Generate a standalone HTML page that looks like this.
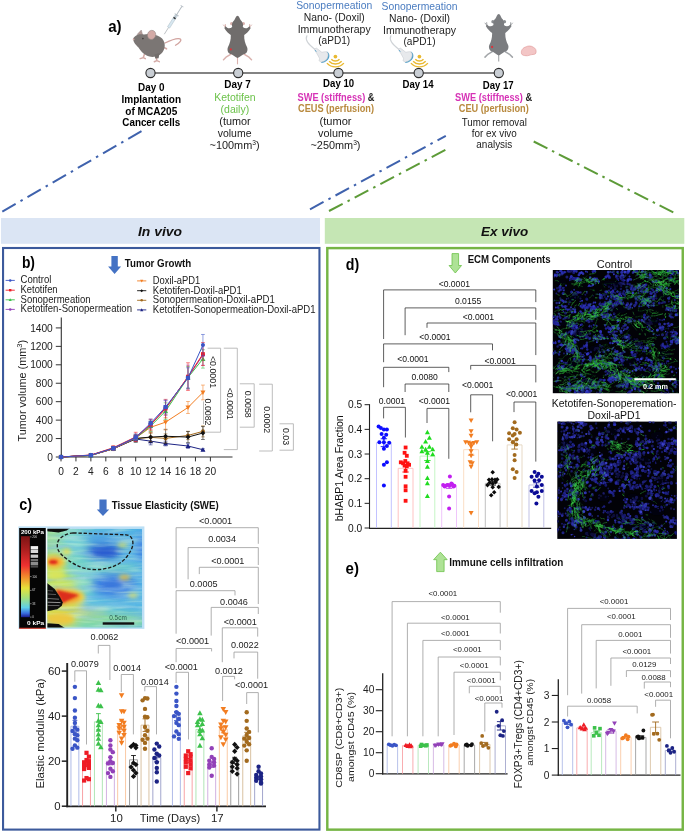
<!DOCTYPE html>
<html lang="en"><head><meta charset="utf-8"><title>Figure</title>
<style>html,body{margin:0;padding:0;background:#fff}svg{display:block;will-change:transform}text{font-family:"Liberation Sans",sans-serif}</style></head>
<body>
<svg width="685" height="832" viewBox="0 0 685 832" font-family='"Liberation Sans", sans-serif'>
<rect width="685" height="832" fill="#fff"/>
<text x="114.85" y="31.79" font-size="17" text-anchor="middle" fill="#000" font-weight="bold" textLength="13.4" lengthAdjust="spacingAndGlyphs" >a)</text>
<line x1="150.50" y1="73.00" x2="499.00" y2="73.00" stroke="#5a5a5a" stroke-width="1.6" />
<circle cx="150.5" cy="73" r="4.6" fill="#c9ced4" stroke="#2b2b2b" stroke-width="1.1"/>
<circle cx="238.2" cy="73" r="4.6" fill="#c9ced4" stroke="#2b2b2b" stroke-width="1.1"/>
<circle cx="338.4" cy="73" r="4.6" fill="#c9ced4" stroke="#2b2b2b" stroke-width="1.1"/>
<circle cx="418.7" cy="73" r="4.6" fill="#c9ced4" stroke="#2b2b2b" stroke-width="1.1"/>
<circle cx="498.8" cy="73" r="4.6" fill="#c9ced4" stroke="#2b2b2b" stroke-width="1.1"/>
<g id="mouse-side">
<path d="M165 43 C170 40.5 176 37.5 180 38.8 C182.3 40 179.5 43 175.5 45.2" fill="none" stroke="#d1a39f" stroke-width="1.3" stroke-linecap="round"/>
<path d="M144.5 54 L143.3 57.6 L140.2 58.6 M143.3 57.6 L145.3 58.7" fill="none" stroke="#d4aaa6" stroke-width="1.5" stroke-linecap="round"/>
<path d="M156.3 56 L156.8 60.6 L154.3 61.8 M156.8 60.6 L159.3 61.6" fill="none" stroke="#d4aaa6" stroke-width="1.5" stroke-linecap="round"/>
<path d="M163 47 L166.5 48.8" fill="none" stroke="#d4aaa6" stroke-width="1.6" stroke-linecap="round"/>
<path d="M137 34.5 L141.3 30 L142.8 35.5Z" fill="#b39a97" stroke="#8a7f7d" stroke-width="0.4"/>
<path d="M133.2 38.6 C134.5 35.2 139.5 33.2 144 34.6 C148 33.4 156 34.3 160.5 37.3 C165.3 40.5 166 47 163 51.5 C160.5 55.5 155 57.8 149.5 56.6 C145 55.6 141 52 138.5 47.6 C136.5 45.6 133 42.5 133.2 38.6Z" fill="#7b7674"/>
<path d="M154.5 54.5 L155.2 58.5 L158.6 58.3 L159.5 53Z" fill="#726d6b"/>
<ellipse cx="151.6" cy="34.9" rx="4.1" ry="4.6" transform="rotate(20 151.6 34.9)" fill="#d3aaa6" stroke="#8f8482" stroke-width="0.5"/>
<circle cx="142.9" cy="38.6" r="0.8" fill="#3c3837"/>
<circle cx="133.6" cy="39.3" r="0.9" fill="#d6a9a6"/>
<g transform="translate(164.3 34.2) rotate(-57.6)">
<line x1="0" y1="0" x2="8" y2="0" stroke="#8a9097" stroke-width="0.5"/>
<rect x="8" y="-1.25" width="14.5" height="2.5" fill="#d7e7f0" stroke="#9fb1bd" stroke-width="0.4"/>
<rect x="18.3" y="-1.25" width="1.6" height="2.5" fill="#33363a"/>
<rect x="22.5" y="-2.3" width="1" height="4.6" fill="#b9c1c8"/>
<line x1="20" y1="0" x2="33" y2="0" stroke="#b0b8bf" stroke-width="0.9"/>
<rect x="32.6" y="-1.6" width="0.9" height="3.2" fill="#b9c1c8"/>
</g></g>
<g>
<line x1="237.5" y1="56.7" x2="237.5" y2="64.3" stroke="#d9b1ad" stroke-width="1.1"/>
<path d="M231.0 54.2 L226.0 57.2 L223.5 59.7 M244.0 54.2 L249.0 57.2 L251.5 59.7" fill="none" stroke="#d9b1ad" stroke-width="1.5" stroke-linecap="round" stroke-linejoin="round"/>
<path d="M225.5 27.2 L223.5 25.0 M225.5 27.2 L225.3 24.5 M249.5 27.2 L251.5 25.0 M249.5 27.2 L249.7 24.5" fill="none" stroke="#d9b1ad" stroke-width="1" stroke-linecap="round"/>
<circle cx="231.6" cy="23.6" r="1.6" fill="#d9b1ad"/><circle cx="243.4" cy="23.6" r="1.6" fill="#d9b1ad"/>
<path d="M237.5 15.7 C239.1 16.0 239.7 18.7 240.8 20.3 C242.8 22.0 243.5 24.7 242.8 26.9 C245.0 29.0 247.5 28.7 249.5 26.3 L250.7 28.0 C249.0 31.2 246.3 33.7 244.2 35.0 C244.0 39.7 245.2 43.7 247.1 47.2 C248.3 50.7 246.5 54.0 243.5 54.3 C241.5 55.3 239.5 57.3 237.5 58.1 C235.5 57.3 233.5 55.3 231.5 54.3 C228.5 54.0 226.7 50.7 227.9 47.2 C229.8 43.7 231.0 39.7 230.8 35.0 C228.7 33.7 226.0 31.2 224.3 28.0 L225.5 26.3 C227.5 28.7 230.0 29.0 232.2 26.9 C231.5 24.7 232.2 22.0 234.2 20.3 C235.3 18.7 235.9 16.0 237.5 15.7Z" fill="#706d6c"/>
<circle cx="230.8" cy="49.4" r="1.15" fill="#d8343c"/>
</g>
<g>
<line x1="498.7" y1="54.2" x2="498.7" y2="61.6" stroke="#a3a6a9" stroke-width="1.1"/>
<path d="M492.3 51.7 L487.4 54.7 L485.0 57.1 M505.1 51.7 L510.0 54.7 L512.4 57.1" fill="none" stroke="#a3a6a9" stroke-width="1.5" stroke-linecap="round" stroke-linejoin="round"/>
<path d="M486.9 25.3 L485.0 23.1 M486.9 25.3 L486.7 22.6 M510.5 25.3 L512.4 23.1 M510.5 25.3 L510.7 22.6" fill="none" stroke="#a3a6a9" stroke-width="1" stroke-linecap="round"/>
<circle cx="492.9" cy="21.7" r="1.6" fill="#8b8e91"/><circle cx="504.5" cy="21.7" r="1.6" fill="#8b8e91"/>
<path d="M498.7 14.0 C500.3 14.3 500.9 16.9 501.9 18.5 C503.9 20.2 504.6 22.8 503.9 25.0 C506.1 27.0 508.5 26.7 510.5 24.4 L511.6 26.1 C510.0 29.2 507.3 31.6 505.3 32.9 C505.1 37.5 506.2 41.4 508.1 44.9 C509.3 48.3 507.5 51.5 504.6 51.8 C502.6 52.8 500.7 54.8 498.7 55.6 C496.7 54.8 494.8 52.8 492.8 51.8 C489.9 51.5 488.1 48.3 489.3 44.9 C491.2 41.4 492.3 37.5 492.1 32.9 C490.1 31.6 487.4 29.2 485.8 26.1 L486.9 24.4 C488.9 26.7 491.3 27.0 493.5 25.0 C492.8 22.8 493.5 20.2 495.5 18.5 C496.5 16.9 497.1 14.3 498.7 14.0Z" fill="#7b7d80"/>
<circle cx="492.1" cy="47.0" r="1.15" fill="#d8343c"/>
</g>
<path d="M521.6 53.8 C520.6 50.5 523 47.5 526 46.9 C528 45.6 531.5 45.8 533.2 47.2 C535.5 48 536.6 50.6 535.9 53 C535.4 54.6 533.5 54.3 531.8 54.6 C529.5 54.9 528.3 56 526 55.7 C524 55.5 522.2 55.4 521.6 53.8Z" fill="#f3c6c6" stroke="#e29c9c" stroke-width="0.7"/>
<g transform="translate(0 0)">
<path d="M306.9 35.8 C304.6 40 309 45 315 49.4" fill="none" stroke="#cfd3d7" stroke-width="1.2" stroke-linecap="round"/>
<path d="M327 51.6 C330.6 53.6 329.6 58.6 327.6 60 C325.6 61.8 323.4 63 321.4 63 L320.9 61.6 C324 60.6 327.4 57.6 327.6 54.8 C327.6 53.6 327 52.8 326.4 52.3Z" fill="#4e9fc9"/>
<path d="M314.4 49.2 L316.4 48.1 L321.9 52.3 C323.4 52 325.4 51.2 327 52 C328.6 53.6 328.4 56.4 327 58.8 C325.6 60.6 323.4 61.8 321.6 62 C320.2 61.9 319.2 61.3 319.1 60.4 C319.2 59.6 319.7 59 319.5 58.3 Z" fill="#e7e9ec" stroke="#c0c5ca" stroke-width="0.5"/>
<path d="M315.3 50.4 L316 51.4" stroke="#4e9fc9" stroke-width="0.9" fill="none" stroke-linecap="round"/>
<circle cx="335.4" cy="56.6" r="1.85" fill="#e9b931"/>
<path d="M339.49 59.18A5.5 5.5 0 0 1 331.31 59.18" fill="none" stroke="#e9b931" stroke-width="1.45"/>
<path d="M341.68 61.15A8.45 8.45 0 0 1 329.12 61.15" fill="none" stroke="#e9b931" stroke-width="1.45"/>
<path d="M343.87 63.13A11.4 11.4 0 0 1 326.93 63.13" fill="none" stroke="#e9b931" stroke-width="1.45"/>
</g>
<g transform="translate(84.0 0)">
<path d="M306.9 35.8 C304.6 40 309 45 315 49.4" fill="none" stroke="#cfd3d7" stroke-width="1.2" stroke-linecap="round"/>
<path d="M327 51.6 C330.6 53.6 329.6 58.6 327.6 60 C325.6 61.8 323.4 63 321.4 63 L320.9 61.6 C324 60.6 327.4 57.6 327.6 54.8 C327.6 53.6 327 52.8 326.4 52.3Z" fill="#4e9fc9"/>
<path d="M314.4 49.2 L316.4 48.1 L321.9 52.3 C323.4 52 325.4 51.2 327 52 C328.6 53.6 328.4 56.4 327 58.8 C325.6 60.6 323.4 61.8 321.6 62 C320.2 61.9 319.2 61.3 319.1 60.4 C319.2 59.6 319.7 59 319.5 58.3 Z" fill="#e7e9ec" stroke="#c0c5ca" stroke-width="0.5"/>
<path d="M315.3 50.4 L316 51.4" stroke="#4e9fc9" stroke-width="0.9" fill="none" stroke-linecap="round"/>
<circle cx="335.4" cy="56.6" r="1.85" fill="#e9b931"/>
<path d="M339.49 59.18A5.5 5.5 0 0 1 331.31 59.18" fill="none" stroke="#e9b931" stroke-width="1.45"/>
<path d="M341.68 61.15A8.45 8.45 0 0 1 329.12 61.15" fill="none" stroke="#e9b931" stroke-width="1.45"/>
<path d="M343.87 63.13A11.4 11.4 0 0 1 326.93 63.13" fill="none" stroke="#e9b931" stroke-width="1.45"/>
</g>
<text x="334.20" y="8.99" font-size="10.6" text-anchor="middle" fill="#4a7cc0" textLength="76" lengthAdjust="spacingAndGlyphs" >Sonopermeation</text>
<text x="334.20" y="20.79" font-size="10.6" text-anchor="middle" fill="#222" textLength="61" lengthAdjust="spacingAndGlyphs" >Nano- (Doxil)</text>
<text x="334.20" y="32.59" font-size="10.6" text-anchor="middle" fill="#222" textLength="73" lengthAdjust="spacingAndGlyphs" >Immunotherapy</text>
<text x="334.20" y="44.09" font-size="10.6" text-anchor="middle" fill="#222" textLength="32" lengthAdjust="spacingAndGlyphs" >(aPD1)</text>
<text x="419.50" y="9.99" font-size="10.6" text-anchor="middle" fill="#4a7cc0" textLength="76" lengthAdjust="spacingAndGlyphs" >Sonopermeation</text>
<text x="419.50" y="21.79" font-size="10.6" text-anchor="middle" fill="#222" textLength="61" lengthAdjust="spacingAndGlyphs" >Nano- (Doxil)</text>
<text x="419.50" y="33.59" font-size="10.6" text-anchor="middle" fill="#222" textLength="73" lengthAdjust="spacingAndGlyphs" >Immunotherapy</text>
<text x="419.50" y="45.09" font-size="10.6" text-anchor="middle" fill="#222" textLength="32" lengthAdjust="spacingAndGlyphs" >(aPD1)</text>
<text x="151.30" y="91.19" font-size="10.3" text-anchor="middle" fill="#000" font-weight="bold" textLength="26.5" lengthAdjust="spacingAndGlyphs" >Day 0</text>
<text x="151.30" y="102.89" font-size="10.3" text-anchor="middle" fill="#000" font-weight="bold" textLength="59.5" lengthAdjust="spacingAndGlyphs" >Implantation</text>
<text x="151.30" y="114.59" font-size="10.3" text-anchor="middle" fill="#000" font-weight="bold" textLength="52" lengthAdjust="spacingAndGlyphs" >of MCA205</text>
<text x="151.30" y="126.29" font-size="10.3" text-anchor="middle" fill="#000" font-weight="bold" textLength="58" lengthAdjust="spacingAndGlyphs" >Cancer cells</text>
<text x="237.60" y="88.29" font-size="10.3" text-anchor="middle" fill="#000" font-weight="bold" textLength="26.5" lengthAdjust="spacingAndGlyphs" >Day 7</text>
<text x="234.90" y="101.39" font-size="10.6" text-anchor="middle" fill="#6cc24a" textLength="41.5" lengthAdjust="spacingAndGlyphs" >Ketotifen</text>
<text x="234.90" y="112.79" font-size="10.6" text-anchor="middle" fill="#6cc24a" textLength="28.6" lengthAdjust="spacingAndGlyphs" >(daily)</text>
<text x="235.00" y="125.39" font-size="10.6" text-anchor="middle" fill="#222" textLength="31.4" lengthAdjust="spacingAndGlyphs" >(tumor</text>
<text x="234.60" y="137.09" font-size="10.6" text-anchor="middle" fill="#222" textLength="33.8" lengthAdjust="spacingAndGlyphs" >volume</text>
<text x="234.6" y="148.8" font-size="10.6" text-anchor="middle" fill="#222" textLength="50" lengthAdjust="spacingAndGlyphs">~100mm<tspan font-size="6.5" dy="-3.6">3</tspan><tspan dy="3.6">)</tspan></text>
<text x="338.60" y="87.49" font-size="10.3" text-anchor="middle" fill="#000" font-weight="bold" textLength="31" lengthAdjust="spacingAndGlyphs" >Day 10</text>
<text x="336" y="101.4" font-size="10.3" font-weight="bold" text-anchor="middle" textLength="77" lengthAdjust="spacingAndGlyphs"><tspan fill="#d633b6">SWE (stiffness)</tspan><tspan fill="#222"> &amp;</tspan></text>
<text x="336.00" y="112.29" font-size="10.3" text-anchor="middle" fill="#b98a3f" font-weight="bold" textLength="76" lengthAdjust="spacingAndGlyphs" >CEUS (perfusion)</text>
<text x="335.50" y="125.39" font-size="10.6" text-anchor="middle" fill="#222" textLength="32" lengthAdjust="spacingAndGlyphs" >(tumor</text>
<text x="335.50" y="136.99" font-size="10.6" text-anchor="middle" fill="#222" textLength="35" lengthAdjust="spacingAndGlyphs" >volume</text>
<text x="335.5" y="148.8" font-size="10.6" text-anchor="middle" fill="#222" textLength="50" lengthAdjust="spacingAndGlyphs">~250mm<tspan font-size="6.5" dy="-3.6">3</tspan><tspan dy="3.6">)</tspan></text>
<text x="418.00" y="87.89" font-size="10.3" text-anchor="middle" fill="#000" font-weight="bold" textLength="31" lengthAdjust="spacingAndGlyphs" >Day 14</text>
<text x="498.20" y="89.39" font-size="10.3" text-anchor="middle" fill="#000" font-weight="bold" textLength="31" lengthAdjust="spacingAndGlyphs" >Day 17</text>
<text x="493.6" y="101.2" font-size="10.3" font-weight="bold" text-anchor="middle" textLength="77" lengthAdjust="spacingAndGlyphs"><tspan fill="#d633b6">SWE (stiffness)</tspan><tspan fill="#222"> &amp;</tspan></text>
<text x="493.80" y="112.29" font-size="10.3" text-anchor="middle" fill="#b98a3f" font-weight="bold" textLength="70" lengthAdjust="spacingAndGlyphs" >CEU (perfusion)</text>
<text x="494.30" y="126.32" font-size="10.4" text-anchor="middle" fill="#222" textLength="65" lengthAdjust="spacingAndGlyphs" >Tumor removal</text>
<text x="494.30" y="137.42" font-size="10.4" text-anchor="middle" fill="#222" textLength="45" lengthAdjust="spacingAndGlyphs" >for ex vivo</text>
<text x="494.30" y="148.42" font-size="10.4" text-anchor="middle" fill="#222" textLength="36" lengthAdjust="spacingAndGlyphs" >analysis</text>
<line x1="2.30" y1="211.60" x2="141.50" y2="131.20" stroke="#3f62ad" stroke-width="2.0" stroke-dasharray="15.4 5.59 2.5 5.59"/>
<line x1="310.00" y1="209.30" x2="445.80" y2="135.80" stroke="#3f62ad" stroke-width="2.0" stroke-dasharray="15.4 5.55 2.5 5.55"/>
<line x1="329.00" y1="211.00" x2="446.40" y2="149.40" stroke="#5d9b38" stroke-width="2.0" stroke-dasharray="15.4 5.55 2.5 5.55"/>
<line x1="673.30" y1="212.40" x2="533.70" y2="141.50" stroke="#5d9b38" stroke-width="2.0" stroke-dasharray="15.4 5.17 2.5 5.17"/>
<rect x="1.00" y="218.00" width="319.00" height="25.80" fill="#dbe5f4" stroke="none" stroke-width="1" />
<rect x="324.80" y="218.00" width="359.50" height="25.80" fill="#c5e6b4" stroke="none" stroke-width="1" />
<text x="160.00" y="235.83" font-size="13.5" text-anchor="middle" fill="#111" font-weight="bold" font-style="italic" textLength="44" lengthAdjust="spacingAndGlyphs" >In vivo</text>
<text x="504.60" y="235.83" font-size="13.5" text-anchor="middle" fill="#111" font-weight="bold" font-style="italic" textLength="47" lengthAdjust="spacingAndGlyphs" >Ex vivo</text>
<rect x="3.05" y="248.00" width="316.40" height="581.60" fill="none" stroke="#3c5a9c" stroke-width="2.1" />
<rect x="327.30" y="248.10" width="355.45" height="581.55" fill="none" stroke="#76b545" stroke-width="2.45" />
<text x="28.45" y="267.69" font-size="17" text-anchor="middle" fill="#000" font-weight="bold" textLength="13.1" lengthAdjust="spacingAndGlyphs" >b)</text>
<path d="M111.40 256.00H117.80V266.50H121.10L114.60 274.00L108.10 266.50H111.40Z" fill="#4472c4" stroke="none" stroke-width="0.8"/>
<text x="124.80" y="267.18" font-size="10" text-anchor="start" fill="#111" font-weight="bold" textLength="66.4" lengthAdjust="spacingAndGlyphs" >Tumor Growth</text>
<line x1="5.60" y1="280.40" x2="14.80" y2="280.40" stroke="#3a55c6" stroke-width="0.9" />
<circle cx="10.20" cy="280.40" r="1.25" fill="#3a55c6"/>
<text x="20.60" y="283.49" font-size="10.3" text-anchor="start" fill="#222" textLength="30.8" lengthAdjust="spacingAndGlyphs" >Control</text>
<line x1="5.60" y1="290.20" x2="14.80" y2="290.20" stroke="#ee1c25" stroke-width="0.9" />
<rect x="9.01" y="289.01" width="2.38" height="2.38" fill="#ee1c25"/>
<text x="20.60" y="293.29" font-size="10.3" text-anchor="start" fill="#222" textLength="37" lengthAdjust="spacingAndGlyphs" >Ketotifen</text>
<line x1="5.60" y1="299.80" x2="14.80" y2="299.80" stroke="#3cc14b" stroke-width="0.9" />
<path d="M10.20 298.24L11.76 301.05H8.64Z" fill="#3cc14b"/>
<text x="20.60" y="302.89" font-size="10.3" text-anchor="start" fill="#222" textLength="70" lengthAdjust="spacingAndGlyphs" >Sonopermeation</text>
<line x1="5.60" y1="309.40" x2="14.80" y2="309.40" stroke="#9241b8" stroke-width="0.9" />
<circle cx="10.20" cy="309.40" r="1.25" fill="#9241b8"/>
<text x="20.60" y="312.49" font-size="10.3" text-anchor="start" fill="#222" textLength="111.4" lengthAdjust="spacingAndGlyphs" >Ketotifen-Sonopermeation</text>
<line x1="137.10" y1="280.90" x2="146.30" y2="280.90" stroke="#f27d21" stroke-width="0.9" />
<path d="M141.70 282.46L143.26 279.65H140.14Z" fill="#f27d21"/>
<text x="152.80" y="283.99" font-size="10.3" text-anchor="start" fill="#222" textLength="47.5" lengthAdjust="spacingAndGlyphs" >Doxil-aPD1</text>
<line x1="137.10" y1="290.70" x2="146.30" y2="290.70" stroke="#111111" stroke-width="0.9" />
<path d="M141.70 289.20L143.20 290.70L141.70 292.20L140.20 290.70Z" fill="#111111"/>
<text x="152.80" y="293.79" font-size="10.3" text-anchor="start" fill="#222" textLength="89" lengthAdjust="spacingAndGlyphs" >Ketotifen-Doxil-aPD1</text>
<line x1="137.10" y1="300.30" x2="146.30" y2="300.30" stroke="#a26a1e" stroke-width="0.9" />
<circle cx="141.70" cy="300.30" r="1.25" fill="#a26a1e"/>
<text x="152.80" y="303.39" font-size="10.3" text-anchor="start" fill="#222" textLength="122" lengthAdjust="spacingAndGlyphs" >Sonopermeation-Doxil-aPD1</text>
<line x1="137.10" y1="309.90" x2="146.30" y2="309.90" stroke="#1c2384" stroke-width="0.9" />
<path d="M141.70 308.34L143.26 311.15H140.14Z" fill="#1c2384"/>
<text x="152.80" y="312.99" font-size="10.3" text-anchor="start" fill="#222" textLength="162.8" lengthAdjust="spacingAndGlyphs" >Ketotifen-Sonopermeation-Doxil-aPD1</text>
<line x1="61.30" y1="317.50" x2="61.30" y2="457.60" stroke="#333" stroke-width="1.1" />
<line x1="60.80" y1="457.00" x2="232.50" y2="457.00" stroke="#333" stroke-width="1.1" />
<line x1="55.80" y1="457.00" x2="61.30" y2="457.00" stroke="#333" stroke-width="1.0" />
<text x="52.80" y="460.65" font-size="10.2" text-anchor="end" fill="#222" >0</text>
<line x1="55.80" y1="438.56" x2="61.30" y2="438.56" stroke="#333" stroke-width="1.0" />
<text x="52.80" y="442.21" font-size="10.2" text-anchor="end" fill="#222" >200</text>
<line x1="55.80" y1="420.12" x2="61.30" y2="420.12" stroke="#333" stroke-width="1.0" />
<text x="52.80" y="423.77" font-size="10.2" text-anchor="end" fill="#222" >400</text>
<line x1="55.80" y1="401.68" x2="61.30" y2="401.68" stroke="#333" stroke-width="1.0" />
<text x="52.80" y="405.33" font-size="10.2" text-anchor="end" fill="#222" >600</text>
<line x1="55.80" y1="383.24" x2="61.30" y2="383.24" stroke="#333" stroke-width="1.0" />
<text x="52.80" y="386.89" font-size="10.2" text-anchor="end" fill="#222" >800</text>
<line x1="55.80" y1="364.80" x2="61.30" y2="364.80" stroke="#333" stroke-width="1.0" />
<text x="52.80" y="368.45" font-size="10.2" text-anchor="end" fill="#222" >1000</text>
<line x1="55.80" y1="346.36" x2="61.30" y2="346.36" stroke="#333" stroke-width="1.0" />
<text x="52.80" y="350.01" font-size="10.2" text-anchor="end" fill="#222" >1200</text>
<line x1="55.80" y1="327.92" x2="61.30" y2="327.92" stroke="#333" stroke-width="1.0" />
<text x="52.80" y="331.57" font-size="10.2" text-anchor="end" fill="#222" >1400</text>
<line x1="61.00" y1="457.00" x2="61.00" y2="461.40" stroke="#333" stroke-width="1.0" />
<text x="61.00" y="475.45" font-size="10.2" text-anchor="middle" fill="#222" >0</text>
<line x1="75.94" y1="457.00" x2="75.94" y2="461.40" stroke="#333" stroke-width="1.0" />
<text x="75.94" y="475.45" font-size="10.2" text-anchor="middle" fill="#222" >2</text>
<line x1="90.88" y1="457.00" x2="90.88" y2="461.40" stroke="#333" stroke-width="1.0" />
<text x="90.88" y="475.45" font-size="10.2" text-anchor="middle" fill="#222" >4</text>
<line x1="105.82" y1="457.00" x2="105.82" y2="461.40" stroke="#333" stroke-width="1.0" />
<text x="105.82" y="475.45" font-size="10.2" text-anchor="middle" fill="#222" >6</text>
<line x1="120.76" y1="457.00" x2="120.76" y2="461.40" stroke="#333" stroke-width="1.0" />
<text x="120.76" y="475.45" font-size="10.2" text-anchor="middle" fill="#222" >8</text>
<line x1="135.70" y1="457.00" x2="135.70" y2="461.40" stroke="#333" stroke-width="1.0" />
<text x="135.70" y="475.45" font-size="10.2" text-anchor="middle" fill="#222" >10</text>
<line x1="150.64" y1="457.00" x2="150.64" y2="461.40" stroke="#333" stroke-width="1.0" />
<text x="150.64" y="475.45" font-size="10.2" text-anchor="middle" fill="#222" >12</text>
<line x1="165.58" y1="457.00" x2="165.58" y2="461.40" stroke="#333" stroke-width="1.0" />
<text x="165.58" y="475.45" font-size="10.2" text-anchor="middle" fill="#222" >14</text>
<line x1="180.52" y1="457.00" x2="180.52" y2="461.40" stroke="#333" stroke-width="1.0" />
<text x="180.52" y="475.45" font-size="10.2" text-anchor="middle" fill="#222" >16</text>
<line x1="195.46" y1="457.00" x2="195.46" y2="461.40" stroke="#333" stroke-width="1.0" />
<text x="195.46" y="475.45" font-size="10.2" text-anchor="middle" fill="#222" >18</text>
<line x1="210.40" y1="457.00" x2="210.40" y2="461.40" stroke="#333" stroke-width="1.0" />
<text x="210.40" y="475.45" font-size="10.2" text-anchor="middle" fill="#222" >20</text>
<text transform="translate(21.8 390.7) rotate(-90)" x="0" y="3.7" font-size="10.8" text-anchor="middle" fill="#222" textLength="101.5" lengthAdjust="spacingAndGlyphs">Tumor volume (mm<tspan font-size="7.5" dy="-3.5">3</tspan><tspan dy="3.5">)</tspan></text>
<path d="M90.88 454.79V455.89M88.98 454.79H92.78M88.98 455.89H92.78" fill="none" stroke="#1c2384" stroke-width="0.55"/>
<path d="M113.29 447.04V450.36M111.39 447.04H115.19M111.39 450.36H115.19" fill="none" stroke="#1c2384" stroke-width="0.55"/>
<path d="M135.70 435.79V442.25M133.80 435.79H137.60M133.80 442.25H137.60" fill="none" stroke="#1c2384" stroke-width="0.55"/>
<path d="M150.64 437.45V444.83M148.74 437.45H152.54M148.74 444.83H152.54" fill="none" stroke="#1c2384" stroke-width="0.55"/>
<path d="M165.58 441.23V445.84M163.68 441.23H167.48M163.68 445.84H167.48" fill="none" stroke="#1c2384" stroke-width="0.55"/>
<path d="M187.99 443.72V448.33M186.09 443.72H189.89M186.09 448.33H189.89" fill="none" stroke="#1c2384" stroke-width="0.55"/>
<path d="M202.93 448.79V450.64M201.03 448.79H204.83M201.03 450.64H204.83" fill="none" stroke="#1c2384" stroke-width="0.55"/>
<polyline points="61.00,457.00 90.88,455.34 113.29,448.70 135.70,439.02 150.64,441.14 165.58,443.54 187.99,446.03 202.93,449.72" fill="none" stroke="#1c2384" stroke-width="1.0"/>
<path d="M61.00 454.50L63.50 459.00H58.50Z" fill="#1c2384"/>
<path d="M90.88 452.84L93.38 457.34H88.38Z" fill="#1c2384"/>
<path d="M113.29 446.20L115.79 450.70H110.79Z" fill="#1c2384"/>
<path d="M135.70 436.52L138.20 441.02H133.20Z" fill="#1c2384"/>
<path d="M150.64 438.64L153.14 443.14H148.14Z" fill="#1c2384"/>
<path d="M165.58 441.04L168.08 445.54H163.08Z" fill="#1c2384"/>
<path d="M187.99 443.53L190.49 448.03H185.49Z" fill="#1c2384"/>
<path d="M202.93 447.22L205.43 451.72H200.43Z" fill="#1c2384"/>
<path d="M90.88 454.79V455.89M88.98 454.79H92.78M88.98 455.89H92.78" fill="none" stroke="#a26a1e" stroke-width="0.55"/>
<path d="M113.29 447.23V450.55M111.39 447.23H115.19M111.39 450.55H115.19" fill="none" stroke="#a26a1e" stroke-width="0.55"/>
<path d="M135.70 435.52V441.97M133.80 435.52H137.60M133.80 441.97H137.60" fill="none" stroke="#a26a1e" stroke-width="0.55"/>
<path d="M150.64 433.21V441.51M148.74 433.21H152.54M148.74 441.51H152.54" fill="none" stroke="#a26a1e" stroke-width="0.55"/>
<path d="M165.58 433.77V442.99M163.68 433.77H167.48M163.68 442.99H167.48" fill="none" stroke="#a26a1e" stroke-width="0.55"/>
<path d="M187.99 431.28V439.57M186.09 431.28H189.89M186.09 439.57H189.89" fill="none" stroke="#a26a1e" stroke-width="0.55"/>
<path d="M202.93 425.84V436.90M201.03 425.84H204.83M201.03 436.90H204.83" fill="none" stroke="#a26a1e" stroke-width="0.55"/>
<polyline points="61.00,457.00 90.88,455.34 113.29,448.89 135.70,438.74 150.64,437.36 165.58,438.38 187.99,435.43 202.93,431.37" fill="none" stroke="#a26a1e" stroke-width="1.0"/>
<circle cx="61.00" cy="457.00" r="2.00" fill="#a26a1e"/>
<circle cx="90.88" cy="455.34" r="2.00" fill="#a26a1e"/>
<circle cx="113.29" cy="448.89" r="2.00" fill="#a26a1e"/>
<circle cx="135.70" cy="438.74" r="2.00" fill="#a26a1e"/>
<circle cx="150.64" cy="437.36" r="2.00" fill="#a26a1e"/>
<circle cx="165.58" cy="438.38" r="2.00" fill="#a26a1e"/>
<circle cx="187.99" cy="435.43" r="2.00" fill="#a26a1e"/>
<circle cx="202.93" cy="431.37" r="2.00" fill="#a26a1e"/>
<path d="M90.88 454.79V455.89M88.98 454.79H92.78M88.98 455.89H92.78" fill="none" stroke="#111111" stroke-width="0.55"/>
<path d="M113.29 447.04V450.36M111.39 447.04H115.19M111.39 450.36H115.19" fill="none" stroke="#111111" stroke-width="0.55"/>
<path d="M135.70 435.15V441.60M133.80 435.15H137.60M133.80 441.60H137.60" fill="none" stroke="#111111" stroke-width="0.55"/>
<path d="M150.64 432.01V442.16M148.74 432.01H152.54M148.74 442.16H152.54" fill="none" stroke="#111111" stroke-width="0.55"/>
<path d="M165.58 429.34V443.17M163.68 429.34H167.48M163.68 443.17H167.48" fill="none" stroke="#111111" stroke-width="0.55"/>
<path d="M187.99 431.55V442.62M186.09 431.55H189.89M186.09 442.62H189.89" fill="none" stroke="#111111" stroke-width="0.55"/>
<path d="M202.93 426.57V439.48M201.03 426.57H204.83M201.03 439.48H204.83" fill="none" stroke="#111111" stroke-width="0.55"/>
<polyline points="61.00,457.00 90.88,455.34 113.29,448.70 135.70,438.38 150.64,437.08 165.58,436.25 187.99,437.08 202.93,433.03" fill="none" stroke="#111111" stroke-width="1.0"/>
<path d="M61.00 454.60L63.40 457.00L61.00 459.40L58.60 457.00Z" fill="#111111"/>
<path d="M90.88 452.94L93.28 455.34L90.88 457.74L88.48 455.34Z" fill="#111111"/>
<path d="M113.29 446.30L115.69 448.70L113.29 451.10L110.89 448.70Z" fill="#111111"/>
<path d="M135.70 435.98L138.10 438.38L135.70 440.78L133.30 438.38Z" fill="#111111"/>
<path d="M150.64 434.68L153.04 437.08L150.64 439.48L148.24 437.08Z" fill="#111111"/>
<path d="M165.58 433.86L167.98 436.25L165.58 438.65L163.18 436.25Z" fill="#111111"/>
<path d="M187.99 434.68L190.39 437.08L187.99 439.48L185.59 437.08Z" fill="#111111"/>
<path d="M202.93 430.63L205.33 433.03L202.93 435.43L200.53 433.03Z" fill="#111111"/>
<path d="M90.88 454.79V455.89M88.98 454.79H92.78M88.98 455.89H92.78" fill="none" stroke="#f27d21" stroke-width="0.55"/>
<path d="M113.29 447.04V450.36M111.39 447.04H115.19M111.39 450.36H115.19" fill="none" stroke="#f27d21" stroke-width="0.55"/>
<path d="M135.70 434.69V441.14M133.80 434.69H137.60M133.80 441.14H137.60" fill="none" stroke="#f27d21" stroke-width="0.55"/>
<path d="M150.64 421.78V432.84M148.74 421.78H152.54M148.74 432.84H152.54" fill="none" stroke="#f27d21" stroke-width="0.55"/>
<path d="M165.58 414.31V429.99M163.68 414.31H167.48M163.68 429.99H167.48" fill="none" stroke="#f27d21" stroke-width="0.55"/>
<path d="M187.99 401.50V413.48M186.09 401.50H189.89M186.09 413.48H189.89" fill="none" stroke="#f27d21" stroke-width="0.55"/>
<path d="M202.93 385.08V399.84M201.03 385.08H204.83M201.03 399.84H204.83" fill="none" stroke="#f27d21" stroke-width="0.55"/>
<polyline points="61.00,457.00 90.88,455.34 113.29,448.70 135.70,437.91 150.64,427.31 165.58,422.15 187.99,407.49 202.93,392.46" fill="none" stroke="#f27d21" stroke-width="1.0"/>
<path d="M61.00 459.50L63.50 455.00H58.50Z" fill="#f27d21"/>
<path d="M90.88 457.84L93.38 453.34H88.38Z" fill="#f27d21"/>
<path d="M113.29 451.20L115.79 446.70H110.79Z" fill="#f27d21"/>
<path d="M135.70 440.41L138.20 435.91H133.20Z" fill="#f27d21"/>
<path d="M150.64 429.81L153.14 425.31H148.14Z" fill="#f27d21"/>
<path d="M165.58 424.65L168.08 420.15H163.08Z" fill="#f27d21"/>
<path d="M187.99 409.99L190.49 405.49H185.49Z" fill="#f27d21"/>
<path d="M202.93 394.96L205.43 390.46H200.43Z" fill="#f27d21"/>
<path d="M90.88 454.79V455.89M88.98 454.79H92.78M88.98 455.89H92.78" fill="none" stroke="#3cc14b" stroke-width="0.55"/>
<path d="M113.29 446.40V450.08M111.39 446.40H115.19M111.39 450.08H115.19" fill="none" stroke="#3cc14b" stroke-width="0.55"/>
<path d="M135.70 434.41V441.79M133.80 434.41H137.60M133.80 441.79H137.60" fill="none" stroke="#3cc14b" stroke-width="0.55"/>
<path d="M150.64 421.04V431.18M148.74 421.04H152.54M148.74 431.18H152.54" fill="none" stroke="#3cc14b" stroke-width="0.55"/>
<path d="M165.58 402.79V419.38M163.68 402.79H167.48M163.68 419.38H167.48" fill="none" stroke="#3cc14b" stroke-width="0.55"/>
<path d="M187.99 366.46V388.59M186.09 366.46H189.89M186.09 388.59H189.89" fill="none" stroke="#3cc14b" stroke-width="0.55"/>
<path d="M202.93 349.68V368.12M201.03 349.68H204.83M201.03 368.12H204.83" fill="none" stroke="#3cc14b" stroke-width="0.55"/>
<polyline points="61.00,457.00 90.88,455.34 113.29,448.24 135.70,438.10 150.64,426.11 165.58,411.08 187.99,377.52 202.93,358.90" fill="none" stroke="#3cc14b" stroke-width="1.0"/>
<path d="M61.00 454.50L63.50 459.00H58.50Z" fill="#3cc14b"/>
<path d="M90.88 452.84L93.38 457.34H88.38Z" fill="#3cc14b"/>
<path d="M113.29 445.74L115.79 450.24H110.79Z" fill="#3cc14b"/>
<path d="M135.70 435.60L138.20 440.10H133.20Z" fill="#3cc14b"/>
<path d="M150.64 423.61L153.14 428.11H148.14Z" fill="#3cc14b"/>
<path d="M165.58 408.58L168.08 413.08H163.08Z" fill="#3cc14b"/>
<path d="M187.99 375.02L190.49 379.52H185.49Z" fill="#3cc14b"/>
<path d="M202.93 356.40L205.43 360.90H200.43Z" fill="#3cc14b"/>
<path d="M90.88 454.60V455.71M88.98 454.60H92.78M88.98 455.71H92.78" fill="none" stroke="#9241b8" stroke-width="0.55"/>
<path d="M113.29 446.86V450.18M111.39 446.86H115.19M111.39 450.18H115.19" fill="none" stroke="#9241b8" stroke-width="0.55"/>
<path d="M135.70 434.23V441.60M133.80 434.23H137.60M133.80 441.60H137.60" fill="none" stroke="#9241b8" stroke-width="0.55"/>
<path d="M150.64 419.94V429.16M148.74 419.94H152.54M148.74 429.16H152.54" fill="none" stroke="#9241b8" stroke-width="0.55"/>
<path d="M165.58 400.76V415.51M163.68 400.76H167.48M163.68 415.51H167.48" fill="none" stroke="#9241b8" stroke-width="0.55"/>
<path d="M187.99 365.17V389.14M186.09 365.17H189.89M186.09 389.14H189.89" fill="none" stroke="#9241b8" stroke-width="0.55"/>
<path d="M202.93 344.98V365.26M201.03 344.98H204.83M201.03 365.26H204.83" fill="none" stroke="#9241b8" stroke-width="0.55"/>
<polyline points="61.00,457.00 90.88,455.16 113.29,448.52 135.70,437.91 150.64,424.55 165.58,408.13 187.99,377.15 202.93,355.12" fill="none" stroke="#9241b8" stroke-width="1.0"/>
<circle cx="61.00" cy="457.00" r="2.00" fill="#9241b8"/>
<circle cx="90.88" cy="455.16" r="2.00" fill="#9241b8"/>
<circle cx="113.29" cy="448.52" r="2.00" fill="#9241b8"/>
<circle cx="135.70" cy="437.91" r="2.00" fill="#9241b8"/>
<circle cx="150.64" cy="424.55" r="2.00" fill="#9241b8"/>
<circle cx="165.58" cy="408.13" r="2.00" fill="#9241b8"/>
<circle cx="187.99" cy="377.15" r="2.00" fill="#9241b8"/>
<circle cx="202.93" cy="355.12" r="2.00" fill="#9241b8"/>
<path d="M90.88 454.42V455.52M88.98 454.42H92.78M88.98 455.52H92.78" fill="none" stroke="#ee1c25" stroke-width="0.55"/>
<path d="M113.29 445.75V449.81M111.39 445.75H115.19M111.39 449.81H115.19" fill="none" stroke="#ee1c25" stroke-width="0.55"/>
<path d="M135.70 432.29V441.51M133.80 432.29H137.60M133.80 441.51H137.60" fill="none" stroke="#ee1c25" stroke-width="0.55"/>
<path d="M150.64 419.20V430.26M148.74 419.20H152.54M148.74 430.26H152.54" fill="none" stroke="#ee1c25" stroke-width="0.55"/>
<path d="M165.58 399.38V417.82M163.68 399.38H167.48M163.68 417.82H167.48" fill="none" stroke="#ee1c25" stroke-width="0.55"/>
<path d="M187.99 362.77V390.43M186.09 362.77H189.89M186.09 390.43H189.89" fill="none" stroke="#ee1c25" stroke-width="0.55"/>
<path d="M202.93 342.49V365.54M201.03 342.49H204.83M201.03 365.54H204.83" fill="none" stroke="#ee1c25" stroke-width="0.55"/>
<polyline points="61.00,457.00 90.88,454.97 113.29,447.78 135.70,436.90 150.64,424.73 165.58,408.60 187.99,376.60 202.93,354.01" fill="none" stroke="#ee1c25" stroke-width="1.0"/>
<rect x="59.10" y="455.10" width="3.80" height="3.80" fill="#ee1c25"/>
<rect x="88.98" y="453.07" width="3.80" height="3.80" fill="#ee1c25"/>
<rect x="111.39" y="445.88" width="3.80" height="3.80" fill="#ee1c25"/>
<rect x="133.80" y="435.00" width="3.80" height="3.80" fill="#ee1c25"/>
<rect x="148.74" y="422.83" width="3.80" height="3.80" fill="#ee1c25"/>
<rect x="163.68" y="406.70" width="3.80" height="3.80" fill="#ee1c25"/>
<rect x="186.09" y="374.70" width="3.80" height="3.80" fill="#ee1c25"/>
<rect x="201.03" y="352.11" width="3.80" height="3.80" fill="#ee1c25"/>
<path d="M90.88 454.60V455.71M88.98 454.60H92.78M88.98 455.71H92.78" fill="none" stroke="#3a55c6" stroke-width="0.55"/>
<path d="M113.29 446.58V449.90M111.39 446.58H115.19M111.39 449.90H115.19" fill="none" stroke="#3a55c6" stroke-width="0.55"/>
<path d="M135.70 434.13V440.59M133.80 434.13H137.60M133.80 440.59H137.60" fill="none" stroke="#3a55c6" stroke-width="0.55"/>
<path d="M150.64 419.11V427.40M148.74 419.11H152.54M148.74 427.40H152.54" fill="none" stroke="#3a55c6" stroke-width="0.55"/>
<path d="M165.58 400.11V413.94M163.68 400.11H167.48M163.68 413.94H167.48" fill="none" stroke="#3a55c6" stroke-width="0.55"/>
<path d="M187.99 367.75V388.03M186.09 367.75H189.89M186.09 388.03H189.89" fill="none" stroke="#3a55c6" stroke-width="0.55"/>
<path d="M202.93 334.47V355.67M201.03 334.47H204.83M201.03 355.67H204.83" fill="none" stroke="#3a55c6" stroke-width="0.55"/>
<polyline points="61.00,457.00 90.88,455.16 113.29,448.24 135.70,437.36 150.64,423.25 165.58,407.03 187.99,377.89 202.93,345.07" fill="none" stroke="#3a55c6" stroke-width="1.0"/>
<circle cx="61.00" cy="457.00" r="2.00" fill="#3a55c6"/>
<circle cx="90.88" cy="455.16" r="2.00" fill="#3a55c6"/>
<circle cx="113.29" cy="448.24" r="2.00" fill="#3a55c6"/>
<circle cx="135.70" cy="437.36" r="2.00" fill="#3a55c6"/>
<circle cx="150.64" cy="423.25" r="2.00" fill="#3a55c6"/>
<circle cx="165.58" cy="407.03" r="2.00" fill="#3a55c6"/>
<circle cx="187.99" cy="377.89" r="2.00" fill="#3a55c6"/>
<circle cx="202.93" cy="345.07" r="2.00" fill="#3a55c6"/>
<rect x="58.91" y="454.91" width="4.18" height="4.18" fill="#3a55c6"/>
<rect x="88.79" y="453.07" width="4.18" height="4.18" fill="#3a55c6"/>
<rect x="111.20" y="446.15" width="4.18" height="4.18" fill="#3a55c6"/>
<rect x="133.61" y="435.27" width="4.18" height="4.18" fill="#3a55c6"/>
<rect x="148.55" y="421.16" width="4.18" height="4.18" fill="#3a55c6"/>
<rect x="163.49" y="404.94" width="4.18" height="4.18" fill="#3a55c6"/>
<rect x="185.90" y="375.80" width="4.18" height="4.18" fill="#3a55c6"/>
<path d="M207.6 348.2H220.6V432.2H205" fill="none" stroke="#b5b5b5" stroke-width="0.9"/>
<line x1="203.50" y1="401.40" x2="203.50" y2="424.00" stroke="#b5b5b5" stroke-width="0.9" />
<path d="M223.8 348.2H237.3V449.6H223.8" fill="none" stroke="#b5b5b5" stroke-width="0.9"/>
<path d="M239.8 383.8H254.2V427.2H239.8" fill="none" stroke="#b5b5b5" stroke-width="0.9"/>
<path d="M259.2 384.2H272.3V451H259.2" fill="none" stroke="#b5b5b5" stroke-width="0.9"/>
<path d="M279.5 423.8H293.4V450.2H279.5" fill="none" stroke="#b5b5b5" stroke-width="0.9"/>
<text transform="translate(213.30 372.00) rotate(90)" x="0" y="3.15" font-size="8.8" text-anchor="middle" fill="#222" >&lt;0.0001</text>
<text transform="translate(208.40 412.00) rotate(90)" x="0" y="3.15" font-size="8.8" text-anchor="middle" fill="#222" >0.0082</text>
<text transform="translate(230.60 403.70) rotate(90)" x="0" y="3.15" font-size="8.8" text-anchor="middle" fill="#222" >&lt;0.0001</text>
<text transform="translate(248.50 404.30) rotate(90)" x="0" y="3.15" font-size="8.8" text-anchor="middle" fill="#222" >0.0058</text>
<text transform="translate(267.10 419.60) rotate(90)" x="0" y="3.15" font-size="8.8" text-anchor="middle" fill="#222" >0.0002</text>
<text transform="translate(286.50 436.60) rotate(90)" x="0" y="3.15" font-size="8.8" text-anchor="middle" fill="#222" >0.03</text>
<text x="25.75" y="509.79" font-size="17" text-anchor="middle" fill="#000" font-weight="bold" textLength="12.9" lengthAdjust="spacingAndGlyphs" >c)</text>
<path d="M99.40 499.40H106.60V509.50H109.20L103.00 516.00L96.80 509.50H99.40Z" fill="#4472c4" stroke="none" stroke-width="0.8"/>
<text x="111.70" y="508.98" font-size="10" text-anchor="start" fill="#111" font-weight="bold" textLength="107" lengthAdjust="spacingAndGlyphs" >Tissue Elasticity (SWE)</text>
<defs><filter id="bl4" x="-30%" y="-30%" width="160%" height="160%"><feGaussianBlur stdDeviation="4"/></filter><filter id="bl2" x="-30%" y="-30%" width="160%" height="160%"><feGaussianBlur stdDeviation="1.9"/></filter><filter id="bl1" x="-30%" y="-30%" width="160%" height="160%"><feGaussianBlur stdDeviation="0.9"/></filter><filter id="bl05" x="-10%" y="-10%" width="120%" height="120%"><feGaussianBlur stdDeviation="0.45"/></filter><linearGradient id="swebase" x1="0" x2="1" y1="0" y2="0"><stop offset="0" stop-color="#9bdc96"/><stop offset="0.25" stop-color="#78d6c0"/><stop offset="0.55" stop-color="#5cc4de"/><stop offset="1" stop-color="#4daee6"/></linearGradient><linearGradient id="cbar" x1="0" x2="0" y1="0" y2="1"><stop offset="0" stop-color="#7c1414"/><stop offset="0.18" stop-color="#b02020"/><stop offset="0.36" stop-color="#ee3030"/><stop offset="0.5" stop-color="#f28a2c"/><stop offset="0.64" stop-color="#e6e23a"/><stop offset="0.76" stop-color="#a5e07a"/><stop offset="0.88" stop-color="#5fd0e8"/><stop offset="0.95" stop-color="#3a6fe0"/><stop offset="1" stop-color="#1a1a90"/></linearGradient><clipPath id="sweclip"><rect x="47.4" y="528.8" width="94.6" height="98.8"/></clipPath><filter id="swen1" x="0" y="0" width="100%" height="100%"><feTurbulence type="fractalNoise" baseFrequency="0.035 0.3" numOctaves="2" seed="4" result="n"/><feColorMatrix in="n" type="matrix" values="0 0 0 0 0.70  0 0 0 0 0.93  0 0 0 0 0.72  2.6 0 0 0 -1.05"/></filter><filter id="swen2" x="0" y="0" width="100%" height="100%"><feTurbulence type="fractalNoise" baseFrequency="0.03 0.22" numOctaves="2" seed="9" result="n"/><feColorMatrix in="n" type="matrix" values="0 0 0 0 0.20  0 0 0 0 0.46  0 0 0 0 0.86  0 2.4 0 0 -1.0"/></filter></defs>
<rect x="18.40" y="526.40" width="126.00" height="102.50" fill="#bcdff5" stroke="none" stroke-width="1" />
<rect x="19.20" y="528.00" width="26.60" height="100.20" fill="#050505" stroke="none" stroke-width="1" />
<rect x="45.90" y="527.60" width="1.40" height="100.90" fill="#f4f8fb" stroke="none" stroke-width="1" />
<line x1="19.20" y1="628.30" x2="45.80" y2="628.30" stroke="#d33a2c" stroke-width="1.1" />
<rect x="21.00" y="536.20" width="8.80" height="81.00" fill="url(#cbar)" stroke="none" stroke-width="1" />
<rect x="30.70" y="546.10" width="7.40" height="3.40" fill="#f2f2f2" stroke="none" stroke-width="1" filter="url(#bl05)"/>
<rect x="30.70" y="549.80" width="7.40" height="3.20" fill="#d8d8d8" stroke="none" stroke-width="1" filter="url(#bl05)"/>
<rect x="30.70" y="554.60" width="7.40" height="3.20" fill="#c9c9c9" stroke="none" stroke-width="1" filter="url(#bl05)"/>
<rect x="30.70" y="559.00" width="7.40" height="2.20" fill="#6e6e6e" stroke="none" stroke-width="1" filter="url(#bl05)"/>
<rect x="30.70" y="561.80" width="7.40" height="3.60" fill="#8c8c8c" stroke="none" stroke-width="1" filter="url(#bl05)"/>
<rect x="30.70" y="566.00" width="7.40" height="1.60" fill="#4a4a4a" stroke="none" stroke-width="1" filter="url(#bl05)"/>
<text x="32.40" y="533.63" font-size="5.4" text-anchor="middle" fill="#fff" font-weight="bold" textLength="23" lengthAdjust="spacingAndGlyphs" >200 kPa</text>
<text x="35.60" y="624.73" font-size="5.4" text-anchor="middle" fill="#fff" font-weight="bold" textLength="17" lengthAdjust="spacingAndGlyphs" >0 kPa</text>
<line x1="30.00" y1="536.90" x2="31.60" y2="536.90" stroke="#ddd" stroke-width="0.5" />
<text x="32.20" y="537.94" font-size="2.9" text-anchor="start" fill="#ddd" >200</text>
<line x1="30.00" y1="576.60" x2="31.60" y2="576.60" stroke="#ddd" stroke-width="0.5" />
<text x="32.20" y="577.64" font-size="2.9" text-anchor="start" fill="#ddd" >100</text>
<line x1="30.00" y1="590.40" x2="31.60" y2="590.40" stroke="#ddd" stroke-width="0.5" />
<text x="32.20" y="591.44" font-size="2.9" text-anchor="start" fill="#ddd" >67</text>
<line x1="30.00" y1="603.70" x2="31.60" y2="603.70" stroke="#ddd" stroke-width="0.5" />
<text x="32.20" y="604.74" font-size="2.9" text-anchor="start" fill="#ddd" >33</text>
<line x1="30.00" y1="617.10" x2="31.60" y2="617.10" stroke="#ddd" stroke-width="0.5" />
<text x="32.20" y="618.14" font-size="2.9" text-anchor="start" fill="#ddd" >0</text>
<g clip-path="url(#sweclip)">
<rect x="47.40" y="528.80" width="94.60" height="98.80" fill="url(#swebase)" stroke="none" stroke-width="1" />
<g filter="url(#bl4)">
<ellipse cx="54" cy="568" rx="11" ry="14" fill="#c8e258"/>
<ellipse cx="62" cy="584" rx="18" ry="9" fill="#c4e25c"/>
<ellipse cx="70" cy="614" rx="36" ry="13" fill="#d6dc50"/>
<ellipse cx="112" cy="621" rx="40" ry="8" fill="#86daa0"/>
<ellipse cx="88" cy="584" rx="14" ry="6" fill="#8cdcbc"/>
<ellipse cx="104" cy="551.5" rx="19" ry="8" fill="#2c60d2"/>
<ellipse cx="114" cy="585" rx="23" ry="13" fill="#3c80e2"/>
<ellipse cx="143" cy="548" rx="7" ry="13" fill="#3b7fe2"/>
<ellipse cx="100" cy="537" rx="26" ry="5" fill="#4ea2e4"/>
<ellipse cx="139" cy="600" rx="8" ry="14" fill="#58b8e4"/>
<ellipse cx="74" cy="542" rx="12" ry="8" fill="#74d2d6"/>
<ellipse cx="108" cy="568" rx="34" ry="3.2" fill="#7fdcbc"/>
<ellipse cx="96" cy="604" rx="16" ry="7" fill="#5cc0e2"/>
<ellipse cx="52" cy="540" rx="6" ry="8" fill="#9cdc9c"/>
</g>
<rect x="47.4" y="528.8" width="94.6" height="98.8" filter="url(#swen1)" opacity="0.42"/>
<rect x="47.4" y="528.8" width="94.6" height="98.8" filter="url(#swen2)" opacity="0.42"/>
<g filter="url(#bl2)">
<ellipse cx="105" cy="552.5" rx="12" ry="3.6" fill="#2a5cd0"/>
<ellipse cx="113" cy="584.5" rx="10" ry="3.6" fill="#3874dc"/>
<ellipse cx="54" cy="562" rx="11" ry="6.5" fill="#f0d040"/>
<ellipse cx="54" cy="562" rx="7.5" ry="4.2" fill="#f59a2e"/>
<ellipse cx="68" cy="597" rx="17" ry="8.5" fill="#ecd845"/>
<ellipse cx="67" cy="597" rx="13" ry="6" fill="#f59a2e"/>
<ellipse cx="66.6" cy="551.4" rx="4" ry="3" fill="#e6de52"/>
<ellipse cx="124.4" cy="577.5" rx="6" ry="2.4" fill="#e9e04e"/>
<ellipse cx="133" cy="595.5" rx="4.6" ry="1.8" fill="#dfe056"/>
<ellipse cx="122.4" cy="545.2" rx="5" ry="1.7" fill="#dfe056"/>
<ellipse cx="60" cy="619" rx="14" ry="6" fill="#ecc840"/>
<ellipse cx="56" cy="575" rx="9" ry="4" fill="#d8e45a"/>
<path d="M55 588L82 595L62 605Z" fill="#f08a2a"/>
<ellipse cx="124.8" cy="577.6" rx="2.6" ry="1.1" fill="#f07a22"/>
</g>
<g filter="url(#bl1)">
<path d="M56 590L79 595L62.5 603Z" fill="#dc2e1a"/>
<ellipse cx="53.2" cy="562" rx="4.2" ry="2.1" fill="#e02a1c"/>
</g>
<g filter="url(#bl1)" opacity="0.35">
<line x1="56.00" y1="581.00" x2="86.00" y2="578.50" stroke="#dff7ee" stroke-width="1.1" />
<line x1="58.00" y1="586.00" x2="92.00" y2="582.00" stroke="#dff7ee" stroke-width="1.1" />
<line x1="70.00" y1="575.00" x2="100.00" y2="573.00" stroke="#dff7ee" stroke-width="1.1" />
<line x1="85.00" y1="590.00" x2="125.00" y2="588.50" stroke="#dff7ee" stroke-width="1.1" />
<line x1="90.00" y1="607.00" x2="135.00" y2="606.00" stroke="#dff7ee" stroke-width="1.1" />
</g>
<g filter="url(#bl05)">
<path d="M47 528H70.2L66.6 530.4L58.6 532.5L47 531.3Z" fill="#0a0a0a"/>
<path d="M47 583L54.7 589.1L60 597L62.7 602.3L61.9 605.8L57.3 609.2L47 611.2Z" fill="#0c0c0c"/>
<path d="M47 623.3L58.6 624.1L64.8 628H47Z" fill="#0a0a0a"/>
<line x1="47.50" y1="594.00" x2="56.00" y2="594.60" stroke="#6a6a6a" stroke-width="0.8" />
<line x1="47.50" y1="598.50" x2="59.00" y2="599.20" stroke="#8a8a8a" stroke-width="0.8" />
<line x1="47.50" y1="602.20" x2="60.50" y2="602.60" stroke="#b5b5b5" stroke-width="0.8" />
<line x1="47.50" y1="605.40" x2="59.50" y2="605.60" stroke="#7a7a7a" stroke-width="0.8" />
<line x1="47.50" y1="590.50" x2="53.00" y2="591.00" stroke="#555" stroke-width="0.8" />
</g>
<path d="M73.2 532.9L100 533.9L126 534.8C129.8 535 132.2 537.6 132.8 541.6C133.2 545 132.4 547.6 131 550C129 554.6 125 560 118.4 564C113 567 108 568.4 102 569.2C97 569.9 90 569.6 85 568.4C78 566.4 72 563 67.9 560C63 556.4 59.6 553 58.2 550C57 547.4 57 544.6 58 541.5C59.4 538.4 63 535.6 67 534.2C69 533.4 71 533 73.2 532.9Z" fill="none" stroke="#1c1c1c" stroke-width="1.35" stroke-dasharray="3.4 1.8"/>
<rect x="102.70" y="622.30" width="31.50" height="2.40" fill="#111" stroke="none" stroke-width="1" />
<text x="118.00" y="620.25" font-size="7.4" text-anchor="middle" fill="#2b5f55" textLength="17.5" lengthAdjust="spacingAndGlyphs" >0.5cm</text>
</g>
<line x1="67.20" y1="663.00" x2="67.20" y2="807.20" stroke="#222" stroke-width="1.9" />
<line x1="66.30" y1="806.40" x2="266.00" y2="806.40" stroke="#222" stroke-width="1.7" />
<line x1="61.80" y1="806.20" x2="67.20" y2="806.20" stroke="#222" stroke-width="1.5" />
<text x="60.70" y="810.28" font-size="11.4" text-anchor="end" fill="#222" >0</text>
<line x1="61.80" y1="761.16" x2="67.20" y2="761.16" stroke="#222" stroke-width="1.5" />
<text x="60.70" y="765.24" font-size="11.4" text-anchor="end" fill="#222" >20</text>
<line x1="61.80" y1="716.12" x2="67.20" y2="716.12" stroke="#222" stroke-width="1.5" />
<text x="60.70" y="720.20" font-size="11.4" text-anchor="end" fill="#222" >40</text>
<line x1="61.80" y1="671.08" x2="67.20" y2="671.08" stroke="#222" stroke-width="1.5" />
<text x="60.70" y="675.16" font-size="11.4" text-anchor="end" fill="#222" >60</text>
<line x1="115.80" y1="806.40" x2="115.80" y2="811.60" stroke="#222" stroke-width="1.4" />
<line x1="216.90" y1="806.40" x2="216.90" y2="811.60" stroke="#222" stroke-width="1.4" />
<text x="116.40" y="822.28" font-size="11.4" text-anchor="middle" fill="#222" >10</text>
<text x="217.30" y="822.28" font-size="11.4" text-anchor="middle" fill="#222" >17</text>
<text x="139.80" y="822.25" font-size="11.3" text-anchor="start" fill="#222" textLength="60.4" lengthAdjust="spacingAndGlyphs" >Time (Days)</text>
<text transform="translate(39.60 733.50) rotate(-90)" x="0" y="4.08" font-size="11.4" text-anchor="middle" fill="#222" textLength="110.2" lengthAdjust="spacingAndGlyphs" >Elastic modulus (kPa)</text>
<path d="M70.95 806.20V726.25H78.85V806.20" fill="none" stroke="#a6b2e5" stroke-width="0.9"/>
<path d="M82.55 806.20V764.31H90.45V806.20" fill="none" stroke="#f7989c" stroke-width="0.9"/>
<path d="M94.45 806.20V721.75H102.35V806.20" fill="none" stroke="#a7e3ae" stroke-width="0.9"/>
<path d="M106.45 806.20V761.16H114.35V806.20" fill="none" stroke="#cda9df" stroke-width="0.9"/>
<path d="M117.65 806.20V725.13H125.55V806.20" fill="none" stroke="#f9c49b" stroke-width="0.9"/>
<path d="M129.55 806.20V759.81H137.45V806.20" fill="none" stroke="#939393" stroke-width="0.9"/>
<path d="M141.05 806.20V725.13H148.95V806.20" fill="none" stroke="#d5bb99" stroke-width="0.9"/>
<path d="M152.85 806.20V757.78H160.75V806.20" fill="none" stroke="#989cc7" stroke-width="0.9"/>
<path d="M74.90 720.40V732.11M72.50 720.40H77.30M72.50 732.11H77.30" fill="none" stroke="#3a55c6" stroke-width="0.9"/>
<circle cx="74.90" cy="686.84" r="2.20" fill="#3a55c6"/>
<circle cx="74.90" cy="698.10" r="2.20" fill="#3a55c6"/>
<circle cx="74.90" cy="710.49" r="2.20" fill="#3a55c6"/>
<circle cx="74.90" cy="717.70" r="2.20" fill="#3a55c6"/>
<circle cx="74.90" cy="722.88" r="2.20" fill="#3a55c6"/>
<circle cx="74.90" cy="727.38" r="2.20" fill="#3a55c6"/>
<circle cx="77.30" cy="729.63" r="2.20" fill="#3a55c6"/>
<circle cx="72.50" cy="730.98" r="2.20" fill="#3a55c6"/>
<circle cx="74.90" cy="734.14" r="2.20" fill="#3a55c6"/>
<circle cx="77.30" cy="735.26" r="2.20" fill="#3a55c6"/>
<circle cx="74.90" cy="738.64" r="2.20" fill="#3a55c6"/>
<circle cx="77.30" cy="740.22" r="2.20" fill="#3a55c6"/>
<circle cx="74.90" cy="745.40" r="2.20" fill="#3a55c6"/>
<circle cx="77.30" cy="747.65" r="2.20" fill="#3a55c6"/>
<circle cx="72.50" cy="748.77" r="2.20" fill="#3a55c6"/>
<path d="M86.50 762.06V766.56M84.10 762.06H88.90M84.10 766.56H88.90" fill="none" stroke="#ee1c25" stroke-width="0.9"/>
<rect x="84.41" y="750.74" width="4.18" height="4.18" fill="#ee1c25"/>
<rect x="86.81" y="754.57" width="4.18" height="4.18" fill="#ee1c25"/>
<rect x="84.41" y="757.94" width="4.18" height="4.18" fill="#ee1c25"/>
<rect x="86.81" y="759.07" width="4.18" height="4.18" fill="#ee1c25"/>
<rect x="82.01" y="760.20" width="4.18" height="4.18" fill="#ee1c25"/>
<rect x="86.81" y="761.32" width="4.18" height="4.18" fill="#ee1c25"/>
<rect x="86.81" y="762.45" width="4.18" height="4.18" fill="#ee1c25"/>
<rect x="82.01" y="763.57" width="4.18" height="4.18" fill="#ee1c25"/>
<rect x="86.81" y="764.70" width="4.18" height="4.18" fill="#ee1c25"/>
<rect x="86.81" y="765.83" width="4.18" height="4.18" fill="#ee1c25"/>
<rect x="82.01" y="766.95" width="4.18" height="4.18" fill="#ee1c25"/>
<rect x="84.41" y="775.96" width="4.18" height="4.18" fill="#ee1c25"/>
<rect x="86.81" y="777.09" width="4.18" height="4.18" fill="#ee1c25"/>
<rect x="82.01" y="778.44" width="4.18" height="4.18" fill="#ee1c25"/>
<path d="M98.40 713.64V729.86M96.00 713.64H100.80M96.00 729.86H100.80" fill="none" stroke="#3cc14b" stroke-width="0.9"/>
<path d="M98.40 680.04L101.15 684.99H95.65Z" fill="#3cc14b"/>
<path d="M98.40 686.80L101.15 691.75H95.65Z" fill="#3cc14b"/>
<path d="M100.80 687.25L103.55 692.20H98.05Z" fill="#3cc14b"/>
<path d="M98.40 702.79L101.15 707.74H95.65Z" fill="#3cc14b"/>
<path d="M100.80 703.24L103.55 708.19H98.05Z" fill="#3cc14b"/>
<path d="M98.40 717.87L101.15 722.82H95.65Z" fill="#3cc14b"/>
<path d="M100.80 719.00L103.55 723.95H98.05Z" fill="#3cc14b"/>
<path d="M98.40 722.38L101.15 727.33H95.65Z" fill="#3cc14b"/>
<path d="M98.40 726.88L101.15 731.83H95.65Z" fill="#3cc14b"/>
<path d="M98.40 731.61L101.15 736.56H95.65Z" fill="#3cc14b"/>
<path d="M98.40 735.89L101.15 740.84H95.65Z" fill="#3cc14b"/>
<path d="M98.40 740.84L101.15 745.79H95.65Z" fill="#3cc14b"/>
<path d="M100.80 744.22L103.55 749.17H98.05Z" fill="#3cc14b"/>
<path d="M110.40 757.56V764.76M108.00 757.56H112.80M108.00 764.76H112.80" fill="none" stroke="#9241b8" stroke-width="0.9"/>
<circle cx="110.40" cy="740.22" r="2.20" fill="#9241b8"/>
<circle cx="110.40" cy="745.40" r="2.20" fill="#9241b8"/>
<circle cx="110.40" cy="749.45" r="2.20" fill="#9241b8"/>
<circle cx="112.80" cy="752.15" r="2.20" fill="#9241b8"/>
<circle cx="110.40" cy="757.11" r="2.20" fill="#9241b8"/>
<circle cx="110.40" cy="761.16" r="2.20" fill="#9241b8"/>
<circle cx="112.80" cy="762.96" r="2.20" fill="#9241b8"/>
<circle cx="108.00" cy="763.41" r="2.20" fill="#9241b8"/>
<circle cx="110.40" cy="768.82" r="2.20" fill="#9241b8"/>
<circle cx="112.80" cy="771.29" r="2.20" fill="#9241b8"/>
<circle cx="108.00" cy="773.10" r="2.20" fill="#9241b8"/>
<circle cx="110.40" cy="776.92" r="2.20" fill="#9241b8"/>
<path d="M121.60 721.07V729.18M119.20 721.07H124.00M119.20 729.18H124.00" fill="none" stroke="#f27d21" stroke-width="0.9"/>
<path d="M121.60 698.15L124.35 693.20H118.85Z" fill="#f27d21"/>
<path d="M121.60 714.14L124.35 709.19H118.85Z" fill="#f27d21"/>
<path d="M124.00 714.37L126.75 709.42H121.25Z" fill="#f27d21"/>
<path d="M121.60 723.82L124.35 718.87H118.85Z" fill="#f27d21"/>
<path d="M124.00 725.63L126.75 720.68H121.25Z" fill="#f27d21"/>
<path d="M119.20 727.88L121.95 722.93H116.45Z" fill="#f27d21"/>
<path d="M124.00 729.68L126.75 724.73H121.25Z" fill="#f27d21"/>
<path d="M119.20 731.26L121.95 726.31H116.45Z" fill="#f27d21"/>
<path d="M124.00 733.73L126.75 728.78H121.25Z" fill="#f27d21"/>
<path d="M119.20 735.76L121.95 730.81H116.45Z" fill="#f27d21"/>
<path d="M124.00 738.01L126.75 733.06H121.25Z" fill="#f27d21"/>
<path d="M121.60 741.39L124.35 736.44H118.85Z" fill="#f27d21"/>
<path d="M121.60 745.67L124.35 740.72H118.85Z" fill="#f27d21"/>
<path d="M133.50 755.53V764.09M131.10 755.53H135.90M131.10 764.09H135.90" fill="none" stroke="#111111" stroke-width="0.9"/>
<path d="M133.50 741.86L136.14 744.50L133.50 747.14L130.86 744.50Z" fill="#111111"/>
<path d="M135.90 742.76L138.54 745.40L135.90 748.04L133.26 745.40Z" fill="#111111"/>
<path d="M131.10 743.88L133.74 746.52L131.10 749.16L128.46 746.52Z" fill="#111111"/>
<path d="M135.90 745.23L138.54 747.87L135.90 750.51L133.26 747.87Z" fill="#111111"/>
<path d="M133.50 760.32L136.14 762.96L133.50 765.60L130.86 762.96Z" fill="#111111"/>
<path d="M135.90 761.90L138.54 764.54L135.90 767.18L133.26 764.54Z" fill="#111111"/>
<path d="M131.10 764.38L133.74 767.02L131.10 769.66L128.46 767.02Z" fill="#111111"/>
<path d="M133.50 767.53L136.14 770.17L133.50 772.81L130.86 770.17Z" fill="#111111"/>
<path d="M135.90 770.46L138.54 773.10L135.90 775.74L133.26 773.10Z" fill="#111111"/>
<path d="M133.50 773.83L136.14 776.47L133.50 779.11L130.86 776.47Z" fill="#111111"/>
<path d="M145.00 718.82V731.43M142.60 718.82H147.40M142.60 731.43H147.40" fill="none" stroke="#a26a1e" stroke-width="0.9"/>
<circle cx="145.00" cy="698.10" r="2.20" fill="#a26a1e"/>
<circle cx="147.40" cy="698.55" r="2.20" fill="#a26a1e"/>
<circle cx="142.60" cy="700.36" r="2.20" fill="#a26a1e"/>
<circle cx="145.00" cy="708.91" r="2.20" fill="#a26a1e"/>
<circle cx="145.00" cy="716.80" r="2.20" fill="#a26a1e"/>
<circle cx="147.40" cy="717.25" r="2.20" fill="#a26a1e"/>
<circle cx="145.00" cy="726.93" r="2.20" fill="#a26a1e"/>
<circle cx="147.40" cy="730.76" r="2.20" fill="#a26a1e"/>
<circle cx="145.00" cy="735.26" r="2.20" fill="#a26a1e"/>
<circle cx="147.40" cy="738.64" r="2.20" fill="#a26a1e"/>
<circle cx="142.60" cy="739.77" r="2.20" fill="#a26a1e"/>
<circle cx="145.00" cy="742.92" r="2.20" fill="#a26a1e"/>
<circle cx="145.00" cy="748.77" r="2.20" fill="#a26a1e"/>
<path d="M156.80 753.95V761.61M154.40 753.95H159.20M154.40 761.61H159.20" fill="none" stroke="#1c2384" stroke-width="0.9"/>
<circle cx="156.80" cy="743.59" r="2.20" fill="#1c2384"/>
<circle cx="159.20" cy="746.52" r="2.20" fill="#1c2384"/>
<circle cx="154.40" cy="749.45" r="2.20" fill="#1c2384"/>
<circle cx="156.80" cy="753.73" r="2.20" fill="#1c2384"/>
<circle cx="159.20" cy="755.53" r="2.20" fill="#1c2384"/>
<circle cx="154.40" cy="758.01" r="2.20" fill="#1c2384"/>
<circle cx="156.80" cy="762.29" r="2.20" fill="#1c2384"/>
<circle cx="156.80" cy="767.92" r="2.20" fill="#1c2384"/>
<circle cx="156.80" cy="772.19" r="2.20" fill="#1c2384"/>
<circle cx="156.80" cy="781.43" r="2.20" fill="#1c2384"/>
<path d="M172.45 806.20V716.12H180.35V806.20" fill="none" stroke="#a6b2e5" stroke-width="0.9"/>
<path d="M184.25 806.20V760.71H192.15V806.20" fill="none" stroke="#f7989c" stroke-width="0.9"/>
<path d="M195.95 806.20V729.41H203.85V806.20" fill="none" stroke="#a7e3ae" stroke-width="0.9"/>
<path d="M207.75 806.20V764.54H215.65V806.20" fill="none" stroke="#cda9df" stroke-width="0.9"/>
<path d="M219.35 806.20V729.41H227.25V806.20" fill="none" stroke="#f9c49b" stroke-width="0.9"/>
<path d="M230.75 806.20V760.48H238.65V806.20" fill="none" stroke="#939393" stroke-width="0.9"/>
<path d="M242.75 806.20V735.94H250.65V806.20" fill="none" stroke="#d5bb99" stroke-width="0.9"/>
<path d="M254.65 806.20V777.82H262.55V806.20" fill="none" stroke="#989cc7" stroke-width="0.9"/>
<path d="M176.40 711.62V720.62M174.00 711.62H178.80M174.00 720.62H178.80" fill="none" stroke="#3a55c6" stroke-width="0.9"/>
<circle cx="176.40" cy="686.84" r="2.20" fill="#3a55c6"/>
<circle cx="176.40" cy="693.60" r="2.20" fill="#3a55c6"/>
<circle cx="176.40" cy="701.03" r="2.20" fill="#3a55c6"/>
<circle cx="176.40" cy="705.99" r="2.20" fill="#3a55c6"/>
<circle cx="176.40" cy="712.29" r="2.20" fill="#3a55c6"/>
<circle cx="178.80" cy="713.87" r="2.20" fill="#3a55c6"/>
<circle cx="174.00" cy="716.12" r="2.20" fill="#3a55c6"/>
<circle cx="178.80" cy="719.05" r="2.20" fill="#3a55c6"/>
<circle cx="176.40" cy="722.88" r="2.20" fill="#3a55c6"/>
<circle cx="178.80" cy="725.13" r="2.20" fill="#3a55c6"/>
<circle cx="176.40" cy="731.43" r="2.20" fill="#3a55c6"/>
<circle cx="178.80" cy="734.14" r="2.20" fill="#3a55c6"/>
<circle cx="174.00" cy="736.39" r="2.20" fill="#3a55c6"/>
<circle cx="178.80" cy="738.87" r="2.20" fill="#3a55c6"/>
<path d="M188.20 758.46V762.96M185.80 758.46H190.60M185.80 762.96H190.60" fill="none" stroke="#ee1c25" stroke-width="0.9"/>
<rect x="186.11" y="749.16" width="4.18" height="4.18" fill="#ee1c25"/>
<rect x="188.51" y="752.09" width="4.18" height="4.18" fill="#ee1c25"/>
<rect x="183.71" y="753.44" width="4.18" height="4.18" fill="#ee1c25"/>
<rect x="188.51" y="754.57" width="4.18" height="4.18" fill="#ee1c25"/>
<rect x="183.71" y="756.82" width="4.18" height="4.18" fill="#ee1c25"/>
<rect x="188.51" y="758.62" width="4.18" height="4.18" fill="#ee1c25"/>
<rect x="183.71" y="760.42" width="4.18" height="4.18" fill="#ee1c25"/>
<rect x="188.51" y="762.45" width="4.18" height="4.18" fill="#ee1c25"/>
<rect x="183.71" y="764.70" width="4.18" height="4.18" fill="#ee1c25"/>
<rect x="188.51" y="766.28" width="4.18" height="4.18" fill="#ee1c25"/>
<rect x="186.11" y="771.01" width="4.18" height="4.18" fill="#ee1c25"/>
<path d="M199.90 726.25V732.56M197.50 726.25H202.30M197.50 732.56H202.30" fill="none" stroke="#3cc14b" stroke-width="0.9"/>
<path d="M199.90 710.22L202.65 715.17H197.15Z" fill="#3cc14b"/>
<path d="M199.90 716.30L202.65 721.25H197.15Z" fill="#3cc14b"/>
<path d="M202.30 716.75L205.05 721.70H199.55Z" fill="#3cc14b"/>
<path d="M197.50 719.00L200.25 723.95H194.75Z" fill="#3cc14b"/>
<path d="M202.30 721.03L205.05 725.98H199.55Z" fill="#3cc14b"/>
<path d="M197.50 722.38L200.25 727.33H194.75Z" fill="#3cc14b"/>
<path d="M199.90 726.88L202.65 731.83H197.15Z" fill="#3cc14b"/>
<path d="M202.30 727.56L205.05 732.51H199.55Z" fill="#3cc14b"/>
<path d="M199.90 731.39L202.65 736.34H197.15Z" fill="#3cc14b"/>
<path d="M202.30 735.21L205.05 740.16H199.55Z" fill="#3cc14b"/>
<path d="M199.90 742.87L202.65 747.82H197.15Z" fill="#3cc14b"/>
<path d="M211.70 761.84V767.24M209.30 761.84H214.10M209.30 767.24H214.10" fill="none" stroke="#9241b8" stroke-width="0.9"/>
<circle cx="211.70" cy="748.32" r="2.20" fill="#9241b8"/>
<circle cx="211.70" cy="756.88" r="2.20" fill="#9241b8"/>
<circle cx="214.10" cy="758.91" r="2.20" fill="#9241b8"/>
<circle cx="209.30" cy="760.71" r="2.20" fill="#9241b8"/>
<circle cx="214.10" cy="762.29" r="2.20" fill="#9241b8"/>
<circle cx="209.30" cy="764.54" r="2.20" fill="#9241b8"/>
<circle cx="214.10" cy="765.66" r="2.20" fill="#9241b8"/>
<circle cx="209.30" cy="767.47" r="2.20" fill="#9241b8"/>
<circle cx="211.70" cy="775.80" r="2.20" fill="#9241b8"/>
<path d="M223.30 726.03V732.78M220.90 726.03H225.70M220.90 732.78H225.70" fill="none" stroke="#f27d21" stroke-width="0.9"/>
<path d="M223.30 711.89L226.05 706.94H220.55Z" fill="#f27d21"/>
<path d="M225.70 715.04L228.45 710.09H222.95Z" fill="#f27d21"/>
<path d="M223.30 723.60L226.05 718.65H220.55Z" fill="#f27d21"/>
<path d="M225.70 724.50L228.45 719.55H222.95Z" fill="#f27d21"/>
<path d="M220.90 727.43L223.65 722.48H218.15Z" fill="#f27d21"/>
<path d="M225.70 730.13L228.45 725.18H222.95Z" fill="#f27d21"/>
<path d="M220.90 731.26L223.65 726.31H218.15Z" fill="#f27d21"/>
<path d="M223.30 734.63L226.05 729.68H220.55Z" fill="#f27d21"/>
<path d="M225.70 737.79L228.45 732.84H222.95Z" fill="#f27d21"/>
<path d="M220.90 740.26L223.65 735.31H218.15Z" fill="#f27d21"/>
<path d="M225.70 742.52L228.45 737.57H222.95Z" fill="#f27d21"/>
<path d="M223.30 747.25L226.05 742.30H220.55Z" fill="#f27d21"/>
<path d="M234.70 757.33V763.64M232.30 757.33H237.10M232.30 763.64H237.10" fill="none" stroke="#111111" stroke-width="0.9"/>
<path d="M234.70 741.86L237.34 744.50L234.70 747.14L232.06 744.50Z" fill="#111111"/>
<path d="M237.10 744.78L239.74 747.42L237.10 750.06L234.46 747.42Z" fill="#111111"/>
<path d="M234.70 748.61L237.34 751.25L234.70 753.89L232.06 751.25Z" fill="#111111"/>
<path d="M234.70 756.27L237.34 758.91L234.70 761.55L232.06 758.91Z" fill="#111111"/>
<path d="M237.10 758.07L239.74 760.71L237.10 763.35L234.46 760.71Z" fill="#111111"/>
<path d="M232.30 759.65L234.94 762.29L232.30 764.93L229.66 762.29Z" fill="#111111"/>
<path d="M237.10 761.90L239.74 764.54L237.10 767.18L234.46 764.54Z" fill="#111111"/>
<path d="M232.30 764.15L234.94 766.79L232.30 769.43L229.66 766.79Z" fill="#111111"/>
<path d="M237.10 765.73L239.74 768.37L237.10 771.01L234.46 768.37Z" fill="#111111"/>
<path d="M232.30 768.65L234.94 771.29L232.30 773.93L229.66 771.29Z" fill="#111111"/>
<path d="M237.10 771.36L239.74 774.00L237.10 776.64L234.46 774.00Z" fill="#111111"/>
<path d="M246.70 732.33V739.54M244.30 732.33H249.10M244.30 739.54H249.10" fill="none" stroke="#a26a1e" stroke-width="0.9"/>
<circle cx="246.70" cy="712.29" r="2.20" fill="#a26a1e"/>
<circle cx="246.70" cy="720.85" r="2.20" fill="#a26a1e"/>
<circle cx="246.70" cy="728.51" r="2.20" fill="#a26a1e"/>
<circle cx="249.10" cy="731.88" r="2.20" fill="#a26a1e"/>
<circle cx="246.70" cy="735.04" r="2.20" fill="#a26a1e"/>
<circle cx="249.10" cy="737.96" r="2.20" fill="#a26a1e"/>
<circle cx="244.30" cy="738.64" r="2.20" fill="#a26a1e"/>
<circle cx="246.70" cy="741.79" r="2.20" fill="#a26a1e"/>
<circle cx="249.10" cy="744.27" r="2.20" fill="#a26a1e"/>
<circle cx="244.30" cy="745.62" r="2.20" fill="#a26a1e"/>
<circle cx="246.70" cy="750.35" r="2.20" fill="#a26a1e"/>
<circle cx="246.70" cy="760.71" r="2.20" fill="#a26a1e"/>
<path d="M258.60 776.02V779.63M256.20 776.02H261.00M256.20 779.63H261.00" fill="none" stroke="#1c2384" stroke-width="0.9"/>
<circle cx="258.60" cy="766.79" r="2.20" fill="#1c2384"/>
<circle cx="258.60" cy="771.29" r="2.20" fill="#1c2384"/>
<circle cx="261.00" cy="773.55" r="2.20" fill="#1c2384"/>
<circle cx="256.20" cy="774.90" r="2.20" fill="#1c2384"/>
<circle cx="261.00" cy="776.47" r="2.20" fill="#1c2384"/>
<circle cx="256.20" cy="777.82" r="2.20" fill="#1c2384"/>
<circle cx="261.00" cy="779.18" r="2.20" fill="#1c2384"/>
<circle cx="256.20" cy="780.75" r="2.20" fill="#1c2384"/>
<circle cx="261.00" cy="782.55" r="2.20" fill="#1c2384"/>
<circle cx="261.00" cy="783.45" r="2.20" fill="#1c2384"/>
<path d="M74.80 681.70V670.80H86.50V744.50" fill="none" stroke="#9a9a9a" stroke-width="0.8"/>
<text x="84.80" y="667.26" font-size="9.1" text-anchor="middle" fill="#222" >0.0079</text>
<path d="M98.30 653.50V645.40H109.90V680.00" fill="none" stroke="#9a9a9a" stroke-width="0.8"/>
<text x="104.50" y="639.66" font-size="9.1" text-anchor="middle" fill="#222" >0.0062</text>
<path d="M121.30 692.00V674.50H133.40V734.40" fill="none" stroke="#9a9a9a" stroke-width="0.8"/>
<text x="127.10" y="670.56" font-size="9.1" text-anchor="middle" fill="#222" >0.0014</text>
<path d="M144.80 691.30V686.60H156.50V734.40" fill="none" stroke="#9a9a9a" stroke-width="0.8"/>
<text x="154.80" y="684.96" font-size="9.1" text-anchor="middle" fill="#222" >0.0014</text>
<path d="M176.10 588.20V527.70H258.30V543.80" fill="none" stroke="#9a9a9a" stroke-width="0.8"/>
<text x="215.60" y="524.06" font-size="9.1" text-anchor="middle" fill="#222" >&lt;0.0001</text>
<path d="M188.10 579.30V547.60H258.30V565.00" fill="none" stroke="#9a9a9a" stroke-width="0.8"/>
<text x="222.10" y="541.76" font-size="9.1" text-anchor="middle" fill="#222" >0.0034</text>
<path d="M199.30 574.10V567.30H258.30V604.00" fill="none" stroke="#9a9a9a" stroke-width="0.8"/>
<text x="227.80" y="564.16" font-size="9.1" text-anchor="middle" fill="#222" >&lt;0.0001</text>
<path d="M176.10 633.70V590.70H235.00V595.40" fill="none" stroke="#9a9a9a" stroke-width="0.8"/>
<text x="203.70" y="586.86" font-size="9.1" text-anchor="middle" fill="#222" >0.0005</text>
<path d="M211.20 635.60V607.40H258.30V614.00" fill="none" stroke="#9a9a9a" stroke-width="0.8"/>
<text x="234.00" y="605.26" font-size="9.1" text-anchor="middle" fill="#222" >0.0046</text>
<path d="M222.30 662.20V627.80H257.70V636.60" fill="none" stroke="#9a9a9a" stroke-width="0.8"/>
<text x="240.30" y="625.06" font-size="9.1" text-anchor="middle" fill="#222" >&lt;0.0001</text>
<path d="M176.10 662.20V648.50H211.60V651.40" fill="none" stroke="#9a9a9a" stroke-width="0.8"/>
<text x="192.60" y="643.66" font-size="9.1" text-anchor="middle" fill="#222" >&lt;0.0001</text>
<path d="M234.00 658.40V652.10H257.70V678.70" fill="none" stroke="#9a9a9a" stroke-width="0.8"/>
<text x="244.80" y="647.96" font-size="9.1" text-anchor="middle" fill="#222" >0.0022</text>
<path d="M176.10 683.00V672.30H188.50V739.50" fill="none" stroke="#9a9a9a" stroke-width="0.8"/>
<text x="181.30" y="670.26" font-size="9.1" text-anchor="middle" fill="#222" >&lt;0.0001</text>
<path d="M222.60 701.00V676.40H234.60V679.30" fill="none" stroke="#9a9a9a" stroke-width="0.8"/>
<text x="228.90" y="673.66" font-size="9.1" text-anchor="middle" fill="#222" >0.0012</text>
<path d="M246.70 704.00V692.60H258.30V732.40" fill="none" stroke="#9a9a9a" stroke-width="0.8"/>
<text x="251.50" y="687.86" font-size="9.1" text-anchor="middle" fill="#222" >&lt;0.0001</text>
<text x="352.50" y="270.39" font-size="17" text-anchor="middle" fill="#000" font-weight="bold" textLength="13.4" lengthAdjust="spacingAndGlyphs" >d)</text>
<path d="M452.00 253.60H458.60V265.50H461.55L455.30 273.00L449.05 265.50H452.00Z" fill="#aee296" stroke="#6cc24a" stroke-width="0.8"/>
<text x="467.70" y="263.28" font-size="10" text-anchor="start" fill="#111" font-weight="bold" textLength="83" lengthAdjust="spacingAndGlyphs" >ECM Components</text>
<line x1="369.50" y1="404.20" x2="369.50" y2="528.60" stroke="#222" stroke-width="1.1" />
<line x1="369.00" y1="528.30" x2="551.20" y2="528.30" stroke="#222" stroke-width="1.2" />
<line x1="364.60" y1="528.00" x2="369.50" y2="528.00" stroke="#222" stroke-width="1.0" />
<text x="362.20" y="531.65" font-size="10.2" text-anchor="end" fill="#111" >0.0</text>
<line x1="364.60" y1="503.34" x2="369.50" y2="503.34" stroke="#222" stroke-width="1.0" />
<text x="362.20" y="506.99" font-size="10.2" text-anchor="end" fill="#111" >0.1</text>
<line x1="364.60" y1="478.68" x2="369.50" y2="478.68" stroke="#222" stroke-width="1.0" />
<text x="362.20" y="482.33" font-size="10.2" text-anchor="end" fill="#111" >0.2</text>
<line x1="364.60" y1="454.02" x2="369.50" y2="454.02" stroke="#222" stroke-width="1.0" />
<text x="362.20" y="457.67" font-size="10.2" text-anchor="end" fill="#111" >0.3</text>
<line x1="364.60" y1="429.36" x2="369.50" y2="429.36" stroke="#222" stroke-width="1.0" />
<text x="362.20" y="433.01" font-size="10.2" text-anchor="end" fill="#111" >0.4</text>
<line x1="364.60" y1="404.70" x2="369.50" y2="404.70" stroke="#222" stroke-width="1.0" />
<text x="362.20" y="408.35" font-size="10.2" text-anchor="end" fill="#111" >0.5</text>
<text transform="translate(339.00 468.30) rotate(-90)" x="0" y="3.79" font-size="10.6" text-anchor="middle" fill="#111" textLength="106" lengthAdjust="spacingAndGlyphs" >bHABP1 Area Fraction</text>
<path d="M376.50 528V442.68H391.30V528" fill="none" stroke="#bbbbff" stroke-width="0.9"/>
<path d="M398.20 528V468.32H413.00V528" fill="none" stroke="#ffbcbc" stroke-width="0.9"/>
<path d="M420.00 528V456.12H434.80V528" fill="none" stroke="#c0f5c0" stroke-width="0.9"/>
<path d="M441.70 528V486.08H456.50V528" fill="none" stroke="#edc0fa" stroke-width="0.9"/>
<path d="M463.70 528V449.70H478.50V528" fill="none" stroke="#fbdac0" stroke-width="0.9"/>
<path d="M485.30 528V483.37H500.10V528" fill="none" stroke="#bababa" stroke-width="0.9"/>
<path d="M507.20 528V444.90H522.00V528" fill="none" stroke="#e4d5c0" stroke-width="0.9"/>
<path d="M529.00 528V484.97H543.80V528" fill="none" stroke="#babae1" stroke-width="0.9"/>
<path d="M383.90 438.73V446.62M380.70 438.73H387.10M380.70 446.62H387.10" fill="none" stroke="#0d0dff" stroke-width="0.9"/>
<circle cx="378.60" cy="426.50" r="2.00" fill="#0d0dff"/>
<circle cx="380.90" cy="428.00" r="2.00" fill="#0d0dff"/>
<circle cx="383.90" cy="429.50" r="2.00" fill="#0d0dff"/>
<circle cx="386.90" cy="429.50" r="2.00" fill="#0d0dff"/>
<circle cx="381.60" cy="434.00" r="2.00" fill="#0d0dff"/>
<circle cx="386.20" cy="434.80" r="2.00" fill="#0d0dff"/>
<circle cx="383.90" cy="437.80" r="2.00" fill="#0d0dff"/>
<circle cx="379.40" cy="442.30" r="2.00" fill="#0d0dff"/>
<circle cx="383.90" cy="442.30" r="2.00" fill="#0d0dff"/>
<circle cx="389.20" cy="442.70" r="2.00" fill="#0d0dff"/>
<circle cx="386.90" cy="446.00" r="2.00" fill="#0d0dff"/>
<circle cx="383.90" cy="448.70" r="2.00" fill="#0d0dff"/>
<circle cx="386.90" cy="462.30" r="2.00" fill="#0d0dff"/>
<circle cx="383.90" cy="464.80" r="2.00" fill="#0d0dff"/>
<circle cx="383.90" cy="485.40" r="2.00" fill="#0d0dff"/>
<path d="M405.60 464.62V472.02M402.40 464.62H408.80M402.40 472.02H408.80" fill="none" stroke="#ff1212" stroke-width="0.9"/>
<rect x="403.70" y="445.60" width="3.80" height="3.80" fill="#ff1212"/>
<rect x="402.70" y="450.90" width="3.80" height="3.80" fill="#ff1212"/>
<rect x="404.90" y="453.90" width="3.80" height="3.80" fill="#ff1212"/>
<rect x="398.90" y="460.40" width="3.80" height="3.80" fill="#ff1212"/>
<rect x="401.20" y="461.40" width="3.80" height="3.80" fill="#ff1212"/>
<rect x="403.40" y="459.10" width="3.80" height="3.80" fill="#ff1212"/>
<rect x="405.70" y="461.40" width="3.80" height="3.80" fill="#ff1212"/>
<rect x="407.20" y="462.90" width="3.80" height="3.80" fill="#ff1212"/>
<rect x="402.70" y="463.70" width="3.80" height="3.80" fill="#ff1212"/>
<rect x="404.90" y="464.40" width="3.80" height="3.80" fill="#ff1212"/>
<rect x="403.70" y="468.90" width="3.80" height="3.80" fill="#ff1212"/>
<rect x="403.70" y="474.90" width="3.80" height="3.80" fill="#ff1212"/>
<rect x="403.70" y="484.40" width="3.80" height="3.80" fill="#ff1212"/>
<rect x="403.70" y="488.40" width="3.80" height="3.80" fill="#ff1212"/>
<rect x="403.70" y="498.90" width="3.80" height="3.80" fill="#ff1212"/>
<path d="M427.40 451.68V460.55M424.20 451.68H430.60M424.20 460.55H430.60" fill="none" stroke="#1fdc1f" stroke-width="0.9"/>
<path d="M427.40 429.70L429.90 434.20H424.90Z" fill="#1fdc1f"/>
<path d="M429.40 435.30L431.90 439.80H426.90Z" fill="#1fdc1f"/>
<path d="M425.60 439.00L428.10 443.50H423.10Z" fill="#1fdc1f"/>
<path d="M421.90 444.30L424.40 448.80H419.40Z" fill="#1fdc1f"/>
<path d="M429.40 444.30L431.90 448.80H426.90Z" fill="#1fdc1f"/>
<path d="M425.60 446.80L428.10 451.30H423.10Z" fill="#1fdc1f"/>
<path d="M432.70 446.80L435.20 451.30H430.20Z" fill="#1fdc1f"/>
<path d="M421.90 448.80L424.40 453.30H419.40Z" fill="#1fdc1f"/>
<path d="M427.40 450.30L429.90 454.80H424.90Z" fill="#1fdc1f"/>
<path d="M432.70 451.80L435.20 456.30H430.20Z" fill="#1fdc1f"/>
<path d="M427.40 458.50L429.90 463.00H424.90Z" fill="#1fdc1f"/>
<path d="M427.40 464.30L429.90 468.80H424.90Z" fill="#1fdc1f"/>
<path d="M427.40 475.40L429.90 479.90H424.90Z" fill="#1fdc1f"/>
<path d="M427.40 480.80L429.90 485.30H424.90Z" fill="#1fdc1f"/>
<path d="M427.40 493.40L429.90 497.90H424.90Z" fill="#1fdc1f"/>
<path d="M449.10 483.86V488.30M445.90 483.86H452.30M445.90 488.30H452.30" fill="none" stroke="#c21ff0" stroke-width="0.9"/>
<circle cx="449.90" cy="476.40" r="2.00" fill="#c21ff0"/>
<circle cx="443.10" cy="485.00" r="2.00" fill="#c21ff0"/>
<circle cx="445.40" cy="485.80" r="2.00" fill="#c21ff0"/>
<circle cx="447.60" cy="485.00" r="2.00" fill="#c21ff0"/>
<circle cx="449.90" cy="485.80" r="2.00" fill="#c21ff0"/>
<circle cx="452.10" cy="484.30" r="2.00" fill="#c21ff0"/>
<circle cx="454.40" cy="485.80" r="2.00" fill="#c21ff0"/>
<circle cx="451.40" cy="483.60" r="2.00" fill="#c21ff0"/>
<circle cx="444.60" cy="486.60" r="2.00" fill="#c21ff0"/>
<circle cx="453.60" cy="486.60" r="2.00" fill="#c21ff0"/>
<circle cx="449.10" cy="496.60" r="2.00" fill="#c21ff0"/>
<circle cx="449.10" cy="508.60" r="2.00" fill="#c21ff0"/>
<path d="M471.10 444.28V455.13M467.90 444.28H474.30M467.90 455.13H474.30" fill="none" stroke="#f27d21" stroke-width="0.9"/>
<path d="M471.10 423.00L473.60 418.50H468.60Z" fill="#f27d21"/>
<path d="M471.10 433.80L473.60 429.30H468.60Z" fill="#f27d21"/>
<path d="M471.10 438.30L473.60 433.80H468.60Z" fill="#f27d21"/>
<path d="M465.60 444.80L468.10 440.30H463.10Z" fill="#f27d21"/>
<path d="M468.60 445.20L471.10 440.70H466.10Z" fill="#f27d21"/>
<path d="M471.10 446.30L473.60 441.80H468.60Z" fill="#f27d21"/>
<path d="M473.80 445.50L476.30 441.00H471.30Z" fill="#f27d21"/>
<path d="M476.80 444.80L479.30 440.30H474.30Z" fill="#f27d21"/>
<path d="M471.10 449.30L473.60 444.80H468.60Z" fill="#f27d21"/>
<path d="M471.10 453.80L473.60 449.30H468.60Z" fill="#f27d21"/>
<path d="M471.10 458.30L473.60 453.80H468.60Z" fill="#f27d21"/>
<path d="M470.10 464.80L472.60 460.30H467.60Z" fill="#f27d21"/>
<path d="M472.30 465.80L474.80 461.30H469.80Z" fill="#f27d21"/>
<path d="M471.10 469.30L473.60 464.80H468.60Z" fill="#f27d21"/>
<path d="M471.10 515.40L473.60 510.90H468.60Z" fill="#f27d21"/>
<path d="M492.70 481.64V485.09M489.50 481.64H495.90M489.50 485.09H495.90" fill="none" stroke="#0a0a0a" stroke-width="0.9"/>
<path d="M492.70 470.02L494.98 472.30L492.70 474.58L490.42 472.30Z" fill="#0a0a0a"/>
<path d="M489.00 477.52L491.28 479.80L489.00 482.08L486.72 479.80Z" fill="#0a0a0a"/>
<path d="M492.00 477.12L494.28 479.40L492.00 481.68L489.72 479.40Z" fill="#0a0a0a"/>
<path d="M495.00 477.52L497.28 479.80L495.00 482.08L492.72 479.80Z" fill="#0a0a0a"/>
<path d="M497.20 477.12L499.48 479.40L497.20 481.68L494.92 479.40Z" fill="#0a0a0a"/>
<path d="M489.70 480.52L491.98 482.80L489.70 485.08L487.42 482.80Z" fill="#0a0a0a"/>
<path d="M492.70 481.32L494.98 483.60L492.70 485.88L490.42 483.60Z" fill="#0a0a0a"/>
<path d="M495.70 479.82L497.98 482.10L495.70 484.38L493.42 482.10Z" fill="#0a0a0a"/>
<path d="M487.50 482.82L489.78 485.10L487.50 487.38L485.22 485.10Z" fill="#0a0a0a"/>
<path d="M492.70 485.02L494.98 487.30L492.70 489.58L490.42 487.30Z" fill="#0a0a0a"/>
<path d="M498.70 484.62L500.98 486.90L498.70 489.18L496.42 486.90Z" fill="#0a0a0a"/>
<path d="M494.20 490.02L496.48 492.30L494.20 494.58L491.92 492.30Z" fill="#0a0a0a"/>
<path d="M491.20 493.02L493.48 495.30L491.20 497.58L488.92 495.30Z" fill="#0a0a0a"/>
<path d="M514.60 440.70V449.09M511.40 440.70H517.80M511.40 449.09H517.80" fill="none" stroke="#a26a1e" stroke-width="0.9"/>
<circle cx="514.60" cy="422.30" r="2.00" fill="#a26a1e"/>
<circle cx="512.80" cy="428.30" r="2.00" fill="#a26a1e"/>
<circle cx="516.60" cy="429.50" r="2.00" fill="#a26a1e"/>
<circle cx="509.10" cy="433.30" r="2.00" fill="#a26a1e"/>
<circle cx="514.60" cy="434.00" r="2.00" fill="#a26a1e"/>
<circle cx="519.90" cy="432.80" r="2.00" fill="#a26a1e"/>
<circle cx="512.80" cy="435.50" r="2.00" fill="#a26a1e"/>
<circle cx="509.10" cy="439.30" r="2.00" fill="#a26a1e"/>
<circle cx="516.60" cy="439.30" r="2.00" fill="#a26a1e"/>
<circle cx="512.80" cy="442.30" r="2.00" fill="#a26a1e"/>
<circle cx="516.30" cy="444.50" r="2.00" fill="#a26a1e"/>
<circle cx="514.60" cy="455.00" r="2.00" fill="#a26a1e"/>
<circle cx="514.60" cy="460.30" r="2.00" fill="#a26a1e"/>
<circle cx="512.80" cy="469.30" r="2.00" fill="#a26a1e"/>
<circle cx="516.60" cy="471.90" r="2.00" fill="#a26a1e"/>
<circle cx="514.60" cy="477.90" r="2.00" fill="#a26a1e"/>
<path d="M536.40 482.75V487.19M533.20 482.75H539.60M533.20 487.19H539.60" fill="none" stroke="#0b0b96" stroke-width="0.9"/>
<circle cx="534.60" cy="471.90" r="2.00" fill="#0b0b96"/>
<circle cx="538.40" cy="473.80" r="2.00" fill="#0b0b96"/>
<circle cx="531.60" cy="476.80" r="2.00" fill="#0b0b96"/>
<circle cx="536.90" cy="476.00" r="2.00" fill="#0b0b96"/>
<circle cx="541.80" cy="476.80" r="2.00" fill="#0b0b96"/>
<circle cx="534.60" cy="480.60" r="2.00" fill="#0b0b96"/>
<circle cx="539.10" cy="480.30" r="2.00" fill="#0b0b96"/>
<circle cx="541.80" cy="485.10" r="2.00" fill="#0b0b96"/>
<circle cx="536.90" cy="486.60" r="2.00" fill="#0b0b96"/>
<circle cx="531.60" cy="491.10" r="2.00" fill="#0b0b96"/>
<circle cx="536.90" cy="492.30" r="2.00" fill="#0b0b96"/>
<circle cx="541.80" cy="491.10" r="2.00" fill="#0b0b96"/>
<circle cx="534.60" cy="493.30" r="2.00" fill="#0b0b96"/>
<circle cx="538.40" cy="496.80" r="2.00" fill="#0b0b96"/>
<circle cx="536.40" cy="503.40" r="2.00" fill="#0b0b96"/>
<path d="M383.60 339.00V289.90H535.80V302.10" fill="none" stroke="#2a2a2a" stroke-width="0.75"/>
<text x="454.30" y="286.58" font-size="8.6" text-anchor="middle" fill="#111" >&lt;0.0001</text>
<path d="M405.10 335.20V307.90H535.80V319.80" fill="none" stroke="#2a2a2a" stroke-width="0.75"/>
<text x="468.10" y="303.58" font-size="8.6" text-anchor="middle" fill="#111" >0.0155</text>
<path d="M427.00 327.80V323.00H535.80V355.10" fill="none" stroke="#2a2a2a" stroke-width="0.75"/>
<text x="478.40" y="320.28" font-size="8.6" text-anchor="middle" fill="#111" >&lt;0.0001</text>
<path d="M383.60 362.20V343.90H492.50V350.30" fill="none" stroke="#2a2a2a" stroke-width="0.75"/>
<text x="435.00" y="340.48" font-size="8.6" text-anchor="middle" fill="#111" >&lt;0.0001</text>
<path d="M383.60 387.20V367.30H448.80V372.10" fill="none" stroke="#2a2a2a" stroke-width="0.75"/>
<text x="412.90" y="362.08" font-size="8.6" text-anchor="middle" fill="#111" >&lt;0.0001</text>
<path d="M470.70 369.60V365.40H535.80V382.40" fill="none" stroke="#2a2a2a" stroke-width="0.75"/>
<text x="500.20" y="363.98" font-size="8.6" text-anchor="middle" fill="#111" >&lt;0.0001</text>
<path d="M405.10 392.00V384.00H448.80V392.00" fill="none" stroke="#2a2a2a" stroke-width="0.75"/>
<text x="424.70" y="379.68" font-size="8.6" text-anchor="middle" fill="#111" >0.0080</text>
<path d="M470.70 412.30V394.80H492.60V441.30" fill="none" stroke="#2a2a2a" stroke-width="0.75"/>
<text x="477.70" y="387.68" font-size="8.6" text-anchor="middle" fill="#111" >&lt;0.0001</text>
<path d="M514.00 412.10V402.00H535.80V461.60" fill="none" stroke="#2a2a2a" stroke-width="0.75"/>
<text x="521.70" y="396.68" font-size="8.6" text-anchor="middle" fill="#111" >&lt;0.0001</text>
<path d="M383.60 418.40V407.30H405.40V437.50" fill="none" stroke="#2a2a2a" stroke-width="0.75"/>
<text x="392.00" y="404.08" font-size="8.6" text-anchor="middle" fill="#111" >0.0001</text>
<path d="M427.00 423.00V408.40H448.80V458.80" fill="none" stroke="#2a2a2a" stroke-width="0.75"/>
<text x="434.40" y="404.08" font-size="8.6" text-anchor="middle" fill="#111" >&lt;0.0001</text>
<text x="614.50" y="268.20" font-size="10.9" text-anchor="middle" fill="#111" textLength="35.4" lengthAdjust="spacingAndGlyphs" >Control</text>
<text x="614.10" y="407.06" font-size="10.5" text-anchor="middle" fill="#111" textLength="124.7" lengthAdjust="spacingAndGlyphs" >Ketotifen-Sonoperemation-</text>
<text x="614.00" y="418.76" font-size="10.5" text-anchor="middle" fill="#111" textLength="53" lengthAdjust="spacingAndGlyphs" >Doxil-aPD1</text>
<defs><filter id="mb" x="-5%" y="-5%" width="110%" height="110%"><feGaussianBlur stdDeviation="0.5"/></filter><filter id="mb2" x="-40%" y="-40%" width="180%" height="180%"><feGaussianBlur stdDeviation="1.3"/></filter><clipPath id="m1"><rect x="552.8" y="270" width="126.2" height="123.2"/></clipPath><clipPath id="m2"><rect x="557.3" y="421.6" width="119.6" height="117.3"/></clipPath></defs>
<rect x="552.80" y="270.00" width="126.20" height="123.20" fill="#020207" stroke="none" stroke-width="1" />
<g clip-path="url(#m1)"><g filter="url(#mb)">
<path d="M611.6 338.3h.01M636.3 381.1h.01M575.7 348.8h.01M622.9 303.5h.01M608.9 286.6h.01M657.5 369.7h.01M568.0 271.0h.01M554.6 320.1h.01M627.6 283.9h.01M608.7 379.9h.01M598.7 381.8h.01M622.7 361.5h.01M623.3 371.3h.01M624.7 370.3h.01M617.9 325.6h.01M650.3 350.9h.01M623.5 294.0h.01M582.4 318.4h.01M575.0 278.2h.01M573.1 279.0h.01M617.5 291.8h.01M647.9 360.3h.01M619.6 386.5h.01M620.9 278.3h.01M595.4 348.0h.01M552.3 317.1h.01M580.9 306.4h.01M560.0 369.3h.01M658.0 383.3h.01M656.8 291.9h.01M620.7 285.2h.01M643.2 285.2h.01M677.3 315.0h.01M611.2 301.5h.01M639.9 390.9h.01M602.2 335.3h.01M600.7 339.1h.01M619.5 295.3h.01M576.8 278.2h.01M598.5 368.7h.01M651.8 292.7h.01" stroke="#1a1c7a" stroke-width="2.5" stroke-linecap="round" fill="none" opacity="1"/>
<path d="M607.8 338.4h.01M679.3 270.4h.01M661.4 328.6h.01M667.0 347.0h.01M581.3 381.3h.01M579.7 381.4h.01M679.5 381.9h.01M578.3 385.6h.01M628.5 357.3h.01M664.7 389.2h.01M565.1 362.5h.01M592.5 380.0h.01M649.7 273.2h.01M639.7 361.6h.01M621.1 279.1h.01M602.5 298.2h.01M645.2 319.2h.01M649.2 320.1h.01M621.2 343.8h.01M577.0 391.5h.01M595.3 308.3h.01M591.7 327.3h.01M581.5 357.4h.01M654.9 375.9h.01M632.7 387.2h.01M580.5 336.1h.01M641.4 303.4h.01M651.2 331.1h.01M618.1 276.1h.01M588.0 320.0h.01M676.2 368.7h.01M615.0 331.6h.01M590.3 386.2h.01M613.5 372.1h.01M606.6 293.6h.01M563.6 273.5h.01M673.9 280.9h.01" stroke="#1e218e" stroke-width="2.0" stroke-linecap="round" fill="none" opacity="0.6"/>
<path d="M601.2 338.3h.01M613.5 305.0h.01M594.6 278.8h.01M603.7 384.9h.01M576.4 271.6h.01M675.0 382.5h.01M572.6 352.7h.01M626.9 371.4h.01M613.8 327.6h.01M565.8 301.8h.01M641.6 343.1h.01M583.1 273.8h.01M672.1 371.8h.01M610.6 315.1h.01M558.4 324.5h.01M651.6 362.1h.01M599.7 304.2h.01M557.4 316.7h.01M667.9 271.6h.01M568.8 383.4h.01M614.5 358.3h.01M664.6 324.1h.01M631.0 279.4h.01M658.6 375.0h.01M638.9 284.9h.01M614.3 284.8h.01M644.1 321.5h.01M573.3 349.2h.01M561.9 334.2h.01M580.8 279.7h.01" stroke="#343ac4" stroke-width="2.5" stroke-linecap="round" fill="none" opacity="0.8"/>
<path d="M616.0 338.5h.01M601.7 336.4h.01M655.9 280.8h.01M638.5 297.0h.01M609.1 327.9h.01M604.6 380.0h.01M606.5 298.7h.01M685.8 340.6h.01M667.5 346.0h.01M590.9 351.7h.01M666.1 393.7h.01M667.0 389.8h.01M566.2 389.5h.01M610.3 342.9h.01M628.1 378.1h.01M608.4 328.1h.01M623.5 384.8h.01M622.5 386.2h.01M651.5 360.9h.01M646.7 358.0h.01M592.3 307.2h.01M629.4 338.7h.01M658.3 386.1h.01M576.2 339.4h.01M586.2 345.7h.01M641.8 291.4h.01M589.5 338.8h.01M608.9 302.5h.01M585.3 335.6h.01M609.3 329.0h.01M606.0 328.4h.01M598.7 351.2h.01M672.2 341.3h.01M602.0 315.0h.01" stroke="#1e218e" stroke-width="2.5" stroke-linecap="round" fill="none" opacity="1"/>
<path d="M615.1 339.1h.01M599.1 331.3h.01M618.6 356.6h.01M575.4 310.4h.01M656.5 281.1h.01M586.0 387.9h.01M665.3 346.4h.01M676.2 381.6h.01M575.8 355.9h.01M637.0 359.2h.01M574.9 308.0h.01M668.4 392.1h.01M610.9 373.1h.01M583.3 332.1h.01M622.4 338.0h.01M569.6 380.8h.01M559.0 362.9h.01M615.0 285.6h.01M606.0 350.4h.01M637.3 382.9h.01M632.2 382.2h.01M607.2 301.6h.01M562.9 319.2h.01M564.2 335.9h.01M585.7 338.3h.01M580.4 333.4h.01M573.7 333.6h.01M585.0 376.8h.01M589.7 285.2h.01M607.7 338.9h.01M646.6 368.7h.01M562.7 386.8h.01M672.8 309.2h.01M673.5 307.0h.01M574.3 385.7h.01M647.3 301.8h.01" stroke="#1e218e" stroke-width="1.5" stroke-linecap="round" fill="none" opacity="0.6"/>
<path d="M603.9 337.6h.01M603.8 356.1h.01M675.4 386.2h.01M610.6 332.3h.01M621.5 361.5h.01M659.1 323.4h.01M565.4 272.3h.01M565.5 348.6h.01M567.2 362.6h.01M579.5 280.8h.01M590.7 310.2h.01M573.6 323.1h.01M558.7 308.1h.01M645.9 360.1h.01M584.1 306.4h.01M638.5 292.9h.01M628.8 337.1h.01M566.8 368.2h.01M577.0 353.9h.01M613.3 347.7h.01M664.9 292.6h.01M642.0 301.2h.01M591.0 316.5h.01M663.0 343.4h.01M560.4 287.7h.01M562.8 287.9h.01" stroke="#343ac4" stroke-width="2.0" stroke-linecap="round" fill="none" opacity="0.6"/>
<path d="M603.8 338.7h.01M678.8 269.1h.01M581.0 312.0h.01M591.4 281.3h.01M601.0 334.0h.01M620.5 354.7h.01M672.0 273.6h.01M670.6 332.0h.01M591.4 280.5h.01M613.1 284.3h.01M627.9 322.6h.01M584.3 385.7h.01M551.7 319.6h.01M574.5 279.6h.01M657.5 318.8h.01M617.5 378.0h.01M628.9 391.6h.01M614.2 327.7h.01M579.6 296.9h.01M568.2 348.7h.01M614.6 313.7h.01M568.4 332.8h.01M609.0 361.9h.01M665.6 338.4h.01M668.9 298.0h.01M613.1 295.1h.01M610.6 295.8h.01M559.3 287.7h.01M635.7 289.3h.01M627.0 379.9h.01M668.1 326.2h.01M606.5 370.3h.01M606.7 366.9h.01M646.9 384.2h.01M666.4 334.1h.01M647.0 346.7h.01M580.3 356.0h.01M616.6 351.8h.01M673.2 317.4h.01M575.8 351.6h.01M601.0 309.2h.01M607.2 336.9h.01M645.2 370.7h.01M607.4 311.0h.01M674.5 307.9h.01M650.4 293.9h.01" stroke="#282cac" stroke-width="2.0" stroke-linecap="round" fill="none" opacity="0.6"/>
<path d="M616.2 304.7h.01M595.8 283.4h.01M574.0 335.0h.01M571.8 332.9h.01M657.1 297.9h.01M606.4 386.4h.01M584.4 376.8h.01M656.3 280.9h.01M615.0 287.6h.01M635.3 358.8h.01M571.0 348.7h.01M660.0 320.3h.01M644.6 299.7h.01M642.9 298.9h.01M580.9 386.4h.01M650.1 277.1h.01M635.6 271.1h.01M664.3 393.6h.01M575.0 279.1h.01M558.0 306.3h.01M676.5 372.7h.01M625.7 389.3h.01M599.7 391.6h.01M604.9 304.0h.01M554.4 276.7h.01M556.4 276.8h.01M651.2 364.6h.01M597.5 306.8h.01M591.4 326.0h.01M649.0 386.8h.01M577.5 339.2h.01M575.9 342.2h.01M574.9 270.8h.01M594.1 337.7h.01M576.5 351.6h.01M592.1 286.0h.01M591.5 286.0h.01M636.3 348.5h.01" stroke="#2529a4" stroke-width="1.5" stroke-linecap="round" fill="none" opacity="0.8"/>
<path d="M602.0 307.6h.01M620.4 356.4h.01M620.8 288.8h.01M658.3 368.7h.01M621.5 296.9h.01M557.6 346.6h.01M552.2 319.7h.01M627.5 382.5h.01M592.6 381.8h.01M621.6 384.6h.01M600.0 298.2h.01M652.5 366.4h.01M614.6 338.8h.01M616.8 298.5h.01M575.7 393.8h.01M611.3 379.1h.01M609.6 302.2h.01M588.1 392.2h.01M659.0 286.4h.01M618.4 303.7h.01M611.1 308.2h.01M612.4 303.7h.01M600.5 334.2h.01M594.6 271.1h.01M621.7 272.7h.01M590.1 338.1h.01M593.9 335.9h.01M588.0 320.0h.01M581.8 363.4h.01" stroke="#2529a4" stroke-width="2.5" stroke-linecap="round" fill="none" opacity="0.6"/>
<path d="M613.0 308.5h.01M651.6 297.5h.01M635.6 298.7h.01M602.6 317.7h.01M605.1 317.2h.01M665.3 346.2h.01M578.0 392.1h.01M574.0 328.5h.01M644.4 346.3h.01M596.1 308.4h.01M624.7 352.1h.01M637.5 363.6h.01M680.4 373.5h.01M559.6 315.9h.01M669.5 297.3h.01M667.4 294.8h.01M575.9 388.0h.01M638.1 290.5h.01M674.5 339.6h.01M650.2 291.8h.01M645.1 322.5h.01M617.4 301.9h.01M578.8 331.5h.01M609.0 309.3h.01M604.4 338.9h.01M670.3 310.8h.01M563.6 318.9h.01M593.4 340.4h.01M595.5 388.4h.01M614.5 371.3h.01" stroke="#282cac" stroke-width="2.0" stroke-linecap="round" fill="none" opacity="0.8"/>
<path d="M605.4 305.5h.01M580.7 348.5h.01M644.0 381.3h.01M673.3 329.9h.01M605.4 311.0h.01M592.9 279.6h.01M658.0 281.8h.01M648.9 328.9h.01M570.4 309.9h.01M632.9 287.9h.01M615.0 297.6h.01M575.0 357.0h.01M621.8 370.9h.01M637.6 275.0h.01M579.4 335.0h.01M575.0 319.9h.01M615.2 315.9h.01M613.1 380.4h.01M663.0 289.8h.01M650.5 318.1h.01M639.2 320.9h.01M664.1 271.9h.01M659.1 334.9h.01M614.7 296.5h.01M563.9 287.7h.01M582.5 392.8h.01M595.7 306.9h.01M652.5 367.6h.01M623.3 302.3h.01M648.8 307.6h.01M555.5 341.5h.01M589.2 285.4h.01" stroke="#282cac" stroke-width="1.5" stroke-linecap="round" fill="none" opacity="0.8"/>
<path d="M608.5 305.7h.01M631.5 365.1h.01M603.0 379.5h.01M573.5 393.6h.01M591.0 387.6h.01M565.9 345.6h.01M614.3 378.4h.01M636.0 271.0h.01M617.2 343.2h.01M663.6 299.6h.01M575.9 333.9h.01M591.2 358.4h.01M596.8 316.3h.01M610.1 377.0h.01M572.9 324.4h.01M658.4 368.2h.01M634.4 389.1h.01M577.7 332.6h.01M640.2 289.0h.01M614.6 302.4h.01M593.2 295.7h.01M646.1 303.3h.01" stroke="#1a1c7a" stroke-width="1.5" stroke-linecap="round" fill="none" opacity="0.6"/>
<path d="M615.2 306.6h.01M609.9 277.4h.01M664.2 357.4h.01M641.1 272.8h.01M562.6 310.6h.01M581.3 381.8h.01M660.4 289.5h.01M612.3 380.1h.01M646.6 322.3h.01M613.0 329.0h.01M554.5 300.2h.01M569.8 269.5h.01M557.9 353.5h.01M634.6 306.8h.01M563.1 366.3h.01M581.8 388.9h.01M588.8 389.9h.01M609.4 378.0h.01M593.5 387.3h.01M571.9 328.5h.01M576.7 362.7h.01M627.5 281.8h.01M593.3 270.7h.01M621.8 302.7h.01M640.8 389.4h.01M641.8 302.6h.01M590.4 361.8h.01M614.0 333.8h.01M614.8 374.8h.01M574.1 386.6h.01" stroke="#1a1c7a" stroke-width="1.5" stroke-linecap="round" fill="none" opacity="0.8"/>
<path d="M613.0 306.6h.01M607.3 275.9h.01M617.4 351.7h.01M619.7 357.6h.01M656.4 282.3h.01M630.3 305.2h.01M658.2 370.7h.01M588.4 385.6h.01M570.1 346.7h.01M569.8 278.7h.01M608.0 327.1h.01M611.1 379.6h.01M583.9 306.8h.01M678.4 340.2h.01M675.9 379.9h.01M668.3 361.3h.01M571.0 367.2h.01M581.6 318.9h.01M630.3 305.0h.01M585.8 379.3h.01M602.9 362.4h.01M615.0 316.8h.01M603.6 304.5h.01M593.6 325.1h.01M653.4 334.2h.01M592.9 272.2h.01M608.3 350.3h.01M569.2 351.9h.01M580.4 332.6h.01M609.7 300.2h.01M623.3 275.7h.01M589.0 318.9h.01M585.6 363.7h.01M601.8 349.6h.01M616.9 331.5h.01M644.5 369.4h.01M650.1 370.5h.01" stroke="#1e218e" stroke-width="2.0" stroke-linecap="round" fill="none" opacity="1"/>
<path d="M611.1 302.2h.01M602.2 337.3h.01M585.3 294.8h.01M650.7 297.8h.01M632.5 319.0h.01M662.7 358.0h.01M576.5 387.5h.01M569.0 272.1h.01M642.3 345.8h.01M566.7 349.7h.01M614.3 373.1h.01M623.7 383.5h.01M573.8 360.2h.01M602.1 296.9h.01M645.6 365.2h.01M556.4 319.3h.01M585.3 389.3h.01M583.6 387.0h.01M668.8 301.5h.01M632.3 378.8h.01M589.7 325.5h.01M629.5 278.7h.01M639.4 300.8h.01M565.3 342.3h.01M583.4 390.8h.01M609.1 350.4h.01M608.1 350.0h.01M563.9 353.5h.01M653.0 303.5h.01M615.6 298.3h.01M582.8 335.6h.01M590.0 319.3h.01M675.6 368.9h.01M661.8 348.3h.01M569.5 326.1h.01M673.9 306.3h.01M654.0 292.1h.01" stroke="#1a1c7a" stroke-width="2.0" stroke-linecap="round" fill="none" opacity="0.8"/>
<path d="M674.9 273.9h.01M643.6 380.3h.01M593.1 303.7h.01M640.7 285.6h.01M647.0 298.6h.01M666.5 362.9h.01M609.6 277.6h.01M647.5 348.3h.01M583.6 331.9h.01M639.9 362.0h.01M592.0 380.8h.01M559.8 363.8h.01M657.6 335.4h.01M611.6 337.9h.01M610.7 302.4h.01M623.6 340.5h.01M634.1 338.9h.01M600.5 365.7h.01M586.6 347.6h.01M584.7 345.7h.01M564.7 365.8h.01M615.1 349.6h.01M654.3 381.2h.01M587.8 334.5h.01M637.6 368.5h.01M622.0 293.8h.01M662.1 344.0h.01M566.9 333.7h.01M588.1 286.5h.01" stroke="#1a1c7a" stroke-width="1.5" stroke-linecap="round" fill="none" opacity="1"/>
<path d="M676.6 269.4h.01M573.7 272.6h.01M603.8 351.7h.01M631.1 288.3h.01M634.5 386.9h.01M671.5 341.9h.01" stroke="#1e218e" stroke-width="3.0" stroke-linecap="round" fill="none" opacity="0.8"/>
<path d="M677.4 273.4h.01M641.6 381.6h.01M617.5 343.2h.01M584.0 379.5h.01M574.9 310.1h.01M614.8 286.6h.01M561.1 321.8h.01M596.4 356.7h.01M557.6 319.7h.01M676.7 384.4h.01M613.4 379.2h.01M670.5 308.7h.01M586.4 388.1h.01M618.4 325.1h.01M670.8 344.5h.01M571.9 365.8h.01M672.3 342.6h.01M638.3 344.3h.01M623.1 342.4h.01M610.4 271.7h.01M557.5 307.4h.01M609.4 377.9h.01M613.1 380.7h.01M614.8 378.9h.01M621.2 275.4h.01M613.2 338.3h.01M617.8 359.0h.01M559.1 368.1h.01M596.6 325.8h.01M667.4 323.7h.01M669.0 325.3h.01M608.9 370.9h.01M582.1 348.5h.01M574.8 332.2h.01M586.9 354.6h.01M620.7 303.8h.01M545.6 342.9h.01M600.1 352.2h.01M584.0 377.1h.01M613.5 334.4h.01M676.5 342.8h.01" stroke="#2e32b8" stroke-width="2.0" stroke-linecap="round" fill="none" opacity="0.8"/>
<path d="M674.6 268.9h.01M601.0 310.3h.01M630.8 304.5h.01M631.0 321.4h.01M636.4 298.8h.01M630.1 391.5h.01M571.2 367.7h.01M571.0 307.2h.01M626.4 305.2h.01M576.1 280.3h.01M560.2 271.3h.01M665.0 269.3h.01M633.4 271.9h.01M611.1 291.8h.01M638.0 379.7h.01M616.3 359.4h.01M576.8 391.3h.01M582.9 356.8h.01M628.1 281.0h.01M675.4 296.6h.01M677.5 340.5h.01M575.9 325.8h.01M642.3 384.0h.01M595.4 337.2h.01M590.8 387.6h.01M567.9 325.2h.01M571.4 324.3h.01M678.7 343.0h.01" stroke="#343ac4" stroke-width="2.0" stroke-linecap="round" fill="none" opacity="0.8"/>
<path d="M676.6 271.4h.01M589.3 312.6h.01M591.7 280.0h.01M635.1 366.5h.01M632.5 296.2h.01M615.0 379.3h.01M564.1 388.9h.01M555.0 351.6h.01M629.5 307.3h.01M612.7 373.0h.01M653.8 303.0h.01M669.8 271.4h.01M599.3 357.8h.01M606.5 316.9h.01M588.7 391.3h.01M574.9 270.8h.01M651.4 322.3h.01M615.9 302.2h.01M647.6 299.8h.01M605.0 302.2h.01M638.6 389.5h.01M586.0 337.5h.01M595.2 387.7h.01M589.8 387.6h.01" stroke="#282cac" stroke-width="2.5" stroke-linecap="round" fill="none" opacity="0.6"/>
<path d="M576.0 346.0h.01M671.8 331.5h.01M575.1 293.0h.01M650.0 327.4h.01M571.1 279.4h.01M610.5 379.9h.01M613.0 378.2h.01M588.1 304.7h.01M572.1 385.8h.01M669.7 308.5h.01M572.8 351.2h.01M587.4 388.1h.01M560.3 298.3h.01M560.5 300.0h.01M572.6 328.8h.01M609.2 371.7h.01M555.2 321.9h.01M575.8 335.0h.01M584.0 355.8h.01M661.5 392.8h.01M556.4 293.4h.01M611.9 338.2h.01M591.0 358.7h.01M621.7 340.8h.01M558.3 366.6h.01M577.4 391.0h.01M594.4 308.7h.01M629.7 335.5h.01M602.7 369.1h.01M642.2 300.6h.01M610.8 288.5h.01M561.0 335.7h.01M562.3 271.4h.01M602.5 295.5h.01" stroke="#2529a4" stroke-width="2.0" stroke-linecap="round" fill="none" opacity="0.6"/>
<path d="M572.5 350.5h.01M676.7 333.5h.01M665.1 347.4h.01M639.9 344.3h.01M670.0 380.4h.01M587.4 353.7h.01M570.3 390.2h.01M561.7 361.0h.01M626.8 305.2h.01M618.1 376.6h.01M616.7 341.5h.01M610.6 328.4h.01M574.4 359.2h.01M625.5 381.4h.01M668.2 298.2h.01M581.6 390.3h.01M582.9 360.4h.01M649.0 387.0h.01M677.5 296.8h.01M645.6 291.5h.01M614.4 341.4h.01M620.4 302.9h.01M653.6 305.4h.01M618.2 298.6h.01M621.2 359.4h.01M592.9 284.7h.01" stroke="#2e32b8" stroke-width="2.5" stroke-linecap="round" fill="none" opacity="1"/>
<path d="M575.1 349.8h.01M609.5 299.3h.01M570.0 309.1h.01M604.5 284.3h.01M581.0 296.4h.01M553.9 323.2h.01M557.1 317.9h.01M563.8 333.9h.01M660.3 319.7h.01M674.9 382.6h.01M571.6 367.3h.01M586.1 318.3h.01M620.1 374.5h.01M575.4 361.2h.01M611.4 364.1h.01M623.5 365.1h.01M614.6 363.5h.01M652.9 366.8h.01M582.9 388.4h.01M615.4 293.0h.01M610.6 295.4h.01M559.4 286.6h.01M625.3 293.0h.01M574.8 338.2h.01M633.6 386.8h.01M571.9 270.2h.01M564.5 365.2h.01M579.4 326.8h.01M645.7 284.5h.01M661.1 379.0h.01M594.4 387.3h.01M601.5 295.0h.01" stroke="#1e218e" stroke-width="1.5" stroke-linecap="round" fill="none" opacity="0.8"/>
<path d="M567.0 346.3h.01M613.6 353.7h.01M599.9 337.5h.01M622.8 357.0h.01M618.2 344.6h.01M623.5 326.3h.01M624.8 329.1h.01M590.7 379.4h.01M630.6 320.7h.01M644.3 317.2h.01M652.0 323.7h.01M656.5 321.6h.01M609.0 371.4h.01M621.0 374.8h.01M568.9 389.6h.01M662.1 363.7h.01M662.7 302.6h.01M612.9 290.6h.01M608.1 272.3h.01M620.8 353.5h.01M588.6 380.6h.01M563.3 366.5h.01M555.5 324.2h.01M599.9 297.2h.01M616.1 295.8h.01M575.3 385.4h.01M656.6 367.0h.01M673.8 335.6h.01M595.1 366.7h.01M643.8 292.0h.01M648.1 300.6h.01M661.4 378.3h.01M595.4 268.2h.01M638.2 367.9h.01M574.8 377.3h.01M635.1 354.2h.01" stroke="#2e32b8" stroke-width="2.5" stroke-linecap="round" fill="none" opacity="0.6"/>
<path d="M574.7 346.9h.01M571.6 334.8h.01M674.7 331.5h.01M593.4 306.9h.01M642.8 297.0h.01M563.5 311.2h.01M642.1 286.6h.01M566.2 332.2h.01M576.6 281.5h.01M672.7 270.4h.01M613.7 295.4h.01M568.8 386.0h.01M560.5 369.0h.01M617.6 285.1h.01M672.7 324.2h.01M644.4 385.2h.01M564.8 377.1h.01M575.0 324.9h.01M638.2 387.7h.01M608.5 309.5h.01M565.0 337.1h.01M576.0 333.2h.01M631.4 287.9h.01M620.2 371.7h.01M672.7 340.6h.01M557.0 272.0h.01M627.9 304.2h.01" stroke="#2e32b8" stroke-width="1.5" stroke-linecap="round" fill="none" opacity="0.8"/>
<path d="M609.4 277.5h.01M653.6 298.9h.01M625.3 325.1h.01M598.0 384.8h.01M645.5 348.3h.01M609.7 372.1h.01M566.5 348.7h.01M590.4 360.3h.01M613.2 326.5h.01M575.3 390.8h.01M631.5 383.2h.01M594.1 270.5h.01" stroke="#282cac" stroke-width="3.0" stroke-linecap="round" fill="none" opacity="0.8"/>
<path d="M609.5 277.4h.01M575.8 331.5h.01M576.2 330.8h.01M559.9 337.0h.01M573.8 312.3h.01M587.5 280.3h.01M626.5 287.2h.01M577.8 293.1h.01M679.8 385.4h.01M636.0 299.8h.01M581.4 386.5h.01M609.4 374.0h.01M585.1 311.1h.01M612.6 375.4h.01M618.9 375.9h.01M567.2 389.3h.01M616.3 371.4h.01M582.0 318.3h.01M572.4 324.0h.01M568.2 323.0h.01M568.9 332.1h.01M622.2 363.8h.01M652.0 365.7h.01M610.2 305.0h.01M584.2 358.9h.01M610.5 381.9h.01M590.2 357.1h.01M576.9 357.7h.01M658.6 376.2h.01M655.1 377.5h.01M576.4 338.9h.01M649.4 369.6h.01M660.8 289.0h.01M641.7 289.2h.01M647.8 298.5h.01M662.9 292.9h.01M564.8 318.2h.01M611.1 328.6h.01M642.2 368.0h.01M661.2 345.4h.01M633.5 351.5h.01M609.1 290.6h.01M604.5 312.2h.01" stroke="#1a1c7a" stroke-width="2.5" stroke-linecap="round" fill="none" opacity="0.6"/>
<path d="M608.8 276.4h.01M634.8 271.5h.01M571.1 277.3h.01M631.9 285.9h.01M614.3 296.5h.01M660.9 290.0h.01M614.5 378.3h.01M613.5 328.1h.01M629.9 381.8h.01M592.9 308.9h.01M600.4 390.7h.01M650.5 365.1h.01M568.4 383.7h.01M588.5 306.6h.01M630.2 342.7h.01M675.7 332.5h.01M597.0 364.1h.01M578.9 360.2h.01M636.1 303.1h.01M597.1 339.2h.01M671.4 316.9h.01M581.7 375.5h.01M562.8 272.8h.01M668.5 308.3h.01M671.0 278.1h.01" stroke="#2529a4" stroke-width="3.0" stroke-linecap="round" fill="none" opacity="0.8"/>
<path d="M605.9 276.9h.01M659.5 323.9h.01M642.4 271.5h.01M571.3 276.6h.01M579.8 273.3h.01M594.0 382.9h.01M628.0 272.2h.01M560.2 286.0h.01M568.9 344.3h.01M574.9 342.2h.01M636.1 383.7h.01M644.1 302.9h.01" stroke="#282cac" stroke-width="3.0" stroke-linecap="round" fill="none" opacity="1"/>
<path d="M608.0 275.3h.01M660.6 326.8h.01M607.5 314.0h.01M648.4 298.9h.01M635.8 297.6h.01M663.4 357.6h.01M640.3 287.3h.01M579.6 387.2h.01M586.7 387.0h.01M617.7 296.5h.01M582.6 305.0h.01M638.2 359.4h.01M558.9 291.1h.01M614.6 371.3h.01M582.4 380.4h.01M615.5 379.3h.01M595.5 348.6h.01M662.5 334.7h.01M552.2 315.9h.01M606.5 364.3h.01M653.0 344.4h.01M580.1 353.2h.01M646.0 284.7h.01M611.8 310.3h.01M605.3 304.0h.01M664.2 292.8h.01M588.9 321.8h.01M566.9 277.0h.01M627.6 303.4h.01M655.0 294.2h.01" stroke="#2e32b8" stroke-width="3.0" stroke-linecap="round" fill="none" opacity="0.6"/>
<path d="M638.8 381.1h.01M593.9 280.2h.01M621.1 343.7h.01M644.7 298.6h.01M606.0 315.6h.01M610.5 329.3h.01M626.9 291.0h.01M618.4 280.2h.01M585.4 379.3h.01M625.6 383.1h.01M588.2 308.1h.01M577.3 362.7h.01M589.0 326.6h.01M649.0 385.6h.01M583.1 354.5h.01M641.1 306.3h.01M645.5 300.7h.01M659.8 377.7h.01M641.0 275.1h.01M603.4 337.4h.01M611.0 292.9h.01" stroke="#2529a4" stroke-width="1.5" stroke-linecap="round" fill="none" opacity="1"/>
<path d="M645.1 380.2h.01M600.4 338.5h.01M605.2 383.4h.01M654.1 282.0h.01M615.3 287.1h.01M663.3 329.3h.01M639.4 366.6h.01M572.0 300.1h.01M672.5 384.7h.01M581.3 354.5h.01M596.0 388.2h.01M673.3 339.5h.01M667.2 361.3h.01M644.8 351.6h.01M607.2 373.1h.01M570.8 364.7h.01M676.1 342.8h.01M555.1 316.0h.01M625.8 341.1h.01M652.3 363.6h.01M666.5 341.7h.01M576.4 327.9h.01M559.7 325.0h.01M667.4 390.3h.01M673.1 391.3h.01M648.4 301.2h.01M614.7 303.5h.01M674.1 310.4h.01M569.1 318.6h.01M662.2 346.3h.01M636.1 368.4h.01" stroke="#1a1c7a" stroke-width="2.0" stroke-linecap="round" fill="none" opacity="1"/>
<path d="M645.2 382.1h.01M617.0 353.0h.01M673.6 331.5h.01M605.7 384.5h.01M594.6 311.8h.01M576.1 291.5h.01M607.9 317.7h.01M611.5 380.0h.01M644.3 317.2h.01M648.9 316.3h.01M572.2 365.9h.01M569.7 391.4h.01M665.1 365.3h.01M626.5 378.1h.01M656.4 272.2h.01M645.2 360.5h.01M549.8 325.5h.01M604.9 296.9h.01M600.1 302.3h.01M615.6 337.3h.01M576.0 295.1h.01M575.5 334.7h.01M586.5 353.8h.01M625.0 298.0h.01M613.4 307.7h.01M586.0 320.9h.01M636.0 351.2h.01M564.4 272.4h.01" stroke="#343ac4" stroke-width="1.5" stroke-linecap="round" fill="none" opacity="0.6"/>
<path d="M636.7 379.7h.01M572.1 331.8h.01M574.8 333.6h.01M559.8 336.4h.01M621.1 300.3h.01M605.0 316.5h.01M577.9 381.9h.01M666.6 291.5h.01M619.6 374.2h.01M621.7 272.2h.01M611.8 292.7h.01M573.5 294.8h.01M608.7 379.7h.01M673.2 335.9h.01M586.6 345.0h.01M573.8 270.6h.01M645.7 300.3h.01M622.3 275.2h.01M619.7 293.9h.01M620.9 331.0h.01M647.8 305.2h.01" stroke="#2e32b8" stroke-width="3.0" stroke-linecap="round" fill="none" opacity="0.8"/>
<path d="M642.8 382.4h.01M596.3 281.0h.01M679.1 272.9h.01M623.8 345.4h.01M656.3 298.5h.01M595.2 302.6h.01M625.9 307.4h.01M568.4 298.6h.01M644.1 317.6h.01M607.9 296.6h.01M592.2 383.1h.01M627.3 359.5h.01M632.6 370.9h.01M612.3 372.5h.01M580.4 298.6h.01M614.2 378.1h.01M655.6 366.0h.01M624.3 379.3h.01M590.1 358.4h.01M645.3 272.3h.01M635.9 339.9h.01M613.9 274.2h.01M650.0 320.6h.01M649.0 319.7h.01M672.2 274.2h.01M579.0 388.9h.01M554.2 289.4h.01M631.1 378.5h.01M672.5 332.6h.01M580.7 324.9h.01M570.0 350.0h.01M607.6 307.4h.01M553.0 343.1h.01M590.1 268.6h.01M679.2 368.3h.01M663.8 346.4h.01" stroke="#2e32b8" stroke-width="2.0" stroke-linecap="round" fill="none" opacity="1"/>
<path d="M587.2 347.0h.01M586.9 291.7h.01M621.9 327.9h.01M605.8 284.9h.01M617.2 286.5h.01M621.5 286.0h.01M608.8 314.7h.01M599.7 354.9h.01M555.8 318.9h.01M624.5 284.2h.01M662.1 320.3h.01M649.5 321.7h.01M650.8 322.3h.01M559.3 345.1h.01M637.0 343.8h.01M582.7 273.0h.01M616.7 370.4h.01M566.3 349.3h.01M613.9 292.6h.01M616.6 366.2h.01M619.2 354.3h.01M605.3 371.7h.01M607.9 370.8h.01M591.3 390.7h.01M590.3 391.9h.01M569.2 379.2h.01M678.8 337.5h.01M595.5 363.6h.01M576.8 323.4h.01M647.1 344.7h.01M623.6 279.9h.01M632.6 385.5h.01M580.0 334.4h.01M614.5 285.5h.01M580.9 329.5h.01M592.4 271.2h.01M620.4 276.3h.01M641.9 275.5h.01M611.7 370.4h.01M566.9 388.4h.01M651.5 288.8h.01" stroke="#2e32b8" stroke-width="2.0" stroke-linecap="round" fill="none" opacity="0.6"/>
<path d="M587.4 349.6h.01M627.6 327.4h.01M615.3 298.9h.01M590.2 277.4h.01M556.8 322.2h.01M637.8 287.8h.01M569.8 365.6h.01M562.7 306.5h.01M588.4 353.3h.01M628.9 378.7h.01M607.2 365.7h.01M576.3 294.6h.01M562.2 368.8h.01M575.0 392.6h.01M608.4 316.1h.01M656.3 387.9h.01M664.4 338.3h.01M584.4 346.5h.01M607.9 349.9h.01M608.8 332.1h.01M646.2 274.3h.01M671.1 366.9h.01M639.3 384.5h.01M616.4 375.5h.01M613.0 291.0h.01" stroke="#2529a4" stroke-width="2.5" stroke-linecap="round" fill="none" opacity="1"/>
<path d="M594.5 350.0h.01M595.6 313.2h.01M557.1 319.3h.01M610.5 315.1h.01M639.9 296.0h.01M591.5 307.3h.01M566.8 387.3h.01M667.0 308.6h.01M564.5 272.0h.01M676.8 343.6h.01M625.5 272.0h.01M565.8 309.0h.01M612.3 363.6h.01M649.1 366.0h.01M558.1 377.8h.01M557.7 380.5h.01M611.9 293.0h.01M569.9 384.0h.01M617.0 355.5h.01M629.8 279.0h.01M669.0 298.6h.01M677.0 296.1h.01M588.3 392.2h.01M576.6 328.1h.01M559.1 354.4h.01M626.8 292.1h.01M643.1 300.0h.01M560.3 317.7h.01M676.6 342.5h.01M631.3 303.8h.01" stroke="#2529a4" stroke-width="2.5" stroke-linecap="round" fill="none" opacity="0.8"/>
<path d="M617.1 351.5h.01M596.9 278.6h.01M573.4 333.2h.01M619.2 342.0h.01M651.0 296.8h.01M573.0 309.0h.01M574.7 310.9h.01M635.0 356.5h.01M634.0 364.9h.01M649.6 329.3h.01M663.7 358.4h.01M567.4 309.4h.01M568.9 309.6h.01M586.0 388.2h.01M677.6 339.2h.01M629.1 271.4h.01M575.2 309.5h.01M593.5 308.5h.01M612.2 326.5h.01M575.0 325.8h.01M555.9 307.6h.01M561.9 272.5h.01M549.1 316.5h.01M580.5 306.1h.01M606.3 371.0h.01M623.6 280.4h.01M587.8 392.5h.01M599.4 364.4h.01M658.3 374.7h.01M631.2 289.4h.01M578.5 340.3h.01M581.4 333.0h.01M645.2 347.5h.01M581.6 272.4h.01M574.1 348.4h.01M567.1 353.8h.01M559.7 352.1h.01M648.6 305.6h.01M608.2 308.0h.01M614.5 303.7h.01M553.1 343.0h.01M566.0 285.4h.01" stroke="#282cac" stroke-width="2.0" stroke-linecap="round" fill="none" opacity="1"/>
<path d="M620.4 352.9h.01M589.1 313.3h.01M626.8 329.0h.01M574.1 289.8h.01M658.3 369.8h.01M568.4 347.6h.01M601.6 379.7h.01M590.7 303.9h.01M666.7 307.8h.01M667.3 308.6h.01M555.8 352.8h.01M563.6 362.4h.01M617.3 291.4h.01M563.8 365.8h.01M556.2 324.2h.01M656.9 288.3h.01M601.3 294.9h.01M561.0 271.2h.01M559.6 274.2h.01M550.6 274.6h.01M577.9 387.4h.01M618.7 283.5h.01M674.8 300.1h.01M591.2 390.7h.01M589.9 389.6h.01M587.0 366.6h.01M644.1 349.0h.01M654.7 366.6h.01M629.0 279.7h.01M634.0 384.0h.01M637.2 383.0h.01M634.2 385.3h.01M668.6 393.4h.01M648.7 300.3h.01M586.8 320.7h.01M624.2 360.5h.01M578.5 279.7h.01M602.2 367.9h.01M644.3 369.7h.01M600.3 295.6h.01" stroke="#2529a4" stroke-width="2.0" stroke-linecap="round" fill="none" opacity="0.8"/>
<path d="M618.6 353.8h.01M659.2 299.8h.01M673.1 308.3h.01M664.5 287.7h.01M646.1 277.0h.01M672.2 344.0h.01M625.4 276.0h.01M615.1 368.6h.01M553.0 323.7h.01M565.2 393.2h.01M665.0 393.0h.01M664.4 363.6h.01M636.5 361.2h.01M601.8 303.8h.01M647.7 367.9h.01M581.8 388.5h.01M591.3 359.1h.01M626.8 337.0h.01M559.0 364.8h.01M570.3 322.4h.01M642.8 288.8h.01M641.8 302.7h.01M656.3 334.9h.01M639.6 343.6h.01M617.4 339.5h.01M616.2 340.8h.01M607.4 309.2h.01M664.1 291.9h.01M642.4 299.0h.01M614.9 334.5h.01M637.0 352.9h.01" stroke="#282cac" stroke-width="1.5" stroke-linecap="round" fill="none" opacity="0.6"/>
<path d="M622.5 352.9h.01M621.1 356.7h.01M649.0 297.0h.01M577.5 291.9h.01M613.0 317.5h.01M675.5 387.2h.01M650.7 298.5h.01M638.7 343.2h.01M669.2 346.6h.01M560.2 387.6h.01M569.1 387.8h.01M630.2 305.9h.01M645.2 365.0h.01M671.7 334.7h.01M613.6 339.5h.01M584.2 391.2h.01M586.0 303.8h.01M583.3 360.2h.01M557.2 288.2h.01M609.3 380.9h.01M576.0 326.6h.01M634.8 289.7h.01M582.6 347.7h.01M639.2 346.2h.01M648.6 301.2h.01M552.8 342.2h.01M620.3 292.3h.01M666.0 309.8h.01M593.2 268.7h.01M636.0 304.4h.01M663.8 345.8h.01M633.0 355.7h.01M644.1 369.8h.01M617.1 374.9h.01M675.6 341.4h.01M668.5 278.1h.01" stroke="#1e218e" stroke-width="2.5" stroke-linecap="round" fill="none" opacity="0.6"/>
<path d="M594.3 314.3h.01M615.2 299.2h.01M611.4 287.3h.01M600.2 379.8h.01M589.2 304.6h.01M611.3 297.4h.01M651.7 277.0h.01M675.9 340.8h.01M630.3 392.2h.01M651.1 276.2h.01M617.6 278.8h.01M624.8 295.3h.01M585.1 309.2h.01M630.7 342.6h.01M561.0 289.8h.01M559.5 287.4h.01M598.0 307.0h.01M560.1 369.0h.01M572.0 333.3h.01M637.0 339.5h.01M616.3 277.2h.01M558.8 313.8h.01M618.0 297.8h.01M643.0 376.5h.01M579.5 392.6h.01M581.8 324.5h.01M681.3 335.9h.01M574.2 324.6h.01M627.5 281.5h.01M629.7 284.4h.01M654.2 291.8h.01M561.9 366.2h.01M616.7 285.8h.01M635.6 344.5h.01M547.5 342.4h.01M623.8 291.3h.01M580.2 386.4h.01M652.8 290.0h.01M671.6 279.2h.01" stroke="#1e218e" stroke-width="2.5" stroke-linecap="round" fill="none" opacity="0.8"/>
<path d="M582.3 313.2h.01M575.4 329.9h.01M632.6 354.8h.01M657.0 370.5h.01M551.0 320.0h.01M659.3 302.9h.01M600.0 392.2h.01M570.7 331.6h.01M600.7 305.0h.01M582.4 392.4h.01M580.6 334.9h.01M632.8 290.1h.01M672.4 308.6h.01" stroke="#1a1c7a" stroke-width="3.0" stroke-linecap="round" fill="none" opacity="1"/>
<path d="M580.5 311.4h.01M592.0 280.3h.01M594.9 278.8h.01M578.3 292.5h.01M569.8 301.6h.01M628.6 319.6h.01M629.1 322.1h.01M569.6 348.4h.01M569.4 349.8h.01M605.1 325.3h.01M573.3 385.7h.01M609.9 377.9h.01M562.3 345.6h.01M556.2 321.8h.01M553.2 321.6h.01M635.2 344.0h.01M626.0 377.2h.01M572.1 322.0h.01M557.6 324.4h.01M584.7 307.9h.01M627.9 271.3h.01M597.2 358.6h.01M614.9 360.5h.01M610.1 379.0h.01M627.7 280.2h.01M579.6 333.7h.01M676.0 310.4h.01M616.4 275.8h.01M575.3 318.1h.01M565.5 318.0h.01M618.1 328.4h.01M594.6 384.9h.01M589.1 285.8h.01M605.6 291.8h.01" stroke="#2e32b8" stroke-width="2.5" stroke-linecap="round" fill="none" opacity="0.8"/>
<path d="M582.5 316.2h.01M579.8 292.7h.01M558.3 322.7h.01M555.9 318.1h.01M611.2 329.3h.01M590.7 306.5h.01M639.8 346.8h.01M681.7 379.4h.01M577.3 325.4h.01M560.7 345.0h.01M568.9 304.1h.01M573.6 389.1h.01M632.3 307.8h.01M593.4 382.2h.01M680.3 372.8h.01M618.8 380.7h.01M659.7 290.3h.01M579.6 387.8h.01M616.1 360.0h.01M627.1 340.7h.01M592.2 387.0h.01M576.9 327.5h.01M661.7 286.6h.01M596.0 387.1h.01M650.0 300.6h.01M573.8 277.5h.01M598.2 367.6h.01M626.1 338.5h.01" stroke="#282cac" stroke-width="1.5" stroke-linecap="round" fill="none" opacity="1"/>
<path d="M597.3 279.3h.01M670.5 275.4h.01M667.5 332.5h.01M659.5 281.3h.01M560.6 321.4h.01M665.7 347.3h.01M663.1 358.0h.01M611.6 295.5h.01M675.9 338.3h.01M563.9 302.3h.01M556.1 322.0h.01M576.1 335.7h.01M605.8 374.7h.01M615.0 372.5h.01M593.4 380.4h.01M639.0 319.8h.01M582.6 306.0h.01M627.3 273.4h.01M635.6 286.7h.01M628.5 334.9h.01M613.2 305.2h.01M596.1 356.7h.01M657.9 386.6h.01M643.0 351.2h.01M659.6 368.6h.01M583.8 345.6h.01M612.3 349.2h.01M625.9 321.0h.01M672.4 310.8h.01M577.2 281.0h.01M573.0 278.9h.01M628.2 339.5h.01M644.6 301.0h.01" stroke="#1e218e" stroke-width="2.0" stroke-linecap="round" fill="none" opacity="0.8"/>
<path d="M598.8 281.6h.01M571.9 312.2h.01M585.1 305.5h.01M666.7 288.2h.01M631.8 390.2h.01M562.3 300.5h.01M563.4 301.2h.01M582.4 307.5h.01M578.8 274.9h.01M617.6 272.0h.01M615.3 351.4h.01M560.8 271.0h.01M599.9 345.3h.01M608.5 302.8h.01M609.2 364.4h.01M575.8 385.4h.01M575.1 297.6h.01M593.9 307.9h.01M586.0 392.2h.01M555.4 342.9h.01M606.8 291.8h.01M674.6 306.5h.01" stroke="#282cac" stroke-width="2.5" stroke-linecap="round" fill="none" opacity="1"/>
<path d="M595.7 281.5h.01M580.5 292.5h.01M622.8 283.7h.01M630.1 363.4h.01M633.3 365.0h.01M628.5 308.8h.01M634.6 320.7h.01M632.9 272.8h.01M671.5 341.4h.01M556.7 302.9h.01M580.1 336.9h.01M660.6 396.0h.01M658.5 363.3h.01M558.3 366.3h.01M561.9 366.9h.01M572.3 332.2h.01M623.0 386.7h.01M600.7 297.9h.01M589.9 388.0h.01M611.3 363.7h.01M629.2 380.2h.01M594.9 316.9h.01M616.5 305.2h.01M574.3 339.4h.01M586.9 342.8h.01M589.9 333.4h.01M600.6 332.1h.01M662.7 344.7h.01M614.4 331.7h.01M571.3 334.0h.01M559.5 275.2h.01M562.3 388.1h.01M601.6 315.1h.01" stroke="#343ac4" stroke-width="2.5" stroke-linecap="round" fill="none" opacity="0.6"/>
<path d="M598.5 336.3h.01M589.7 381.7h.01M574.1 385.8h.01M668.3 310.0h.01M629.7 372.6h.01M614.8 371.7h.01M582.0 300.8h.01M570.5 347.7h.01M612.7 343.3h.01M590.9 310.9h.01M594.8 361.8h.01M559.3 302.9h.01M615.9 380.1h.01M599.7 294.3h.01M577.3 390.6h.01M622.5 270.2h.01M637.7 379.5h.01M563.3 368.3h.01M589.4 326.4h.01M595.7 338.9h.01M596.9 342.2h.01M610.5 301.9h.01M613.6 306.9h.01M642.0 367.8h.01M580.8 374.6h.01M639.1 286.0h.01M598.5 367.9h.01M614.9 372.5h.01" stroke="#343ac4" stroke-width="2.0" stroke-linecap="round" fill="none" opacity="1"/>
<path d="M586.9 293.1h.01M630.3 365.2h.01M635.4 369.0h.01M569.8 280.4h.01M582.2 382.9h.01M579.6 380.9h.01M667.9 308.0h.01M618.0 379.9h.01M567.5 310.7h.01M627.9 305.0h.01M625.9 378.1h.01M625.0 385.7h.01M588.8 388.2h.01M577.4 388.3h.01M582.4 361.5h.01M633.4 339.9h.01M671.3 336.8h.01M568.6 325.5h.01M655.0 368.4h.01M617.4 335.6h.01M609.9 334.2h.01M577.2 280.7h.01" stroke="#1e218e" stroke-width="1.5" stroke-linecap="round" fill="none" opacity="1"/>
<path d="M586.6 299.0h.01M629.7 319.0h.01M570.0 366.9h.01M614.5 377.4h.01M568.1 271.1h.01M604.3 294.7h.01M563.7 290.0h.01M619.0 302.8h.01M593.7 386.1h.01M603.8 306.0h.01" stroke="#1e218e" stroke-width="3.0" stroke-linecap="round" fill="none" opacity="0.6"/>
<path d="M622.1 355.2h.01M611.5 284.4h.01M636.2 368.1h.01M566.5 299.0h.01M605.2 316.4h.01M553.7 317.5h.01M627.9 289.9h.01M580.2 301.3h.01M558.1 272.5h.01M559.9 290.0h.01M612.1 272.5h.01M626.2 386.1h.01M602.8 346.4h.01M665.6 331.5h.01M677.4 272.3h.01M583.6 305.9h.01M595.6 315.9h.01M658.5 289.6h.01M649.2 303.0h.01M587.3 272.1h.01M623.6 330.4h.01M651.7 293.9h.01" stroke="#343ac4" stroke-width="1.5" stroke-linecap="round" fill="none" opacity="1"/>
<path d="M622.5 359.7h.01M607.2 308.7h.01M628.3 292.2h.01M647.4 317.2h.01M678.2 340.4h.01M571.3 326.5h.01M642.1 357.9h.01M594.0 359.1h.01M617.2 351.2h.01M626.7 386.7h.01M557.0 271.9h.01M645.5 319.0h.01M603.1 304.1h.01M596.5 315.9h.01M675.3 337.8h.01M656.6 375.3h.01M587.5 337.0h.01M567.1 317.4h.01M639.7 368.8h.01M595.5 337.8h.01M616.1 359.4h.01" stroke="#282cac" stroke-width="3.0" stroke-linecap="round" fill="none" opacity="0.6"/>
<path d="M620.3 358.4h.01M674.1 332.0h.01M668.3 328.4h.01M621.2 285.2h.01M609.9 315.7h.01M657.5 369.0h.01M608.4 326.6h.01M624.0 281.9h.01M615.2 298.1h.01M638.8 348.0h.01M629.9 390.4h.01M621.8 280.5h.01M585.1 308.4h.01M587.5 307.5h.01M667.4 344.0h.01M566.9 306.2h.01M627.1 385.3h.01M565.1 368.0h.01M618.7 385.6h.01M554.7 316.6h.01M680.0 274.7h.01M607.2 365.8h.01M573.7 328.3h.01M657.5 366.8h.01M657.8 369.5h.01M567.8 270.3h.01M570.1 327.2h.01M570.6 322.1h.01M615.1 283.7h.01M570.2 352.6h.01M651.3 306.3h.01M625.5 275.3h.01M590.9 364.9h.01M673.9 367.3h.01M643.2 369.8h.01M674.8 342.2h.01" stroke="#1a1c7a" stroke-width="2.0" stroke-linecap="round" fill="none" opacity="0.6"/>
<path d="M672.8 273.5h.01M652.8 281.6h.01M603.2 316.4h.01M656.5 369.5h.01M637.1 271.6h.01M603.9 380.6h.01M659.7 287.2h.01M611.6 378.0h.01M575.3 387.9h.01M590.9 309.1h.01M637.4 359.3h.01M554.3 323.6h.01M597.9 348.4h.01M602.6 360.1h.01M593.4 306.2h.01M610.8 381.9h.01M681.0 335.1h.01M670.9 341.3h.01M568.8 323.9h.01M647.4 291.9h.01M645.0 285.4h.01M669.8 316.0h.01M594.9 271.2h.01" stroke="#282cac" stroke-width="2.5" stroke-linecap="round" fill="none" opacity="0.8"/>
<path d="M673.1 272.4h.01M560.6 337.8h.01M593.7 302.4h.01M577.0 295.2h.01M630.3 307.5h.01M647.6 326.8h.01M613.8 314.0h.01M581.8 384.9h.01M673.1 383.6h.01M663.2 357.2h.01M664.1 319.6h.01M645.8 277.3h.01M563.0 345.0h.01M565.0 344.6h.01M637.3 360.0h.01M561.8 305.4h.01M594.5 381.0h.01M590.6 380.8h.01M670.4 289.0h.01M557.5 272.4h.01M619.5 362.5h.01M604.6 304.5h.01M556.2 381.5h.01M604.8 363.2h.01M616.8 357.8h.01M669.7 326.0h.01M668.5 323.3h.01M650.5 293.4h.01M640.9 291.3h.01M639.2 306.3h.01M652.5 331.0h.01M585.9 271.6h.01M620.7 303.1h.01M569.3 351.1h.01M579.6 331.8h.01M634.4 382.8h.01M635.2 389.5h.01M629.5 276.5h.01M574.1 332.3h.01M675.9 341.6h.01" stroke="#2529a4" stroke-width="2.0" stroke-linecap="round" fill="none" opacity="1"/>
<path d="M654.2 296.2h.01M656.5 366.6h.01M600.3 355.9h.01M650.1 275.1h.01M561.4 344.7h.01M568.6 390.2h.01M577.0 280.3h.01M629.7 379.0h.01M575.0 331.7h.01M600.6 331.4h.01M631.9 352.3h.01M626.9 337.1h.01" stroke="#2e32b8" stroke-width="3.0" stroke-linecap="round" fill="none" opacity="1"/>
<path d="M595.7 311.2h.01M628.3 306.9h.01M572.4 298.8h.01M592.1 384.8h.01M571.1 310.3h.01M572.5 352.9h.01M622.6 278.0h.01M578.0 328.6h.01M587.1 299.5h.01M589.7 319.2h.01M664.9 302.3h.01M627.7 382.8h.01M623.7 351.5h.01M614.1 313.2h.01M635.3 339.5h.01M575.0 390.6h.01M563.1 288.0h.01M665.0 337.6h.01M623.0 280.3h.01M635.7 387.1h.01M581.9 268.6h.01M613.0 304.2h.01M640.8 370.0h.01M623.1 293.3h.01M670.3 367.6h.01" stroke="#1a1c7a" stroke-width="2.5" stroke-linecap="round" fill="none" opacity="0.8"/>
<path d="M588.3 380.7h.01M575.1 311.9h.01M593.1 278.9h.01M593.8 306.2h.01M601.8 314.6h.01M565.4 334.4h.01M581.8 386.0h.01M612.4 377.3h.01M649.5 324.4h.01M647.5 347.9h.01M641.2 359.1h.01M587.4 354.2h.01M639.0 342.7h.01M581.4 272.6h.01M572.3 331.5h.01M571.6 333.3h.01M582.1 329.7h.01M608.3 272.2h.01M626.6 386.3h.01M572.2 332.6h.01M648.7 359.8h.01M601.5 346.4h.01M583.1 387.9h.01M680.4 271.5h.01M579.1 387.8h.01M555.0 275.3h.01M576.7 327.5h.01M646.8 289.1h.01M632.8 293.1h.01M573.9 340.5h.01M634.9 388.7h.01M646.4 290.3h.01M636.5 346.1h.01M612.8 306.0h.01M586.6 334.5h.01M586.9 390.8h.01" stroke="#343ac4" stroke-width="2.5" stroke-linecap="round" fill="none" opacity="1"/>
<path d="M611.1 288.3h.01M637.6 299.7h.01M615.7 378.3h.01M627.6 392.9h.01M559.2 301.9h.01M621.4 297.1h.01M564.5 271.9h.01M585.1 352.7h.01M572.9 318.6h.01M661.6 303.3h.01M607.4 271.9h.01M596.9 392.3h.01M634.5 339.5h.01M650.3 360.1h.01M609.3 364.1h.01M571.4 343.1h.01M594.3 337.8h.01M617.1 322.6h.01M629.2 291.3h.01M597.2 294.2h.01" stroke="#2e32b8" stroke-width="1.5" stroke-linecap="round" fill="none" opacity="0.6"/>
<path d="M660.0 328.0h.01M663.0 327.2h.01M577.0 352.1h.01M677.6 339.9h.01M618.5 328.2h.01M565.2 306.5h.01M659.5 364.9h.01M601.3 389.1h.01M641.9 320.2h.01M671.6 324.5h.01M571.7 346.1h.01M578.2 278.5h.01M653.3 369.5h.01M627.4 384.3h.01M556.9 275.2h.01" stroke="#343ac4" stroke-width="3.0" stroke-linecap="round" fill="none" opacity="0.8"/>
<path d="M661.8 329.7h.01M615.1 288.7h.01M675.8 382.0h.01M616.9 377.1h.01M565.5 313.0h.01M570.2 387.2h.01M617.6 327.7h.01M570.6 271.2h.01M613.2 271.8h.01M616.4 305.1h.01M590.2 386.9h.01M675.6 334.9h.01M675.3 334.8h.01M572.6 324.1h.01M576.1 270.6h.01M568.5 325.0h.01M600.5 295.5h.01" stroke="#2529a4" stroke-width="3.0" stroke-linecap="round" fill="none" opacity="0.6"/>
<path d="M662.4 325.7h.01M556.7 323.3h.01M579.0 383.6h.01M621.7 282.7h.01M585.8 330.6h.01M648.6 361.3h.01M648.7 383.4h.01M589.3 392.5h.01M600.1 386.0h.01M654.8 379.7h.01M573.3 333.3h.01M637.7 287.6h.01M608.8 290.7h.01M624.1 304.0h.01M672.4 308.3h.01" stroke="#2529a4" stroke-width="1.5" stroke-linecap="round" fill="none" opacity="0.6"/>
<path d="M635.1 355.1h.01M628.4 393.0h.01M611.5 293.6h.01M619.8 385.0h.01M617.3 385.9h.01M558.1 268.1h.01M619.9 283.3h.01M571.1 351.6h.01M675.6 310.8h.01M624.7 337.3h.01" stroke="#1a1c7a" stroke-width="3.0" stroke-linecap="round" fill="none" opacity="0.8"/>
<path d="M571.6 291.9h.01M553.6 322.6h.01M608.0 319.0h.01M644.5 315.0h.01M563.1 293.5h.01M615.8 370.8h.01M668.8 269.8h.01M673.0 272.1h.01M607.2 364.2h.01M620.4 283.4h.01M679.2 295.8h.01M572.5 323.9h.01M650.3 301.4h.01M607.7 307.0h.01" stroke="#1e218e" stroke-width="3.0" stroke-linecap="round" fill="none" opacity="1"/>
<path d="M639.1 298.2h.01M628.1 369.8h.01M609.1 370.7h.01M631.3 349.2h.01M563.8 290.5h.01M607.6 374.1h.01M576.4 361.4h.01M624.7 384.5h.01M650.1 360.3h.01M584.1 359.0h.01M557.8 369.5h.01M616.5 303.6h.01M593.7 338.7h.01M651.1 305.1h.01M613.2 299.1h.01M547.5 342.2h.01M640.7 299.6h.01M590.5 286.3h.01M669.3 280.1h.01" stroke="#343ac4" stroke-width="1.5" stroke-linecap="round" fill="none" opacity="0.8"/>
<path d="M628.2 320.9h.01M612.3 332.7h.01M562.6 334.6h.01M573.8 360.8h.01M666.5 335.3h.01M642.8 300.8h.01M642.9 291.9h.01M671.1 313.8h.01M591.9 320.8h.01M627.3 386.0h.01M604.4 313.3h.01" stroke="#1a1c7a" stroke-width="3.0" stroke-linecap="round" fill="none" opacity="0.6"/>
<path d="M610.6 328.8h.01M610.7 330.4h.01M575.9 393.4h.01M659.5 319.7h.01M611.7 296.8h.01M642.8 298.9h.01M647.8 277.6h.01M585.5 330.4h.01M588.4 359.5h.01M620.1 277.1h.01M555.0 274.1h.01M621.4 295.5h.01M610.8 378.5h.01M590.8 357.6h.01M592.4 364.8h.01M601.8 366.6h.01M626.5 290.0h.01M624.9 280.3h.01M574.1 268.7h.01M623.9 277.3h.01M625.0 335.9h.01M636.0 301.9h.01" stroke="#2e32b8" stroke-width="1.5" stroke-linecap="round" fill="none" opacity="1"/>
<path d="M575.3 350.3h.01M586.7 307.4h.01M589.2 305.0h.01M660.6 289.8h.01M553.1 353.3h.01M619.4 378.1h.01M611.1 362.8h.01M615.5 335.7h.01M582.4 388.7h.01M595.0 308.7h.01M658.7 387.3h.01M573.1 326.2h.01M576.1 350.7h.01M641.2 347.5h.01M657.0 289.8h.01M559.1 341.3h.01M582.9 335.9h.01" stroke="#2529a4" stroke-width="3.0" stroke-linecap="round" fill="none" opacity="1"/>
<path d="M644.0 286.9h.01M634.5 288.6h.01M650.0 278.1h.01M567.1 351.2h.01M634.5 305.5h.01M577.5 278.7h.01M590.1 356.8h.01M628.2 279.4h.01M618.4 300.3h.01M595.8 386.2h.01M621.3 332.6h.01M561.8 274.1h.01" stroke="#343ac4" stroke-width="3.0" stroke-linecap="round" fill="none" opacity="0.6"/>
<path d="M613.5 327.5h.01M597.4 347.9h.01M670.3 270.3h.01M624.8 272.1h.01M629.0 270.3h.01M566.3 363.6h.01M657.4 330.1h.01M647.7 323.4h.01M650.5 322.6h.01M676.1 314.8h.01M618.1 320.6h.01M635.9 370.0h.01M582.3 387.2h.01M645.5 302.9h.01" stroke="#343ac4" stroke-width="3.0" stroke-linecap="round" fill="none" opacity="1"/>
<ellipse cx="574.8" cy="298.0" rx="9" ry="4" transform="rotate(-15 574.8 298.0)" fill="#020207" opacity="0.75" filter="url(#mb2)"/>
<ellipse cx="612.8" cy="284.0" rx="10" ry="4" transform="rotate(10 612.8 284.0)" fill="#020207" opacity="0.75" filter="url(#mb2)"/>
<ellipse cx="566.8" cy="322.0" rx="8" ry="3.5" transform="rotate(-25 566.8 322.0)" fill="#020207" opacity="0.75" filter="url(#mb2)"/>
<ellipse cx="582.8" cy="332.0" rx="10" ry="4.5" transform="rotate(-20 582.8 332.0)" fill="#020207" opacity="0.75" filter="url(#mb2)"/>
<ellipse cx="618.8" cy="310.0" rx="9" ry="4" transform="rotate(5 618.8 310.0)" fill="#020207" opacity="0.75" filter="url(#mb2)"/>
<ellipse cx="652.8" cy="322.0" rx="9" ry="4" transform="rotate(-10 652.8 322.0)" fill="#020207" opacity="0.75" filter="url(#mb2)"/>
<ellipse cx="596.8" cy="348.0" rx="9" ry="4" transform="rotate(-10 596.8 348.0)" fill="#020207" opacity="0.75" filter="url(#mb2)"/>
<ellipse cx="636.8" cy="342.0" rx="8" ry="4" transform="rotate(20 636.8 342.0)" fill="#020207" opacity="0.75" filter="url(#mb2)"/>
<ellipse cx="664.8" cy="354.0" rx="8" ry="4" transform="rotate(0 664.8 354.0)" fill="#020207" opacity="0.75" filter="url(#mb2)"/>
<ellipse cx="572.8" cy="364.0" rx="9" ry="3.5" transform="rotate(-10 572.8 364.0)" fill="#020207" opacity="0.75" filter="url(#mb2)"/>
<ellipse cx="612.8" cy="370.0" rx="8" ry="3.5" transform="rotate(10 612.8 370.0)" fill="#020207" opacity="0.75" filter="url(#mb2)"/>
<ellipse cx="648.8" cy="374.0" rx="9" ry="3.5" transform="rotate(-15 648.8 374.0)" fill="#020207" opacity="0.75" filter="url(#mb2)"/>
<ellipse cx="588.8" cy="380.0" rx="8" ry="3" transform="rotate(0 588.8 380.0)" fill="#020207" opacity="0.75" filter="url(#mb2)"/>
<ellipse cx="662.8" cy="296.0" rx="8" ry="3.5" transform="rotate(-20 662.8 296.0)" fill="#020207" opacity="0.75" filter="url(#mb2)"/>
<ellipse cx="560.8" cy="282.0" rx="6" ry="3" transform="rotate(0 560.8 282.0)" fill="#020207" opacity="0.75" filter="url(#mb2)"/>
<ellipse cx="630.8" cy="362.0" rx="7" ry="3" transform="rotate(0 630.8 362.0)" fill="#020207" opacity="0.75" filter="url(#mb2)"/>
<path d="M582.1 294.7L583.4 293.1L584.6 291.3L586.6 291.8M665.7 305.8L668.0 306.8L670.4 307.2L672.9 307.3M635.6 287.1L637.3 286.2L639.1 285.6L640.8 284.8M646.6 310.6L648.7 309.8L650.9 309.8L653.1 310.4M662.4 353.1L665.8 354.3L669.5 354.0L673.1 353.9M676.1 343.6L678.0 342.7L679.1 340.9L680.9 339.6M635.8 276.0L637.6 273.5L639.4 270.9L640.6 268.0M655.9 290.5L658.4 290.0L660.5 288.4L662.3 286.4M659.7 285.8L662.1 287.0L663.8 289.1L666.4 288.4M564.9 293.0L565.7 294.5L567.1 295.5L567.8 297.0" stroke="#48dc54" stroke-width="0.7" stroke-linecap="round" stroke-linejoin="round" stroke-dasharray="1.6 1.1" fill="none" opacity="0.59"/>
<path d="M618.8 392.8L621.7 393.1L624.3 391.7L627.2 391.3M661.3 334.2L662.6 333.1L664.3 332.9L665.8 332.2" stroke="#34d044" stroke-width="0.4" stroke-linecap="round" stroke-linejoin="round" stroke-dasharray="1.6 1.1" fill="none" opacity="0.42"/>
<path d="M579.7 314.1L581.5 314.9L583.5 314.7L585.4 314.2M590.3 309.6L591.5 310.1L592.0 311.4L593.0 312.3M573.8 285.6L575.0 284.8L576.4 284.7L577.9 285.0M637.2 300.4L639.3 299.5L641.5 298.9L643.5 297.7M627.6 292.5L630.4 292.0L633.1 291.5L635.3 289.8M667.9 364.1L670.2 363.2L672.5 362.5L674.7 361.6" stroke="#2bc238" stroke-width="0.7" stroke-linecap="round" stroke-linejoin="round" stroke-dasharray="1.6 1.1" fill="none" opacity="0.42"/>
<path d="M672.4 302.9L675.1 302.8L677.6 303.5L680.3 304.0M660.7 299.2L661.8 300.1L663.1 300.7L664.3 301.6M630.8 384.2L634.6 384.9L637.7 387.4L641.2 385.6M612.3 309.9l-1.8 0.4M557.8 280.7l0.4 0.8" stroke="#2bc238" stroke-width="0.7" stroke-linecap="round" stroke-linejoin="round" stroke-dasharray="1.6 1.1" fill="none" opacity="0.77"/>
<path d="M673.9 327.6L676.7 327.5L679.1 326.2L681.4 324.6M554.6 353.4L557.3 352.3L560.1 351.4L562.7 350.1M608.9 303.9L611.9 304.5L614.9 305.0L617.9 304.8M571.1 362.3L572.7 361.2L574.5 360.4L576.3 359.9M570.8 346.6L573.1 346.7L574.9 345.4L576.5 343.7M577.7 319.1L581.0 318.8L584.3 319.4L587.6 319.4M664.5 364.5L664.6 365.9L665.5 366.9L666.4 367.9" stroke="#2fb43e" stroke-width="0.7" stroke-linecap="round" stroke-linejoin="round" stroke-dasharray="1.6 1.1" fill="none" opacity="0.42"/>
<path d="M634.2 391.4L636.1 391.6L638.0 391.6L639.8 391.1M625.6 388.5L629.2 387.9L632.9 388.4L634.7 385.1M589.9 381.2L591.1 380.2L592.5 379.6L593.8 378.8M676.6 303.8L678.4 303.0L680.5 302.7L682.2 301.7M666.0 305.7L669.8 306.3L673.4 307.1L677.1 306.4M654.1 303.8L656.6 302.5L658.3 300.3L660.2 298.3M557.1 378.2L560.6 377.3L563.6 379.1L565.7 376.2M617.9 386.1L620.1 385.5L622.4 385.5L624.5 386.3" stroke="#2fb43e" stroke-width="0.6" stroke-linecap="round" stroke-linejoin="round" stroke-dasharray="1.6 1.1" fill="none" opacity="0.42"/>
<path d="M584.6 388.6L585.9 387.9L587.3 387.5L588.7 387.6M612.8 327.8L615.9 328.4L618.4 330.1L621.2 331.4M591.5 320.2L593.4 317.6L594.9 314.8L596.6 312.2M571.4 312.5L572.9 310.8L574.1 308.9L574.9 306.7M572.7 378.3L575.0 377.6L576.3 375.4L578.2 373.8M650.9 379.0L655.1 378.6L659.1 379.7L662.9 381.5M559.5 303.4L560.3 301.8L560.4 300.0L561.7 298.7" stroke="#48dc54" stroke-width="0.6" stroke-linecap="round" stroke-linejoin="round" stroke-dasharray="1.6 1.1" fill="none" opacity="0.42"/>
<path d="M575.5 387.6L579.1 386.3L582.8 387.3L586.0 385.3M675.3 337.9L677.1 338.5L678.9 338.2L680.8 338.1M672.2 339.4L675.0 340.0L677.8 340.1L680.4 341.2M675.0 296.5L678.6 296.5L681.8 295.0L685.3 294.8M642.2 278.6L644.0 277.5L645.7 276.4L647.7 275.5M616.1 357.5L617.6 358.3L619.1 359.1L620.8 358.8M662.8 305.7l0.1 2.6" stroke="#2fb43e" stroke-width="0.6" stroke-linecap="round" stroke-linejoin="round" stroke-dasharray="1.6 1.1" fill="none" opacity="0.59"/>
<path d="M617.4 374.7L618.8 374.3L620.2 374.1L621.6 373.8M578.6 285.2L579.8 285.9L581.2 286.1L582.5 286.6M652.2 314.3L653.1 312.6L655.0 312.5L656.5 311.3M629.5 343.9L632.6 342.7L635.4 341.0L638.6 340.1M640.1 279.3L642.1 278.0L643.8 276.5L645.4 274.7M676.7 392.4L679.1 393.9L681.6 395.2L684.1 396.4M617.6 290.5l1.9 1.7M585.7 374.6l-1.0 1.7M569.7 345.6l1.3 1.3M616.2 280.7l-0.8 0.8M592.2 371.7l1.4 0.2" stroke="#1b7c28" stroke-width="0.6" stroke-linecap="round" stroke-linejoin="round" stroke-dasharray="1.6 1.1" fill="none" opacity="0.77"/>
<path d="M560.6 285.5L562.6 285.3L563.6 283.6L565.5 284.2M663.0 272.4L665.1 271.2L667.3 270.2L669.8 270.4M589.9 289.3L591.3 289.4L592.8 289.4L594.2 289.3M589.8 379.1L591.6 377.3L593.9 376.1L596.4 375.8M647.1 365.8L649.5 365.6L651.5 367.0L653.7 368.0" stroke="#1b7c28" stroke-width="0.6" stroke-linecap="round" stroke-linejoin="round" stroke-dasharray="1.6 1.1" fill="none" opacity="0.42"/>
<path d="M630.8 320.6L630.9 319.1L631.4 317.7L632.5 316.6M638.5 291.4L641.0 291.4L643.4 290.8L645.7 289.8M601.3 386.8L603.4 386.4L605.5 386.6L607.2 385.3M633.5 387.2L634.8 386.1L636.4 386.8L638.2 386.5M608.8 303.6l-0.2 2.1" stroke="#22982e" stroke-width="0.6" stroke-linecap="round" stroke-linejoin="round" stroke-dasharray="1.6 1.1" fill="none" opacity="0.59"/>
<path d="M598.4 361.6L600.3 361.8L601.1 363.5L602.3 364.9" stroke="#48dc54" stroke-width="0.4" stroke-linecap="round" stroke-linejoin="round" stroke-dasharray="1.6 1.1" fill="none" opacity="0.59"/>
<path d="M582.5 373.9L584.1 370.8L587.5 370.8L590.6 369.2M640.1 302.9L643.0 301.9L646.1 301.5L649.2 301.8M672.1 299.4L675.6 297.8L679.1 296.2L681.6 293.2M599.3 349.8L600.0 346.1L603.6 344.9L607.3 345.0M677.1 275.6L678.7 274.9L680.2 274.1L681.7 273.3M603.2 375.4L606.2 375.1L608.9 374.1L611.9 374.5M621.1 372.5L622.8 370.6L625.1 369.3L626.5 367.1" stroke="#22982e" stroke-width="0.7" stroke-linecap="round" stroke-linejoin="round" stroke-dasharray="1.6 1.1" fill="none" opacity="0.42"/>
<path d="M665.7 272.1L669.0 272.7L672.1 273.6L674.0 276.3M625.4 292.9L627.2 291.6L629.5 291.8L631.2 293.3M653.0 368.5L655.0 367.7L657.1 366.8L659.3 366.6M602.4 349.1L604.4 350.4L605.3 352.6L606.6 354.5" stroke="#34d044" stroke-width="0.4" stroke-linecap="round" stroke-linejoin="round" stroke-dasharray="1.6 1.1" fill="none" opacity="0.77"/>
<path d="M571.8 283.9L574.1 284.1L576.4 283.8L578.3 282.5M586.9 378.5L588.6 377.7L589.6 379.2L591.4 379.7M642.2 306.0L644.0 305.6L645.1 304.3L646.1 302.8M639.7 276.5L642.5 277.3L645.4 276.9L648.1 277.9M571.7 305.2L572.6 303.4L574.3 302.2L575.3 300.5M669.0 313.6l1.6 1.7" stroke="#34d044" stroke-width="0.7" stroke-linecap="round" stroke-linejoin="round" stroke-dasharray="1.6 1.1" fill="none" opacity="0.77"/>
<path d="M554.0 332.8L557.7 333.4L561.3 332.2L564.7 333.9M662.9 348.7L665.2 349.9L667.5 349.0L669.8 347.8M642.4 319.5L643.8 319.9L645.0 319.1L646.5 319.1M604.1 347.7L604.9 346.3L605.5 344.8L606.3 343.4M644.4 378.1L647.9 377.3L650.8 375.3L654.3 376.1" stroke="#22982e" stroke-width="0.5" stroke-linecap="round" stroke-linejoin="round" stroke-dasharray="1.6 1.1" fill="none" opacity="0.42"/>
<path d="M643.4 350.0L646.2 351.2L648.9 352.6L651.9 352.4" stroke="#22982e" stroke-width="0.4" stroke-linecap="round" stroke-linejoin="round" stroke-dasharray="1.6 1.1" fill="none" opacity="0.59"/>
<path d="M580.4 331.5L582.2 332.1L583.8 333.0L584.7 334.6M657.9 274.7L660.7 273.1L662.7 270.4L664.1 267.5M662.6 275.9L666.1 276.3L668.7 274.1L671.1 271.5M662.6 379.2L662.6 377.1L662.8 375.0L664.8 374.3M670.4 344.4l-1.2 0.4" stroke="#2fb43e" stroke-width="0.6" stroke-linecap="round" stroke-linejoin="round" stroke-dasharray="1.6 1.1" fill="none" opacity="0.77"/>
<path d="M602.5 284.1L606.3 283.8L610.1 283.6L613.9 283.3M592.5 313.8L594.4 311.1L597.4 309.8L600.7 309.1M611.3 379.7L615.0 380.1L618.7 380.3L621.4 382.8" stroke="#1b7c28" stroke-width="0.5" stroke-linecap="round" stroke-linejoin="round" stroke-dasharray="1.6 1.1" fill="none" opacity="0.42"/>
<path d="M646.5 354.3L647.8 353.1L649.3 352.2L650.9 351.5M651.7 274.1L654.6 274.5L657.5 274.2L660.3 275.2M626.1 286.2L629.4 287.1L631.9 284.9L635.3 285.1M599.7 316.8L603.0 318.3L606.0 316.2L609.4 317.3M603.2 309.5L604.9 309.4L606.4 308.6L607.4 307.2M625.7 287.3L627.3 288.7L627.2 290.8L627.8 292.8M671.3 384.0L672.8 385.5L674.0 387.2L676.1 387.3" stroke="#48dc54" stroke-width="0.5" stroke-linecap="round" stroke-linejoin="round" stroke-dasharray="1.6 1.1" fill="none" opacity="0.42"/>
<path d="M570.3 296.8L572.5 295.5L574.5 294.1L576.9 293.8M643.0 276.1L645.0 273.4L647.0 270.8L649.7 268.9M558.8 358.6L562.6 358.9L564.7 355.8L568.2 354.1M643.6 391.9L645.1 392.8L646.3 391.4L647.9 390.8M557.8 273.6L558.5 274.5L559.4 275.2L559.5 276.4M556.8 321.3l2.2 0.4M596.6 305.0l-1.1 0.8" stroke="#1b7c28" stroke-width="0.5" stroke-linecap="round" stroke-linejoin="round" stroke-dasharray="1.6 1.1" fill="none" opacity="0.77"/>
<path d="M552.8 301.3L554.6 300.9L556.4 300.3L558.3 300.6" stroke="#2bc238" stroke-width="0.4" stroke-linecap="round" stroke-linejoin="round" stroke-dasharray="1.6 1.1" fill="none" opacity="0.59"/>
<path d="M570.7 379.8L573.0 379.4L575.3 378.7L577.7 378.5M602.2 306.1L604.3 306.7L606.3 305.8L608.2 304.7M647.1 287.7L650.9 287.0L654.3 285.1L658.1 285.8M661.5 357.0L664.5 358.5L667.9 358.5L671.2 359.3M559.3 391.7L562.3 391.4L565.3 391.3L568.1 390.1M654.3 388.4L657.3 389.2L660.4 389.1L663.2 387.6M634.1 375.2l1.5 2.4M629.2 374.6l0.0 0.9" stroke="#22982e" stroke-width="0.6" stroke-linecap="round" stroke-linejoin="round" stroke-dasharray="1.6 1.1" fill="none" opacity="0.77"/>
<path d="M651.1 316.0L655.1 315.8L658.9 314.9L662.7 313.7M678.6 284.0L680.8 282.8L683.3 282.8L685.8 282.1M558.7 310.9L560.4 309.6L562.2 310.5L563.8 309.2M589.5 388.1L592.1 388.5L594.2 387.0L596.3 385.4M596.8 360.0l-2.6 1.0M569.9 315.7l-0.3 1.6M567.0 353.0l0.7 0.6M616.4 308.6l1.2 0.7" stroke="#2fb43e" stroke-width="0.7" stroke-linecap="round" stroke-linejoin="round" stroke-dasharray="1.6 1.1" fill="none" opacity="0.77"/>
<path d="M626.6 308.7L628.6 309.1L630.7 309.2L632.6 308.5M670.2 279.9L671.8 281.2L673.8 281.3L674.7 283.1M574.0 285.4L577.2 283.3L580.9 283.7L584.5 282.5M597.6 366.3L600.7 365.9L603.9 366.2L606.8 365.0M627.3 321.1L629.5 320.9L631.6 321.8L633.6 320.8M630.9 365.1L633.3 364.7L635.8 364.8L638.2 365.4" stroke="#2bc238" stroke-width="0.6" stroke-linecap="round" stroke-linejoin="round" stroke-dasharray="1.6 1.1" fill="none" opacity="0.42"/>
<path d="M595.8 294.1L597.9 294.2L599.7 295.1L601.3 296.4M619.1 344.5L621.2 344.2L622.0 342.3L624.1 341.9M649.6 311.3L652.2 313.1L655.3 313.6L658.2 312.3M648.2 305.8L651.7 305.6L655.3 305.2L658.8 305.1M647.3 386.0L648.7 384.0L650.6 382.5L652.4 380.9M637.0 283.3L638.3 283.8L639.7 283.6L640.9 284.2M644.2 298.9L646.4 298.1L648.7 298.7L650.9 298.2M569.8 326.8L572.4 326.1L574.4 324.3L576.4 322.5M568.9 372.4L571.7 370.3L575.1 371.0L578.4 371.8M622.9 388.9L624.6 388.8L625.4 387.3L627.1 387.0" stroke="#2bc238" stroke-width="0.6" stroke-linecap="round" stroke-linejoin="round" stroke-dasharray="1.6 1.1" fill="none" opacity="0.59"/>
<path d="M554.7 311.6L557.9 309.9L561.5 309.3L565.1 309.5M576.1 320.6L579.0 321.1L581.9 321.1L584.4 322.7M673.6 292.6L675.6 293.2L677.7 293.7L679.8 294.3M653.5 357.4L655.9 360.7L659.8 359.7L663.7 361.0M637.2 288.0l-1.0 0.4M643.5 291.2l0.1 1.6" stroke="#2fb43e" stroke-width="0.7" stroke-linecap="round" stroke-linejoin="round" stroke-dasharray="1.6 1.1" fill="none" opacity="0.59"/>
<path d="M643.6 342.2L646.8 342.4L649.4 340.6L652.2 339.0M568.2 344.8L569.2 342.3L571.7 341.4L572.5 338.9M666.4 351.3L668.9 349.6L671.9 350.3L674.8 349.2M577.9 329.3L580.4 328.3L582.2 326.5L584.5 325.2M581.2 359.5L585.4 359.7L589.5 360.5L593.6 359.7M556.4 372.7L559.5 372.0L562.7 371.5L565.2 369.6M607.1 357.3L608.5 354.9L611.2 354.4L613.2 352.5M611.4 355.2L613.1 354.5L614.9 354.4L616.4 355.5" stroke="#34d044" stroke-width="0.7" stroke-linecap="round" stroke-linejoin="round" stroke-dasharray="1.6 1.1" fill="none" opacity="0.42"/>
<path d="M614.8 329.1L617.1 326.5L619.3 323.8L620.8 320.7M613.8 340.9L615.5 341.1L617.1 340.4L618.7 339.9M582.3 385.4L584.4 384.8L586.2 383.5L588.3 383.1M613.6 376.9L616.1 378.0L618.3 379.6L621.1 379.9" stroke="#34d044" stroke-width="0.5" stroke-linecap="round" stroke-linejoin="round" stroke-dasharray="1.6 1.1" fill="none" opacity="0.77"/>
<path d="M559.8 384.7L562.8 384.4L565.3 382.9L568.0 381.6M596.2 372.6L598.6 371.1L600.0 368.7L602.7 368.1M655.6 387.0L658.3 389.0L661.2 390.6L664.5 391.3M617.8 336.8L618.6 338.9L620.1 340.6L621.0 342.7M645.0 333.6l0.5 2.6" stroke="#48dc54" stroke-width="0.6" stroke-linecap="round" stroke-linejoin="round" stroke-dasharray="1.6 1.1" fill="none" opacity="0.77"/>
<path d="M677.4 295.7L680.8 294.3L684.4 294.3L688.0 293.5M602.4 293.6L606.0 294.0L608.9 296.3L611.6 298.7M656.9 349.1l-1.3 2.7M650.9 343.5l1.6 0.9" stroke="#22982e" stroke-width="0.5" stroke-linecap="round" stroke-linejoin="round" stroke-dasharray="1.6 1.1" fill="none" opacity="0.59"/>
<path d="M630.7 388.3L633.9 386.4L637.4 385.2L640.3 383.0M652.4 337.9L653.9 337.5L655.4 337.0L656.9 337.6M589.4 297.9L590.6 297.1L591.7 296.2L592.3 294.9M599.5 361.0L602.0 361.6L604.6 361.1L607.2 360.6M564.8 376.4L567.5 377.5L570.4 376.6L573.4 376.3M558.8 363.0L562.8 363.6L566.6 364.8L570.7 364.7M674.8 301.5l0.6 1.0M578.1 285.6l0.7 2.1" stroke="#1b7c28" stroke-width="0.7" stroke-linecap="round" stroke-linejoin="round" stroke-dasharray="1.6 1.1" fill="none" opacity="0.77"/>
<path d="M605.8 358.5L607.0 357.5L607.8 356.2L609.2 355.6" stroke="#34d044" stroke-width="0.4" stroke-linecap="round" stroke-linejoin="round" stroke-dasharray="1.6 1.1" fill="none" opacity="0.59"/>
<path d="M553.1 368.9L555.7 366.0L558.6 363.5L560.4 360.0M646.8 362.7L648.1 364.7L650.1 366.1L651.9 367.7M655.9 364.3l0.1 2.5M570.6 344.3l-0.7 2.3M647.2 305.0l2.5 0.3" stroke="#2fb43e" stroke-width="0.5" stroke-linecap="round" stroke-linejoin="round" stroke-dasharray="1.6 1.1" fill="none" opacity="0.77"/>
<path d="M556.6 333.8L559.1 332.6L561.4 331.3L563.4 329.6M571.2 331.9L573.6 332.4L575.5 330.8L577.2 329.1M639.1 355.1L641.6 353.4L643.8 351.4L645.6 349.0M588.3 373.6L590.5 374.6L592.9 375.0L594.8 376.4M603.8 392.8L607.2 392.7L610.1 390.8L613.3 389.5" stroke="#22982e" stroke-width="0.4" stroke-linecap="round" stroke-linejoin="round" stroke-dasharray="1.6 1.1" fill="none" opacity="0.42"/>
<path d="M639.9 375.5L641.6 375.9L641.6 374.1L643.3 374.5M607.5 272.0L608.8 272.5L610.2 272.3L611.5 271.8M639.8 288.5L642.7 289.7L645.9 289.8L648.9 290.7" stroke="#22982e" stroke-width="0.6" stroke-linecap="round" stroke-linejoin="round" stroke-dasharray="1.6 1.1" fill="none" opacity="0.42"/>
<path d="M589.7 274.2L592.2 273.8L594.7 273.5L596.5 271.8M646.5 301.0L647.0 299.3L648.8 299.2L649.5 297.6M580.2 339.3L582.6 339.5L584.8 338.6L587.1 338.6M574.6 361.6L576.3 362.4L578.2 362.0L580.0 362.0M609.2 353.8L611.0 353.4L611.5 351.7L612.0 350.0M643.8 278.4l-0.4 0.9M560.9 283.7l-0.4 1.7" stroke="#34d044" stroke-width="0.6" stroke-linecap="round" stroke-linejoin="round" stroke-dasharray="1.6 1.1" fill="none" opacity="0.77"/>
<path d="M568.7 385.0L570.6 385.9L572.2 387.1L573.5 388.6M677.2 296.9L679.8 296.3L681.8 294.5L684.1 293.0M649.3 302.1L653.2 300.5L657.1 301.6L660.5 299.1M642.9 321.2L643.5 322.1L644.3 322.6L645.2 323.2M625.0 337.0l2.0 0.1M654.9 333.5l-2.1 1.2" stroke="#48dc54" stroke-width="0.6" stroke-linecap="round" stroke-linejoin="round" stroke-dasharray="1.6 1.1" fill="none" opacity="0.59"/>
<path d="M622.6 381.7L624.3 382.3L626.2 382.2L627.9 382.9M661.0 377.2L663.6 374.8L666.6 372.8L668.5 369.8M619.5 338.3L622.2 336.0L625.3 334.5L628.7 333.5M630.3 357.6L632.4 357.3L634.6 356.9L636.7 356.7M581.9 303.0l-1.0 2.2" stroke="#2fb43e" stroke-width="0.5" stroke-linecap="round" stroke-linejoin="round" stroke-dasharray="1.6 1.1" fill="none" opacity="0.59"/>
<path d="M608.9 385.0L612.2 383.7L615.1 381.7L618.3 380.2M593.2 328.3L594.8 325.5L595.9 322.5L597.0 319.6M617.8 387.9L620.3 385.8L623.5 385.8L626.0 383.7M609.5 355.2L612.0 353.5L615.0 354.3L618.0 353.8M642.5 362.8L645.1 362.3L647.5 363.4L650.0 364.2M598.1 356.5L598.8 354.5L599.5 352.6L598.9 350.6M555.6 314.7l-0.7 0.5" stroke="#34d044" stroke-width="0.6" stroke-linecap="round" stroke-linejoin="round" stroke-dasharray="1.6 1.1" fill="none" opacity="0.59"/>
<path d="M672.8 336.9L674.9 336.5L677.1 337.0L679.0 338.0M571.2 366.8L573.2 367.1L574.7 368.5L576.7 368.3M639.2 304.8L641.2 301.7L644.6 300.0L647.2 297.4M616.7 355.1L618.6 355.7L620.5 355.9L622.5 355.7M623.9 306.3l0.4 1.7" stroke="#2bc238" stroke-width="0.7" stroke-linecap="round" stroke-linejoin="round" stroke-dasharray="1.6 1.1" fill="none" opacity="0.59"/>
<path d="M619.5 301.4L622.0 300.3L624.6 299.2L625.7 296.6" stroke="#1b7c28" stroke-width="0.4" stroke-linecap="round" stroke-linejoin="round" stroke-dasharray="1.6 1.1" fill="none" opacity="0.42"/>
<path d="M572.8 356.5L576.2 356.5L579.5 356.7L582.8 356.0M610.3 376.9L611.8 376.2L613.5 375.9L615.2 375.6M559.4 350.0L561.6 347.2L564.3 344.9L567.7 343.7" stroke="#48dc54" stroke-width="0.5" stroke-linecap="round" stroke-linejoin="round" stroke-dasharray="1.6 1.1" fill="none" opacity="0.77"/>
<path d="M565.7 380.8L567.6 379.0L569.9 377.5L572.0 375.9M576.5 375.1L579.0 375.0L581.5 374.6L583.6 375.9M652.2 351.5l1.4 0.5" stroke="#22982e" stroke-width="0.7" stroke-linecap="round" stroke-linejoin="round" stroke-dasharray="1.6 1.1" fill="none" opacity="0.77"/>
<path d="M646.6 313.9L648.1 315.4L649.1 317.2L651.0 318.1" stroke="#48dc54" stroke-width="0.4" stroke-linecap="round" stroke-linejoin="round" stroke-dasharray="1.6 1.1" fill="none" opacity="0.42"/>
<path d="M601.1 358.5L604.4 359.2L607.8 358.5L611.1 357.7" stroke="#2fb43e" stroke-width="0.4" stroke-linecap="round" stroke-linejoin="round" stroke-dasharray="1.6 1.1" fill="none" opacity="0.77"/>
<path d="M624.0 335.2L626.2 333.6L627.9 331.5L629.6 329.4M583.8 318.1L586.6 316.4L588.7 313.9L592.0 313.2M590.1 311.5L593.9 311.5L597.1 309.6L600.8 309.9M564.8 320.2L567.6 321.4L570.7 321.3L573.5 322.8M600.7 351.8L603.4 350.4L605.7 348.4L608.4 346.9M635.3 381.3L637.5 383.2L640.4 382.7L643.3 383.1" stroke="#1b7c28" stroke-width="0.7" stroke-linecap="round" stroke-linejoin="round" stroke-dasharray="1.6 1.1" fill="none" opacity="0.42"/>
<path d="M616.5 386.1L618.2 386.1L619.8 385.3L621.4 385.7M619.5 376.0L621.1 376.8L622.6 377.7L624.2 378.3M613.6 357.0L614.8 358.3L616.5 358.5L618.3 358.6" stroke="#2fb43e" stroke-width="0.5" stroke-linecap="round" stroke-linejoin="round" stroke-dasharray="1.6 1.1" fill="none" opacity="0.42"/>
<path d="M633.3 369.1L635.6 370.0L638.0 370.0L639.6 368.2M580.0 372.3L583.1 374.5L586.7 373.6L590.5 374.3M640.8 383.3L641.6 380.5L642.4 377.6L645.0 376.3M640.7 278.8L643.0 275.4L645.8 272.4L649.1 270.0M576.6 319.9L579.2 319.0L580.1 316.4L582.1 314.6M614.8 356.0L616.6 354.5L618.7 353.6L620.9 352.8M622.8 378.1L625.2 378.0L627.5 378.9L629.9 379.4M672.4 383.2L672.7 385.0L674.3 385.7L676.1 385.6M592.3 309.1L592.8 310.8L593.5 312.5L595.0 313.6M647.6 317.3l-0.5 0.7" stroke="#34d044" stroke-width="0.7" stroke-linecap="round" stroke-linejoin="round" stroke-dasharray="1.6 1.1" fill="none" opacity="0.59"/>
<path d="M626.6 375.1L627.1 373.9L628.1 373.0L629.3 372.5M650.7 384.1L652.4 384.1L654.0 384.1L655.4 385.0M638.0 289.5L640.1 287.5L642.7 286.2L644.7 284.2M592.6 338.1L596.7 338.7L600.8 339.5L604.7 338.2M623.6 374.0L625.9 374.2L627.5 375.8L629.8 375.7M612.8 334.7L613.4 336.0L613.8 337.3L614.5 338.5M616.4 317.1l2.7 1.3M570.3 335.8l1.3 1.9M646.2 345.5l2.7 0.8M579.8 303.2l-1.5 2.4M577.3 389.4l0.8 1.8" stroke="#48dc54" stroke-width="0.7" stroke-linecap="round" stroke-linejoin="round" stroke-dasharray="1.6 1.1" fill="none" opacity="0.77"/>
<path d="M666.5 308.9L669.1 309.9L671.8 310.6L674.4 311.5M635.3 341.2L638.9 341.5L642.3 340.8L645.8 341.0M560.2 337.5L563.9 337.7L567.3 339.5L570.9 340.3M621.8 367.5L624.7 369.8L628.3 370.7L632.0 371.2" stroke="#48dc54" stroke-width="0.7" stroke-linecap="round" stroke-linejoin="round" stroke-dasharray="1.6 1.1" fill="none" opacity="0.42"/>
<path d="M671.9 377.2L673.0 380.0L676.0 380.3L678.9 380.8M575.8 315.4L578.9 313.6L582.5 313.3L585.8 311.7M607.3 290.7L607.6 291.8L608.4 292.6L609.1 293.5M669.8 387.9L672.0 388.5L672.5 390.7L673.1 392.9M577.0 316.1l0.7 2.0" stroke="#2bc238" stroke-width="0.5" stroke-linecap="round" stroke-linejoin="round" stroke-dasharray="1.6 1.1" fill="none" opacity="0.77"/>
<path d="M647.3 338.5L650.2 337.7L653.1 337.9L655.9 339.0M562.7 335.9L564.5 335.8L565.3 334.1L567.0 333.5M614.5 373.3L617.8 374.1L621.1 374.2L623.5 376.7" stroke="#48dc54" stroke-width="0.5" stroke-linecap="round" stroke-linejoin="round" stroke-dasharray="1.6 1.1" fill="none" opacity="0.59"/>
<path d="M635.7 317.0L637.7 316.9L639.6 316.2L641.5 316.0M566.5 301.8L568.7 302.4L571.0 302.7L573.2 302.6M639.0 307.1L638.3 311.0L642.2 311.0L646.0 309.6M611.2 329.2L614.3 328.2L617.3 329.3L619.3 326.8M619.3 356.6L622.3 355.9L623.9 358.5L626.5 360.1M660.1 355.5L663.7 355.2L667.0 356.7L669.7 359.1M676.0 377.9l0.5 1.6M673.9 310.3l2.0 1.4M670.7 337.7l-0.3 1.5M646.0 353.6l2.2 0.8" stroke="#1b7c28" stroke-width="0.7" stroke-linecap="round" stroke-linejoin="round" stroke-dasharray="1.6 1.1" fill="none" opacity="0.59"/>
<path d="M666.1 366.9L667.4 367.9L668.6 369.1L669.8 370.2M618.3 314.9l2.1 0.7M556.7 280.4l-2.4 0.6" stroke="#2bc238" stroke-width="0.5" stroke-linecap="round" stroke-linejoin="round" stroke-dasharray="1.6 1.1" fill="none" opacity="0.59"/>
<path d="M603.8 324.5L605.7 324.4L607.4 325.1L609.2 324.4M582.6 391.9L583.7 389.9L583.8 387.6L583.4 385.3" stroke="#2bc238" stroke-width="0.5" stroke-linecap="round" stroke-linejoin="round" stroke-dasharray="1.6 1.1" fill="none" opacity="0.42"/>
<path d="M587.9 367.1L590.8 364.8L593.0 361.9L594.9 358.7M656.2 288.4L658.8 288.2L661.5 288.3L664.1 288.7M592.9 337.0L595.5 337.0L597.1 334.9L599.4 333.7M592.6 372.3L595.3 372.3L597.3 370.5L599.8 369.5" stroke="#34d044" stroke-width="0.6" stroke-linecap="round" stroke-linejoin="round" stroke-dasharray="1.6 1.1" fill="none" opacity="0.42"/>
<path d="M614.7 355.0L616.0 354.5L617.4 354.5L618.6 353.7M634.3 387.8L636.5 390.2L638.7 392.7L639.2 395.9" stroke="#1b7c28" stroke-width="0.5" stroke-linecap="round" stroke-linejoin="round" stroke-dasharray="1.6 1.1" fill="none" opacity="0.59"/>
<path d="M566.8 296.5L569.8 294.9L572.4 292.7L575.8 292.9M597.3 337.8L597.9 339.3L598.2 341.0L597.9 342.6M676.7 273.3L678.7 273.9L678.8 276.0L679.6 277.9" stroke="#48dc54" stroke-width="0.4" stroke-linecap="round" stroke-linejoin="round" stroke-dasharray="1.6 1.1" fill="none" opacity="0.77"/>
<path d="M571.6 382.6L573.6 381.7L575.6 381.0L577.8 380.6M652.5 313.5L655.7 313.1L658.8 314.3L662.1 314.4M658.9 299.3L660.3 297.1L662.9 296.8L664.7 294.9M565.0 391.4L567.7 389.6L570.8 389.2L574.0 389.0M656.2 295.6l-0.0 1.0" stroke="#22982e" stroke-width="0.7" stroke-linecap="round" stroke-linejoin="round" stroke-dasharray="1.6 1.1" fill="none" opacity="0.59"/>
<path d="M644.2 380.0L646.3 381.0L648.4 380.1L650.8 379.9M626.2 307.9L628.2 306.7L629.7 305.0L632.0 304.4" stroke="#2bc238" stroke-width="0.4" stroke-linecap="round" stroke-linejoin="round" stroke-dasharray="1.6 1.1" fill="none" opacity="0.42"/>
<path d="M663.8 337.8L665.2 337.4L666.7 337.2L668.1 336.8M654.6 275.2L657.6 275.2L659.3 277.7L662.0 278.9M605.3 315.4L606.9 314.3L608.8 313.9L610.6 313.1M558.7 342.9L560.8 342.5L562.9 342.1L564.9 341.5M614.5 304.4l1.0 2.7" stroke="#1b7c28" stroke-width="0.6" stroke-linecap="round" stroke-linejoin="round" stroke-dasharray="1.6 1.1" fill="none" opacity="0.59"/>
<path d="M650.1 320.2L652.5 321.2L655.2 321.1L657.7 320.6" stroke="#1b7c28" stroke-width="0.4" stroke-linecap="round" stroke-linejoin="round" stroke-dasharray="1.6 1.1" fill="none" opacity="0.59"/>
<path d="M581.1 335.1L584.7 333.9L588.5 334.0L590.2 330.6" stroke="#1b7c28" stroke-width="0.4" stroke-linecap="round" stroke-linejoin="round" stroke-dasharray="1.6 1.1" fill="none" opacity="0.77"/>
<path d="M670.2 280.4L673.4 281.2L676.7 281.0L680.1 281.0M668.3 274.3L670.4 270.8L673.5 268.1L675.5 264.5M610.1 332.2L613.1 330.5L614.8 327.5L617.9 326.1M600.8 387.2L602.7 387.7L604.5 388.5L606.4 388.8M627.3 376.2L630.5 377.1L633.4 378.4L636.6 377.8M645.0 287.0l0.7 1.0M572.0 299.7l1.7 0.1" stroke="#34d044" stroke-width="0.9" stroke-linecap="round" stroke-linejoin="round" stroke-dasharray="1.6 1.1" fill="none" opacity="0.59"/>
<path d="M640.9 296.9L643.5 295.5L645.2 293.2L647.2 291.0M578.9 380.4L582.6 382.6L586.5 384.2L590.2 386.5M651.1 377.3L652.6 375.5L654.9 375.1L656.9 373.9M609.7 363.3L613.8 364.2L617.9 364.9L622.2 365.1M604.7 278.5l-2.6 1.4M580.9 387.3l0.9 2.8" stroke="#34d044" stroke-width="0.8" stroke-linecap="round" stroke-linejoin="round" stroke-dasharray="1.6 1.1" fill="none" opacity="0.77"/>
<path d="M642.5 304.3L645.1 302.9L647.6 301.2L650.5 300.6M564.9 294.2l-1.6 0.2M665.4 316.2l0.1 1.2M653.6 352.1l2.2 0.1" stroke="#2fb43e" stroke-width="0.9" stroke-linecap="round" stroke-linejoin="round" stroke-dasharray="1.6 1.1" fill="none" opacity="0.77"/>
<path d="M642.1 278.3L643.9 276.1L646.2 274.5L648.0 272.3M558.9 274.7l-0.7 0.8M563.9 312.5l-2.7 0.1M648.3 385.9l1.7 2.4M611.2 362.0l1.3 0.7" stroke="#22982e" stroke-width="0.9" stroke-linecap="round" stroke-linejoin="round" stroke-dasharray="1.6 1.1" fill="none" opacity="0.59"/>
<path d="M637.4 296.7L639.0 297.3L640.0 298.7L641.3 299.7" stroke="#48dc54" stroke-width="0.8" stroke-linecap="round" stroke-linejoin="round" stroke-dasharray="1.6 1.1" fill="none" opacity="0.42"/>
<path d="M674.9 308.2L676.8 308.4L678.6 308.2L680.2 309.1M588.8 331.6L591.9 330.3L594.6 328.3L597.5 326.6M569.6 388.7L573.2 387.5L576.8 386.4L579.9 384.2M659.0 283.9l1.8 0.8M578.0 323.9l1.0 0.6M622.5 390.5l-1.7 0.6" stroke="#22982e" stroke-width="0.9" stroke-linecap="round" stroke-linejoin="round" stroke-dasharray="1.6 1.1" fill="none" opacity="0.77"/>
<path d="M635.0 272.5L638.7 272.9L642.1 271.7L645.6 270.9M558.8 313.7L562.6 315.5L566.7 316.5L570.5 314.6M568.8 327.3L570.8 326.2L572.6 324.8L573.8 322.9M604.6 368.0L606.5 367.7L608.3 366.9L609.9 365.7" stroke="#48dc54" stroke-width="0.8" stroke-linecap="round" stroke-linejoin="round" stroke-dasharray="1.6 1.1" fill="none" opacity="0.59"/>
<path d="M677.3 275.7L679.5 276.4L681.1 278.1L683.4 278.4M664.8 281.4L668.7 281.6L672.7 281.4L675.5 284.1M603.9 309.2L605.2 306.5L608.1 307.0L610.2 304.9M658.3 351.1L659.9 354.3L662.6 351.9L666.1 351.5" stroke="#1b7c28" stroke-width="0.9" stroke-linecap="round" stroke-linejoin="round" stroke-dasharray="1.6 1.1" fill="none" opacity="0.42"/>
<path d="M652.8 292.6L655.2 291.2L657.7 290.2L660.2 289.1M612.3 340.0L615.4 341.3L618.8 341.0L622.2 340.5M566.3 312.8L569.0 312.1L571.6 311.3L574.3 311.3" stroke="#2fb43e" stroke-width="0.9" stroke-linecap="round" stroke-linejoin="round" stroke-dasharray="1.6 1.1" fill="none" opacity="0.42"/>
<path d="M668.7 280.5L671.8 279.8L674.8 279.5L677.4 281.3M567.5 361.7L569.1 358.5L572.4 357.1L576.0 357.3" stroke="#22982e" stroke-width="0.9" stroke-linecap="round" stroke-linejoin="round" stroke-dasharray="1.6 1.1" fill="none" opacity="0.42"/>
<path d="M674.3 309.2L675.1 307.6L675.3 305.9L676.0 304.3M608.5 376.2L610.5 375.3L612.6 374.9L614.7 374.1M619.5 381.2l-1.2 1.6M642.0 325.1l1.3 2.7M576.9 279.8l-2.2 0.9" stroke="#34d044" stroke-width="0.9" stroke-linecap="round" stroke-linejoin="round" stroke-dasharray="1.6 1.1" fill="none" opacity="0.77"/>
<path d="M645.0 290.4L648.8 289.6L652.3 287.9L656.1 287.2M645.1 371.2L647.6 371.5L650.0 372.6L651.6 374.6M603.9 368.4l0.0 0.9" stroke="#1b7c28" stroke-width="0.8" stroke-linecap="round" stroke-linejoin="round" stroke-dasharray="1.6 1.1" fill="none" opacity="0.77"/>
<path d="M636.6 287.7L638.0 286.7L639.6 285.9L641.2 285.2M633.5 280.0L637.4 278.3L641.2 276.7L645.4 277.1M581.8 331.5L585.6 331.4L589.3 330.3L593.0 331.4M601.4 356.9L603.5 357.1L605.6 357.3L607.6 356.7M606.9 350.3L609.1 348.2L612.0 349.0L614.1 347.0" stroke="#48dc54" stroke-width="0.9" stroke-linecap="round" stroke-linejoin="round" stroke-dasharray="1.6 1.1" fill="none" opacity="0.42"/>
<path d="M665.8 304.9L668.1 304.7L670.3 304.0L672.0 302.5M618.7 376.9L621.4 378.8L623.9 381.0L627.1 380.4M614.0 351.9L615.6 352.7L617.2 353.7L618.9 353.2" stroke="#2fb43e" stroke-width="0.8" stroke-linecap="round" stroke-linejoin="round" stroke-dasharray="1.6 1.1" fill="none" opacity="0.42"/>
<path d="M660.4 272.0L662.6 272.1L663.4 270.1L665.0 268.6M554.1 381.4L556.4 380.9L558.7 380.6L561.1 380.8M657.2 371.6L659.2 373.7L661.1 375.8L663.8 377.0M603.6 376.9l-0.3 0.8" stroke="#48dc54" stroke-width="0.9" stroke-linecap="round" stroke-linejoin="round" stroke-dasharray="1.6 1.1" fill="none" opacity="0.59"/>
<path d="M634.9 286.4L638.7 284.6L642.4 282.8L645.8 280.4M585.6 309.2l-0.4 2.1" stroke="#2bc238" stroke-width="0.9" stroke-linecap="round" stroke-linejoin="round" stroke-dasharray="1.6 1.1" fill="none" opacity="0.59"/>
<path d="M634.6 293.2L638.5 293.1L642.3 294.0L646.2 293.5M563.2 344.3L567.4 344.1L569.0 340.3L571.5 336.9M614.6 386.2L618.3 384.8L621.9 383.3L625.7 382.3" stroke="#34d044" stroke-width="0.5" stroke-linecap="round" stroke-linejoin="round" stroke-dasharray="1.6 1.1" fill="none" opacity="0.42"/>
<path d="M672.9 292.6L674.5 291.2L676.6 290.6L678.4 289.3M623.7 356.8L625.9 357.6L628.1 358.3L630.3 358.9M591.2 278.3l-0.9 0.6" stroke="#22982e" stroke-width="0.8" stroke-linecap="round" stroke-linejoin="round" stroke-dasharray="1.6 1.1" fill="none" opacity="0.59"/>
<path d="M603.1 319.6L606.3 318.8L609.1 317.0L610.1 313.8M576.9 335.3L580.7 336.7L584.6 335.9L586.6 332.3M589.6 318.8L592.7 316.5L596.4 315.7L600.0 314.5M633.5 270.8l0.9 0.4M650.6 359.9l1.2 0.6" stroke="#2bc238" stroke-width="0.9" stroke-linecap="round" stroke-linejoin="round" stroke-dasharray="1.6 1.1" fill="none" opacity="0.77"/>
<path d="M599.1 336.2L602.3 337.4L605.5 338.3L608.9 338.6M625.0 356.7L627.6 357.3L630.3 357.8L633.0 357.9M566.5 391.0l0.4 0.9" stroke="#2bc238" stroke-width="0.8" stroke-linecap="round" stroke-linejoin="round" stroke-dasharray="1.6 1.1" fill="none" opacity="0.77"/>
<path d="M611.6 325.0L613.1 325.7L614.9 325.7L616.5 326.1M589.0 342.0L593.0 340.8L596.8 338.8L599.2 335.4M610.4 354.0L611.7 355.8L613.2 357.4L614.1 359.5M653.1 296.8l-2.7 0.7M606.6 314.8l1.3 1.4M647.2 328.6l-1.5 1.0" stroke="#1b7c28" stroke-width="0.9" stroke-linecap="round" stroke-linejoin="round" stroke-dasharray="1.6 1.1" fill="none" opacity="0.59"/>
<path d="M594.8 317.3L598.6 316.3L602.1 314.7L606.0 314.8" stroke="#22982e" stroke-width="0.8" stroke-linecap="round" stroke-linejoin="round" stroke-dasharray="1.6 1.1" fill="none" opacity="0.77"/>
<path d="M560.1 330.5L562.9 328.9L566.1 328.2L569.4 328.2" stroke="#2bc238" stroke-width="0.9" stroke-linecap="round" stroke-linejoin="round" stroke-dasharray="1.6 1.1" fill="none" opacity="0.42"/>
<path d="M574.9 317.6L577.1 316.6L579.2 315.2L581.1 313.5M587.1 366.9L589.5 364.8L592.6 364.0L595.5 362.5" stroke="#1b7c28" stroke-width="0.8" stroke-linecap="round" stroke-linejoin="round" stroke-dasharray="1.6 1.1" fill="none" opacity="0.42"/>
<path d="M611.9 326.1L613.8 325.3L615.8 325.2L617.9 325.3M558.5 305.8L561.1 305.3L562.8 303.3L565.0 301.7M599.0 367.0L601.4 367.3L603.7 367.8L606.0 368.2M659.1 388.8L660.7 386.8L662.8 385.5L664.5 383.7M647.4 311.6l-0.9 2.2M571.7 326.0l0.0 0.8" stroke="#2bc238" stroke-width="0.6" stroke-linecap="round" stroke-linejoin="round" stroke-dasharray="1.6 1.1" fill="none" opacity="0.77"/>
<path d="M593.9 332.3L595.6 331.9L597.0 330.8L598.6 330.1M640.4 364.6L642.3 364.5L644.1 363.9L645.9 363.2M576.4 305.0l-1.8 0.9M630.1 375.5l-2.2 0.6" stroke="#2fb43e" stroke-width="0.8" stroke-linecap="round" stroke-linejoin="round" stroke-dasharray="1.6 1.1" fill="none" opacity="0.59"/>
<path d="M607.8 362.7L610.9 362.8L613.9 363.9L616.5 365.6M640.2 391.0L642.6 391.2L643.9 393.2L646.2 393.7M610.0 362.5l0.1 2.2" stroke="#48dc54" stroke-width="0.9" stroke-linecap="round" stroke-linejoin="round" stroke-dasharray="1.6 1.1" fill="none" opacity="0.77"/>
<path d="M561.7 370.4L563.9 371.0L566.1 370.3L568.0 369.0M569.5 376.7L572.1 376.4L574.7 376.6L577.3 376.7M615.9 391.6L619.4 391.7L623.0 391.7L626.4 392.6M624.7 368.0L628.2 369.6L631.5 371.7L634.9 373.5M567.8 334.7L569.6 336.2L572.0 336.5L574.0 337.8" stroke="#22982e" stroke-width="0.5" stroke-linecap="round" stroke-linejoin="round" stroke-dasharray="1.6 1.1" fill="none" opacity="0.77"/>
<path d="M562.0 386.7L564.2 387.7L566.7 387.4L568.2 385.5M595.9 362.9L598.5 360.3L602.2 360.6L605.6 359.2M642.5 316.0l-1.0 2.3" stroke="#34d044" stroke-width="0.5" stroke-linecap="round" stroke-linejoin="round" stroke-dasharray="1.6 1.1" fill="none" opacity="0.59"/>
<path d="M568.8 388.0L573.0 388.5L577.2 388.3L581.3 389.1" stroke="#34d044" stroke-width="0.8" stroke-linecap="round" stroke-linejoin="round" stroke-dasharray="1.6 1.1" fill="none" opacity="0.59"/>
<path d="M607.6 370.3L609.0 368.4L611.4 367.9L613.0 366.1M580.3 384.2L582.9 384.5L585.2 385.9L587.2 387.5" stroke="#34d044" stroke-width="0.8" stroke-linecap="round" stroke-linejoin="round" stroke-dasharray="1.6 1.1" fill="none" opacity="0.42"/>
<path d="M559.3 365.7L561.9 368.0L563.8 370.7L567.2 370.6M616.9 377.0l-1.8 0.8M565.8 392.3l1.9 0.1" stroke="#48dc54" stroke-width="0.8" stroke-linecap="round" stroke-linejoin="round" stroke-dasharray="1.6 1.1" fill="none" opacity="0.77"/>
<path d="M589.3 363.3L593.5 362.9L597.7 363.3L601.9 364.2" stroke="#2bc238" stroke-width="0.8" stroke-linecap="round" stroke-linejoin="round" stroke-dasharray="1.6 1.1" fill="none" opacity="0.42"/>
<path d="M590.3 389.2L593.6 386.9L597.6 387.5L601.0 385.4M579.3 356.9l-1.5 2.3" stroke="#1b7c28" stroke-width="0.9" stroke-linecap="round" stroke-linejoin="round" stroke-dasharray="1.6 1.1" fill="none" opacity="0.77"/>
<path d="M602.0 357.5L605.5 356.7L607.9 359.4L610.6 361.8M634.1 362.0L634.6 363.7L636.1 364.6L637.8 365.1M608.3 392.6l1.1 1.3M641.6 329.6l0.9 1.1M614.6 270.9l-1.9 1.2M603.9 285.9l1.1 1.9" stroke="#1b7c28" stroke-width="0.8" stroke-linecap="round" stroke-linejoin="round" stroke-dasharray="1.6 1.1" fill="none" opacity="0.59"/>
<path d="M651.1 390.9L655.2 391.3L659.3 390.6L662.9 388.6M597.2 312.7l1.8 0.7M565.2 333.1l1.3 2.3M653.7 296.1l-1.1 0.6" stroke="#2fb43e" stroke-width="0.9" stroke-linecap="round" stroke-linejoin="round" stroke-dasharray="1.6 1.1" fill="none" opacity="0.59"/>
<path d="M568.8 318.7L568.7 317.1L569.5 315.6L570.3 314.1" stroke="#2bc238" stroke-width="0.4" stroke-linecap="round" stroke-linejoin="round" stroke-dasharray="1.6 1.1" fill="none" opacity="0.77"/>
<path d="M678.0 290.7L680.0 292.1L681.5 294.1L681.7 296.5" stroke="#22982e" stroke-width="0.4" stroke-linecap="round" stroke-linejoin="round" stroke-dasharray="1.6 1.1" fill="none" opacity="0.77"/>
<path d="M660.9 281.7L664.5 280.6L667.5 278.4M566.6 325.5L569.6 325.2L570.1 322.3M569.9 342.1L571.6 340.7L573.7 341.2M588.0 367.3L590.1 366.3L592.3 365.7M607.7 357.5L609.9 358.2L612.2 358.4M615.7 372.8L616.0 374.5L617.1 375.7M665.3 370.6L666.6 368.1L668.3 365.9M658.4 370.4L659.3 372.7L661.1 374.5M624.6 347.6L627.1 347.6L629.5 348.2M620.9 345.3L622.4 345.7L623.1 347.1M581.1 282.1L584.0 281.4L586.5 279.8" stroke="#48dc54" stroke-width="0.6" stroke-linecap="round" stroke-linejoin="round" stroke-dasharray="1.6 1.1" fill="none" opacity="0.51"/>
<path d="M651.6 280.0L654.1 282.1L655.8 285.0M575.9 352.8L574.6 354.2L574.0 356.0" stroke="#48dc54" stroke-width="0.7" stroke-linecap="round" stroke-linejoin="round" stroke-dasharray="1.6 1.1" fill="none" opacity="0.85"/>
<path d="M672.7 282.0L674.8 282.1L676.9 281.9M666.0 290.2L667.6 292.5L670.0 294.1M612.6 319.7L614.9 318.5L617.5 318.2M605.0 320.7L606.7 320.3L608.4 320.0M600.3 365.5L603.0 363.7L606.3 363.8M559.1 370.8L561.3 368.8L564.4 368.9M595.3 359.0L595.2 355.1L597.6 352.1M558.8 388.9L560.7 385.7L564.0 384.3M654.3 377.4L654.8 375.2L655.3 373.0" stroke="#34d044" stroke-width="0.6" stroke-linecap="round" stroke-linejoin="round" stroke-dasharray="1.6 1.1" fill="none" opacity="0.51"/>
<path d="M660.5 284.4L662.7 284.7L664.6 286.0M573.7 370.1L576.1 367.4L579.2 365.4M567.9 370.4L570.8 370.1L572.5 372.4" stroke="#34d044" stroke-width="0.8" stroke-linecap="round" stroke-linejoin="round" stroke-dasharray="1.6 1.1" fill="none" opacity="0.85"/>
<path d="M642.6 272.3L644.6 274.0L646.6 275.6M672.8 271.3L674.7 271.2L676.5 272.1M592.0 313.6L593.3 312.8L594.6 311.9M595.6 309.5L598.5 309.2L601.5 309.0M570.1 345.0L571.8 345.8L573.1 347.1M573.3 387.1L575.9 385.6L577.4 383.1M588.5 384.1L590.0 383.1L591.6 383.7M623.2 377.9L625.1 378.9L625.9 380.9M642.7 386.2L645.1 389.2L648.4 391.3M578.6 280.8L581.0 279.5L583.0 277.8" stroke="#1b7c28" stroke-width="0.9" stroke-linecap="round" stroke-linejoin="round" stroke-dasharray="1.6 1.1" fill="none" opacity="0.51"/>
<path d="M655.2 285.3L658.7 286.9L662.0 285.1M648.0 279.9L650.3 280.6L652.4 279.8M573.0 316.4L574.4 319.8L576.9 322.5M594.0 313.6L597.3 312.7L600.4 311.1M571.7 371.3L575.2 371.5L578.7 372.1M564.5 385.5L565.9 384.7L567.4 384.3M619.3 375.5L621.3 377.3L623.5 378.9" stroke="#22982e" stroke-width="0.9" stroke-linecap="round" stroke-linejoin="round" stroke-dasharray="1.6 1.1" fill="none" opacity="0.51"/>
<path d="M663.0 287.1L666.3 286.1L669.7 285.2M664.8 284.6L666.4 284.2L666.5 282.6M657.5 282.6L660.5 282.2L661.1 285.1M604.6 306.5L607.2 305.7L608.8 303.5M595.5 311.5L595.4 309.6L597.2 309.0M577.6 354.6L577.0 358.4L575.4 361.9M569.7 339.7L573.1 341.1L573.3 344.8M558.8 368.1L561.3 368.0L563.1 366.2M594.0 384.4L594.0 381.8L595.3 379.5M646.7 385.5L649.9 387.8L652.8 385.1M663.7 365.4L665.2 366.4L666.6 367.7M580.5 282.3L581.3 280.9L582.2 279.5" stroke="#34d044" stroke-width="0.9" stroke-linecap="round" stroke-linejoin="round" stroke-dasharray="1.6 1.1" fill="none" opacity="0.51"/>
<path d="M668.1 287.1L669.1 285.3L669.6 283.4M599.2 364.1L600.6 361.5L603.4 360.5M606.0 385.2L607.3 388.1L608.3 391.0M657.9 352.1L658.1 354.3L658.0 356.5M653.5 348.4L653.3 351.7L654.1 355.0" stroke="#1b7c28" stroke-width="0.8" stroke-linecap="round" stroke-linejoin="round" stroke-dasharray="1.6 1.1" fill="none" opacity="0.85"/>
<path d="M651.4 278.5L653.6 278.9L655.8 279.5M665.5 283.5L668.0 285.0L670.4 286.7M664.0 271.3L665.1 272.3L666.6 272.7M663.7 290.9L664.8 293.5L667.2 295.2M579.6 316.0L583.6 315.7L587.1 313.7M607.8 317.9L609.8 318.6L612.0 318.9M582.9 369.3L584.6 368.9L586.3 368.7M592.5 384.1L593.2 386.5L594.4 388.6M653.7 351.1L654.2 354.2L654.6 357.3" stroke="#1b7c28" stroke-width="0.8" stroke-linecap="round" stroke-linejoin="round" stroke-dasharray="1.6 1.1" fill="none" opacity="0.68"/>
<path d="M667.9 285.1L669.3 283.8L671.2 283.3M663.2 284.7L664.4 282.8L666.6 282.5M653.0 278.9L654.7 280.9L655.7 283.3M658.0 279.9L658.4 281.7L659.4 283.3M668.2 291.4L669.8 291.9L671.0 293.0M596.0 309.4L597.8 309.2L599.2 308.2M565.9 336.7L568.1 337.5L568.1 339.8M555.6 369.1L557.0 368.0L558.4 366.9M610.8 369.7L613.7 371.0L616.8 371.2M625.6 343.7L628.5 345.3L631.1 347.1M620.4 347.3L622.8 347.6L624.8 349.0" stroke="#2fb43e" stroke-width="0.8" stroke-linecap="round" stroke-linejoin="round" stroke-dasharray="1.6 1.1" fill="none" opacity="0.51"/>
<path d="M639.2 271.4L642.3 273.2L643.3 276.8M657.4 270.5L659.4 269.4L661.4 270.3M568.6 321.1L570.3 321.6L571.6 320.3M569.4 386.3L571.8 388.5L575.0 389.1M641.1 299.8L643.9 300.2L644.9 302.9" stroke="#2fb43e" stroke-width="0.7" stroke-linecap="round" stroke-linejoin="round" stroke-dasharray="1.6 1.1" fill="none" opacity="0.51"/>
<path d="M658.1 285.5L660.1 285.1L661.7 284.0M665.3 272.1L665.2 275.2L667.6 277.2M662.7 289.0L663.9 291.7L663.6 294.7M572.2 347.7L575.1 350.1L576.4 353.7M593.1 360.7L595.7 361.3L598.2 360.4M620.4 371.6L619.6 375.2L617.8 378.4M630.9 381.0L632.7 380.7L634.4 381.1M647.6 342.0L650.5 341.4L653.4 341.4M653.1 347.1L655.4 348.0L657.5 349.4M620.6 344.4L622.5 346.3L625.2 346.8M627.6 296.8L629.6 297.1L631.5 297.5" stroke="#22982e" stroke-width="0.7" stroke-linecap="round" stroke-linejoin="round" stroke-dasharray="1.6 1.1" fill="none" opacity="0.85"/>
<path d="M641.5 273.1L644.0 271.6L646.4 273.2M656.1 273.0L658.9 271.4L662.1 271.2M569.6 322.6L572.2 320.1L574.6 317.4M650.6 345.7L652.0 348.4L650.7 351.0M660.4 370.3L663.2 371.3L665.0 373.6M655.5 361.5L656.5 363.4L657.0 365.5M624.0 344.9L625.7 346.0L627.3 347.3M583.0 279.6L585.1 277.8L587.0 275.8" stroke="#1b7c28" stroke-width="0.8" stroke-linecap="round" stroke-linejoin="round" stroke-dasharray="1.6 1.1" fill="none" opacity="0.51"/>
<path d="M674.6 278.2L675.2 274.8L677.1 272.0M655.9 282.3L658.4 282.5L660.9 282.9M586.8 316.4L590.6 316.7L594.3 315.7M557.8 334.1L558.5 336.2L560.3 337.4M562.9 369.4L566.5 367.9L570.0 369.8M610.7 370.2L612.7 370.5L614.4 371.4M635.6 383.8L637.1 386.2L639.6 387.3" stroke="#2fb43e" stroke-width="0.9" stroke-linecap="round" stroke-linejoin="round" stroke-dasharray="1.6 1.1" fill="none" opacity="0.68"/>
<path d="M670.3 280.5L673.3 280.1L675.6 278.3M662.1 272.8L665.0 271.3L667.0 268.8M620.4 318.0L622.8 319.7L625.8 319.3M573.6 385.3L576.7 384.8L579.9 385.4M618.9 340.8L619.9 343.5L621.8 345.7M625.9 294.3L628.6 295.6L631.5 296.2" stroke="#34d044" stroke-width="0.7" stroke-linecap="round" stroke-linejoin="round" stroke-dasharray="1.6 1.1" fill="none" opacity="0.68"/>
<path d="M661.6 285.5L664.7 283.3L668.5 283.9M668.9 282.5L670.5 280.0L672.7 277.8M668.9 289.7L670.4 291.3L670.2 293.6M672.3 291.8L674.2 293.0L674.7 295.2M591.4 367.9L594.1 366.5L596.1 364.2M570.5 367.1L572.0 367.5L573.6 367.8M605.8 387.2L606.7 390.2L609.6 391.1M602.6 382.7L603.1 384.4L604.7 385.2M568.7 389.5L570.1 392.8L573.6 393.6M620.9 376.6L621.8 378.3L623.8 378.6M654.5 377.6L654.8 375.4L657.1 375.3M635.7 350.8L638.0 348.2L640.4 345.7M631.3 347.7L634.3 348.7L637.5 349.2M633.0 346.7L635.9 346.9L638.3 345.5" stroke="#22982e" stroke-width="0.7" stroke-linecap="round" stroke-linejoin="round" stroke-dasharray="1.6 1.1" fill="none" opacity="0.68"/>
<path d="M652.9 280.7L653.3 283.5L653.3 286.3M565.7 321.8L567.4 321.5L569.1 320.9M566.6 328.4L567.1 324.8L567.5 321.2M568.4 342.9L568.1 345.9L567.5 348.8M569.6 339.2L570.7 342.3L572.6 345.1M599.8 385.7L603.1 385.3L606.4 384.9M657.2 379.2L658.1 377.9L659.4 377.1M639.5 381.9L641.6 379.1L643.5 376.0M656.3 368.9L659.7 368.1L662.3 370.3M592.0 279.5L593.7 279.2L595.5 279.3M614.2 296.6L616.4 295.3L618.8 294.5M616.5 298.6L619.8 298.9L622.9 297.5" stroke="#48dc54" stroke-width="0.8" stroke-linecap="round" stroke-linejoin="round" stroke-dasharray="1.6 1.1" fill="none" opacity="0.51"/>
<path d="M641.4 274.9L643.9 274.7L646.2 274.0M655.4 272.7L657.8 274.1L660.6 275.0M671.9 300.9L671.6 303.7L673.3 305.8M584.2 315.2L587.2 314.1L590.4 314.6M568.4 337.4L570.1 339.2L571.4 341.3M630.8 382.0L632.5 380.5L634.8 380.8M631.7 379.6L634.4 378.4L637.3 378.2M654.2 372.7L656.1 371.0L657.5 368.8M654.3 352.3L654.7 354.8L655.3 357.1" stroke="#48dc54" stroke-width="0.9" stroke-linecap="round" stroke-linejoin="round" stroke-dasharray="1.6 1.1" fill="none" opacity="0.68"/>
<path d="M677.2 282.8L680.3 285.2L684.1 284.0M662.9 285.7L665.9 284.6L668.9 283.5M652.8 271.9L654.2 272.6L655.7 273.0M673.3 272.3L675.1 271.5L677.1 271.5M590.5 316.2L592.3 317.3L594.1 318.5M575.6 368.1L577.7 368.3L579.8 368.2M577.3 388.8L579.8 385.6L582.3 382.6M601.3 382.5L603.9 382.6L606.5 382.7M612.7 367.6L614.0 368.9L615.8 369.4M630.7 385.9L631.1 388.2L632.9 389.6M652.4 365.6L653.9 368.4L656.9 369.4" stroke="#34d044" stroke-width="0.6" stroke-linecap="round" stroke-linejoin="round" stroke-dasharray="1.6 1.1" fill="none" opacity="0.68"/>
<path d="M648.1 281.7L650.3 282.9L651.4 285.0M602.8 311.2L605.5 309.2L608.0 306.8M578.5 352.8L577.1 355.2L578.0 357.9M645.5 347.7L646.5 350.0L646.4 352.5M619.1 301.0L620.3 303.0L621.8 304.7" stroke="#2fb43e" stroke-width="0.8" stroke-linecap="round" stroke-linejoin="round" stroke-dasharray="1.6 1.1" fill="none" opacity="0.68"/>
<path d="M673.8 282.5L676.5 282.6L679.2 282.2M673.3 281.0L674.3 278.9L675.9 277.3M662.6 285.0L664.2 285.9L665.5 287.1M565.4 337.9L568.7 339.9L572.3 341.6M595.9 385.2L599.0 385.7L601.0 388.2M613.1 366.1L614.6 368.8L616.2 371.5M602.6 361.1L605.6 361.7L608.6 362.3" stroke="#48dc54" stroke-width="0.5" stroke-linecap="round" stroke-linejoin="round" stroke-dasharray="1.6 1.1" fill="none" opacity="0.51"/>
<path d="M638.5 274.6L642.3 275.2L645.3 277.6M570.9 322.0L573.8 321.6L575.7 319.4M568.3 339.5L569.8 340.4L571.0 341.7M620.2 371.1L622.7 371.6L625.2 372.5M586.3 279.6L587.4 280.8L588.3 282.3" stroke="#2fb43e" stroke-width="0.5" stroke-linecap="round" stroke-linejoin="round" stroke-dasharray="1.6 1.1" fill="none" opacity="0.68"/>
<path d="M642.9 277.6L645.3 275.3L647.5 272.9M664.9 285.9L667.0 285.2L668.8 283.9M653.3 273.7L656.0 275.0L657.9 277.3M635.0 321.7L636.6 322.7L637.9 323.9M623.4 323.4L625.1 323.4L626.5 324.3M565.4 368.8L568.7 368.9L571.3 366.9M603.6 388.5L605.7 389.9L608.3 389.7M563.0 382.6L564.5 380.9L565.4 378.8M611.0 294.7L612.8 294.4L614.4 295.2" stroke="#22982e" stroke-width="0.8" stroke-linecap="round" stroke-linejoin="round" stroke-dasharray="1.6 1.1" fill="none" opacity="0.51"/>
<path d="M640.1 275.9L640.6 277.8L642.1 279.1M670.5 272.5L673.5 271.2L676.6 272.3" stroke="#22982e" stroke-width="1.0" stroke-linecap="round" stroke-linejoin="round" stroke-dasharray="1.6 1.1" fill="none" opacity="0.68"/>
<path d="M644.7 280.5L645.9 281.8L647.6 281.7M606.6 306.5L608.7 304.6L611.1 303.0M573.1 317.0L575.8 316.0L578.6 315.0M577.5 382.8L580.5 380.4L582.3 377.1M629.6 382.6L631.9 383.9L634.3 385.0" stroke="#2bc238" stroke-width="1.0" stroke-linecap="round" stroke-linejoin="round" stroke-dasharray="1.6 1.1" fill="none" opacity="0.85"/>
<path d="M641.8 274.5L643.5 275.2L645.1 276.2M586.3 384.4L588.2 382.4L590.8 381.3" stroke="#1b7c28" stroke-width="0.5" stroke-linecap="round" stroke-linejoin="round" stroke-dasharray="1.6 1.1" fill="none" opacity="0.51"/>
<path d="M658.1 280.9L660.7 281.7L663.4 281.3M555.8 373.8L557.8 372.7L558.3 370.5M594.8 365.5L598.3 367.2L601.1 369.9M629.1 381.3L630.6 381.5L632.0 381.0" stroke="#48dc54" stroke-width="1.0" stroke-linecap="round" stroke-linejoin="round" stroke-dasharray="1.6 1.1" fill="none" opacity="0.68"/>
<path d="M659.2 280.9L660.9 283.6L663.8 282.4M588.7 316.5L590.8 317.6L591.9 319.7M567.0 338.6L565.3 342.0L564.0 345.6M635.8 320.8L638.5 322.0L641.3 322.7M584.9 364.5L587.1 364.5L589.4 364.6M583.0 364.8L585.8 364.9L588.6 365.1M584.9 364.7L588.4 364.4L591.6 363.2M622.8 344.9L623.6 346.3L624.8 347.4" stroke="#2fb43e" stroke-width="0.9" stroke-linecap="round" stroke-linejoin="round" stroke-dasharray="1.6 1.1" fill="none" opacity="0.51"/>
<path d="M646.9 276.1L649.1 276.4L651.4 276.1M662.5 289.1L663.3 292.0L663.5 295.0M567.1 369.8L569.6 367.5L572.8 366.3M590.4 364.7L591.3 361.0L594.1 358.4M596.7 383.7L597.7 385.3L599.1 386.7M574.4 383.8L576.3 383.5L577.7 382.2M646.8 380.2L649.5 378.7L650.4 375.7M653.6 363.2L654.7 364.7L655.0 366.6M587.0 280.0L589.5 281.2L588.3 283.7M626.9 298.4L629.8 297.4L632.7 296.7" stroke="#1b7c28" stroke-width="0.6" stroke-linecap="round" stroke-linejoin="round" stroke-dasharray="1.6 1.1" fill="none" opacity="0.85"/>
<path d="M656.9 280.7L660.1 282.6L662.7 285.1M662.4 272.4L664.0 269.3L667.0 267.6M664.0 290.2L666.6 291.4L668.6 293.2M600.2 305.6L602.6 306.3L605.1 306.9M570.8 342.7L572.2 343.5L573.5 344.6M641.5 327.3L643.6 327.5L645.7 327.2M595.2 355.8L596.2 358.9L596.8 362.2M600.8 363.0L604.6 364.1L606.4 367.6" stroke="#2bc238" stroke-width="0.9" stroke-linecap="round" stroke-linejoin="round" stroke-dasharray="1.6 1.1" fill="none" opacity="0.51"/>
<path d="M636.9 273.9L639.3 274.3L640.9 276.2M677.1 303.8L679.8 304.6L681.7 306.7M601.1 363.6L603.1 365.0L603.7 367.2M559.3 373.9L561.8 373.4L564.5 373.1M594.8 362.8L596.4 361.3L597.7 359.4M602.8 382.1L606.3 383.0L608.7 385.7M607.8 370.7L609.7 371.3L610.8 373.0M642.5 380.6L644.8 379.7L647.3 380.1M617.9 343.7L618.9 345.0L620.2 346.1" stroke="#34d044" stroke-width="0.7" stroke-linecap="round" stroke-linejoin="round" stroke-dasharray="1.6 1.1" fill="none" opacity="0.85"/>
<path d="M633.6 270.4L636.7 269.2L638.5 266.3M666.6 272.6L669.4 273.4L672.3 273.6M584.5 316.1L585.5 312.4L587.8 309.3M572.1 343.8L574.0 344.4L575.5 345.7M576.1 366.7L578.4 365.1L581.3 364.9M621.0 375.9L620.5 379.0L621.2 382.0M639.6 384.8L643.1 385.1L646.4 386.1M584.1 277.8L585.8 279.5L586.6 281.8" stroke="#2fb43e" stroke-width="0.9" stroke-linecap="round" stroke-linejoin="round" stroke-dasharray="1.6 1.1" fill="none" opacity="0.85"/>
<path d="M660.3 283.3L662.9 283.9L665.1 285.5M576.7 345.2L578.0 347.3L578.5 349.7M583.5 387.0L584.9 386.0L586.5 385.4M605.1 361.9L607.8 362.8L609.1 365.3M603.9 362.6L606.7 364.2L609.6 365.7" stroke="#2fb43e" stroke-width="0.6" stroke-linecap="round" stroke-linejoin="round" stroke-dasharray="1.6 1.1" fill="none" opacity="0.68"/>
<path d="M677.2 280.7L680.1 280.3L681.7 277.8M583.4 367.2L586.1 368.4L588.7 369.9M596.7 381.7L598.5 381.4L600.3 381.5M650.0 343.0L651.0 345.5L649.6 347.9" stroke="#2bc238" stroke-width="0.5" stroke-linecap="round" stroke-linejoin="round" stroke-dasharray="1.6 1.1" fill="none" opacity="0.68"/>
<path d="M656.3 279.4L659.5 278.7L662.8 278.0" stroke="#1b7c28" stroke-width="1.0" stroke-linecap="round" stroke-linejoin="round" stroke-dasharray="1.6 1.1" fill="none" opacity="0.85"/>
<path d="M649.7 279.0L652.8 280.0L656.0 280.4M573.0 368.1L576.0 366.6L577.7 363.6M553.8 386.4L555.6 387.2L557.6 387.1M566.0 388.3L567.5 390.6L569.7 392.3M604.1 359.4L606.6 362.3L610.2 363.5M642.0 384.4L645.8 384.2L649.3 382.9M638.5 381.6L639.3 379.7L639.8 377.7M655.2 362.4L655.8 365.0L656.1 367.7" stroke="#22982e" stroke-width="0.9" stroke-linecap="round" stroke-linejoin="round" stroke-dasharray="1.6 1.1" fill="none" opacity="0.68"/>
<path d="M663.9 284.9L665.2 282.9L667.5 283.8M624.7 375.8L627.2 378.9L629.5 382.0" stroke="#34d044" stroke-width="1.0" stroke-linecap="round" stroke-linejoin="round" stroke-dasharray="1.6 1.1" fill="none" opacity="0.68"/>
<path d="M674.7 284.3L676.0 282.3L677.8 280.9M655.5 282.0L656.5 283.5L657.8 284.7M671.2 294.0L672.4 296.4L675.1 296.8M617.4 320.1L619.0 320.7L620.7 320.6M583.1 369.1L584.9 365.6L588.8 365.3M590.0 386.8L591.5 385.4L593.2 384.1M593.0 361.1L594.0 364.8L597.8 365.8" stroke="#2bc238" stroke-width="0.9" stroke-linecap="round" stroke-linejoin="round" stroke-dasharray="1.6 1.1" fill="none" opacity="0.85"/>
<path d="M648.8 285.2L648.7 288.7L647.9 292.2M591.9 317.2L595.3 316.7L597.7 319.1M616.1 320.4L618.7 320.2L621.0 319.0M578.2 386.3L580.8 387.1L583.0 388.7M605.9 365.0L607.2 367.0L606.1 369.1M628.9 380.8L632.0 382.9L635.5 384.7" stroke="#2bc238" stroke-width="0.5" stroke-linecap="round" stroke-linejoin="round" stroke-dasharray="1.6 1.1" fill="none" opacity="0.85"/>
<path d="M667.2 278.9L671.0 279.3L674.7 278.7M654.1 272.9L657.1 272.1L660.3 272.3M605.5 303.3L608.6 302.2L611.2 300.3M577.2 319.7L580.2 318.8L582.8 316.8" stroke="#2bc238" stroke-width="1.0" stroke-linecap="round" stroke-linejoin="round" stroke-dasharray="1.6 1.1" fill="none" opacity="0.68"/>
<path d="M639.1 277.3L641.0 277.6L642.4 276.3M681.4 302.6L682.0 305.1L683.1 307.5M600.9 313.1L604.3 312.1L607.6 310.7M639.0 324.6L640.1 325.8L641.7 326.2M621.0 372.0L624.1 373.9L627.0 371.9M661.7 372.7L661.9 374.6L663.1 376.0" stroke="#1b7c28" stroke-width="0.7" stroke-linecap="round" stroke-linejoin="round" stroke-dasharray="1.6 1.1" fill="none" opacity="0.85"/>
<path d="M673.9 281.8L677.4 280.5L679.9 277.7M563.0 339.0L563.2 341.5L564.4 343.7" stroke="#22982e" stroke-width="0.5" stroke-linecap="round" stroke-linejoin="round" stroke-dasharray="1.6 1.1" fill="none" opacity="0.51"/>
<path d="M676.5 278.3L678.2 277.9L679.7 276.8M604.0 309.1L607.7 309.1L611.1 307.8M578.1 350.0L576.5 353.1L578.9 355.6M626.2 381.5L628.2 381.8L630.1 381.8M635.7 377.4L638.6 379.8L641.5 382.4M592.2 280.1L594.8 280.5L595.9 282.9M631.6 297.0L634.2 295.3L636.8 293.6" stroke="#34d044" stroke-width="0.7" stroke-linecap="round" stroke-linejoin="round" stroke-dasharray="1.6 1.1" fill="none" opacity="0.51"/>
<path d="M662.9 281.6L664.4 280.0L666.1 278.7M651.8 270.1L652.5 272.1L654.3 273.1M605.4 307.5L606.8 305.3L608.7 303.5M560.6 371.4L563.9 372.2L566.8 370.7M584.1 368.7L586.7 370.8L589.8 369.8M658.0 377.2L661.8 376.5L665.5 377.0" stroke="#22982e" stroke-width="0.8" stroke-linecap="round" stroke-linejoin="round" stroke-dasharray="1.6 1.1" fill="none" opacity="0.85"/>
<path d="M657.9 282.8L661.1 282.9L664.0 281.7M665.2 293.8L668.5 294.4L671.7 293.5M555.1 329.9L559.1 330.2L562.7 331.8M624.2 380.0L628.2 379.9L631.7 381.9" stroke="#48dc54" stroke-width="0.9" stroke-linecap="round" stroke-linejoin="round" stroke-dasharray="1.6 1.1" fill="none" opacity="0.85"/>
<path d="M663.3 280.2L665.3 279.8L667.1 278.9M592.9 381.4L594.9 379.2L597.6 378.1" stroke="#2fb43e" stroke-width="1.0" stroke-linecap="round" stroke-linejoin="round" stroke-dasharray="1.6 1.1" fill="none" opacity="0.51"/>
<path d="M652.8 277.5L654.8 276.2L657.0 276.9M647.6 330.2L650.3 331.0L652.8 332.1M600.7 363.0L602.1 362.4L603.0 363.7M634.4 381.3L638.0 381.0L641.2 382.5M652.8 371.7L653.6 369.9L654.3 368.0M586.4 278.7L587.8 279.5L589.4 280.0" stroke="#48dc54" stroke-width="0.6" stroke-linecap="round" stroke-linejoin="round" stroke-dasharray="1.6 1.1" fill="none" opacity="0.68"/>
<path d="M660.5 275.0L661.6 276.2L662.4 277.6M561.0 332.8L563.0 333.7L564.7 335.0M646.1 329.5L648.1 330.8L650.1 332.1M562.0 370.1L563.6 370.7L564.5 372.2M559.9 371.1L562.6 370.4L565.3 370.0M566.9 366.9L569.2 365.2L571.5 363.4M638.4 379.9L641.7 381.5L645.3 380.5M626.3 347.1L628.5 344.5L631.8 345.2M625.5 296.6L627.5 298.2L628.4 300.6" stroke="#2bc238" stroke-width="0.8" stroke-linecap="round" stroke-linejoin="round" stroke-dasharray="1.6 1.1" fill="none" opacity="0.51"/>
<path d="M659.2 274.2L660.7 274.4L662.2 274.3M574.8 347.1L576.2 350.5L577.3 354.1M581.9 369.5L583.0 371.2L584.8 372.1M608.6 364.4L611.0 365.1L613.3 365.9M624.5 342.6L626.4 341.2L628.1 339.6M620.3 297.5L622.6 298.1L624.8 297.2" stroke="#34d044" stroke-width="0.9" stroke-linecap="round" stroke-linejoin="round" stroke-dasharray="1.6 1.1" fill="none" opacity="0.68"/>
<path d="M659.9 272.0L662.3 272.6L664.8 273.3M648.0 377.5L648.8 376.0L650.3 375.3M646.6 340.3L648.1 340.4L649.7 340.2M658.7 359.1L658.9 362.1L660.7 364.6" stroke="#1b7c28" stroke-width="0.5" stroke-linecap="round" stroke-linejoin="round" stroke-dasharray="1.6 1.1" fill="none" opacity="0.68"/>
<path d="M663.3 273.6L665.0 273.4L666.0 274.8M602.9 307.4L604.5 306.4L605.2 304.7M576.1 354.4L579.4 356.6L580.7 360.4M567.1 345.0L569.1 348.1L569.4 351.8M624.5 322.1L626.2 321.0L628.1 320.5M581.4 370.4L583.4 372.4L586.0 373.5" stroke="#34d044" stroke-width="0.8" stroke-linecap="round" stroke-linejoin="round" stroke-dasharray="1.6 1.1" fill="none" opacity="0.51"/>
<path d="M653.6 271.6L654.4 273.3L656.0 274.3M605.4 311.6L606.9 309.4L608.5 307.2M567.7 338.0L569.4 339.6L571.7 339.2M572.2 345.0L574.6 346.0L575.4 348.6M625.5 318.0L628.2 319.1L629.8 321.5M572.3 385.6L575.6 384.6L577.5 381.7M593.3 381.9L594.5 380.7L595.8 379.5M626.8 378.0L627.7 376.2L629.7 375.9M643.2 384.5L645.1 384.6L646.8 385.1" stroke="#2bc238" stroke-width="0.6" stroke-linecap="round" stroke-linejoin="round" stroke-dasharray="1.6 1.1" fill="none" opacity="0.68"/>
<path d="M652.3 271.8L654.7 271.8L656.6 273.2M577.8 353.5L578.0 355.3L577.1 356.9M616.7 317.7L618.9 319.5L620.4 321.8M600.3 384.1L603.6 384.0L606.8 384.1M651.0 348.1L652.8 351.0L656.1 351.9M659.3 368.4L661.2 370.7L664.1 370.4M660.8 366.4L661.4 369.2L664.2 369.3M651.0 343.5L653.9 344.6L654.8 347.5" stroke="#22982e" stroke-width="0.5" stroke-linecap="round" stroke-linejoin="round" stroke-dasharray="1.6 1.1" fill="none" opacity="0.68"/>
<path d="M666.2 273.0L668.0 272.3L669.8 271.3M595.3 312.7L596.5 311.7L597.7 310.6M572.8 320.2L574.6 318.9L575.8 317.0" stroke="#34d044" stroke-width="1.0" stroke-linecap="round" stroke-linejoin="round" stroke-dasharray="1.6 1.1" fill="none" opacity="0.51"/>
<path d="M649.0 272.2L651.9 272.7L653.9 274.7M581.3 321.0L584.5 321.0L587.4 319.6M574.5 320.5L577.4 319.1L580.3 317.8M585.2 366.7L587.6 364.5L590.6 363.1M625.4 377.6L626.9 379.0L628.9 379.1M626.9 383.5L628.9 382.3L630.3 380.3M588.8 282.2L591.2 283.4L593.6 284.5M631.0 297.3L632.7 297.1L634.3 296.6" stroke="#22982e" stroke-width="0.6" stroke-linecap="round" stroke-linejoin="round" stroke-dasharray="1.6 1.1" fill="none" opacity="0.85"/>
<path d="M658.1 273.7L658.7 271.8L660.6 272.5M641.8 383.4L643.3 384.6L644.5 386.0" stroke="#2bc238" stroke-width="1.0" stroke-linecap="round" stroke-linejoin="round" stroke-dasharray="1.6 1.1" fill="none" opacity="0.51"/>
<path d="M668.9 270.7L671.8 270.0L674.7 269.6M632.5 325.6L634.7 327.7L636.5 330.1M586.4 370.9L589.2 369.5L591.8 371.2M598.4 362.8L602.2 362.0L603.8 358.4M600.3 380.9L602.6 382.4L604.5 384.4M612.7 366.8L614.8 367.3L616.9 367.7M638.7 297.6L641.3 299.1L644.2 297.9" stroke="#2fb43e" stroke-width="0.6" stroke-linecap="round" stroke-linejoin="round" stroke-dasharray="1.6 1.1" fill="none" opacity="0.51"/>
<path d="M662.1 270.6L663.3 267.8L665.3 265.8M643.9 301.4L645.2 302.5L645.6 304.2" stroke="#34d044" stroke-width="0.8" stroke-linecap="round" stroke-linejoin="round" stroke-dasharray="1.6 1.1" fill="none" opacity="0.68"/>
<path d="M660.7 273.2L662.8 274.3L664.7 275.7M588.2 318.5L591.0 319.5L594.0 319.1M592.4 366.4L596.2 366.0L598.4 362.8M574.4 389.3L576.7 387.7L578.9 386.1" stroke="#2fb43e" stroke-width="1.0" stroke-linecap="round" stroke-linejoin="round" stroke-dasharray="1.6 1.1" fill="none" opacity="0.68"/>
<path d="M649.0 269.7L650.6 269.7L651.5 271.0M567.1 384.0L570.0 381.6L572.7 378.9" stroke="#22982e" stroke-width="1.0" stroke-linecap="round" stroke-linejoin="round" stroke-dasharray="1.6 1.1" fill="none" opacity="0.51"/>
<path d="M658.3 273.6L659.9 273.3L660.3 274.9M568.1 321.6L570.6 320.3L573.4 319.6M593.3 313.1L595.9 313.2L598.3 312.0M595.5 313.8L597.0 310.7L599.8 308.7M558.8 332.8L560.4 334.2L560.9 336.2M605.0 385.8L607.8 387.3L610.9 387.0M642.0 301.8L645.1 301.0L648.2 300.1M617.6 296.5L619.0 297.9L621.0 298.1" stroke="#34d044" stroke-width="0.6" stroke-linecap="round" stroke-linejoin="round" stroke-dasharray="1.6 1.1" fill="none" opacity="0.85"/>
<path d="M661.9 272.4L663.6 271.7L665.3 272.2M610.4 365.3L610.5 367.3L611.0 369.3M588.5 281.8L591.1 283.1L593.8 284.2" stroke="#2bc238" stroke-width="0.8" stroke-linecap="round" stroke-linejoin="round" stroke-dasharray="1.6 1.1" fill="none" opacity="0.85"/>
<path d="M666.4 289.5L668.3 291.3L670.2 293.1M678.2 306.8L679.9 308.2L681.1 310.0M564.0 369.5L565.2 368.6L566.8 368.5M575.3 368.9L577.1 369.3L578.9 368.7M559.6 371.2L562.3 370.0L564.8 368.4M559.4 390.2L562.2 389.2L564.4 387.2M634.1 381.4L635.1 383.4L637.2 382.8" stroke="#2fb43e" stroke-width="0.7" stroke-linecap="round" stroke-linejoin="round" stroke-dasharray="1.6 1.1" fill="none" opacity="0.85"/>
<path d="M670.3 295.4L671.7 296.1L673.2 296.3M615.3 316.8L617.6 314.9L619.9 313.0M651.1 381.4L652.9 381.0L652.8 382.9M622.1 345.8L622.9 347.2L623.3 348.7" stroke="#2bc238" stroke-width="0.7" stroke-linecap="round" stroke-linejoin="round" stroke-dasharray="1.6 1.1" fill="none" opacity="0.51"/>
<path d="M668.3 293.9L669.1 296.8L669.8 299.7M565.8 340.2L568.9 339.6L572.0 338.9M572.4 354.2L575.7 355.5L578.9 357.1M642.3 325.4L641.6 328.4L642.3 331.4M553.0 373.1L555.0 372.5L556.1 370.7M634.6 382.1L636.2 381.8L637.4 380.7" stroke="#1b7c28" stroke-width="0.6" stroke-linecap="round" stroke-linejoin="round" stroke-dasharray="1.6 1.1" fill="none" opacity="0.51"/>
<path d="M673.7 292.4L675.0 293.8L675.1 295.7M568.1 324.1L572.0 323.6L576.0 323.7M568.1 341.7L569.7 342.0L570.4 343.4M574.7 385.3L576.8 383.5L579.0 381.9M646.2 342.9L647.9 344.9L649.9 346.7M647.5 341.8L648.9 343.2L649.8 344.9M634.4 344.3L636.4 346.5L638.9 348.1M615.4 339.4L616.2 340.8L617.7 341.1M615.3 296.9L617.3 296.0L619.4 296.4" stroke="#22982e" stroke-width="0.6" stroke-linecap="round" stroke-linejoin="round" stroke-dasharray="1.6 1.1" fill="none" opacity="0.68"/>
<path d="M664.7 290.6L665.7 292.2L667.5 292.5M592.4 317.1L595.2 315.8L598.1 315.3M575.8 349.3L578.7 351.8L579.6 355.4M609.9 318.8L612.1 320.0L614.7 320.0M638.2 320.7L639.2 323.1L641.1 324.7M621.2 371.2L621.3 373.0L621.1 374.8M604.6 362.0L606.9 364.0L606.3 367.1M653.2 378.3L653.9 376.8L654.2 375.1" stroke="#2fb43e" stroke-width="0.7" stroke-linecap="round" stroke-linejoin="round" stroke-dasharray="1.6 1.1" fill="none" opacity="0.68"/>
<path d="M677.2 301.7L679.0 302.8L681.0 303.6M599.0 310.6L601.9 309.2L604.5 307.2M601.6 313.0L603.8 311.2L606.6 311.0M568.0 336.6L569.0 339.4L568.9 342.4M634.8 325.0L636.8 326.4L638.9 327.6M556.2 387.0L559.9 387.8L563.6 388.6M659.9 373.3L661.6 371.0L664.5 371.0M642.3 381.3L644.8 381.7L647.2 382.3M626.9 293.9L629.5 293.4L632.1 293.6" stroke="#2bc238" stroke-width="0.7" stroke-linecap="round" stroke-linejoin="round" stroke-dasharray="1.6 1.1" fill="none" opacity="0.85"/>
<path d="M680.1 301.8L679.6 303.5L679.7 305.2M589.0 315.6L591.9 315.4L594.4 316.9M590.4 387.3L592.4 387.3L594.2 388.1M597.0 386.5L599.8 387.5L601.9 389.8M649.2 377.3L649.9 375.7L650.8 374.2M648.2 377.7L649.3 376.0L650.9 374.6M648.1 380.7L650.5 379.6L653.0 379.0M617.5 339.7L619.5 341.4L621.4 343.2M645.1 299.8L647.4 300.3L649.5 301.4" stroke="#2bc238" stroke-width="0.6" stroke-linecap="round" stroke-linejoin="round" stroke-dasharray="1.6 1.1" fill="none" opacity="0.85"/>
<path d="M661.0 286.9L661.7 289.6L663.5 291.7M572.5 340.3L575.3 339.2L578.0 340.4M565.1 389.0L567.1 388.6L569.1 388.4M595.6 364.5L596.9 366.7L599.0 368.1M649.6 381.9L651.2 380.7L653.0 379.7M654.0 375.3L656.0 372.5L657.0 369.1M657.6 377.5L660.3 376.5L662.4 374.6M653.3 353.7L652.3 354.9L652.0 356.5M608.3 293.0L609.6 292.0L611.1 292.9" stroke="#48dc54" stroke-width="0.7" stroke-linecap="round" stroke-linejoin="round" stroke-dasharray="1.6 1.1" fill="none" opacity="0.51"/>
<path d="M662.2 290.1L664.0 292.5L665.7 294.9M672.4 292.8L674.6 295.2L675.3 298.3M581.8 316.0L582.0 317.7L583.4 318.8M560.9 371.7L564.8 370.9L568.0 373.1M658.3 376.0L660.7 374.9L663.3 375.0M662.1 369.9L663.8 370.7L665.5 371.4M624.5 346.6L626.5 345.4L628.8 345.5M612.0 295.6L613.4 296.5L614.6 297.6M639.9 296.6L641.6 296.9L643.0 297.8" stroke="#2fb43e" stroke-width="0.6" stroke-linecap="round" stroke-linejoin="round" stroke-dasharray="1.6 1.1" fill="none" opacity="0.85"/>
<path d="M676.6 298.4L679.2 298.6L681.8 298.5M605.2 308.6L606.7 307.9L608.2 307.2M566.5 321.3L568.7 321.9L570.7 322.8M637.8 321.7L639.3 323.0L641.1 323.7M625.2 317.1L628.4 317.1L631.4 317.9M635.2 324.6L636.8 327.0L639.6 327.7M587.0 365.8L590.2 364.6L593.6 363.8M558.4 385.7L561.2 388.3L562.7 391.8M586.0 384.3L588.0 381.4L589.3 378.2M637.6 383.6L639.0 381.9L640.8 380.5M653.2 354.1L653.2 356.7L653.4 359.3M622.4 347.2L622.7 349.9L624.4 352.0M576.2 282.6L577.4 280.6L578.0 278.4" stroke="#48dc54" stroke-width="0.8" stroke-linecap="round" stroke-linejoin="round" stroke-dasharray="1.6 1.1" fill="none" opacity="0.85"/>
<path d="M667.0 292.1L670.3 292.3L673.7 292.2M636.4 323.5L636.4 325.8L637.6 327.9M590.1 387.6L593.8 388.0L597.4 387.9M630.7 384.0L633.2 384.4L635.1 386.1M609.6 366.0L610.8 367.2L612.2 368.1M660.1 363.2L661.0 364.9L661.3 366.7M630.0 349.9L631.6 350.4L633.3 350.6M620.6 301.2L622.0 302.9L622.1 305.1" stroke="#22982e" stroke-width="0.9" stroke-linecap="round" stroke-linejoin="round" stroke-dasharray="1.6 1.1" fill="none" opacity="0.85"/>
<path d="M677.3 301.0L678.9 301.9L679.7 303.5M658.2 376.5L660.6 375.1L663.3 374.5" stroke="#34d044" stroke-width="0.5" stroke-linecap="round" stroke-linejoin="round" stroke-dasharray="1.6 1.1" fill="none" opacity="0.51"/>
<path d="M666.6 292.1L669.3 292.7L671.4 294.6M587.2 386.3L590.6 387.3L594.1 387.2M567.9 388.9L571.0 388.8L573.9 387.8M583.5 382.8L585.6 381.9L586.4 379.8M621.1 374.5L622.9 373.9L624.4 372.7M574.6 284.6L576.3 282.1L578.0 279.6M637.2 297.8L639.3 298.3L640.6 300.1M635.6 295.1L637.4 295.1L639.1 295.5" stroke="#1b7c28" stroke-width="0.5" stroke-linecap="round" stroke-linejoin="round" stroke-dasharray="1.6 1.1" fill="none" opacity="0.85"/>
<path d="M666.2 288.2L668.1 289.4L670.3 289.9M575.0 370.3L577.3 367.7L579.7 365.2M595.9 364.0L598.3 364.0L599.9 362.2M599.1 384.7L599.5 388.4L600.3 391.9M609.6 367.1L610.7 368.5L610.5 370.3M644.7 298.8L646.8 300.3L649.3 299.9" stroke="#2bc238" stroke-width="0.7" stroke-linecap="round" stroke-linejoin="round" stroke-dasharray="1.6 1.1" fill="none" opacity="0.68"/>
<path d="M583.5 319.1L585.5 318.3L587.3 317.4M577.0 355.8L577.2 359.0L579.7 361.0M558.7 335.4L560.4 336.9L562.3 338.2M621.3 315.4L624.0 315.0L626.4 313.7M603.5 363.7L605.1 366.3L607.9 367.5M649.3 344.3L652.1 343.1L654.7 344.6" stroke="#34d044" stroke-width="0.5" stroke-linecap="round" stroke-linejoin="round" stroke-dasharray="1.6 1.1" fill="none" opacity="0.85"/>
<path d="M595.6 314.5L599.6 314.5L603.4 313.2M568.3 338.4L570.4 340.3L570.8 342.9M563.7 387.2L564.9 390.2L566.5 393.0M595.2 362.2L598.8 362.6L602.3 362.1M610.0 366.6L612.6 367.1L615.0 368.4M583.4 282.6L585.7 282.2L588.1 282.1" stroke="#1b7c28" stroke-width="0.7" stroke-linecap="round" stroke-linejoin="round" stroke-dasharray="1.6 1.1" fill="none" opacity="0.68"/>
<path d="M583.7 313.5L586.6 312.0L589.7 311.0M585.0 315.0L584.9 313.5L586.4 313.0M585.4 364.0L587.4 363.6L589.3 363.0M593.0 382.6L594.8 384.5L596.5 386.3M634.6 382.0L635.9 378.3L639.2 376.3M616.0 295.8L618.1 295.9L619.6 297.5" stroke="#48dc54" stroke-width="0.9" stroke-linecap="round" stroke-linejoin="round" stroke-dasharray="1.6 1.1" fill="none" opacity="0.51"/>
<path d="M577.4 318.5L579.7 317.2L580.6 314.8M578.2 319.0L577.6 315.2L578.8 311.4M613.9 371.6L614.8 375.1L617.7 377.2M629.2 347.0L632.1 345.1L634.9 343.1" stroke="#48dc54" stroke-width="0.7" stroke-linecap="round" stroke-linejoin="round" stroke-dasharray="1.6 1.1" fill="none" opacity="0.68"/>
<path d="M605.2 308.9L607.2 308.7L609.2 308.9" stroke="#48dc54" stroke-width="1.0" stroke-linecap="round" stroke-linejoin="round" stroke-dasharray="1.6 1.1" fill="none" opacity="0.51"/>
<path d="M594.7 314.2L597.0 312.8L599.7 312.4M565.6 332.5L567.1 335.8L569.9 338.0M620.9 318.7L622.3 318.1L623.8 318.5M607.1 386.1L608.9 386.6L609.9 385.1M605.6 389.1L607.3 389.3L608.9 389.6" stroke="#2bc238" stroke-width="0.8" stroke-linecap="round" stroke-linejoin="round" stroke-dasharray="1.6 1.1" fill="none" opacity="0.68"/>
<path d="M604.6 304.4L608.0 303.2L611.5 303.2M565.5 369.8L568.3 369.9L570.9 369.1M607.4 364.3L611.0 364.0L614.4 365.1M589.7 278.4L591.3 279.3L592.9 278.5M615.9 300.7L619.0 299.3L622.5 299.3" stroke="#22982e" stroke-width="0.8" stroke-linecap="round" stroke-linejoin="round" stroke-dasharray="1.6 1.1" fill="none" opacity="0.68"/>
<path d="M573.3 321.7L574.8 321.3L576.0 320.2M665.7 374.1L667.5 374.5L669.2 373.6" stroke="#2fb43e" stroke-width="0.5" stroke-linecap="round" stroke-linejoin="round" stroke-dasharray="1.6 1.1" fill="none" opacity="0.51"/>
<path d="M591.3 316.8L593.4 316.1L595.2 315.1M564.2 338.2L565.8 340.3L565.9 343.0M633.9 323.5L635.6 324.7L636.4 326.7M645.8 381.3L649.5 380.2L653.2 381.4M618.4 344.6L620.3 344.5L621.2 346.2M619.6 341.1L621.6 341.5L623.2 342.6" stroke="#48dc54" stroke-width="0.8" stroke-linecap="round" stroke-linejoin="round" stroke-dasharray="1.6 1.1" fill="none" opacity="0.68"/>
<path d="M587.4 314.2L589.7 314.4L591.9 315.3M594.7 280.9L597.5 281.0L598.6 283.6" stroke="#34d044" stroke-width="0.9" stroke-linecap="round" stroke-linejoin="round" stroke-dasharray="1.6 1.1" fill="none" opacity="0.85"/>
<path d="M582.7 315.7L583.7 318.2L585.6 320.0M598.8 359.4L599.6 360.8L601.2 360.5M596.6 361.5L598.0 365.0L598.4 368.8M651.6 347.9L652.7 349.6L653.5 351.5M660.1 370.0L663.1 370.8L666.3 371.1M627.6 344.1L630.3 343.1L631.9 340.8M587.3 281.1L589.5 281.4L591.6 281.6M631.8 295.3L634.4 294.2L636.6 292.5" stroke="#2fb43e" stroke-width="0.8" stroke-linecap="round" stroke-linejoin="round" stroke-dasharray="1.6 1.1" fill="none" opacity="0.85"/>
<path d="M568.4 344.4L569.4 347.9L573.0 348.9M551.4 330.9L553.9 331.8L556.3 333.0M560.6 333.2L561.8 335.9L563.1 338.5M552.9 327.5L554.4 329.0L556.5 329.6M611.2 320.5L614.0 320.6L616.4 319.2M592.1 361.1L593.5 361.9L594.9 362.6M616.5 366.2L617.0 369.7L615.6 373.0M603.0 359.1L604.2 361.2L604.5 363.5" stroke="#2bc238" stroke-width="0.6" stroke-linecap="round" stroke-linejoin="round" stroke-dasharray="1.6 1.1" fill="none" opacity="0.51"/>
<path d="M557.1 326.8L559.4 329.4L559.5 333.0M607.7 320.6L609.8 322.6L611.2 325.1M648.6 325.4L651.2 327.4L653.7 329.7M549.4 376.9L551.1 377.8L553.0 377.6M592.1 383.2L595.8 382.4L599.5 383.2M632.4 379.4L635.0 380.4L637.5 381.6M598.3 356.4L601.1 355.7L603.9 355.6M645.0 382.3L645.8 379.4L646.7 376.6M661.5 364.1L660.1 366.6L662.4 368.4M652.6 351.9L651.2 352.6L650.0 353.6M617.0 345.2L618.0 343.9L619.2 342.7M615.5 337.9L617.9 340.1L621.1 340.5M586.9 280.1L588.9 279.1L590.5 277.6" stroke="#48dc54" stroke-width="0.6" stroke-linecap="round" stroke-linejoin="round" stroke-dasharray="1.6 1.1" fill="none" opacity="0.85"/>
<path d="M573.6 346.1L570.7 348.1L570.6 351.7" stroke="#2fb43e" stroke-width="1.0" stroke-linecap="round" stroke-linejoin="round" stroke-dasharray="1.6 1.1" fill="none" opacity="0.85"/>
<path d="M569.2 338.3L571.0 339.5L572.9 340.4M579.3 388.6L582.2 387.9L585.3 388.2M601.4 363.8L604.6 364.7L607.0 367.1M645.3 379.7L645.6 383.4L646.2 387.1M648.4 300.7L649.5 302.7L651.9 302.9" stroke="#1b7c28" stroke-width="0.9" stroke-linecap="round" stroke-linejoin="round" stroke-dasharray="1.6 1.1" fill="none" opacity="0.68"/>
<path d="M567.6 341.4L569.9 343.4L569.5 346.5M561.6 332.9L564.0 335.3L566.6 337.5M562.5 369.9L564.1 370.3L565.5 371.3M575.7 389.8L576.4 391.2L577.7 392.2M567.7 388.4L568.6 386.0L568.3 383.5M663.1 372.4L664.6 371.1L666.6 371.1M659.2 364.5L661.8 366.0L664.5 367.4M656.0 358.8L658.1 359.6L659.5 361.4M641.7 296.0L643.4 296.0L645.0 295.7" stroke="#22982e" stroke-width="0.7" stroke-linecap="round" stroke-linejoin="round" stroke-dasharray="1.6 1.1" fill="none" opacity="0.51"/>
<path d="M560.1 335.7L562.9 338.3L565.8 340.8M629.5 321.1L630.6 322.5L631.5 324.0M653.3 354.0L653.7 357.1L653.6 360.3M619.8 342.7L619.8 344.2L620.5 345.6" stroke="#22982e" stroke-width="0.5" stroke-linecap="round" stroke-linejoin="round" stroke-dasharray="1.6 1.1" fill="none" opacity="0.85"/>
<path d="M608.5 318.6L611.1 318.6L613.4 319.6M632.9 319.8L634.4 322.2L636.4 324.3M627.8 320.6L627.9 322.7L629.4 324.1M565.4 370.1L568.7 370.8L571.8 371.9M610.8 369.1L613.4 368.3L615.6 366.8M598.6 360.1L601.0 361.1L602.9 362.8M649.0 342.8L648.4 344.6L650.1 345.5M633.7 347.5L635.4 347.0L637.1 346.3M576.7 280.8L578.0 279.7L579.1 278.3M635.7 295.9L639.0 295.2L642.4 296.1" stroke="#1b7c28" stroke-width="0.7" stroke-linecap="round" stroke-linejoin="round" stroke-dasharray="1.6 1.1" fill="none" opacity="0.51"/>
<path d="M634.7 321.2L637.0 323.4L639.0 325.8M597.6 356.5L599.7 356.7L601.7 356.7" stroke="#22982e" stroke-width="0.6" stroke-linecap="round" stroke-linejoin="round" stroke-dasharray="1.6 1.1" fill="none" opacity="0.51"/>
<path d="M618.4 320.3L619.8 317.7L622.1 315.8M609.4 317.4L611.7 317.4L612.9 315.5M568.6 372.5L571.6 374.7L575.2 375.7M654.9 357.6L657.0 357.7L658.6 359.1M583.8 280.2L585.8 279.7L587.5 280.8M578.0 282.7L580.1 284.0L582.5 283.6M633.8 296.4L635.3 298.0L636.6 299.8M627.6 298.4L630.2 298.3L632.6 297.5M637.9 297.2L639.0 298.4L640.5 298.8" stroke="#1b7c28" stroke-width="0.6" stroke-linecap="round" stroke-linejoin="round" stroke-dasharray="1.6 1.1" fill="none" opacity="0.68"/>
<path d="M638.2 323.4L640.4 324.7L642.9 324.3M597.8 389.2L600.0 391.5L602.9 392.7M644.6 381.5L646.8 381.8L648.3 383.4M635.9 350.7L637.9 350.9L639.9 350.9" stroke="#1b7c28" stroke-width="0.9" stroke-linecap="round" stroke-linejoin="round" stroke-dasharray="1.6 1.1" fill="none" opacity="0.85"/>
<path d="M555.9 369.1L558.0 368.5L559.9 367.5M595.0 365.9L598.1 364.0L601.7 363.5M592.5 381.9L594.4 381.8L596.2 381.4" stroke="#2bc238" stroke-width="0.9" stroke-linecap="round" stroke-linejoin="round" stroke-dasharray="1.6 1.1" fill="none" opacity="0.68"/>
<path d="M563.3 372.3L564.9 371.7L565.2 370.1" stroke="#1b7c28" stroke-width="1.0" stroke-linecap="round" stroke-linejoin="round" stroke-dasharray="1.6 1.1" fill="none" opacity="0.68"/>
<path d="M591.1 365.1L593.3 363.7L595.8 364.0M617.5 369.4L618.4 372.8L619.0 376.2M663.5 368.6L665.3 367.6L665.8 365.7" stroke="#34d044" stroke-width="1.0" stroke-linecap="round" stroke-linejoin="round" stroke-dasharray="1.6 1.1" fill="none" opacity="0.85"/>
<path d="M601.6 364.2L601.3 366.2L603.2 366.6M622.7 373.3L624.5 374.5L626.2 375.8M595.4 279.3L597.0 279.7L598.6 279.8" stroke="#48dc54" stroke-width="0.5" stroke-linecap="round" stroke-linejoin="round" stroke-dasharray="1.6 1.1" fill="none" opacity="0.85"/>
<path d="M620.0 375.0L619.9 377.6L620.0 380.2" stroke="#48dc54" stroke-width="1.0" stroke-linecap="round" stroke-linejoin="round" stroke-dasharray="1.6 1.1" fill="none" opacity="0.85"/>
<path d="M629.8 379.9L633.3 381.4L636.9 383.0M663.5 370.8L666.4 369.6L669.5 369.3" stroke="#22982e" stroke-width="1.0" stroke-linecap="round" stroke-linejoin="round" stroke-dasharray="1.6 1.1" fill="none" opacity="0.85"/>
<path d="M632.7 382.1L634.5 383.1L635.5 384.9" stroke="#48dc54" stroke-width="0.5" stroke-linecap="round" stroke-linejoin="round" stroke-dasharray="1.6 1.1" fill="none" opacity="0.68"/>
<path d="M654.3 358.5L656.3 360.6L656.9 363.3M592.1 280.7L594.4 282.2L595.4 284.8M585.7 279.5L587.3 280.1L588.4 281.5" stroke="#2bc238" stroke-width="0.5" stroke-linecap="round" stroke-linejoin="round" stroke-dasharray="1.6 1.1" fill="none" opacity="0.51"/>
<path d="M665.0 286.4l-1.7 2.3M632.4 294.5l1.7 1.7M657.5 288.3l1.8 1.2" stroke="#34d044" stroke-width="1.0" stroke-linecap="round" stroke-linejoin="round" stroke-dasharray="1.6 1.1" fill="none" opacity="0.77"/>
<path d="M643.5 293.1l0.8 0.8M554.0 313.2l1.8 2.3M570.4 358.1l0.3 2.7" stroke="#22982e" stroke-width="1.0" stroke-linecap="round" stroke-linejoin="round" stroke-dasharray="1.6 1.1" fill="none" opacity="0.59"/>
<path d="M617.1 272.8l1.7 1.2M660.6 289.5l-2.1 2.2" stroke="#2bc238" stroke-width="1.0" stroke-linecap="round" stroke-linejoin="round" stroke-dasharray="1.6 1.1" fill="none" opacity="0.77"/>
<path d="M667.9 273.3l0.1 1.7" stroke="#22982e" stroke-width="1.0" stroke-linecap="round" stroke-linejoin="round" stroke-dasharray="1.6 1.1" fill="none" opacity="0.77"/>
<path d="M590.5 304.2l-0.4 1.5" stroke="#34d044" stroke-width="0.9" stroke-linecap="round" stroke-linejoin="round" stroke-dasharray="1.6 1.1" fill="none" opacity="0.38"/>
<path d="M558.3 320.8l-0.3 1.0M648.9 297.5l-0.9 1.7" stroke="#2fb43e" stroke-width="0.6" stroke-linecap="round" stroke-linejoin="round" stroke-dasharray="1.6 1.1" fill="none" opacity="0.38"/>
<path d="M674.6 375.0l-1.0 0.6M677.9 313.0l-0.6 1.2" stroke="#1b7c28" stroke-width="1.1" stroke-linecap="round" stroke-linejoin="round" stroke-dasharray="1.6 1.1" fill="none" opacity="0.77"/>
<path d="M665.4 313.6l-1.0 2.5M564.6 334.2l-1.8 2.1M612.8 341.3l2.1 0.3" stroke="#2fb43e" stroke-width="1.0" stroke-linecap="round" stroke-linejoin="round" stroke-dasharray="1.6 1.1" fill="none" opacity="0.77"/>
<path d="M618.8 366.7l1.6 1.4" stroke="#48dc54" stroke-width="0.7" stroke-linecap="round" stroke-linejoin="round" stroke-dasharray="1.6 1.1" fill="none" opacity="0.38"/>
<path d="M662.9 275.5l0.3 2.9M631.1 336.8l-0.3 1.8M656.5 330.6l0.7 2.0" stroke="#34d044" stroke-width="0.6" stroke-linecap="round" stroke-linejoin="round" stroke-dasharray="1.6 1.1" fill="none" opacity="0.38"/>
<path d="M609.1 350.5l-0.6 0.9M603.8 278.5l0.4 2.6" stroke="#2bc238" stroke-width="0.8" stroke-linecap="round" stroke-linejoin="round" stroke-dasharray="1.6 1.1" fill="none" opacity="0.59"/>
<path d="M614.8 334.9l2.5 0.7M567.6 354.2l-0.6 0.5M601.6 290.1l-2.6 0.7M623.8 275.1l1.0 1.8" stroke="#48dc54" stroke-width="0.8" stroke-linecap="round" stroke-linejoin="round" stroke-dasharray="1.6 1.1" fill="none" opacity="0.38"/>
<path d="M605.5 369.4l-1.2 0.0M672.3 357.8l-1.6 0.3" stroke="#22982e" stroke-width="0.7" stroke-linecap="round" stroke-linejoin="round" stroke-dasharray="1.6 1.1" fill="none" opacity="0.38"/>
<path d="M617.1 371.9l-0.5 0.7M648.3 329.2l0.9 0.2M564.6 319.4l2.1 1.6M666.4 328.5l-2.2 0.9" stroke="#1b7c28" stroke-width="0.9" stroke-linecap="round" stroke-linejoin="round" stroke-dasharray="1.6 1.1" fill="none" opacity="0.38"/>
<path d="M662.3 280.0l2.3 0.7M564.5 369.8l1.6 1.9M616.7 324.1l-0.0 2.7" stroke="#2bc238" stroke-width="0.9" stroke-linecap="round" stroke-linejoin="round" stroke-dasharray="1.6 1.1" fill="none" opacity="0.38"/>
<path d="M579.8 278.3l-0.1 1.2M587.5 364.7l0.1 1.8M557.7 294.7l2.1 0.7" stroke="#48dc54" stroke-width="1.0" stroke-linecap="round" stroke-linejoin="round" stroke-dasharray="1.6 1.1" fill="none" opacity="0.38"/>
<path d="M606.2 316.2l-1.1 2.1M668.9 315.3l1.0 1.0M674.7 333.2l1.4 1.5M570.9 364.4l-0.0 2.4M634.3 292.9l2.7 0.6M611.5 367.6l0.1 0.9" stroke="#22982e" stroke-width="0.6" stroke-linecap="round" stroke-linejoin="round" stroke-dasharray="1.6 1.1" fill="none" opacity="0.38"/>
<path d="M670.6 358.7l0.3 1.0M659.5 352.2l-0.4 1.8M597.3 314.6l0.9 0.8" stroke="#48dc54" stroke-width="1.0" stroke-linecap="round" stroke-linejoin="round" stroke-dasharray="1.6 1.1" fill="none" opacity="0.77"/>
<path d="M596.6 330.2l1.4 1.7" stroke="#2bc238" stroke-width="1.1" stroke-linecap="round" stroke-linejoin="round" stroke-dasharray="1.6 1.1" fill="none" opacity="0.59"/>
<path d="M582.6 386.4l0.6 0.9" stroke="#48dc54" stroke-width="1.1" stroke-linecap="round" stroke-linejoin="round" stroke-dasharray="1.6 1.1" fill="none" opacity="0.59"/>
<path d="M610.7 304.4l-0.9 1.0M623.6 328.6l-0.0 1.4" stroke="#2fb43e" stroke-width="0.5" stroke-linecap="round" stroke-linejoin="round" stroke-dasharray="1.6 1.1" fill="none" opacity="0.38"/>
<path d="M642.0 393.2l1.5 1.7M651.8 353.6l1.5 1.8" stroke="#34d044" stroke-width="1.1" stroke-linecap="round" stroke-linejoin="round" stroke-dasharray="1.6 1.1" fill="none" opacity="0.38"/>
<path d="M666.7 305.4l-0.8 0.1M603.7 351.4l1.1 1.0M677.5 361.2l-2.9 0.1" stroke="#2fb43e" stroke-width="1.0" stroke-linecap="round" stroke-linejoin="round" stroke-dasharray="1.6 1.1" fill="none" opacity="0.38"/>
<path d="M666.9 336.7l1.4 1.3" stroke="#2fb43e" stroke-width="1.0" stroke-linecap="round" stroke-linejoin="round" stroke-dasharray="1.6 1.1" fill="none" opacity="0.59"/>
<path d="M640.3 334.0l-1.0 0.0" stroke="#34d044" stroke-width="1.1" stroke-linecap="round" stroke-linejoin="round" stroke-dasharray="1.6 1.1" fill="none" opacity="0.59"/>
<path d="M632.3 373.6l-0.9 1.7M653.9 332.7l-0.6 1.1M570.5 307.8l0.7 0.8" stroke="#22982e" stroke-width="1.0" stroke-linecap="round" stroke-linejoin="round" stroke-dasharray="1.6 1.1" fill="none" opacity="0.38"/>
<path d="M647.6 290.7l-2.4 1.2M616.4 316.4l-1.7 0.3M574.2 280.4l0.7 1.8M635.3 364.1l1.2 0.1" stroke="#22982e" stroke-width="0.9" stroke-linecap="round" stroke-linejoin="round" stroke-dasharray="1.6 1.1" fill="none" opacity="0.38"/>
<path d="M635.1 296.3l0.9 1.5" stroke="#1b7c28" stroke-width="0.7" stroke-linecap="round" stroke-linejoin="round" stroke-dasharray="1.6 1.1" fill="none" opacity="0.38"/>
<path d="M638.6 289.7l0.5 0.7M604.3 354.2l0.8 0.4" stroke="#1b7c28" stroke-width="1.1" stroke-linecap="round" stroke-linejoin="round" stroke-dasharray="1.6 1.1" fill="none" opacity="0.38"/>
<path d="M570.3 354.1l-0.9 0.3" stroke="#48dc54" stroke-width="1.0" stroke-linecap="round" stroke-linejoin="round" stroke-dasharray="1.6 1.1" fill="none" opacity="0.59"/>
<path d="M630.4 355.3l-1.5 1.3M660.5 281.3l1.8 1.0M629.9 270.5l1.3 0.1" stroke="#22982e" stroke-width="0.8" stroke-linecap="round" stroke-linejoin="round" stroke-dasharray="1.6 1.1" fill="none" opacity="0.38"/>
<path d="M623.6 375.5l2.7 0.1M616.4 368.4l0.9 2.1M586.0 376.0l-2.4 0.7" stroke="#2bc238" stroke-width="1.0" stroke-linecap="round" stroke-linejoin="round" stroke-dasharray="1.6 1.1" fill="none" opacity="0.38"/>
<path d="M578.3 296.5l-0.7 2.4" stroke="#2bc238" stroke-width="0.6" stroke-linecap="round" stroke-linejoin="round" stroke-dasharray="1.6 1.1" fill="none" opacity="0.38"/>
<path d="M655.9 326.0l-1.2 0.1" stroke="#34d044" stroke-width="0.5" stroke-linecap="round" stroke-linejoin="round" stroke-dasharray="1.6 1.1" fill="none" opacity="0.38"/>
<path d="M595.5 334.6l-0.5 1.2M595.4 297.8l2.2 0.1" stroke="#34d044" stroke-width="1.0" stroke-linecap="round" stroke-linejoin="round" stroke-dasharray="1.6 1.1" fill="none" opacity="0.59"/>
<path d="M553.6 367.0l1.4 1.7" stroke="#2fb43e" stroke-width="1.1" stroke-linecap="round" stroke-linejoin="round" stroke-dasharray="1.6 1.1" fill="none" opacity="0.38"/>
<path d="M586.2 366.3l0.9 0.7M579.6 283.9l-0.0 2.3" stroke="#2fb43e" stroke-width="1.1" stroke-linecap="round" stroke-linejoin="round" stroke-dasharray="1.6 1.1" fill="none" opacity="0.59"/>
<path d="M565.5 379.7l-1.5 0.8" stroke="#34d044" stroke-width="0.7" stroke-linecap="round" stroke-linejoin="round" stroke-dasharray="1.6 1.1" fill="none" opacity="0.38"/>
<path d="M607.3 322.0l-0.6 2.7M595.1 366.0l-1.8 0.0M575.5 389.9l1.4 1.2" stroke="#2bc238" stroke-width="1.0" stroke-linecap="round" stroke-linejoin="round" stroke-dasharray="1.6 1.1" fill="none" opacity="0.59"/>
<path d="M640.2 283.1l1.0 0.6M591.5 280.5l1.7 2.3M675.6 315.9l-1.0 0.6" stroke="#2fb43e" stroke-width="0.7" stroke-linecap="round" stroke-linejoin="round" stroke-dasharray="1.6 1.1" fill="none" opacity="0.38"/>
<path d="M593.0 290.2l1.2 0.5M618.9 334.6l1.4 0.5" stroke="#2bc238" stroke-width="1.1" stroke-linecap="round" stroke-linejoin="round" stroke-dasharray="1.6 1.1" fill="none" opacity="0.38"/>
<path d="M553.8 349.1l-0.9 0.1" stroke="#2fb43e" stroke-width="0.9" stroke-linecap="round" stroke-linejoin="round" stroke-dasharray="1.6 1.1" fill="none" opacity="0.38"/>
<path d="M643.6 305.1l1.1 0.7M564.2 391.4l1.7 1.4" stroke="#1b7c28" stroke-width="1.0" stroke-linecap="round" stroke-linejoin="round" stroke-dasharray="1.6 1.1" fill="none" opacity="0.77"/>
<path d="M594.6 391.2l-2.9 0.5" stroke="#1b7c28" stroke-width="0.5" stroke-linecap="round" stroke-linejoin="round" stroke-dasharray="1.6 1.1" fill="none" opacity="0.38"/>
<path d="M666.0 316.4l-0.4 0.9" stroke="#2bc238" stroke-width="0.7" stroke-linecap="round" stroke-linejoin="round" stroke-dasharray="1.6 1.1" fill="none" opacity="0.38"/>
<path d="M580.9 282.5l-2.0 1.2" stroke="#22982e" stroke-width="1.1" stroke-linecap="round" stroke-linejoin="round" stroke-dasharray="1.6 1.1" fill="none" opacity="0.77"/>
<path d="M633.1 312.1l0.9 2.7M593.0 332.0l1.4 0.1" stroke="#48dc54" stroke-width="0.9" stroke-linecap="round" stroke-linejoin="round" stroke-dasharray="1.6 1.1" fill="none" opacity="0.38"/>
<path d="M585.9 371.7l0.4 1.1" stroke="#1b7c28" stroke-width="0.6" stroke-linecap="round" stroke-linejoin="round" stroke-dasharray="1.6 1.1" fill="none" opacity="0.38"/>
<path d="M672.0 308.2l1.5 0.3" stroke="#1b7c28" stroke-width="1.0" stroke-linecap="round" stroke-linejoin="round" stroke-dasharray="1.6 1.1" fill="none" opacity="0.38"/>
<path d="M674.9 359.0l1.3 1.3" stroke="#2fb43e" stroke-width="0.8" stroke-linecap="round" stroke-linejoin="round" stroke-dasharray="1.6 1.1" fill="none" opacity="0.77"/>
<path d="M642.0 349.6l-1.2 1.1" stroke="#34d044" stroke-width="1.0" stroke-linecap="round" stroke-linejoin="round" stroke-dasharray="1.6 1.1" fill="none" opacity="0.38"/>
<path d="M600.7 334.5l-1.3 1.8" stroke="#2bc238" stroke-width="0.8" stroke-linecap="round" stroke-linejoin="round" stroke-dasharray="1.6 1.1" fill="none" opacity="0.38"/>
</g></g>
<rect x="634.30" y="378.20" width="41.50" height="2.00" fill="#fff" stroke="none" stroke-width="1" />
<text x="655.40" y="388.96" font-size="6.6" text-anchor="middle" fill="#fff" font-weight="bold" textLength="25" lengthAdjust="spacingAndGlyphs" >0.2 mm</text>
<rect x="557.30" y="421.60" width="119.60" height="117.30" fill="#020207" stroke="none" stroke-width="1" />
<g clip-path="url(#m2)"><g filter="url(#mb)">
<path d="M665.8 534.1h.01M680.7 499.2h.01M674.7 496.1h.01M643.1 431.9h.01M578.4 476.3h.01M654.9 475.0h.01M590.8 509.5h.01M668.7 501.5h.01M668.9 443.6h.01M644.9 481.5h.01M636.5 473.1h.01M640.0 430.1h.01M640.6 464.4h.01M633.4 454.3h.01M646.5 531.8h.01M577.6 456.4h.01M571.6 423.3h.01M664.5 471.1h.01M617.2 518.1h.01M599.2 442.2h.01M563.8 495.7h.01M569.4 437.1h.01M588.8 469.9h.01" stroke="#3a40c4" stroke-width="2.0" stroke-linecap="round" fill="none" opacity="0.6"/>
<path d="M667.8 533.1h.01M634.2 457.0h.01M648.7 486.7h.01M640.3 475.7h.01M663.5 492.7h.01M672.6 464.1h.01M578.5 435.1h.01M636.0 469.0h.01M664.9 502.1h.01M609.7 457.5h.01M657.1 440.4h.01M662.0 451.9h.01M668.5 439.0h.01M610.4 480.7h.01M567.2 528.0h.01M564.3 524.7h.01M628.4 439.0h.01M646.8 503.7h.01M573.1 443.9h.01M615.8 437.5h.01M667.9 517.2h.01M573.1 520.6h.01M556.2 422.0h.01M663.0 487.6h.01M596.0 423.5h.01" stroke="#20238e" stroke-width="2.5" stroke-linecap="round" fill="none" opacity="0.6"/>
<path d="M676.1 534.0h.01M673.3 502.6h.01M637.8 434.8h.01M565.7 437.8h.01M632.5 504.5h.01M575.9 430.9h.01M636.9 474.2h.01M633.4 472.8h.01M675.1 523.4h.01M620.1 460.5h.01M658.5 458.1h.01M662.8 510.1h.01M661.1 444.7h.01M654.3 535.6h.01M652.8 461.2h.01M649.0 460.0h.01M640.0 455.0h.01M562.4 482.9h.01M573.8 431.9h.01M650.6 480.1h.01M605.4 537.5h.01M587.7 464.7h.01M576.8 492.9h.01M652.4 484.9h.01M623.7 499.9h.01M663.3 488.4h.01M569.9 495.2h.01" stroke="#16186a" stroke-width="2.0" stroke-linecap="round" fill="none" opacity="1"/>
<path d="M667.3 531.6h.01M682.2 498.8h.01M632.6 533.3h.01M642.9 509.7h.01M554.5 466.5h.01M575.9 522.1h.01M652.9 493.6h.01M574.3 529.5h.01M586.9 449.8h.01M617.4 469.8h.01M569.9 447.6h.01M632.4 520.3h.01M675.3 448.7h.01M640.9 456.0h.01" stroke="#20238e" stroke-width="1.5" stroke-linecap="round" fill="none" opacity="1"/>
<path d="M665.4 533.5h.01M638.6 432.4h.01M639.9 511.4h.01M668.7 445.1h.01M591.9 479.9h.01M592.7 428.4h.01M595.1 479.2h.01M615.8 476.7h.01M569.3 457.1h.01M669.9 460.8h.01M618.2 465.0h.01M671.8 498.7h.01M637.1 446.3h.01M583.9 516.8h.01M630.7 500.0h.01M603.6 479.6h.01M642.1 517.4h.01M579.5 437.3h.01M563.9 527.1h.01M635.8 455.3h.01M655.1 478.1h.01M640.6 426.0h.01M608.8 468.6h.01M633.0 498.3h.01M560.1 472.6h.01M560.3 475.3h.01M653.9 448.9h.01M566.7 496.1h.01M627.3 429.5h.01M562.8 437.2h.01M568.4 523.2h.01" stroke="#3a40c4" stroke-width="2.0" stroke-linecap="round" fill="none" opacity="0.8"/>
<path d="M656.9 531.8h.01M602.8 433.5h.01M589.8 514.2h.01M650.7 481.0h.01M636.7 531.6h.01" stroke="#282ba0" stroke-width="3.5" stroke-linecap="round" fill="none" opacity="1"/>
<path d="M675.7 532.6h.01M617.1 515.7h.01M683.2 498.8h.01M657.1 494.4h.01M676.9 451.9h.01M613.0 493.4h.01M656.2 473.6h.01M610.7 458.8h.01M600.6 536.8h.01M576.1 526.9h.01M631.9 459.3h.01M661.7 507.4h.01M583.0 480.3h.01M620.8 529.8h.01M563.1 423.3h.01M669.0 443.5h.01" stroke="#1a1c7a" stroke-width="3.0" stroke-linecap="round" fill="none" opacity="1"/>
<path d="M616.9 514.9h.01M613.8 516.5h.01M600.9 540.0h.01M656.3 490.2h.01M589.9 509.5h.01M658.9 495.7h.01M618.2 460.7h.01M600.1 466.9h.01M653.0 525.7h.01M618.4 469.1h.01M566.7 434.8h.01M624.3 460.5h.01M564.3 497.0h.01M619.1 518.4h.01M588.8 431.2h.01M584.5 424.7h.01M565.7 495.2h.01" stroke="#282ba0" stroke-width="1.5" stroke-linecap="round" fill="none" opacity="1"/>
<path d="M612.0 517.0h.01M596.6 478.6h.01M609.8 491.3h.01M571.6 471.3h.01M636.9 443.8h.01M628.9 484.9h.01M572.3 520.5h.01M627.3 523.1h.01M658.3 496.1h.01M654.9 535.1h.01M669.3 445.7h.01M624.3 487.0h.01M582.8 507.5h.01M648.0 527.3h.01M675.9 520.6h.01M563.8 526.7h.01M641.3 459.5h.01M661.1 469.0h.01M667.3 448.4h.01M605.5 445.2h.01M632.5 519.0h.01M618.5 518.6h.01M623.8 537.9h.01M668.7 488.0h.01M633.5 461.7h.01M599.1 468.9h.01M601.9 454.8h.01M573.0 458.6h.01" stroke="#282ba0" stroke-width="2.5" stroke-linecap="round" fill="none" opacity="0.6"/>
<path d="M622.2 516.1h.01M600.0 539.6h.01M666.6 505.0h.01M641.0 539.5h.01M609.5 476.9h.01M670.8 450.9h.01M613.6 495.8h.01M608.1 516.7h.01M567.4 435.5h.01M578.9 521.8h.01M656.8 478.9h.01M604.7 464.2h.01M633.1 501.4h.01M574.7 458.4h.01M653.4 422.2h.01M556.5 452.4h.01M668.4 474.5h.01M622.9 490.3h.01M632.9 528.7h.01M610.5 501.5h.01" stroke="#2e32b0" stroke-width="2.5" stroke-linecap="round" fill="none" opacity="0.6"/>
<path d="M613.7 515.2h.01M649.6 472.0h.01M560.3 464.7h.01M650.1 489.7h.01M671.5 483.3h.01M562.3 446.9h.01M624.4 485.4h.01M610.9 463.9h.01M583.0 422.4h.01M646.5 485.9h.01M645.9 438.8h.01M606.5 436.8h.01M635.3 474.7h.01M662.5 444.4h.01M595.8 470.2h.01" stroke="#20238e" stroke-width="3.0" stroke-linecap="round" fill="none" opacity="0.8"/>
<path d="M622.1 518.1h.01M662.3 481.1h.01M569.6 466.8h.01M577.3 472.1h.01M667.2 504.4h.01M649.5 439.7h.01M598.1 440.0h.01" stroke="#2e32b0" stroke-width="1.5" stroke-linecap="round" fill="none" opacity="0.8"/>
<path d="M624.5 514.9h.01M599.1 536.6h.01M669.4 475.7h.01M604.4 473.3h.01M578.2 523.1h.01M654.0 489.5h.01M629.9 454.9h.01M604.1 506.6h.01M639.1 451.7h.01M566.2 430.1h.01M648.6 507.7h.01M589.5 486.2h.01M662.0 476.1h.01M607.6 473.5h.01M588.9 462.9h.01M602.4 445.2h.01M581.7 423.9h.01M581.1 521.1h.01M648.2 476.1h.01M668.3 486.8h.01M557.4 467.1h.01M573.4 496.8h.01M611.1 452.9h.01M622.9 473.2h.01" stroke="#1a1c7a" stroke-width="2.5" stroke-linecap="round" fill="none" opacity="1"/>
<path d="M621.2 513.8h.01M634.6 457.3h.01M639.6 507.1h.01M603.0 462.6h.01M596.5 460.5h.01M595.9 479.1h.01M597.2 443.4h.01" stroke="#3a40c4" stroke-width="3.5" stroke-linecap="round" fill="none" opacity="0.6"/>
<path d="M598.2 537.9h.01M621.2 421.0h.01M567.7 466.7h.01M673.2 519.9h.01M616.9 473.9h.01M658.8 477.7h.01M598.3 508.5h.01M553.3 530.2h.01M637.6 475.5h.01M577.0 507.9h.01M654.7 530.9h.01M657.4 472.4h.01M663.3 473.1h.01M561.6 498.9h.01M576.3 491.7h.01M631.4 431.4h.01M629.6 428.1h.01" stroke="#2e32b0" stroke-width="3.0" stroke-linecap="round" fill="none" opacity="0.8"/>
<path d="M591.6 535.1h.01M659.5 492.6h.01M624.5 506.1h.01M597.8 461.8h.01M601.0 496.0h.01M588.4 457.6h.01M636.1 458.9h.01M598.0 516.0h.01M584.9 497.2h.01M621.6 486.3h.01M667.4 498.9h.01M634.1 508.3h.01M570.2 447.0h.01M578.9 445.5h.01M630.6 463.8h.01M588.0 451.0h.01M652.8 527.4h.01M605.9 435.1h.01M629.5 516.8h.01M628.5 518.0h.01M654.2 457.4h.01M566.4 439.0h.01M636.2 487.9h.01M573.4 430.4h.01M640.6 442.5h.01M579.3 444.7h.01M586.7 478.1h.01M665.2 530.4h.01M624.0 491.7h.01M567.7 447.3h.01M674.0 509.2h.01M630.4 488.9h.01" stroke="#2e32b0" stroke-width="2.0" stroke-linecap="round" fill="none" opacity="0.6"/>
<path d="M667.8 477.5h.01M655.0 486.5h.01M623.5 516.5h.01M614.3 424.6h.01M670.6 522.0h.01M595.9 481.7h.01M605.8 532.1h.01M634.4 482.4h.01M640.8 525.2h.01M664.3 443.1h.01M674.6 452.3h.01M590.5 499.3h.01M636.0 453.4h.01M562.1 427.0h.01M655.7 506.5h.01M636.4 444.2h.01M653.8 459.1h.01M566.4 520.2h.01M554.7 422.5h.01M588.9 463.5h.01M596.0 490.2h.01M611.6 492.5h.01M573.7 521.8h.01" stroke="#20238e" stroke-width="3.0" stroke-linecap="round" fill="none" opacity="1"/>
<path d="M673.1 472.1h.01M564.0 431.0h.01M578.7 478.6h.01M643.4 531.2h.01M648.2 493.5h.01M603.8 482.1h.01M615.5 540.8h.01M636.9 442.8h.01M581.9 448.9h.01M616.3 469.8h.01M676.4 421.9h.01M617.5 481.0h.01M668.1 444.2h.01M658.8 439.7h.01M676.2 444.6h.01M592.7 534.2h.01M559.0 492.7h.01M605.6 497.0h.01M579.1 521.1h.01M622.4 430.9h.01M578.5 461.1h.01" stroke="#16186a" stroke-width="3.0" stroke-linecap="round" fill="none" opacity="0.8"/>
<path d="M662.1 475.0h.01M641.4 513.6h.01M576.8 476.0h.01M612.0 418.6h.01M597.7 460.6h.01M605.8 485.2h.01M559.8 513.8h.01M629.2 505.6h.01M604.2 468.0h.01M571.7 493.7h.01M633.9 508.3h.01M592.3 454.5h.01M557.3 521.2h.01M623.4 520.7h.01M645.3 471.4h.01M640.0 485.0h.01M591.5 534.0h.01M600.4 467.9h.01M673.0 438.8h.01M624.6 515.5h.01M553.3 470.6h.01M570.4 441.9h.01M631.6 523.2h.01M611.7 466.8h.01M628.5 537.9h.01M631.6 488.6h.01M565.8 495.5h.01M576.6 419.8h.01M559.3 422.4h.01M623.3 431.5h.01" stroke="#16186a" stroke-width="3.0" stroke-linecap="round" fill="none" opacity="1"/>
<path d="M668.0 474.6h.01M664.6 421.5h.01M555.6 489.3h.01M669.1 454.2h.01M626.2 506.5h.01M628.4 475.1h.01M630.7 524.5h.01M570.4 512.5h.01M632.9 485.7h.01M664.6 507.2h.01M671.0 453.5h.01M628.5 458.5h.01M605.8 441.1h.01M573.1 522.2h.01M577.4 428.9h.01M595.0 537.6h.01M620.2 519.4h.01M590.4 530.6h.01M566.0 462.7h.01M609.0 452.0h.01" stroke="#1a1c7a" stroke-width="1.5" stroke-linecap="round" fill="none" opacity="0.8"/>
<path d="M671.1 472.6h.01M650.1 420.3h.01M569.6 433.0h.01M644.4 532.0h.01M594.6 479.2h.01M637.1 484.7h.01M615.9 459.2h.01M573.0 521.2h.01M622.0 526.0h.01M668.4 492.1h.01M605.3 510.9h.01M585.7 523.5h.01M633.5 483.2h.01M613.1 512.1h.01M609.8 514.7h.01M672.0 502.6h.01M589.5 451.7h.01M550.1 519.4h.01M616.7 468.6h.01M593.8 447.2h.01M607.5 434.4h.01M586.7 537.6h.01M653.5 420.3h.01M556.2 452.5h.01M623.8 519.5h.01M619.7 522.2h.01M655.7 456.0h.01M657.7 446.8h.01M562.9 498.1h.01M558.2 497.8h.01" stroke="#1a1c7a" stroke-width="2.0" stroke-linecap="round" fill="none" opacity="1"/>
<path d="M671.7 472.3h.01M656.2 495.0h.01M631.5 426.7h.01M647.8 523.0h.01M596.1 521.7h.01M626.5 474.3h.01" stroke="#282ba0" stroke-width="3.5" stroke-linecap="round" fill="none" opacity="0.6"/>
<path d="M664.6 474.4h.01M637.5 468.6h.01M626.3 477.1h.01M677.8 444.5h.01M672.0 443.2h.01M593.8 462.5h.01" stroke="#3a40c4" stroke-width="3.5" stroke-linecap="round" fill="none" opacity="0.8"/>
<path d="M666.7 478.3h.01M652.2 535.6h.01M650.1 462.5h.01M676.5 483.2h.01M622.4 457.2h.01M674.7 523.5h.01M662.7 533.5h.01M630.3 421.8h.01M663.6 492.7h.01M612.9 458.5h.01M587.9 471.7h.01M611.8 512.4h.01M665.1 498.6h.01M670.7 460.1h.01M643.2 540.0h.01M666.2 521.5h.01M657.6 531.6h.01M630.3 516.0h.01M640.4 486.2h.01M653.7 449.0h.01M577.8 458.9h.01M574.1 445.5h.01M591.6 459.2h.01M566.8 494.8h.01M674.9 440.3h.01M564.5 473.7h.01M628.1 429.2h.01M561.6 423.7h.01M623.5 429.6h.01M592.0 470.4h.01M561.1 491.5h.01M577.2 464.4h.01M605.1 427.7h.01" stroke="#2e32b0" stroke-width="2.0" stroke-linecap="round" fill="none" opacity="1"/>
<path d="M616.3 431.0h.01M661.7 488.8h.01M678.6 451.9h.01M669.3 453.0h.01M609.4 422.1h.01M669.5 522.3h.01M618.1 522.1h.01M621.2 456.1h.01M667.6 482.6h.01M633.4 489.4h.01M588.8 509.1h.01M634.9 468.9h.01M651.9 495.4h.01M594.9 446.2h.01M673.6 452.1h.01M570.0 454.2h.01M610.0 472.5h.01M583.4 499.4h.01M588.3 475.1h.01M579.8 507.7h.01M668.6 431.6h.01M600.6 464.8h.01M583.7 477.5h.01M668.5 482.8h.01M636.5 500.3h.01M672.5 446.7h.01M562.2 472.4h.01M629.2 523.4h.01M594.3 445.3h.01M585.6 423.7h.01M634.2 462.9h.01" stroke="#16186a" stroke-width="2.0" stroke-linecap="round" fill="none" opacity="0.8"/>
<path d="M606.2 438.4h.01M619.7 533.2h.01M645.6 435.7h.01M567.9 433.1h.01M665.0 456.7h.01M576.1 475.1h.01M668.7 519.1h.01M668.7 446.1h.01M601.8 479.7h.01M595.9 520.9h.01M665.2 459.3h.01M656.3 457.1h.01M618.2 484.1h.01M655.3 530.2h.01M676.0 442.1h.01M573.6 424.1h.01M650.7 496.9h.01M579.2 445.7h.01M589.4 491.7h.01M641.8 499.2h.01M663.3 515.4h.01M584.2 424.8h.01" stroke="#20238e" stroke-width="2.0" stroke-linecap="round" fill="none" opacity="0.8"/>
<path d="M607.1 431.5h.01M593.7 539.4h.01M630.2 507.3h.01M603.6 493.5h.01M672.9 522.3h.01M592.4 479.3h.01M650.7 530.6h.01M658.5 472.1h.01M618.2 455.5h.01M645.2 522.5h.01M661.9 476.0h.01M624.0 466.1h.01M620.3 512.7h.01M648.1 510.0h.01M637.4 507.3h.01M631.3 473.4h.01M635.1 469.3h.01M590.5 485.3h.01M562.2 515.8h.01M602.1 437.0h.01M638.3 439.8h.01M678.9 444.0h.01M606.7 466.2h.01M564.0 444.7h.01" stroke="#2e32b0" stroke-width="2.5" stroke-linecap="round" fill="none" opacity="0.8"/>
<path d="M605.6 429.1h.01M628.4 514.2h.01M565.9 436.1h.01M671.7 476.3h.01M564.4 493.2h.01M649.7 531.1h.01M633.4 486.7h.01M563.0 532.7h.01M636.7 443.3h.01M644.0 452.5h.01M636.1 456.1h.01M617.1 455.2h.01M567.5 495.6h.01M605.3 541.6h.01M652.0 451.8h.01M591.3 459.4h.01M569.1 458.6h.01M566.5 460.3h.01" stroke="#282ba0" stroke-width="3.0" stroke-linecap="round" fill="none" opacity="0.8"/>
<path d="M608.7 431.8h.01M635.9 459.5h.01M670.8 526.5h.01M558.3 466.1h.01M643.1 524.7h.01M581.0 530.3h.01M567.1 427.8h.01M561.5 449.8h.01M645.7 504.3h.01M584.2 451.0h.01M641.5 431.6h.01M639.1 444.7h.01M624.6 454.9h.01M601.5 440.1h.01M578.6 430.6h.01M556.5 500.8h.01M573.1 492.9h.01M576.9 492.3h.01M577.4 521.6h.01M594.4 469.8h.01" stroke="#3a40c4" stroke-width="3.0" stroke-linecap="round" fill="none" opacity="0.8"/>
<path d="M608.2 426.5h.01M617.9 462.2h.01M610.9 531.9h.01M613.3 459.1h.01M612.6 473.6h.01M567.5 515.4h.01M648.4 490.0h.01M616.7 483.4h.01M652.7 441.8h.01M580.7 436.2h.01M589.4 449.9h.01M592.3 494.2h.01M661.7 525.8h.01M579.6 424.4h.01M565.3 496.6h.01" stroke="#3a40c4" stroke-width="2.5" stroke-linecap="round" fill="none" opacity="0.6"/>
<path d="M599.5 434.4h.01M640.9 528.2h.01M670.5 466.0h.01M571.9 518.8h.01M586.8 533.5h.01M617.7 539.9h.01M566.7 437.7h.01" stroke="#1a1c7a" stroke-width="3.5" stroke-linecap="round" fill="none" opacity="1"/>
<path d="M649.5 430.8h.01M558.7 490.3h.01M649.1 534.6h.01M604.3 471.4h.01M676.4 523.5h.01M645.8 441.7h.01M633.8 482.9h.01M665.5 425.6h.01M588.2 509.2h.01M601.5 472.1h.01M678.7 494.6h.01M569.1 522.6h.01M578.3 465.7h.01M624.5 486.3h.01M647.2 540.7h.01M570.6 437.2h.01M651.5 484.0h.01M581.5 427.9h.01M583.6 436.0h.01M555.3 425.0h.01M621.4 477.2h.01" stroke="#20238e" stroke-width="2.5" stroke-linecap="round" fill="none" opacity="0.8"/>
<path d="M650.0 421.4h.01M681.7 498.9h.01M604.9 473.2h.01M614.8 424.4h.01M585.7 507.6h.01M557.6 511.7h.01M665.2 450.4h.01M632.7 459.6h.01M633.9 539.1h.01M572.3 437.1h.01M571.4 485.9h.01M649.5 441.7h.01M585.3 492.8h.01M556.7 497.4h.01" stroke="#2e32b0" stroke-width="3.0" stroke-linecap="round" fill="none" opacity="1"/>
<path d="M637.9 455.4h.01M669.0 500.7h.01M557.3 431.3h.01M562.5 488.1h.01M656.2 437.3h.01M573.8 428.3h.01M595.8 507.2h.01M665.4 445.3h.01M558.6 516.4h.01M618.0 460.8h.01M657.7 506.7h.01M634.4 502.5h.01M655.4 530.8h.01M615.1 429.3h.01M593.3 457.8h.01M674.3 448.3h.01M613.2 464.4h.01M564.3 464.1h.01M570.2 437.4h.01M576.0 464.4h.01" stroke="#3a40c4" stroke-width="1.5" stroke-linecap="round" fill="none" opacity="0.6"/>
<path d="M640.1 455.8h.01M564.1 434.6h.01M671.0 520.6h.01M590.8 429.4h.01M651.6 491.3h.01M601.0 483.1h.01M565.4 448.8h.01M615.3 466.0h.01M602.5 464.5h.01M600.7 464.5h.01M646.4 532.0h.01M679.0 446.4h.01M643.3 482.3h.01M644.4 505.7h.01M583.3 425.5h.01M577.9 426.8h.01" stroke="#3a40c4" stroke-width="2.5" stroke-linecap="round" fill="none" opacity="0.8"/>
<path d="M635.6 453.4h.01M663.9 425.2h.01M654.0 533.3h.01M618.7 458.4h.01M648.5 503.7h.01M592.3 507.8h.01M665.4 450.3h.01M655.0 480.2h.01M591.8 476.5h.01M661.3 506.6h.01M577.5 517.5h.01M640.3 467.8h.01M618.1 482.9h.01M615.8 468.3h.01M625.0 498.5h.01M612.0 480.1h.01M668.9 429.5h.01M562.0 523.7h.01M559.6 527.2h.01M599.2 465.4h.01M594.9 475.6h.01M634.0 477.2h.01M619.1 488.6h.01M620.3 490.9h.01M638.3 486.8h.01" stroke="#1a1c7a" stroke-width="2.0" stroke-linecap="round" fill="none" opacity="0.8"/>
<path d="M643.2 459.5h.01M640.2 506.1h.01M561.6 467.0h.01M642.7 528.8h.01M642.4 502.9h.01M608.1 475.3h.01M637.5 466.0h.01M605.7 482.7h.01M572.2 511.8h.01M580.6 527.9h.01M572.4 444.4h.01M604.8 468.7h.01M653.0 505.2h.01M623.5 521.2h.01M570.4 455.2h.01M655.5 471.1h.01M646.2 505.9h.01M649.6 466.4h.01M677.9 484.7h.01M559.9 467.3h.01" stroke="#2e32b0" stroke-width="2.0" stroke-linecap="round" fill="none" opacity="0.8"/>
<path d="M638.7 453.7h.01M600.2 472.5h.01M643.1 508.4h.01M565.1 447.0h.01M608.8 424.7h.01M608.0 520.1h.01M585.6 419.4h.01M648.2 452.7h.01M574.1 484.4h.01M625.8 521.4h.01M623.3 431.0h.01M627.1 499.2h.01M602.3 473.2h.01M654.5 473.2h.01M599.5 433.4h.01M570.1 494.8h.01M633.4 501.6h.01M629.2 481.8h.01M597.0 439.2h.01" stroke="#2e32b0" stroke-width="2.5" stroke-linecap="round" fill="none" opacity="1"/>
<path d="M595.2 540.0h.01M633.8 474.2h.01M644.3 527.0h.01M570.7 508.0h.01M597.3 521.9h.01M585.8 500.7h.01M581.1 523.2h.01M583.9 470.0h.01M635.2 458.2h.01M616.6 464.0h.01M618.0 483.3h.01M653.7 523.3h.01M575.4 524.1h.01M577.5 519.6h.01M646.2 495.9h.01M635.3 457.2h.01M577.8 493.5h.01M636.7 478.2h.01M621.2 513.8h.01M608.7 443.6h.01M624.1 518.7h.01M569.3 456.4h.01M567.9 422.1h.01" stroke="#16186a" stroke-width="3.0" stroke-linecap="round" fill="none" opacity="0.6"/>
<path d="M597.1 538.6h.01M567.4 489.1h.01M614.2 491.0h.01M603.8 476.0h.01M646.1 443.2h.01M656.3 496.3h.01M619.4 472.1h.01M557.9 529.5h.01M590.9 457.2h.01M600.3 467.8h.01M615.9 483.6h.01M661.4 442.4h.01M569.9 455.1h.01M628.5 454.0h.01M619.2 457.5h.01M660.4 443.0h.01M636.6 526.8h.01M615.4 537.8h.01M565.8 463.6h.01M672.3 443.4h.01M666.7 516.4h.01M660.1 510.7h.01M662.6 446.1h.01M668.4 486.1h.01M635.8 462.4h.01M620.5 428.8h.01M576.7 465.9h.01" stroke="#20238e" stroke-width="2.5" stroke-linecap="round" fill="none" opacity="1"/>
<path d="M604.2 534.1h.01M636.8 541.9h.01M675.0 453.5h.01M614.4 422.1h.01M615.1 458.8h.01M648.6 466.0h.01M564.3 451.6h.01M599.9 484.5h.01M677.4 420.9h.01M618.1 430.5h.01M573.6 525.3h.01M567.0 484.6h.01M641.8 498.3h.01M594.8 536.5h.01M605.4 463.5h.01M668.2 446.3h.01M572.9 446.0h.01M598.2 521.2h.01M612.9 528.1h.01M564.3 423.7h.01M573.0 496.6h.01" stroke="#1a1c7a" stroke-width="3.0" stroke-linecap="round" fill="none" opacity="0.8"/>
<path d="M671.2 499.7h.01M593.2 474.3h.01M650.3 525.0h.01M676.5 441.2h.01M578.7 421.6h.01M581.5 422.9h.01M663.2 443.9h.01M650.0 498.2h.01" stroke="#3a40c4" stroke-width="3.5" stroke-linecap="round" fill="none" opacity="1"/>
<path d="M670.6 498.1h.01M669.8 522.7h.01M615.4 522.5h.01M572.8 426.6h.01M614.5 529.4h.01M589.4 507.4h.01M603.5 512.5h.01M625.5 523.7h.01M565.7 513.4h.01M570.7 508.9h.01M668.2 457.8h.01M643.3 445.5h.01M574.2 450.7h.01M669.1 421.4h.01M626.7 517.6h.01M615.5 439.0h.01M631.6 521.0h.01M671.4 439.5h.01M580.8 427.7h.01M564.9 493.7h.01M625.1 432.5h.01" stroke="#282ba0" stroke-width="2.0" stroke-linecap="round" fill="none" opacity="0.8"/>
<path d="M674.3 500.2h.01M565.3 486.2h.01M630.2 461.8h.01M671.6 451.2h.01M673.6 517.9h.01M671.3 482.2h.01M571.1 509.8h.01M644.3 447.4h.01M657.3 451.6h.01M631.3 479.9h.01M576.2 422.2h.01M660.2 445.8h.01M565.1 468.3h.01M559.4 476.4h.01M587.1 449.1h.01M563.2 465.8h.01M626.7 428.1h.01" stroke="#16186a" stroke-width="2.5" stroke-linecap="round" fill="none" opacity="1"/>
<path d="M671.6 502.4h.01M648.3 490.7h.01M628.0 421.5h.01M618.9 458.6h.01M571.3 534.8h.01M633.6 461.2h.01M566.3 448.7h.01" stroke="#3a40c4" stroke-width="1.5" stroke-linecap="round" fill="none" opacity="1"/>
<path d="M650.8 486.3h.01M573.3 428.6h.01M565.2 491.1h.01M622.5 475.7h.01M583.1 522.9h.01M651.6 494.8h.01M633.1 522.5h.01M562.2 515.1h.01M611.0 481.1h.01M607.8 474.6h.01M652.6 477.5h.01M627.6 458.0h.01M604.4 482.7h.01M604.7 527.9h.01M615.3 471.3h.01M642.7 441.6h.01M635.1 504.0h.01M606.3 469.1h.01M640.0 454.1h.01M636.5 457.5h.01M599.8 464.8h.01M579.4 426.4h.01M629.9 484.4h.01M637.7 487.3h.01M648.9 473.3h.01" stroke="#282ba0" stroke-width="3.0" stroke-linecap="round" fill="none" opacity="0.6"/>
<path d="M645.1 488.5h.01M618.3 461.1h.01M648.1 539.6h.01M647.4 507.2h.01M599.6 509.9h.01M622.0 524.0h.01M609.7 468.7h.01M640.3 453.0h.01M557.5 531.8h.01M564.9 448.7h.01M643.2 508.5h.01M594.1 487.2h.01M565.7 524.6h.01M621.3 443.0h.01M656.8 454.0h.01" stroke="#282ba0" stroke-width="1.5" stroke-linecap="round" fill="none" opacity="0.8"/>
<path d="M661.2 497.6h.01M609.8 491.5h.01M643.9 524.3h.01M589.0 433.6h.01M614.4 464.1h.01M631.0 452.7h.01M667.1 458.0h.01M638.2 438.4h.01M576.9 456.9h.01M674.9 442.8h.01M634.1 519.6h.01M664.7 517.3h.01M637.3 472.2h.01" stroke="#3a40c4" stroke-width="3.0" stroke-linecap="round" fill="none" opacity="0.6"/>
<path d="M622.3 539.1h.01M623.4 535.2h.01M676.3 448.9h.01M641.6 505.7h.01M624.9 521.6h.01M562.9 475.6h.01M639.2 511.2h.01M633.8 475.8h.01M573.5 455.3h.01M562.1 448.9h.01M627.3 459.4h.01M642.9 453.5h.01M636.5 441.0h.01M566.7 453.6h.01M561.4 449.1h.01M619.4 480.3h.01M659.3 457.3h.01M634.0 506.7h.01M587.1 452.3h.01M643.5 507.6h.01M589.7 528.5h.01M671.1 508.6h.01M666.7 451.8h.01M581.9 520.2h.01M552.8 421.9h.01M642.8 459.5h.01M609.7 427.6h.01" stroke="#1a1c7a" stroke-width="2.5" stroke-linecap="round" fill="none" opacity="0.6"/>
<path d="M622.3 540.2h.01M647.0 536.5h.01M627.9 504.0h.01M568.2 514.3h.01M651.9 487.5h.01M633.4 454.9h.01M572.9 468.4h.01M592.0 471.6h.01M658.2 454.5h.01M642.0 427.3h.01M601.2 461.1h.01M621.8 439.0h.01M633.7 509.5h.01M614.9 469.6h.01M570.7 428.1h.01M574.3 489.7h.01" stroke="#1a1c7a" stroke-width="1.5" stroke-linecap="round" fill="none" opacity="0.6"/>
<path d="M625.6 533.0h.01M567.5 433.2h.01M662.5 492.3h.01M635.9 475.5h.01M632.7 473.1h.01M586.7 424.0h.01M636.7 506.7h.01M576.1 472.9h.01M569.9 490.7h.01M574.6 536.5h.01M626.9 484.4h.01M658.1 508.5h.01M626.6 499.5h.01M588.5 520.7h.01" stroke="#2e32b0" stroke-width="1.5" stroke-linecap="round" fill="none" opacity="1"/>
<path d="M624.5 537.4h.01M563.9 442.8h.01M600.2 456.0h.01M587.7 509.7h.01M666.4 431.9h.01M587.0 482.4h.01M588.2 475.0h.01M645.2 507.3h.01M606.2 463.0h.01M639.8 457.5h.01M643.7 466.9h.01M578.5 499.2h.01M629.8 431.1h.01" stroke="#3a40c4" stroke-width="2.5" stroke-linecap="round" fill="none" opacity="1"/>
<path d="M618.3 462.5h.01M658.3 495.3h.01M632.4 506.6h.01M672.3 526.9h.01M557.2 469.9h.01M615.4 456.5h.01M643.7 525.0h.01M603.2 483.5h.01M651.2 492.9h.01M626.2 423.2h.01M570.0 511.2h.01M604.7 538.3h.01M625.9 452.7h.01M640.9 525.4h.01M655.1 535.4h.01M559.1 450.2h.01M664.4 483.2h.01M665.8 483.1h.01M659.7 527.6h.01M593.7 523.0h.01M566.0 499.6h.01M657.7 481.9h.01M562.6 495.5h.01" stroke="#282ba0" stroke-width="2.0" stroke-linecap="round" fill="none" opacity="1"/>
<path d="M620.8 461.9h.01M599.3 431.9h.01M629.9 486.4h.01M580.7 519.9h.01M658.7 526.6h.01M669.2 504.0h.01M562.9 513.6h.01M619.0 461.5h.01M659.5 498.0h.01M636.4 441.1h.01M591.9 480.4h.01M646.7 489.3h.01M639.1 453.2h.01M560.5 529.8h.01M649.9 462.9h.01M651.4 469.0h.01M642.6 482.6h.01M592.3 536.0h.01M658.9 481.8h.01M562.1 466.3h.01" stroke="#16186a" stroke-width="2.0" stroke-linecap="round" fill="none" opacity="0.6"/>
<path d="M615.9 466.1h.01M671.8 449.6h.01M667.8 448.4h.01M615.6 436.4h.01M630.2 457.4h.01M557.0 476.3h.01M571.7 490.1h.01" stroke="#20238e" stroke-width="3.5" stroke-linecap="round" fill="none" opacity="0.6"/>
<path d="M638.2 474.9h.01M665.2 432.7h.01M570.0 510.0h.01M640.5 504.4h.01M660.8 461.3h.01M611.9 433.2h.01M671.7 495.4h.01M639.2 430.2h.01M655.6 462.3h.01M607.9 482.4h.01M612.5 539.7h.01M684.2 441.7h.01M566.3 465.1h.01M581.6 436.1h.01M571.1 420.9h.01" stroke="#20238e" stroke-width="1.5" stroke-linecap="round" fill="none" opacity="0.8"/>
<path d="M635.2 431.0h.01M665.4 492.8h.01M607.4 470.6h.01M624.1 507.7h.01M666.1 480.2h.01M618.1 477.0h.01M600.0 473.7h.01M635.8 485.8h.01M667.9 494.1h.01M630.8 471.7h.01M636.6 470.0h.01M578.5 449.9h.01M646.0 463.5h.01M582.8 483.6h.01M610.3 481.5h.01M658.4 443.4h.01M576.6 498.7h.01M594.7 534.4h.01M581.7 493.5h.01M567.0 462.4h.01M642.7 519.5h.01M634.8 487.3h.01M656.0 478.6h.01M649.2 471.9h.01M643.9 481.5h.01" stroke="#16186a" stroke-width="2.5" stroke-linecap="round" fill="none" opacity="0.8"/>
<path d="M638.7 428.7h.01M648.6 536.0h.01M641.1 505.9h.01M649.7 530.1h.01M671.2 429.9h.01M674.2 427.7h.01M670.7 501.8h.01M572.6 524.2h.01M624.1 487.6h.01M611.1 511.4h.01M584.4 517.7h.01M565.6 449.3h.01M625.9 501.9h.01M639.9 448.6h.01M662.8 483.4h.01M625.7 479.2h.01" stroke="#282ba0" stroke-width="3.0" stroke-linecap="round" fill="none" opacity="1"/>
<path d="M634.8 429.2h.01M605.6 476.4h.01M671.5 525.7h.01M596.7 428.0h.01M563.5 442.7h.01M621.7 522.6h.01M636.1 526.8h.01M564.7 508.3h.01M576.3 511.8h.01M677.1 495.5h.01M561.4 431.6h.01M564.4 431.5h.01M644.9 507.3h.01M565.7 437.5h.01M681.0 447.7h.01M640.4 445.6h.01M588.0 461.9h.01M588.0 535.2h.01M592.9 495.5h.01M561.7 454.2h.01M612.3 464.5h.01M649.4 470.3h.01M621.0 429.6h.01M570.7 462.3h.01" stroke="#20238e" stroke-width="2.0" stroke-linecap="round" fill="none" opacity="0.6"/>
<path d="M637.2 432.7h.01M661.4 416.8h.01M650.0 529.9h.01M643.4 505.0h.01" stroke="#2e32b0" stroke-width="3.5" stroke-linecap="round" fill="none" opacity="0.6"/>
<path d="M636.3 516.6h.01M632.8 476.6h.01M634.1 528.6h.01M611.3 441.5h.01M572.7 456.5h.01" stroke="#1a1c7a" stroke-width="3.5" stroke-linecap="round" fill="none" opacity="0.8"/>
<path d="M626.5 518.2h.01M640.6 508.8h.01M644.7 509.5h.01M630.4 486.5h.01M637.5 470.3h.01M601.8 533.1h.01M607.7 471.7h.01M605.9 436.9h.01M570.6 463.3h.01M576.8 467.1h.01M609.6 492.4h.01M609.5 465.9h.01M612.7 464.7h.01M652.3 446.0h.01M631.7 431.1h.01M582.0 448.5h.01" stroke="#20238e" stroke-width="3.0" stroke-linecap="round" fill="none" opacity="0.6"/>
<path d="M563.0 439.3h.01M640.9 511.7h.01M606.1 475.3h.01M583.8 511.6h.01M576.0 520.8h.01M667.0 447.9h.01M575.0 525.3h.01M567.9 448.2h.01M618.1 434.7h.01M635.6 454.7h.01M585.8 443.3h.01M567.2 445.0h.01M618.6 430.8h.01" stroke="#3a40c4" stroke-width="3.0" stroke-linecap="round" fill="none" opacity="1"/>
<path d="M665.8 424.7h.01M670.5 420.9h.01M682.2 517.3h.01M671.2 449.7h.01M664.3 447.5h.01M591.6 436.9h.01M578.0 500.2h.01M615.4 458.0h.01M624.5 461.8h.01M639.3 453.7h.01M582.6 450.5h.01M588.8 453.9h.01M636.5 428.7h.01M579.5 449.9h.01M633.7 533.7h.01M577.5 437.7h.01M586.1 419.9h.01M642.7 484.2h.01M610.6 470.6h.01M594.8 534.8h.01M658.0 531.2h.01M608.2 488.6h.01M614.9 491.3h.01M637.4 517.5h.01M590.0 466.2h.01M596.0 521.9h.01M645.6 462.2h.01" stroke="#1a1c7a" stroke-width="2.0" stroke-linecap="round" fill="none" opacity="0.6"/>
<path d="M665.4 422.7h.01M673.8 469.7h.01M626.6 507.1h.01M612.7 526.4h.01M634.4 478.2h.01M649.9 531.9h.01M659.7 478.4h.01M603.8 537.2h.01M608.8 442.7h.01M646.2 447.7h.01M563.2 449.8h.01M635.7 444.6h.01M560.0 450.2h.01M571.3 446.9h.01M597.0 466.7h.01M608.9 479.9h.01M597.6 483.2h.01M617.5 530.8h.01M675.6 442.8h.01M672.8 444.3h.01M564.6 484.9h.01M636.6 498.7h.01M644.6 443.7h.01M621.5 457.4h.01M663.9 442.5h.01M594.7 476.6h.01M590.6 478.8h.01M610.3 451.5h.01" stroke="#20238e" stroke-width="2.0" stroke-linecap="round" fill="none" opacity="1"/>
<path d="M571.2 491.1h.01M576.4 434.0h.01M635.9 476.7h.01M646.1 468.0h.01M662.6 499.9h.01M613.2 460.1h.01M611.0 513.1h.01M624.1 500.4h.01M589.3 450.2h.01M574.0 497.3h.01M556.0 472.3h.01M654.5 458.1h.01M557.7 419.2h.01" stroke="#20238e" stroke-width="1.5" stroke-linecap="round" fill="none" opacity="0.6"/>
<path d="M575.3 495.4h.01M550.4 466.7h.01" stroke="#20238e" stroke-width="3.5" stroke-linecap="round" fill="none" opacity="1"/>
<path d="M636.6 533.7h.01M675.3 523.1h.01M582.1 432.4h.01M599.0 498.0h.01M598.2 442.1h.01M603.8 510.7h.01M574.1 490.3h.01M641.8 502.5h.01M581.4 484.6h.01M553.8 523.0h.01M662.1 478.8h.01M644.0 454.9h.01M572.6 484.7h.01M573.1 433.7h.01M682.4 444.0h.01M650.7 512.3h.01M664.2 533.7h.01M664.9 534.5h.01M593.5 521.1h.01M642.2 488.9h.01M641.5 487.5h.01M645.1 529.8h.01M609.0 502.7h.01" stroke="#282ba0" stroke-width="2.0" stroke-linecap="round" fill="none" opacity="0.6"/>
<path d="M640.7 537.1h.01M668.2 465.4h.01M569.1 445.4h.01M619.3 522.3h.01M571.6 512.2h.01M656.3 495.5h.01M594.0 480.3h.01M587.7 481.9h.01M568.1 509.5h.01M619.9 529.7h.01M621.4 455.5h.01M677.2 498.1h.01M635.4 507.1h.01M584.2 450.4h.01M623.3 468.5h.01M616.0 482.2h.01M580.4 518.6h.01M571.9 523.0h.01M619.3 454.7h.01M601.3 440.5h.01M561.2 418.1h.01M600.7 468.0h.01" stroke="#2e32b0" stroke-width="3.0" stroke-linecap="round" fill="none" opacity="0.6"/>
<path d="M659.3 490.7h.01M619.7 463.2h.01M608.3 517.8h.01M586.2 509.1h.01M637.4 420.5h.01M614.4 543.7h.01M578.8 451.6h.01M602.7 459.1h.01M603.2 541.1h.01M564.4 462.3h.01M636.3 463.2h.01" stroke="#1a1c7a" stroke-width="3.0" stroke-linecap="round" fill="none" opacity="0.6"/>
<path d="M666.1 493.2h.01M590.7 426.5h.01M618.7 474.9h.01M626.7 458.3h.01M634.4 499.9h.01M591.9 459.0h.01M597.0 468.9h.01M631.7 471.9h.01" stroke="#20238e" stroke-width="3.5" stroke-linecap="round" fill="none" opacity="0.8"/>
<path d="M639.9 513.6h.01M677.2 454.4h.01M650.7 487.5h.01M566.9 510.8h.01M564.3 447.5h.01M622.8 486.1h.01M661.3 501.2h.01M584.3 456.0h.01M573.6 435.6h.01M574.3 484.4h.01M567.2 483.9h.01M634.4 476.3h.01M608.2 530.1h.01M570.0 422.6h.01M678.6 487.8h.01" stroke="#2e32b0" stroke-width="1.5" stroke-linecap="round" fill="none" opacity="0.6"/>
<path d="M645.8 509.9h.01M637.5 461.8h.01M648.3 469.9h.01M569.7 507.5h.01M571.1 467.1h.01M611.1 464.9h.01M584.4 449.5h.01M624.2 469.1h.01M673.1 419.8h.01M574.4 436.9h.01M673.8 440.9h.01M633.7 502.5h.01M619.6 491.0h.01M586.2 433.9h.01M561.5 465.3h.01M572.6 498.1h.01" stroke="#3a40c4" stroke-width="2.0" stroke-linecap="round" fill="none" opacity="1"/>
<path d="M673.1 468.7h.01M673.8 522.6h.01M632.2 487.9h.01M668.7 462.7h.01M587.7 474.6h.01M592.1 515.9h.01M675.2 420.4h.01M662.2 473.9h.01M599.7 452.5h.01M597.0 466.1h.01M664.7 528.5h.01M589.3 466.6h.01" stroke="#3a40c4" stroke-width="1.5" stroke-linecap="round" fill="none" opacity="0.8"/>
<path d="M674.7 466.7h.01M635.7 463.3h.01M657.1 438.5h.01M630.9 474.3h.01M643.4 535.4h.01M628.2 504.3h.01M620.3 533.0h.01M605.9 443.8h.01M591.9 453.4h.01M645.9 526.2h.01M584.1 489.1h.01M643.0 441.1h.01M679.0 443.8h.01M624.6 524.1h.01M629.7 427.2h.01" stroke="#16186a" stroke-width="1.5" stroke-linecap="round" fill="none" opacity="0.6"/>
<path d="M640.2 462.8h.01M650.6 492.8h.01M599.3 495.5h.01M595.1 509.7h.01M648.2 463.0h.01M579.0 507.8h.01M574.7 508.7h.01M567.5 491.6h.01M650.7 535.5h.01M630.1 518.3h.01M630.5 520.1h.01M647.2 487.4h.01M563.0 418.5h.01M569.1 494.6h.01M627.5 535.0h.01M562.2 458.5h.01M567.0 496.5h.01M573.4 467.4h.01" stroke="#1a1c7a" stroke-width="2.5" stroke-linecap="round" fill="none" opacity="0.8"/>
<path d="M602.5 473.9h.01M670.0 524.7h.01M608.3 496.6h.01M559.1 488.0h.01M629.2 523.0h.01M651.2 535.0h.01M606.4 512.4h.01M631.4 463.9h.01M657.8 435.8h.01M573.0 452.8h.01M601.3 462.5h.01M619.9 486.8h.01M675.2 444.0h.01M646.1 480.8h.01" stroke="#282ba0" stroke-width="1.5" stroke-linecap="round" fill="none" opacity="0.6"/>
<path d="M648.0 441.3h.01M592.1 427.9h.01M566.1 470.3h.01M603.4 477.6h.01M670.8 460.5h.01M621.7 511.0h.01M637.5 534.7h.01M576.4 429.9h.01M591.9 447.3h.01M611.5 468.3h.01M573.3 429.1h.01M598.4 445.1h.01M594.0 447.7h.01M561.4 500.0h.01M660.2 448.1h.01M572.5 491.4h.01M589.7 440.3h.01" stroke="#282ba0" stroke-width="2.5" stroke-linecap="round" fill="none" opacity="0.8"/>
<path d="M627.7 505.6h.01M578.9 446.7h.01M631.3 501.4h.01" stroke="#16186a" stroke-width="3.5" stroke-linecap="round" fill="none" opacity="0.8"/>
<path d="M677.7 524.5h.01M615.2 520.5h.01M574.8 435.5h.01M666.7 500.8h.01M637.9 457.0h.01M635.2 500.4h.01M602.7 442.2h.01M647.3 448.1h.01M664.6 441.1h.01M578.5 509.2h.01M667.4 517.9h.01M608.2 438.6h.01M656.5 474.7h.01M596.5 474.4h.01M611.9 474.1h.01M570.3 483.5h.01M672.8 443.7h.01M633.3 456.8h.01M601.8 463.0h.01M609.1 467.1h.01M642.5 506.5h.01M663.5 532.4h.01" stroke="#282ba0" stroke-width="2.5" stroke-linecap="round" fill="none" opacity="1"/>
<path d="M673.1 525.5h.01M618.9 456.0h.01M608.7 527.7h.01M637.7 472.8h.01M591.9 457.9h.01M638.1 467.6h.01M636.0 442.3h.01M579.2 515.2h.01M651.6 439.9h.01M641.3 507.2h.01M601.0 458.0h.01M580.2 522.1h.01M674.5 443.1h.01M652.2 499.8h.01M568.8 463.6h.01M608.0 469.3h.01M638.2 501.1h.01M640.6 508.3h.01M548.9 473.9h.01M562.3 442.7h.01M619.2 464.7h.01M562.4 455.0h.01M563.6 494.0h.01M552.1 418.7h.01M605.6 429.6h.01" stroke="#16186a" stroke-width="2.5" stroke-linecap="round" fill="none" opacity="0.6"/>
<path d="M677.2 522.1h.01M623.6 461.8h.01M604.2 525.5h.01M667.1 427.6h.01M590.2 441.2h.01M573.8 452.3h.01M655.8 463.6h.01M658.1 506.6h.01M657.8 450.6h.01M625.9 501.4h.01M620.5 433.0h.01M633.4 487.8h.01M585.8 447.2h.01M613.1 540.6h.01M660.7 484.5h.01M670.0 452.8h.01M661.9 448.6h.01M572.6 463.0h.01M632.4 428.8h.01M625.7 474.8h.01" stroke="#16186a" stroke-width="1.5" stroke-linecap="round" fill="none" opacity="1"/>
<path d="M556.2 464.7h.01M654.6 490.9h.01M607.8 511.9h.01M611.8 434.6h.01M659.5 428.9h.01M656.4 452.9h.01M646.6 470.7h.01M666.2 480.4h.01M639.5 478.7h.01M571.8 490.2h.01M659.3 487.9h.01M560.7 466.8h.01M637.4 462.1h.01" stroke="#16186a" stroke-width="1.5" stroke-linecap="round" fill="none" opacity="0.8"/>
<path d="M546.8 467.9h.01M621.4 526.8h.01M661.8 475.9h.01" stroke="#2e32b0" stroke-width="3.5" stroke-linecap="round" fill="none" opacity="0.8"/>
<path d="M658.0 494.7h.01M597.1 438.0h.01M627.8 423.8h.01M608.2 512.8h.01M577.9 459.2h.01M624.2 428.3h.01" stroke="#1a1c7a" stroke-width="3.5" stroke-linecap="round" fill="none" opacity="0.6"/>
<path d="M590.6 441.9h.01M636.5 497.6h.01M622.9 485.1h.01M611.0 479.8h.01M641.0 466.3h.01" stroke="#2e32b0" stroke-width="3.5" stroke-linecap="round" fill="none" opacity="1"/>
<path d="M618.0 470.5h.01M607.0 541.5h.01M602.4 507.3h.01M572.6 534.4h.01M663.4 421.1h.01M643.0 460.1h.01M666.7 442.9h.01M682.2 444.2h.01M565.9 443.1h.01M615.6 528.4h.01M579.5 462.2h.01" stroke="#1a1c7a" stroke-width="1.5" stroke-linecap="round" fill="none" opacity="1"/>
<path d="M557.8 513.6h.01M670.0 422.7h.01M646.2 508.4h.01M585.1 445.6h.01" stroke="#16186a" stroke-width="3.5" stroke-linecap="round" fill="none" opacity="0.6"/>
<path d="M596.9 442.5h.01M642.7 470.6h.01M601.2 470.5h.01" stroke="#282ba0" stroke-width="3.5" stroke-linecap="round" fill="none" opacity="0.8"/>
<path d="M668.8 444.0h.01M654.9 471.6h.01M582.0 444.3h.01M623.1 520.5h.01M585.2 424.6h.01" stroke="#16186a" stroke-width="3.5" stroke-linecap="round" fill="none" opacity="1"/>
<ellipse cx="611.3" cy="431.6" rx="10" ry="4" transform="rotate(0 611.3 431.6)" fill="#020207" opacity="0.6" filter="url(#mb2)"/>
<ellipse cx="657.3" cy="435.6" rx="7" ry="4.5" transform="rotate(0 657.3 435.6)" fill="#020207" opacity="0.6" filter="url(#mb2)"/>
<ellipse cx="593.3" cy="451.6" rx="5" ry="3.5" transform="rotate(0 593.3 451.6)" fill="#020207" opacity="0.6" filter="url(#mb2)"/>
<ellipse cx="643.3" cy="459.6" rx="9" ry="4" transform="rotate(10 643.3 459.6)" fill="#020207" opacity="0.6" filter="url(#mb2)"/>
<ellipse cx="619.3" cy="475.6" rx="7" ry="3.5" transform="rotate(-10 619.3 475.6)" fill="#020207" opacity="0.6" filter="url(#mb2)"/>
<ellipse cx="661.3" cy="479.6" rx="6" ry="5" transform="rotate(0 661.3 479.6)" fill="#020207" opacity="0.6" filter="url(#mb2)"/>
<ellipse cx="603.3" cy="497.6" rx="7" ry="4" transform="rotate(0 603.3 497.6)" fill="#020207" opacity="0.6" filter="url(#mb2)"/>
<ellipse cx="635.3" cy="497.6" rx="9" ry="4" transform="rotate(15 635.3 497.6)" fill="#020207" opacity="0.6" filter="url(#mb2)"/>
<ellipse cx="657.3" cy="511.6" rx="8" ry="4" transform="rotate(0 657.3 511.6)" fill="#020207" opacity="0.6" filter="url(#mb2)"/>
<ellipse cx="615.3" cy="515.6" rx="7" ry="3.5" transform="rotate(0 615.3 515.6)" fill="#020207" opacity="0.6" filter="url(#mb2)"/>
<ellipse cx="641.3" cy="525.6" rx="7" ry="3" transform="rotate(0 641.3 525.6)" fill="#020207" opacity="0.6" filter="url(#mb2)"/>
<ellipse cx="589.3" cy="533.6" rx="6" ry="3" transform="rotate(0 589.3 533.6)" fill="#020207" opacity="0.6" filter="url(#mb2)"/>
<ellipse cx="565.3" cy="443.6" rx="4" ry="5" transform="rotate(0 565.3 443.6)" fill="#020207" opacity="0.6" filter="url(#mb2)"/>
<path d="M584.5 486.6L585.7 487.2L586.8 487.9L587.5 489.0" stroke="#2fb43e" stroke-width="0.4" stroke-linecap="round" stroke-linejoin="round" stroke-dasharray="1.6 1.1" fill="none" opacity="0.77"/>
<path d="M589.4 447.8L590.4 447.5L591.5 447.6L592.2 446.8M591.6 477.0L592.5 476.0L593.4 474.9L594.7 475.1M626.2 445.0L628.0 444.3L629.9 444.5L631.8 444.8M595.2 529.9l-0.9 1.1M627.8 422.5l-0.6 1.0" stroke="#2fb43e" stroke-width="0.6" stroke-linecap="round" stroke-linejoin="round" stroke-dasharray="1.6 1.1" fill="none" opacity="0.59"/>
<path d="M568.2 526.8L568.7 527.3L569.3 527.8L570.1 527.7M617.6 440.9L617.5 442.7L618.4 444.3L618.6 446.0M581.0 517.7L582.1 520.2L582.8 522.8L582.3 525.5M578.3 458.6L579.8 456.9L581.9 457.6L583.4 455.9M622.9 446.9L623.8 447.5L624.8 447.8L625.5 448.5M568.4 457.0L568.8 458.4L568.7 459.8L568.9 461.2" stroke="#34d044" stroke-width="0.6" stroke-linecap="round" stroke-linejoin="round" stroke-dasharray="1.6 1.1" fill="none" opacity="0.42"/>
<path d="M591.8 469.2L593.5 469.3L595.0 468.6L596.6 467.8M570.1 472.9L569.5 473.7L569.7 474.7L569.9 475.6" stroke="#48dc54" stroke-width="0.4" stroke-linecap="round" stroke-linejoin="round" stroke-dasharray="1.6 1.1" fill="none" opacity="0.42"/>
<path d="M601.4 466.9L602.2 466.4L602.9 465.7L603.6 465.0M599.0 529.1L599.9 531.7L602.7 532.2L605.4 532.7" stroke="#22982e" stroke-width="0.7" stroke-linecap="round" stroke-linejoin="round" stroke-dasharray="1.6 1.1" fill="none" opacity="0.42"/>
<path d="M603.0 432.9L604.4 432.5L605.6 431.5L606.6 430.3M617.3 452.8L618.2 453.3L619.2 452.9L620.2 452.9" stroke="#22982e" stroke-width="0.6" stroke-linecap="round" stroke-linejoin="round" stroke-dasharray="1.6 1.1" fill="none" opacity="0.59"/>
<path d="M640.4 493.7L642.1 492.7L643.8 491.8L645.6 491.0M660.1 536.2L661.0 537.6L662.6 537.9L663.8 539.0" stroke="#34d044" stroke-width="0.7" stroke-linecap="round" stroke-linejoin="round" stroke-dasharray="1.6 1.1" fill="none" opacity="0.59"/>
<path d="M577.2 429.6L578.2 429.8L578.8 430.6L579.4 431.4M589.5 460.2L591.9 459.3L594.2 458.3L596.5 457.3" stroke="#22982e" stroke-width="0.7" stroke-linecap="round" stroke-linejoin="round" stroke-dasharray="1.6 1.1" fill="none" opacity="0.59"/>
<path d="M588.0 467.4L588.7 467.3L589.5 467.4L590.3 467.5M674.8 426.2L675.8 425.4L677.0 425.0L678.2 424.4M575.7 495.0L577.0 495.7L578.1 496.5L579.3 497.4M582.5 536.5L583.6 536.5L584.6 536.4L585.4 537.2" stroke="#2fb43e" stroke-width="0.5" stroke-linecap="round" stroke-linejoin="round" stroke-dasharray="1.6 1.1" fill="none" opacity="0.77"/>
<path d="M601.2 462.3L602.6 461.3L603.7 459.9L605.1 458.8M568.1 505.5L570.8 505.1L573.2 506.6L574.4 509.1M648.5 522.4L649.3 523.9L651.0 524.4L652.6 525.2M611.5 446.7L613.6 446.3L615.7 447.0L617.6 447.9" stroke="#48dc54" stroke-width="0.6" stroke-linecap="round" stroke-linejoin="round" stroke-dasharray="1.6 1.1" fill="none" opacity="0.42"/>
<path d="M591.0 496.2L591.1 495.3L591.6 494.6L591.8 493.7M662.2 489.8L663.0 489.0L663.8 488.3L664.8 488.2M575.2 511.9L577.5 513.6L577.9 516.3L579.3 518.8M578.0 476.4L579.4 474.8L581.0 473.4L581.9 471.4M641.9 505.3l-0.9 0.5" stroke="#2bc238" stroke-width="0.7" stroke-linecap="round" stroke-linejoin="round" stroke-dasharray="1.6 1.1" fill="none" opacity="0.77"/>
<path d="M649.9 494.6L651.1 495.7L651.6 497.3L652.8 498.3M581.2 508.1L580.4 509.6L579.9 511.2L579.5 512.9" stroke="#2bc238" stroke-width="0.5" stroke-linecap="round" stroke-linejoin="round" stroke-dasharray="1.6 1.1" fill="none" opacity="0.42"/>
<path d="M676.0 429.1L677.0 429.1L677.9 429.0L678.9 429.2M622.5 518.1L624.5 520.1L626.2 522.4L628.9 523.1M612.0 440.7L613.4 442.3L615.4 442.7L617.4 442.4M572.0 479.2L571.9 479.9L571.9 480.7L572.3 481.2" stroke="#1b7c28" stroke-width="0.7" stroke-linecap="round" stroke-linejoin="round" stroke-dasharray="1.6 1.1" fill="none" opacity="0.77"/>
<path d="M622.8 481.6L623.6 481.9L624.3 482.4L624.9 482.9M584.5 487.0L585.1 488.6L585.6 490.1L586.6 491.4M567.7 510.7L567.8 511.8L568.1 512.8L568.0 513.8M575.0 521.0L574.0 523.8L574.7 526.7L575.9 529.4" stroke="#34d044" stroke-width="0.7" stroke-linecap="round" stroke-linejoin="round" stroke-dasharray="1.6 1.1" fill="none" opacity="0.42"/>
<path d="M560.9 454.2L562.5 454.8L564.1 455.7L565.6 456.7" stroke="#1b7c28" stroke-width="0.6" stroke-linecap="round" stroke-linejoin="round" stroke-dasharray="1.6 1.1" fill="none" opacity="0.59"/>
<path d="M570.6 495.3L571.4 494.5L572.5 494.1L573.4 493.4" stroke="#2bc238" stroke-width="0.4" stroke-linecap="round" stroke-linejoin="round" stroke-dasharray="1.6 1.1" fill="none" opacity="0.42"/>
<path d="M597.7 490.1L598.7 489.4L599.2 488.3L600.3 487.8M651.9 520.3L652.8 521.0L653.9 521.2L654.6 522.1M573.2 492.3L574.8 493.8L574.6 496.0L575.2 498.2M567.4 523.3L567.7 526.2L567.1 529.1L566.3 532.0M578.6 516.9L577.9 519.7L576.7 522.4L576.5 525.3M570.0 457.6L569.9 458.8L569.5 459.9L569.3 461.1" stroke="#34d044" stroke-width="0.5" stroke-linecap="round" stroke-linejoin="round" stroke-dasharray="1.6 1.1" fill="none" opacity="0.77"/>
<path d="M653.2 501.5L654.6 501.7L655.6 502.7L656.7 503.6" stroke="#34d044" stroke-width="0.4" stroke-linecap="round" stroke-linejoin="round" stroke-dasharray="1.6 1.1" fill="none" opacity="0.59"/>
<path d="M560.1 467.8L560.3 468.7L560.7 469.7L560.3 470.6M644.8 439.4L646.0 441.0L647.4 442.3L648.7 443.7" stroke="#48dc54" stroke-width="0.4" stroke-linecap="round" stroke-linejoin="round" stroke-dasharray="1.6 1.1" fill="none" opacity="0.59"/>
<path d="M640.7 434.0L641.8 434.5L642.5 435.4L643.7 435.7M601.0 477.2L602.3 475.1L604.5 473.9L604.9 471.5M581.1 519.0L583.7 519.3L586.4 519.1L588.8 518.2M649.1 528.6L650.2 529.1L651.4 528.7L652.6 529.0" stroke="#48dc54" stroke-width="0.6" stroke-linecap="round" stroke-linejoin="round" stroke-dasharray="1.6 1.1" fill="none" opacity="0.77"/>
<path d="M674.8 471.3L676.1 469.9L675.9 468.0L676.6 466.2M574.1 472.6L575.3 474.9L576.5 477.4L577.5 479.8M625.1 521.5L627.1 522.3L629.2 522.7L631.3 522.6" stroke="#2bc238" stroke-width="0.5" stroke-linecap="round" stroke-linejoin="round" stroke-dasharray="1.6 1.1" fill="none" opacity="0.59"/>
<path d="M591.5 444.7L593.4 444.6L595.0 445.5L596.0 447.0M592.2 466.0L593.8 464.8L594.8 463.1L594.4 461.1M586.1 479.8L587.4 478.5L588.6 477.2L589.4 475.5M606.2 535.9L607.2 536.2L608.2 536.3L609.2 536.3M649.3 535.3L651.4 535.0L653.5 535.0L655.4 536.1" stroke="#2bc238" stroke-width="0.6" stroke-linecap="round" stroke-linejoin="round" stroke-dasharray="1.6 1.1" fill="none" opacity="0.42"/>
<path d="M639.2 500.5L640.5 501.4L642.0 501.7L643.5 502.1M569.4 512.7L569.9 515.0L568.9 517.1L569.6 519.4M618.1 520.5L620.0 522.7L622.8 523.6L625.8 523.4" stroke="#22982e" stroke-width="0.5" stroke-linecap="round" stroke-linejoin="round" stroke-dasharray="1.6 1.1" fill="none" opacity="0.42"/>
<path d="M579.7 481.1L580.3 482.3L581.0 483.5L581.7 484.7M603.5 477.8l2.0 1.2" stroke="#48dc54" stroke-width="0.9" stroke-linecap="round" stroke-linejoin="round" stroke-dasharray="1.6 1.1" fill="none" opacity="0.77"/>
<path d="M573.5 476.2L572.0 478.8L570.6 481.3L570.3 484.3M574.1 498.1L575.4 498.5L576.0 499.6L576.9 500.5M563.5 471.7L563.2 472.7L562.8 473.8L562.6 474.9" stroke="#48dc54" stroke-width="0.5" stroke-linecap="round" stroke-linejoin="round" stroke-dasharray="1.6 1.1" fill="none" opacity="0.59"/>
<path d="M578.3 518.4L577.8 520.3L579.5 521.3L580.9 522.6M623.2 523.7L624.9 523.4L626.3 522.6L627.9 523.1" stroke="#2bc238" stroke-width="0.6" stroke-linecap="round" stroke-linejoin="round" stroke-dasharray="1.6 1.1" fill="none" opacity="0.77"/>
<path d="M572.3 497.3L574.8 498.8L575.2 501.6L576.4 504.2M581.8 465.5L583.3 463.9L585.1 462.8L586.3 461.0M580.9 475.2L581.0 472.3L582.9 470.0L585.0 467.9M648.3 533.6L650.7 534.9L653.5 534.5L656.2 534.3M629.0 533.0L630.1 533.1L631.2 533.4L632.2 533.8M631.8 534.8L633.5 535.7L635.1 536.8L636.6 538.1M607.9 459.3l-1.6 2.0M612.7 449.3l-0.7 1.3" stroke="#2fb43e" stroke-width="0.7" stroke-linecap="round" stroke-linejoin="round" stroke-dasharray="1.6 1.1" fill="none" opacity="0.59"/>
<path d="M575.4 484.6L575.4 485.9L575.1 487.1L575.1 488.4M580.4 475.5L582.1 476.9L584.1 476.1L585.6 477.6M607.8 445.0l-2.5 1.5" stroke="#2bc238" stroke-width="0.5" stroke-linecap="round" stroke-linejoin="round" stroke-dasharray="1.6 1.1" fill="none" opacity="0.77"/>
<path d="M576.5 474.2L577.7 475.2L578.4 476.5L579.6 477.5M584.8 476.1L586.3 478.4L585.5 481.1L585.3 483.9M642.1 537.6L644.8 538.8L647.2 540.4L649.6 542.1M631.6 524.4L634.2 524.6L636.8 524.9L639.3 524.5" stroke="#1b7c28" stroke-width="0.6" stroke-linecap="round" stroke-linejoin="round" stroke-dasharray="1.6 1.1" fill="none" opacity="0.77"/>
<path d="M573.3 513.1L573.3 514.1L572.7 515.0L572.5 516.0" stroke="#1b7c28" stroke-width="0.8" stroke-linecap="round" stroke-linejoin="round" stroke-dasharray="1.6 1.1" fill="none" opacity="0.42"/>
<path d="M567.6 480.4L566.6 481.7L567.8 482.8L567.9 484.4" stroke="#22982e" stroke-width="0.9" stroke-linecap="round" stroke-linejoin="round" stroke-dasharray="1.6 1.1" fill="none" opacity="0.42"/>
<path d="M576.3 509.1L574.9 511.2L575.1 513.7L573.4 515.6M614.0 530.9L616.1 530.9L618.0 531.8L619.6 533.1" stroke="#2fb43e" stroke-width="0.7" stroke-linecap="round" stroke-linejoin="round" stroke-dasharray="1.6 1.1" fill="none" opacity="0.77"/>
<path d="M568.5 496.9L568.3 498.1L567.8 499.1L567.5 500.2M583.4 520.6L584.1 521.9L583.8 523.2L583.8 524.6M595.1 473.1L596.8 470.8L598.8 468.8L600.1 466.4" stroke="#2bc238" stroke-width="0.9" stroke-linecap="round" stroke-linejoin="round" stroke-dasharray="1.6 1.1" fill="none" opacity="0.59"/>
<path d="M582.1 510.5L582.3 511.6L582.8 512.6L582.9 513.7M575.0 466.8l-0.8 2.5" stroke="#2fb43e" stroke-width="0.6" stroke-linecap="round" stroke-linejoin="round" stroke-dasharray="1.6 1.1" fill="none" opacity="0.77"/>
<path d="M579.5 503.1L579.6 505.7L580.5 508.0L580.6 510.6M621.9 443.2L623.7 442.8L625.5 442.5L626.9 441.3M624.8 450.8L626.7 451.8L628.9 452.1L630.9 452.8M607.3 434.2l-0.5 2.1" stroke="#48dc54" stroke-width="0.7" stroke-linecap="round" stroke-linejoin="round" stroke-dasharray="1.6 1.1" fill="none" opacity="0.59"/>
<path d="M581.4 478.1L581.7 480.8L580.3 483.2L580.2 485.9M578.0 481.0L580.1 479.7L582.1 478.4L584.5 478.0M597.1 526.2L599.4 526.7L601.7 526.5L603.9 525.6M595.7 533.3L598.2 532.0L600.9 531.2L603.4 532.3M593.4 537.2L595.6 538.1L596.5 540.3L598.4 541.7M598.2 536.5L598.4 538.0L599.1 539.4L600.1 540.7M648.7 518.8l0.9 1.1" stroke="#1b7c28" stroke-width="0.5" stroke-linecap="round" stroke-linejoin="round" stroke-dasharray="1.6 1.1" fill="none" opacity="0.77"/>
<path d="M574.1 517.4L574.5 518.4L574.1 519.3L574.3 520.4" stroke="#2bc238" stroke-width="0.9" stroke-linecap="round" stroke-linejoin="round" stroke-dasharray="1.6 1.1" fill="none" opacity="0.42"/>
<path d="M585.0 469.7L585.7 471.0L586.0 472.4L586.2 473.8M573.4 488.6L572.5 490.8L570.8 492.4L570.4 494.7M646.2 528.4L648.6 530.0L651.3 531.0L654.2 530.3" stroke="#1b7c28" stroke-width="0.7" stroke-linecap="round" stroke-linejoin="round" stroke-dasharray="1.6 1.1" fill="none" opacity="0.42"/>
<path d="M569.6 468.2L568.6 470.6L567.7 473.1L566.5 475.5M644.9 522.4L646.2 521.6L647.7 521.8L649.0 522.5" stroke="#34d044" stroke-width="0.5" stroke-linecap="round" stroke-linejoin="round" stroke-dasharray="1.6 1.1" fill="none" opacity="0.42"/>
<path d="M582.5 492.8L582.9 494.7L582.9 496.7L584.1 498.2M594.4 475.2L595.1 473.1L595.9 471.0L596.4 468.9M641.3 443.3l-1.3 2.7" stroke="#2bc238" stroke-width="0.8" stroke-linecap="round" stroke-linejoin="round" stroke-dasharray="1.6 1.1" fill="none" opacity="0.77"/>
<path d="M570.6 515.5L569.8 517.1L569.1 518.8L569.7 520.5M611.2 451.5L613.1 450.4L615.1 449.4L617.3 449.7" stroke="#2bc238" stroke-width="0.7" stroke-linecap="round" stroke-linejoin="round" stroke-dasharray="1.6 1.1" fill="none" opacity="0.42"/>
<path d="M567.6 512.0L568.1 513.7L568.4 515.5L569.9 516.6M569.1 473.7L570.4 475.4L571.0 477.4L572.0 479.2M560.0 444.1L559.3 444.8L558.7 445.6L558.8 446.6" stroke="#22982e" stroke-width="0.6" stroke-linecap="round" stroke-linejoin="round" stroke-dasharray="1.6 1.1" fill="none" opacity="0.42"/>
<path d="M569.8 489.7L569.3 492.0L568.4 494.2L568.5 496.6M618.5 529.7L620.5 529.9L622.6 529.8L624.5 530.2M646.1 514.8l1.8 0.2M620.5 447.5l-1.0 0.7" stroke="#2bc238" stroke-width="0.8" stroke-linecap="round" stroke-linejoin="round" stroke-dasharray="1.6 1.1" fill="none" opacity="0.59"/>
<path d="M578.5 500.8L577.2 503.5L577.1 506.5L578.7 509.0M610.3 448.1L611.5 448.3L612.8 448.1L613.7 449.0" stroke="#34d044" stroke-width="0.8" stroke-linecap="round" stroke-linejoin="round" stroke-dasharray="1.6 1.1" fill="none" opacity="0.77"/>
<path d="M583.8 481.0L584.1 483.1L583.8 485.2L583.7 487.4M570.5 461.4L570.1 462.6L569.4 463.7L569.7 464.9" stroke="#48dc54" stroke-width="0.7" stroke-linecap="round" stroke-linejoin="round" stroke-dasharray="1.6 1.1" fill="none" opacity="0.77"/>
<path d="M578.3 470.3L579.4 470.6L580.3 471.3L581.2 472.0M633.5 518.9L636.2 520.0L639.2 520.2L641.7 522.0M574.7 457.3l0.1 1.5" stroke="#2fb43e" stroke-width="0.8" stroke-linecap="round" stroke-linejoin="round" stroke-dasharray="1.6 1.1" fill="none" opacity="0.77"/>
<path d="M583.9 520.0L584.8 521.5L583.8 522.9L583.3 524.6M637.0 522.1L639.7 523.4L642.6 523.5L645.3 524.7" stroke="#22982e" stroke-width="0.8" stroke-linecap="round" stroke-linejoin="round" stroke-dasharray="1.6 1.1" fill="none" opacity="0.77"/>
<path d="M577.3 501.0L579.3 502.2L581.2 503.5L582.7 505.3M635.7 532.8L637.8 533.0L639.9 532.8L641.8 533.7M613.9 444.5L615.1 445.5L616.5 446.2L618.0 446.7" stroke="#2fb43e" stroke-width="0.5" stroke-linecap="round" stroke-linejoin="round" stroke-dasharray="1.6 1.1" fill="none" opacity="0.42"/>
<path d="M579.1 485.7L580.8 487.9L582.2 490.2L584.2 492.1" stroke="#48dc54" stroke-width="0.5" stroke-linecap="round" stroke-linejoin="round" stroke-dasharray="1.6 1.1" fill="none" opacity="0.42"/>
<path d="M594.6 457.9L595.6 456.9L597.0 456.4L598.3 455.7M602.6 534.8L603.4 535.6L604.6 535.8L605.7 536.2" stroke="#48dc54" stroke-width="0.6" stroke-linecap="round" stroke-linejoin="round" stroke-dasharray="1.6 1.1" fill="none" opacity="0.59"/>
<path d="M574.4 485.7L575.3 484.4L576.7 483.4L578.3 483.0M592.4 462.3L594.3 460.8L596.6 460.1L597.4 457.8" stroke="#48dc54" stroke-width="0.8" stroke-linecap="round" stroke-linejoin="round" stroke-dasharray="1.6 1.1" fill="none" opacity="0.59"/>
<path d="M585.0 489.8L585.6 488.9L586.3 488.1L586.2 487.1M613.5 448.0L614.2 448.8L615.2 449.0L616.2 448.7" stroke="#22982e" stroke-width="0.7" stroke-linecap="round" stroke-linejoin="round" stroke-dasharray="1.6 1.1" fill="none" opacity="0.77"/>
<path d="M573.4 481.6L574.4 479.3L576.2 477.7L577.7 475.7M613.7 524.4L613.9 526.7L615.0 528.8L616.9 530.2M614.8 536.3L615.7 537.6L616.4 539.0L615.8 540.5" stroke="#22982e" stroke-width="0.8" stroke-linecap="round" stroke-linejoin="round" stroke-dasharray="1.6 1.1" fill="none" opacity="0.59"/>
<path d="M595.4 475.8L596.6 475.3L597.8 475.4L598.8 474.5M598.5 470.5L599.0 469.7L598.9 468.7L599.2 467.7M616.5 452.4L618.4 453.4L620.3 454.2L622.3 454.7" stroke="#34d044" stroke-width="0.6" stroke-linecap="round" stroke-linejoin="round" stroke-dasharray="1.6 1.1" fill="none" opacity="0.77"/>
<path d="M599.0 482.3L600.6 480.5L602.2 478.7L602.8 476.4M582.7 465.8L584.1 464.5L585.5 463.2L587.3 462.7" stroke="#22982e" stroke-width="0.5" stroke-linecap="round" stroke-linejoin="round" stroke-dasharray="1.6 1.1" fill="none" opacity="0.77"/>
<path d="M574.6 471.6L576.9 470.2L577.9 467.8L579.7 465.9" stroke="#2fb43e" stroke-width="0.6" stroke-linecap="round" stroke-linejoin="round" stroke-dasharray="1.6 1.1" fill="none" opacity="0.42"/>
<path d="M593.1 488.9L594.5 488.6L595.6 487.7L596.0 486.4M658.2 528.2L660.5 528.4L662.5 529.6L664.2 531.2" stroke="#2bc238" stroke-width="0.7" stroke-linecap="round" stroke-linejoin="round" stroke-dasharray="1.6 1.1" fill="none" opacity="0.59"/>
<path d="M580.8 485.6L582.7 485.4L584.6 485.4L586.2 484.4M585.2 521.3L587.5 521.1L588.8 522.9L589.9 524.9M586.8 519.7L588.8 520.2L591.0 520.5L592.9 521.3M655.1 473.3l1.3 1.2" stroke="#34d044" stroke-width="0.6" stroke-linecap="round" stroke-linejoin="round" stroke-dasharray="1.6 1.1" fill="none" opacity="0.59"/>
<path d="M581.6 489.2L582.5 487.3L582.5 485.1L583.1 483.0M628.6 479.2l-0.9 1.5" stroke="#34d044" stroke-width="0.9" stroke-linecap="round" stroke-linejoin="round" stroke-dasharray="1.6 1.1" fill="none" opacity="0.77"/>
<path d="M578.3 486.8L579.2 485.9L579.8 484.9L580.6 483.9M623.4 535.1L624.1 537.4L625.1 539.6L627.1 540.8" stroke="#2bc238" stroke-width="0.6" stroke-linecap="round" stroke-linejoin="round" stroke-dasharray="1.6 1.1" fill="none" opacity="0.59"/>
<path d="M635.3 530.9L637.0 531.4L638.8 531.8L640.6 532.1M626.9 463.3l-0.3 1.5M572.0 503.7l-0.4 2.9" stroke="#2fb43e" stroke-width="0.8" stroke-linecap="round" stroke-linejoin="round" stroke-dasharray="1.6 1.1" fill="none" opacity="0.59"/>
<path d="M599.8 530.4L602.7 531.0L605.5 531.7L608.2 530.5" stroke="#2fb43e" stroke-width="0.7" stroke-linecap="round" stroke-linejoin="round" stroke-dasharray="1.6 1.1" fill="none" opacity="0.42"/>
<path d="M634.7 527.3L637.3 526.5L639.9 526.5L642.3 527.8M604.3 536.3L605.5 537.1L606.9 537.4L608.2 537.9" stroke="#22982e" stroke-width="0.8" stroke-linecap="round" stroke-linejoin="round" stroke-dasharray="1.6 1.1" fill="none" opacity="0.42"/>
<path d="M617.6 529.2L618.3 531.3L620.2 532.1L621.7 533.6" stroke="#22982e" stroke-width="0.9" stroke-linecap="round" stroke-linejoin="round" stroke-dasharray="1.6 1.1" fill="none" opacity="0.59"/>
<path d="M624.1 535.8L624.9 536.6L625.7 537.3L626.8 537.7" stroke="#1b7c28" stroke-width="0.5" stroke-linecap="round" stroke-linejoin="round" stroke-dasharray="1.6 1.1" fill="none" opacity="0.42"/>
<path d="M635.7 519.9L637.9 519.2L640.0 520.2L642.4 520.1" stroke="#48dc54" stroke-width="0.7" stroke-linecap="round" stroke-linejoin="round" stroke-dasharray="1.6 1.1" fill="none" opacity="0.42"/>
<path d="M624.9 531.3L626.0 532.7L626.8 534.2L627.6 535.7" stroke="#34d044" stroke-width="0.8" stroke-linecap="round" stroke-linejoin="round" stroke-dasharray="1.6 1.1" fill="none" opacity="0.42"/>
<path d="M652.5 522.6L654.2 522.9L655.8 523.5L657.1 524.5" stroke="#2bc238" stroke-width="0.8" stroke-linecap="round" stroke-linejoin="round" stroke-dasharray="1.6 1.1" fill="none" opacity="0.42"/>
<path d="M599.6 524.4L601.1 525.4L602.9 525.9L604.6 526.7" stroke="#2fb43e" stroke-width="0.8" stroke-linecap="round" stroke-linejoin="round" stroke-dasharray="1.6 1.1" fill="none" opacity="0.42"/>
<path d="M651.9 529.7L653.7 527.8L656.2 527.0L658.8 526.6" stroke="#1b7c28" stroke-width="0.7" stroke-linecap="round" stroke-linejoin="round" stroke-dasharray="1.6 1.1" fill="none" opacity="0.59"/>
<path d="M600.5 517.9L601.7 518.7L603.1 518.5L604.5 519.0" stroke="#48dc54" stroke-width="0.5" stroke-linecap="round" stroke-linejoin="round" stroke-dasharray="1.6 1.1" fill="none" opacity="0.77"/>
<path d="M658.8 533.3L661.3 533.4L663.7 534.1L665.9 533.0" stroke="#22982e" stroke-width="0.9" stroke-linecap="round" stroke-linejoin="round" stroke-dasharray="1.6 1.1" fill="none" opacity="0.77"/>
<path d="M587.8 537.5L590.5 538.1L593.0 539.3L594.7 541.5M560.7 447.0L560.7 447.8L560.8 448.5L560.7 449.2M571.3 449.8l1.9 0.8" stroke="#34d044" stroke-width="0.5" stroke-linecap="round" stroke-linejoin="round" stroke-dasharray="1.6 1.1" fill="none" opacity="0.59"/>
<path d="M641.2 518.5L642.8 519.8L644.8 520.5L646.3 521.9" stroke="#34d044" stroke-width="0.9" stroke-linecap="round" stroke-linejoin="round" stroke-dasharray="1.6 1.1" fill="none" opacity="0.59"/>
<path d="M629.0 445.6L630.7 445.5L632.3 446.0L633.6 447.1M626.3 485.0l-1.4 1.5" stroke="#48dc54" stroke-width="0.8" stroke-linecap="round" stroke-linejoin="round" stroke-dasharray="1.6 1.1" fill="none" opacity="0.77"/>
<path d="M609.9 441.9L611.1 442.3L612.3 442.1L613.6 441.9" stroke="#1b7c28" stroke-width="0.6" stroke-linecap="round" stroke-linejoin="round" stroke-dasharray="1.6 1.1" fill="none" opacity="0.42"/>
<path d="M613.1 440.7L615.1 441.6L617.2 442.3L619.0 443.7" stroke="#48dc54" stroke-width="0.8" stroke-linecap="round" stroke-linejoin="round" stroke-dasharray="1.6 1.1" fill="none" opacity="0.42"/>
<path d="M616.8 443.9L618.2 445.1L619.8 445.9L621.4 446.9" stroke="#22982e" stroke-width="0.5" stroke-linecap="round" stroke-linejoin="round" stroke-dasharray="1.6 1.1" fill="none" opacity="0.59"/>
<path d="M567.6 464.3L567.3 465.6L567.2 467.0L568.2 468.0" stroke="#22982e" stroke-width="0.6" stroke-linecap="round" stroke-linejoin="round" stroke-dasharray="1.6 1.1" fill="none" opacity="0.77"/>
<path d="M560.9 476.4L561.9 477.6L562.9 478.9L563.4 480.4M618.1 479.2l0.2 2.2" stroke="#1b7c28" stroke-width="0.5" stroke-linecap="round" stroke-linejoin="round" stroke-dasharray="1.6 1.1" fill="none" opacity="0.59"/>
<path d="M576.3 484.2L577.1 485.4L578.1 486.5M575.2 515.5L575.5 516.9L575.5 518.4M566.7 455.1L565.8 456.6L566.5 458.2" stroke="#34d044" stroke-width="0.7" stroke-linecap="round" stroke-linejoin="round" stroke-dasharray="1.6 1.1" fill="none" opacity="0.85"/>
<path d="M581.2 514.5L583.2 516.6L585.7 518.0M576.0 477.3L577.4 479.3L579.4 480.8" stroke="#34d044" stroke-width="0.7" stroke-linecap="round" stroke-linejoin="round" stroke-dasharray="1.6 1.1" fill="none" opacity="0.68"/>
<path d="M574.8 489.1L576.0 490.0L576.5 491.3" stroke="#2bc238" stroke-width="1.1" stroke-linecap="round" stroke-linejoin="round" stroke-dasharray="1.6 1.1" fill="none" opacity="0.68"/>
<path d="M574.8 495.8L572.2 497.9L571.9 501.3M634.1 532.0L635.7 531.9L637.2 531.5M609.8 441.1L611.5 441.2L613.2 441.8" stroke="#2fb43e" stroke-width="0.6" stroke-linecap="round" stroke-linejoin="round" stroke-dasharray="1.6 1.1" fill="none" opacity="0.85"/>
<path d="M574.8 490.5L575.0 493.3L573.6 495.7" stroke="#2bc238" stroke-width="1.0" stroke-linecap="round" stroke-linejoin="round" stroke-dasharray="1.6 1.1" fill="none" opacity="0.51"/>
<path d="M572.1 503.4L571.7 504.8L571.8 506.3" stroke="#22982e" stroke-width="1.1" stroke-linecap="round" stroke-linejoin="round" stroke-dasharray="1.6 1.1" fill="none" opacity="0.85"/>
<path d="M575.2 484.8L575.5 486.4L574.0 486.9M615.6 533.4L618.1 531.0L620.4 528.4" stroke="#2fb43e" stroke-width="1.1" stroke-linecap="round" stroke-linejoin="round" stroke-dasharray="1.6 1.1" fill="none" opacity="0.85"/>
<path d="M574.4 495.6L576.3 497.7L578.5 499.5" stroke="#34d044" stroke-width="0.5" stroke-linecap="round" stroke-linejoin="round" stroke-dasharray="1.6 1.1" fill="none" opacity="0.51"/>
<path d="M573.6 498.2L573.3 500.4L574.3 502.4M576.9 482.5L576.4 484.0L575.8 485.5M587.8 470.3L586.3 470.6L584.9 470.5M599.0 528.5L600.0 529.5L600.8 530.7M593.6 523.8L596.6 523.8L598.9 525.8M622.6 535.2L624.2 537.3L626.3 538.8M629.7 532.6L631.7 533.6L633.7 534.3" stroke="#34d044" stroke-width="0.7" stroke-linecap="round" stroke-linejoin="round" stroke-dasharray="1.6 1.1" fill="none" opacity="0.51"/>
<path d="M574.9 483.1L575.5 484.7L577.1 485.3M588.5 471.8L587.7 474.5L587.4 477.4M591.2 467.9L590.4 470.7L589.0 473.3" stroke="#2bc238" stroke-width="1.0" stroke-linecap="round" stroke-linejoin="round" stroke-dasharray="1.6 1.1" fill="none" opacity="0.68"/>
<path d="M578.8 508.3L578.6 511.2L578.3 514.1M593.5 469.0L592.2 470.5L593.6 471.8" stroke="#1b7c28" stroke-width="0.6" stroke-linecap="round" stroke-linejoin="round" stroke-dasharray="1.6 1.1" fill="none" opacity="0.68"/>
<path d="M570.8 503.8L571.3 505.2L570.7 506.6M632.1 530.9L633.9 531.2L635.5 532.1M610.5 442.1L612.7 441.1L614.7 442.5" stroke="#1b7c28" stroke-width="0.5" stroke-linecap="round" stroke-linejoin="round" stroke-dasharray="1.6 1.1" fill="none" opacity="0.51"/>
<path d="M581.8 480.8L583.1 482.6L582.5 484.8M577.6 513.8L578.5 516.5L581.2 517.6M630.9 533.5L632.3 534.3L633.3 535.7M663.4 539.2L665.4 538.7L667.0 537.2" stroke="#2fb43e" stroke-width="0.7" stroke-linecap="round" stroke-linejoin="round" stroke-dasharray="1.6 1.1" fill="none" opacity="0.85"/>
<path d="M573.1 494.3L574.6 496.7L576.3 499.0M589.6 519.7L591.3 521.5L593.5 522.7M612.5 443.1L612.5 444.9L613.1 446.6" stroke="#1b7c28" stroke-width="1.1" stroke-linecap="round" stroke-linejoin="round" stroke-dasharray="1.6 1.1" fill="none" opacity="0.51"/>
<path d="M576.9 514.9L577.9 515.9L578.2 517.4" stroke="#48dc54" stroke-width="1.1" stroke-linecap="round" stroke-linejoin="round" stroke-dasharray="1.6 1.1" fill="none" opacity="0.51"/>
<path d="M575.7 477.1L574.1 478.2L572.6 479.5" stroke="#2fb43e" stroke-width="1.1" stroke-linecap="round" stroke-linejoin="round" stroke-dasharray="1.6 1.1" fill="none" opacity="0.51"/>
<path d="M573.3 484.1L573.6 485.5L572.7 486.4" stroke="#34d044" stroke-width="1.1" stroke-linecap="round" stroke-linejoin="round" stroke-dasharray="1.6 1.1" fill="none" opacity="0.68"/>
<path d="M575.4 480.6L572.6 481.2L572.6 484.0M571.5 510.5L572.1 513.6L569.1 514.4M591.2 519.6L592.5 519.8L593.7 520.3M578.0 519.3L580.2 521.3L581.6 524.0" stroke="#2fb43e" stroke-width="0.8" stroke-linecap="round" stroke-linejoin="round" stroke-dasharray="1.6 1.1" fill="none" opacity="0.51"/>
<path d="M578.1 481.9L578.3 483.5L578.7 485.2M572.3 503.3L570.8 504.5L569.5 505.8" stroke="#22982e" stroke-width="1.0" stroke-linecap="round" stroke-linejoin="round" stroke-dasharray="1.6 1.1" fill="none" opacity="0.68"/>
<path d="M572.9 510.2L572.3 512.7L572.2 515.2M596.4 524.0L598.6 524.1L600.7 524.8" stroke="#2bc238" stroke-width="0.9" stroke-linecap="round" stroke-linejoin="round" stroke-dasharray="1.6 1.1" fill="none" opacity="0.85"/>
<path d="M574.8 492.2L572.1 493.6L572.6 496.6M576.1 511.8L577.4 514.8L579.3 517.5M590.9 471.8L590.0 473.5L588.4 474.4M602.7 532.5L604.2 534.4L606.0 535.9M618.0 528.1L619.9 528.4L621.9 528.1M634.6 531.5L636.0 531.0L637.5 531.2M615.5 445.6L617.1 444.8L618.9 444.4M567.6 457.3L566.7 457.8L566.0 458.6M568.9 465.4L567.9 467.1L567.3 469.0" stroke="#2bc238" stroke-width="0.6" stroke-linecap="round" stroke-linejoin="round" stroke-dasharray="1.6 1.1" fill="none" opacity="0.51"/>
<path d="M576.8 482.2L574.7 484.4L574.5 487.5M587.4 471.9L588.0 475.2L584.7 475.6" stroke="#48dc54" stroke-width="0.6" stroke-linecap="round" stroke-linejoin="round" stroke-dasharray="1.6 1.1" fill="none" opacity="0.51"/>
<path d="M574.3 515.2L575.6 516.8L577.4 517.5M576.6 482.4L576.5 484.5L575.7 486.4" stroke="#2fb43e" stroke-width="0.6" stroke-linecap="round" stroke-linejoin="round" stroke-dasharray="1.6 1.1" fill="none" opacity="0.51"/>
<path d="M576.4 494.3L575.4 496.4L573.4 497.5M624.6 532.5L627.8 531.9L631.1 531.6M620.9 530.7L623.2 529.4L625.6 528.5" stroke="#1b7c28" stroke-width="0.8" stroke-linecap="round" stroke-linejoin="round" stroke-dasharray="1.6 1.1" fill="none" opacity="0.68"/>
<path d="M576.4 488.7L574.3 490.8L572.6 493.1M581.4 479.5L580.0 481.1L579.1 483.0M582.8 526.7L584.4 525.4L586.2 524.4M581.5 523.9L582.1 526.3L583.6 528.4M584.4 522.5L585.6 524.9L586.1 527.5M594.6 525.5L596.0 524.9L597.4 525.6M617.2 446.7L618.6 446.3L620.0 446.4" stroke="#48dc54" stroke-width="0.9" stroke-linecap="round" stroke-linejoin="round" stroke-dasharray="1.6 1.1" fill="none" opacity="0.68"/>
<path d="M573.4 491.1L572.9 493.1L572.6 495.2M599.4 461.2L599.6 462.6L600.0 464.0M636.0 534.0L638.0 534.1L639.5 535.4" stroke="#2fb43e" stroke-width="0.9" stroke-linecap="round" stroke-linejoin="round" stroke-dasharray="1.6 1.1" fill="none" opacity="0.68"/>
<path d="M574.4 502.1L573.2 503.1L571.7 503.6" stroke="#48dc54" stroke-width="0.5" stroke-linecap="round" stroke-linejoin="round" stroke-dasharray="1.6 1.1" fill="none" opacity="0.68"/>
<path d="M575.2 501.5L577.4 503.8L580.2 505.1M596.2 522.7L597.8 522.0L599.5 521.9M615.9 444.4L617.2 446.1L618.6 447.8M565.9 450.3L564.5 450.9L563.7 452.3" stroke="#1b7c28" stroke-width="0.7" stroke-linecap="round" stroke-linejoin="round" stroke-dasharray="1.6 1.1" fill="none" opacity="0.85"/>
<path d="M573.8 499.0L573.0 501.4L571.8 503.6M574.0 497.5L574.7 499.4L574.6 501.5M591.9 466.4L592.6 468.0L593.4 469.5M657.4 535.9L658.6 537.0L659.1 538.5M611.1 441.5L612.4 442.1L612.6 443.4" stroke="#34d044" stroke-width="1.0" stroke-linecap="round" stroke-linejoin="round" stroke-dasharray="1.6 1.1" fill="none" opacity="0.85"/>
<path d="M574.0 502.6L572.6 503.1L571.5 504.1M575.6 483.6L576.9 486.0L578.1 488.4M578.0 488.0L576.2 488.3L574.2 488.6M598.4 526.7L599.7 529.5L600.2 532.6M596.5 525.4L599.4 526.7L602.5 527.8M632.3 533.4L634.5 531.6L637.3 531.3M663.3 539.2L665.6 541.7L667.2 544.8" stroke="#48dc54" stroke-width="0.9" stroke-linecap="round" stroke-linejoin="round" stroke-dasharray="1.6 1.1" fill="none" opacity="0.85"/>
<path d="M575.2 518.0L576.6 518.9L577.5 520.2M597.2 521.9L600.1 522.3L600.4 525.2" stroke="#22982e" stroke-width="1.1" stroke-linecap="round" stroke-linejoin="round" stroke-dasharray="1.6 1.1" fill="none" opacity="0.51"/>
<path d="M574.3 508.0L576.9 508.6L578.0 511.0M596.4 526.6L599.3 526.7L602.1 526.0M609.5 528.7L611.0 528.6L612.6 528.4" stroke="#34d044" stroke-width="1.0" stroke-linecap="round" stroke-linejoin="round" stroke-dasharray="1.6 1.1" fill="none" opacity="0.68"/>
<path d="M573.3 496.9L572.8 498.8L573.5 500.7M583.1 522.2L584.8 522.4L585.9 521.1M617.8 447.5L620.0 448.7L622.5 448.6" stroke="#2bc238" stroke-width="1.1" stroke-linecap="round" stroke-linejoin="round" stroke-dasharray="1.6 1.1" fill="none" opacity="0.51"/>
<path d="M574.4 497.3L574.8 499.1L575.3 500.9M572.5 485.4L571.3 487.5L571.0 490.0" stroke="#22982e" stroke-width="0.5" stroke-linecap="round" stroke-linejoin="round" stroke-dasharray="1.6 1.1" fill="none" opacity="0.68"/>
<path d="M572.6 494.5L574.3 496.4L576.4 497.9M618.9 444.4L621.5 443.5L624.2 444.2" stroke="#48dc54" stroke-width="1.0" stroke-linecap="round" stroke-linejoin="round" stroke-dasharray="1.6 1.1" fill="none" opacity="0.51"/>
<path d="M575.3 510.0L578.1 511.3L578.4 514.4" stroke="#1b7c28" stroke-width="0.9" stroke-linecap="round" stroke-linejoin="round" stroke-dasharray="1.6 1.1" fill="none" opacity="0.51"/>
<path d="M570.3 498.2L570.0 499.4L570.4 500.7M609.8 531.3L612.7 530.7L615.7 530.4" stroke="#34d044" stroke-width="0.8" stroke-linecap="round" stroke-linejoin="round" stroke-dasharray="1.6 1.1" fill="none" opacity="0.85"/>
<path d="M575.8 480.3L576.5 482.0L576.2 483.9" stroke="#2fb43e" stroke-width="1.0" stroke-linecap="round" stroke-linejoin="round" stroke-dasharray="1.6 1.1" fill="none" opacity="0.51"/>
<path d="M573.0 491.1L573.6 493.1L574.2 495.1M576.6 492.2L578.0 495.0L577.6 498.1M615.9 534.4L617.1 536.7L619.4 537.7M567.3 446.9L568.7 447.6L568.9 449.2" stroke="#1b7c28" stroke-width="0.6" stroke-linecap="round" stroke-linejoin="round" stroke-dasharray="1.6 1.1" fill="none" opacity="0.51"/>
<path d="M574.8 484.7L575.7 486.9L577.6 488.4M617.2 530.9L620.3 531.3L623.0 533.0" stroke="#48dc54" stroke-width="0.6" stroke-linecap="round" stroke-linejoin="round" stroke-dasharray="1.6 1.1" fill="none" opacity="0.85"/>
<path d="M574.0 496.6L575.2 497.4L575.1 498.9M630.3 532.2L632.2 530.5L633.3 528.2" stroke="#2bc238" stroke-width="0.7" stroke-linecap="round" stroke-linejoin="round" stroke-dasharray="1.6 1.1" fill="none" opacity="0.85"/>
<path d="M575.8 472.0L576.2 474.4L576.0 476.8M576.9 512.2L578.3 511.8L579.6 512.5M581.3 478.6L579.9 479.4L578.4 480.0M625.3 532.1L627.8 531.6L629.8 533.2" stroke="#2fb43e" stroke-width="0.8" stroke-linecap="round" stroke-linejoin="round" stroke-dasharray="1.6 1.1" fill="none" opacity="0.68"/>
<path d="M574.5 508.6L574.3 511.4L574.9 514.2" stroke="#2fb43e" stroke-width="1.0" stroke-linecap="round" stroke-linejoin="round" stroke-dasharray="1.6 1.1" fill="none" opacity="0.68"/>
<path d="M578.5 487.4L576.1 489.5L574.8 492.4M579.3 479.6L579.0 482.1L578.3 484.4M590.6 471.3L590.2 473.4L588.8 475.0M627.9 536.3L630.2 534.3L633.0 533.3" stroke="#2fb43e" stroke-width="0.9" stroke-linecap="round" stroke-linejoin="round" stroke-dasharray="1.6 1.1" fill="none" opacity="0.85"/>
<path d="M572.9 502.7L573.2 504.3L573.9 505.9" stroke="#34d044" stroke-width="0.5" stroke-linecap="round" stroke-linejoin="round" stroke-dasharray="1.6 1.1" fill="none" opacity="0.85"/>
<path d="M577.8 514.3L578.7 516.0L579.3 517.9M620.2 527.0L621.6 528.6L623.6 529.3M670.5 541.0L671.5 540.0L672.7 539.5M566.8 454.1L568.5 455.7L568.9 458.1" stroke="#22982e" stroke-width="0.8" stroke-linecap="round" stroke-linejoin="round" stroke-dasharray="1.6 1.1" fill="none" opacity="0.51"/>
<path d="M575.8 513.4L575.7 515.6L576.4 517.8" stroke="#48dc54" stroke-width="0.5" stroke-linecap="round" stroke-linejoin="round" stroke-dasharray="1.6 1.1" fill="none" opacity="0.51"/>
<path d="M577.8 485.7L576.7 487.9L575.9 490.2M587.8 472.2L587.9 474.6L587.7 477.1M584.2 520.2L584.3 521.9L585.0 523.5" stroke="#22982e" stroke-width="0.8" stroke-linecap="round" stroke-linejoin="round" stroke-dasharray="1.6 1.1" fill="none" opacity="0.68"/>
<path d="M574.4 507.7L574.7 510.2L575.6 512.6" stroke="#2bc238" stroke-width="0.9" stroke-linecap="round" stroke-linejoin="round" stroke-dasharray="1.6 1.1" fill="none" opacity="0.68"/>
<path d="M574.0 498.1L575.2 499.0L576.2 500.2M612.4 529.7L614.7 531.1L616.4 533.2" stroke="#34d044" stroke-width="1.1" stroke-linecap="round" stroke-linejoin="round" stroke-dasharray="1.6 1.1" fill="none" opacity="0.51"/>
<path d="M574.8 482.3L573.9 484.5L573.0 486.7M587.5 521.2L589.3 521.6L591.2 522.0M626.5 446.7L628.4 447.6L629.7 449.3" stroke="#1b7c28" stroke-width="1.1" stroke-linecap="round" stroke-linejoin="round" stroke-dasharray="1.6 1.1" fill="none" opacity="0.68"/>
<path d="M571.7 498.7L571.7 501.2L572.2 503.7M580.1 490.4L580.8 491.9L580.8 493.5M663.3 539.8L664.3 538.0L664.3 535.9M647.4 536.4L649.6 534.2L652.4 532.9" stroke="#2bc238" stroke-width="0.9" stroke-linecap="round" stroke-linejoin="round" stroke-dasharray="1.6 1.1" fill="none" opacity="0.51"/>
<path d="M569.9 491.2L571.5 493.3L573.6 494.7" stroke="#2fb43e" stroke-width="0.6" stroke-linecap="round" stroke-linejoin="round" stroke-dasharray="1.6 1.1" fill="none" opacity="0.68"/>
<path d="M577.1 508.3L577.3 509.6L577.4 510.9" stroke="#48dc54" stroke-width="0.7" stroke-linecap="round" stroke-linejoin="round" stroke-dasharray="1.6 1.1" fill="none" opacity="0.51"/>
<path d="M572.4 515.3L572.2 516.8L572.1 518.3M582.7 482.5L581.1 485.1L579.2 487.6M587.7 520.5L588.6 521.8L589.4 523.1" stroke="#22982e" stroke-width="0.6" stroke-linecap="round" stroke-linejoin="round" stroke-dasharray="1.6 1.1" fill="none" opacity="0.85"/>
<path d="M576.1 482.4L576.1 484.0L577.0 485.5" stroke="#1b7c28" stroke-width="0.9" stroke-linecap="round" stroke-linejoin="round" stroke-dasharray="1.6 1.1" fill="none" opacity="0.85"/>
<path d="M575.9 490.2L576.0 493.6L574.9 496.9" stroke="#1b7c28" stroke-width="0.9" stroke-linecap="round" stroke-linejoin="round" stroke-dasharray="1.6 1.1" fill="none" opacity="0.68"/>
<path d="M577.0 505.2L579.1 507.5L581.8 509.3" stroke="#22982e" stroke-width="0.9" stroke-linecap="round" stroke-linejoin="round" stroke-dasharray="1.6 1.1" fill="none" opacity="0.68"/>
<path d="M592.3 462.7L591.5 463.9L590.4 464.8M660.4 539.9L661.9 540.2L663.4 539.9M668.3 539.8L669.6 540.3L670.7 539.6M567.2 463.3L565.6 464.2L564.7 465.7M565.7 450.9L566.0 452.1L566.4 453.3" stroke="#2fb43e" stroke-width="0.5" stroke-linecap="round" stroke-linejoin="round" stroke-dasharray="1.6 1.1" fill="none" opacity="0.85"/>
<path d="M578.5 486.1L577.9 488.0L576.7 489.7M660.7 535.5L663.0 535.5L664.8 534.0M608.1 441.8L609.6 442.4L611.2 442.3" stroke="#1b7c28" stroke-width="1.0" stroke-linecap="round" stroke-linejoin="round" stroke-dasharray="1.6 1.1" fill="none" opacity="0.51"/>
<path d="M582.0 475.3L580.0 475.5L578.1 476.4M583.2 471.6L582.0 472.7L582.0 474.2" stroke="#2bc238" stroke-width="0.6" stroke-linecap="round" stroke-linejoin="round" stroke-dasharray="1.6 1.1" fill="none" opacity="0.85"/>
<path d="M592.8 465.8L592.7 467.7L593.1 469.5M617.6 444.6L619.2 445.0L620.8 445.3" stroke="#48dc54" stroke-width="1.0" stroke-linecap="round" stroke-linejoin="round" stroke-dasharray="1.6 1.1" fill="none" opacity="0.85"/>
<path d="M580.3 486.9L578.0 489.3L575.7 491.7M582.6 486.0L581.3 489.2L578.5 491.2M607.2 527.4L609.4 528.0L611.6 528.5M628.3 449.2L630.6 448.9L631.5 446.8M567.0 458.0L567.7 460.3L567.3 462.7" stroke="#2bc238" stroke-width="0.6" stroke-linecap="round" stroke-linejoin="round" stroke-dasharray="1.6 1.1" fill="none" opacity="0.68"/>
<path d="M588.0 465.7L586.6 466.5L584.9 466.5M585.3 522.6L588.3 520.9L591.7 520.8M620.6 531.8L624.0 531.6L627.3 532.3M610.5 526.8L611.2 529.6L614.0 529.3" stroke="#1b7c28" stroke-width="0.7" stroke-linecap="round" stroke-linejoin="round" stroke-dasharray="1.6 1.1" fill="none" opacity="0.68"/>
<path d="M593.6 458.8L591.8 459.6L591.4 461.5M580.9 487.0L579.8 489.9L577.4 491.9" stroke="#34d044" stroke-width="0.8" stroke-linecap="round" stroke-linejoin="round" stroke-dasharray="1.6 1.1" fill="none" opacity="0.68"/>
<path d="M588.9 474.1L586.7 476.8L585.8 480.1M647.2 539.2L649.5 540.3L650.7 542.6M565.1 465.8L567.1 466.7L567.6 468.8" stroke="#34d044" stroke-width="0.6" stroke-linecap="round" stroke-linejoin="round" stroke-dasharray="1.6 1.1" fill="none" opacity="0.51"/>
<path d="M585.4 475.6L583.5 476.2L581.8 477.2M608.8 528.4L610.4 529.3L612.1 528.9M627.1 450.4L630.0 450.5L632.9 450.5" stroke="#2bc238" stroke-width="1.0" stroke-linecap="round" stroke-linejoin="round" stroke-dasharray="1.6 1.1" fill="none" opacity="0.85"/>
<path d="M588.4 471.6L588.1 474.0L586.9 476.0M599.9 525.8L600.9 527.2L602.7 527.4M616.0 444.3L616.7 445.3L617.3 446.4" stroke="#1b7c28" stroke-width="0.6" stroke-linecap="round" stroke-linejoin="round" stroke-dasharray="1.6 1.1" fill="none" opacity="0.85"/>
<path d="M580.2 492.5L580.3 493.9L579.6 495.2M620.0 529.2L621.4 529.6L622.9 529.9" stroke="#2fb43e" stroke-width="0.8" stroke-linecap="round" stroke-linejoin="round" stroke-dasharray="1.6 1.1" fill="none" opacity="0.85"/>
<path d="M578.8 485.8L578.5 487.7L578.5 489.7" stroke="#2fb43e" stroke-width="0.7" stroke-linecap="round" stroke-linejoin="round" stroke-dasharray="1.6 1.1" fill="none" opacity="0.68"/>
<path d="M583.8 479.9L583.7 481.3L583.3 482.6M563.3 447.1L564.4 448.8L566.0 449.8" stroke="#2bc238" stroke-width="0.5" stroke-linecap="round" stroke-linejoin="round" stroke-dasharray="1.6 1.1" fill="none" opacity="0.51"/>
<path d="M588.2 466.0L585.2 464.7L582.0 464.9M598.4 527.0L598.7 529.8L600.2 532.1" stroke="#2bc238" stroke-width="0.8" stroke-linecap="round" stroke-linejoin="round" stroke-dasharray="1.6 1.1" fill="none" opacity="0.85"/>
<path d="M588.9 470.7L586.2 471.2L583.6 472.1M627.2 534.5L628.7 534.5L630.0 535.1" stroke="#22982e" stroke-width="0.7" stroke-linecap="round" stroke-linejoin="round" stroke-dasharray="1.6 1.1" fill="none" opacity="0.85"/>
<path d="M593.9 464.0L594.9 466.4L594.6 468.8M590.6 521.5L592.4 520.5L594.4 519.9M644.4 534.2L646.7 533.5L648.7 532.3" stroke="#22982e" stroke-width="0.7" stroke-linecap="round" stroke-linejoin="round" stroke-dasharray="1.6 1.1" fill="none" opacity="0.68"/>
<path d="M616.9 532.4L618.6 531.9L620.3 531.4M599.3 524.9L600.8 524.8L602.3 525.5" stroke="#34d044" stroke-width="0.9" stroke-linecap="round" stroke-linejoin="round" stroke-dasharray="1.6 1.1" fill="none" opacity="0.85"/>
<path d="M590.2 520.7L592.9 520.0L595.5 518.8M644.0 535.1L646.9 535.4L649.8 535.9M630.3 532.6L633.0 533.5L635.7 534.5M633.5 452.0L635.7 451.4L638.0 451.7" stroke="#2bc238" stroke-width="0.7" stroke-linecap="round" stroke-linejoin="round" stroke-dasharray="1.6 1.1" fill="none" opacity="0.51"/>
<path d="M606.7 529.7L608.6 532.3L610.0 535.3M589.4 519.9L590.0 522.4L592.1 523.7M613.3 443.8L614.4 445.0L616.0 445.5" stroke="#34d044" stroke-width="0.6" stroke-linecap="round" stroke-linejoin="round" stroke-dasharray="1.6 1.1" fill="none" opacity="0.85"/>
<path d="M598.3 525.6L600.6 525.8L602.9 526.2M567.4 465.7L567.5 467.5L568.4 469.1" stroke="#48dc54" stroke-width="0.7" stroke-linecap="round" stroke-linejoin="round" stroke-dasharray="1.6 1.1" fill="none" opacity="0.68"/>
<path d="M617.1 531.1L619.6 529.9L622.0 531.3" stroke="#1b7c28" stroke-width="0.8" stroke-linecap="round" stroke-linejoin="round" stroke-dasharray="1.6 1.1" fill="none" opacity="0.51"/>
<path d="M592.2 523.4L593.4 522.3L594.9 522.6M595.2 525.4L595.7 526.6L596.1 527.8M601.2 525.5L603.5 523.1L606.7 522.5M580.0 518.9L582.1 519.7L583.2 517.8M656.1 538.9L657.3 539.0L658.2 539.9" stroke="#48dc54" stroke-width="0.8" stroke-linecap="round" stroke-linejoin="round" stroke-dasharray="1.6 1.1" fill="none" opacity="0.51"/>
<path d="M602.3 526.7L604.6 527.7L606.8 529.0M646.9 536.1L650.3 536.6L653.2 534.5M561.8 469.9L560.3 471.2L558.3 471.3" stroke="#1b7c28" stroke-width="0.7" stroke-linecap="round" stroke-linejoin="round" stroke-dasharray="1.6 1.1" fill="none" opacity="0.51"/>
<path d="M594.9 525.9L596.7 528.7L599.5 530.6" stroke="#2bc238" stroke-width="0.5" stroke-linecap="round" stroke-linejoin="round" stroke-dasharray="1.6 1.1" fill="none" opacity="0.85"/>
<path d="M613.4 529.7L613.7 531.5L613.6 533.3M625.0 534.2L626.8 533.7L627.8 532.2M666.5 537.5L668.0 536.6L669.2 535.3M565.1 455.4L566.0 456.3L566.0 457.6" stroke="#22982e" stroke-width="0.5" stroke-linecap="round" stroke-linejoin="round" stroke-dasharray="1.6 1.1" fill="none" opacity="0.51"/>
<path d="M602.6 526.1L604.2 526.3L605.7 526.9" stroke="#22982e" stroke-width="0.6" stroke-linecap="round" stroke-linejoin="round" stroke-dasharray="1.6 1.1" fill="none" opacity="0.51"/>
<path d="M587.2 526.0L589.6 524.9L592.3 524.9" stroke="#1b7c28" stroke-width="1.0" stroke-linecap="round" stroke-linejoin="round" stroke-dasharray="1.6 1.1" fill="none" opacity="0.68"/>
<path d="M590.8 526.2L591.1 527.5L591.8 528.7M611.7 529.9L614.4 530.9L617.2 531.3" stroke="#34d044" stroke-width="1.0" stroke-linecap="round" stroke-linejoin="round" stroke-dasharray="1.6 1.1" fill="none" opacity="0.51"/>
<path d="M592.8 518.6L593.3 521.4L595.4 523.2M611.0 442.6L612.2 444.4L614.1 445.5" stroke="#2bc238" stroke-width="0.8" stroke-linecap="round" stroke-linejoin="round" stroke-dasharray="1.6 1.1" fill="none" opacity="0.51"/>
<path d="M615.9 530.7L618.0 530.6L620.1 531.2M667.8 534.9L670.9 535.9L673.3 533.7M614.5 444.3L616.3 445.9L618.7 446.4" stroke="#1b7c28" stroke-width="1.0" stroke-linecap="round" stroke-linejoin="round" stroke-dasharray="1.6 1.1" fill="none" opacity="0.85"/>
<path d="M578.7 521.7L580.1 522.3L581.5 522.4" stroke="#48dc54" stroke-width="0.8" stroke-linecap="round" stroke-linejoin="round" stroke-dasharray="1.6 1.1" fill="none" opacity="0.85"/>
<path d="M600.4 526.4L601.6 527.1L602.6 528.1" stroke="#2fb43e" stroke-width="0.5" stroke-linecap="round" stroke-linejoin="round" stroke-dasharray="1.6 1.1" fill="none" opacity="0.68"/>
<path d="M605.4 527.6L607.8 527.6L610.1 527.3" stroke="#48dc54" stroke-width="0.9" stroke-linecap="round" stroke-linejoin="round" stroke-dasharray="1.6 1.1" fill="none" opacity="0.51"/>
<path d="M632.1 534.8L633.0 535.7L633.6 536.8M618.1 446.5L619.1 447.8L619.7 449.3" stroke="#48dc54" stroke-width="0.8" stroke-linecap="round" stroke-linejoin="round" stroke-dasharray="1.6 1.1" fill="none" opacity="0.68"/>
<path d="M639.2 530.6L640.3 529.6L641.7 529.6" stroke="#22982e" stroke-width="1.0" stroke-linecap="round" stroke-linejoin="round" stroke-dasharray="1.6 1.1" fill="none" opacity="0.51"/>
<path d="M630.0 533.5L632.3 534.9L634.7 536.3M616.1 447.5L618.1 448.7L619.5 450.6" stroke="#2bc238" stroke-width="0.7" stroke-linecap="round" stroke-linejoin="round" stroke-dasharray="1.6 1.1" fill="none" opacity="0.68"/>
<path d="M668.8 536.3L670.3 538.4L671.3 540.8" stroke="#22982e" stroke-width="0.6" stroke-linecap="round" stroke-linejoin="round" stroke-dasharray="1.6 1.1" fill="none" opacity="0.68"/>
<path d="M658.4 537.6L658.4 539.3L659.5 540.5" stroke="#22982e" stroke-width="0.9" stroke-linecap="round" stroke-linejoin="round" stroke-dasharray="1.6 1.1" fill="none" opacity="0.51"/>
<path d="M628.3 533.1L631.4 533.6L633.2 531.0" stroke="#22982e" stroke-width="0.8" stroke-linecap="round" stroke-linejoin="round" stroke-dasharray="1.6 1.1" fill="none" opacity="0.85"/>
<path d="M641.1 537.5L643.7 536.5L646.5 536.9" stroke="#34d044" stroke-width="0.8" stroke-linecap="round" stroke-linejoin="round" stroke-dasharray="1.6 1.1" fill="none" opacity="0.51"/>
<path d="M649.2 535.3L650.5 535.5L651.6 536.1M629.2 449.0L630.3 447.7L631.5 446.6" stroke="#34d044" stroke-width="0.9" stroke-linecap="round" stroke-linejoin="round" stroke-dasharray="1.6 1.1" fill="none" opacity="0.51"/>
<path d="M611.1 445.1L611.1 447.7L612.5 449.9" stroke="#22982e" stroke-width="0.9" stroke-linecap="round" stroke-linejoin="round" stroke-dasharray="1.6 1.1" fill="none" opacity="0.85"/>
<path d="M627.3 450.2L628.3 451.7L629.9 452.5M622.2 450.3L623.6 450.8L624.6 452.0" stroke="#48dc54" stroke-width="0.6" stroke-linecap="round" stroke-linejoin="round" stroke-dasharray="1.6 1.1" fill="none" opacity="0.68"/>
<path d="M616.8 443.6L618.5 445.8L621.2 446.1M567.0 464.9L565.7 466.8L563.9 468.4" stroke="#34d044" stroke-width="0.6" stroke-linecap="round" stroke-linejoin="round" stroke-dasharray="1.6 1.1" fill="none" opacity="0.68"/>
<path d="M617.4 445.3L620.1 444.9L621.2 447.4" stroke="#22982e" stroke-width="0.7" stroke-linecap="round" stroke-linejoin="round" stroke-dasharray="1.6 1.1" fill="none" opacity="0.51"/>
<path d="M616.9 446.4L617.0 447.7L618.3 448.0" stroke="#34d044" stroke-width="0.5" stroke-linecap="round" stroke-linejoin="round" stroke-dasharray="1.6 1.1" fill="none" opacity="0.68"/>
<path d="M566.9 445.3L567.1 446.4L567.3 447.4" stroke="#2bc238" stroke-width="0.5" stroke-linecap="round" stroke-linejoin="round" stroke-dasharray="1.6 1.1" fill="none" opacity="0.68"/>
<path d="M567.1 445.9L567.9 447.2L568.2 448.7" stroke="#2fb43e" stroke-width="0.7" stroke-linecap="round" stroke-linejoin="round" stroke-dasharray="1.6 1.1" fill="none" opacity="0.51"/>
<path d="M567.8 447.7L567.9 449.1L568.4 450.3" stroke="#48dc54" stroke-width="0.4" stroke-linecap="round" stroke-linejoin="round" stroke-dasharray="1.6 1.1" fill="none" opacity="0.51"/>
<path d="M655.0 430.4l-0.4 1.7" stroke="#22982e" stroke-width="0.6" stroke-linecap="round" stroke-linejoin="round" stroke-dasharray="1.6 1.1" fill="none" opacity="0.38"/>
<path d="M567.0 461.4l-2.8 0.9" stroke="#34d044" stroke-width="0.6" stroke-linecap="round" stroke-linejoin="round" stroke-dasharray="1.6 1.1" fill="none" opacity="0.38"/>
<path d="M598.3 437.5l-2.0 1.6" stroke="#34d044" stroke-width="1.0" stroke-linecap="round" stroke-linejoin="round" stroke-dasharray="1.6 1.1" fill="none" opacity="0.59"/>
<path d="M562.0 461.6l-1.8 1.5" stroke="#2bc238" stroke-width="0.9" stroke-linecap="round" stroke-linejoin="round" stroke-dasharray="1.6 1.1" fill="none" opacity="0.38"/>
<path d="M624.2 505.0l1.5 1.4M675.7 441.8l-0.9 0.5" stroke="#22982e" stroke-width="1.0" stroke-linecap="round" stroke-linejoin="round" stroke-dasharray="1.6 1.1" fill="none" opacity="0.59"/>
<path d="M601.2 474.3l-0.7 0.6M663.3 505.3l2.5 1.3M582.7 436.3l-1.4 1.1M674.0 501.4l-0.9 1.9" stroke="#1b7c28" stroke-width="0.7" stroke-linecap="round" stroke-linejoin="round" stroke-dasharray="1.6 1.1" fill="none" opacity="0.38"/>
<path d="M673.0 426.8l0.2 2.8M628.8 467.1l-1.8 1.2" stroke="#2fb43e" stroke-width="0.6" stroke-linecap="round" stroke-linejoin="round" stroke-dasharray="1.6 1.1" fill="none" opacity="0.38"/>
<path d="M657.4 458.1l-0.4 2.3" stroke="#48dc54" stroke-width="1.1" stroke-linecap="round" stroke-linejoin="round" stroke-dasharray="1.6 1.1" fill="none" opacity="0.38"/>
<path d="M578.2 467.6l-1.6 1.5" stroke="#34d044" stroke-width="0.9" stroke-linecap="round" stroke-linejoin="round" stroke-dasharray="1.6 1.1" fill="none" opacity="0.38"/>
<path d="M636.0 517.9l2.3 0.8M650.3 524.0l0.4 2.5" stroke="#1b7c28" stroke-width="0.9" stroke-linecap="round" stroke-linejoin="round" stroke-dasharray="1.6 1.1" fill="none" opacity="0.38"/>
<path d="M614.2 433.7l-1.8 1.6" stroke="#22982e" stroke-width="0.5" stroke-linecap="round" stroke-linejoin="round" stroke-dasharray="1.6 1.1" fill="none" opacity="0.38"/>
<path d="M603.9 459.1l2.9 0.5M635.8 474.1l-1.9 0.2" stroke="#1b7c28" stroke-width="0.6" stroke-linecap="round" stroke-linejoin="round" stroke-dasharray="1.6 1.1" fill="none" opacity="0.38"/>
<path d="M591.6 498.7l0.5 0.7M619.5 517.1l-1.2 0.2" stroke="#22982e" stroke-width="0.8" stroke-linecap="round" stroke-linejoin="round" stroke-dasharray="1.6 1.1" fill="none" opacity="0.38"/>
<path d="M622.9 493.7l2.4 0.3" stroke="#34d044" stroke-width="0.5" stroke-linecap="round" stroke-linejoin="round" stroke-dasharray="1.6 1.1" fill="none" opacity="0.38"/>
<path d="M607.7 448.2l0.8 2.1" stroke="#1b7c28" stroke-width="0.8" stroke-linecap="round" stroke-linejoin="round" stroke-dasharray="1.6 1.1" fill="none" opacity="0.77"/>
<path d="M604.2 458.8l-0.4 1.8" stroke="#2fb43e" stroke-width="0.8" stroke-linecap="round" stroke-linejoin="round" stroke-dasharray="1.6 1.1" fill="none" opacity="0.38"/>
<path d="M662.4 467.7l1.2 0.3M593.8 487.8l-2.3 0.4" stroke="#34d044" stroke-width="1.1" stroke-linecap="round" stroke-linejoin="round" stroke-dasharray="1.6 1.1" fill="none" opacity="0.38"/>
<path d="M581.0 482.7l1.6 0.2" stroke="#1b7c28" stroke-width="0.9" stroke-linecap="round" stroke-linejoin="round" stroke-dasharray="1.6 1.1" fill="none" opacity="0.77"/>
<path d="M591.1 434.4l1.1 1.4" stroke="#22982e" stroke-width="0.7" stroke-linecap="round" stroke-linejoin="round" stroke-dasharray="1.6 1.1" fill="none" opacity="0.38"/>
<path d="M594.4 467.7l-1.2 2.4" stroke="#22982e" stroke-width="1.0" stroke-linecap="round" stroke-linejoin="round" stroke-dasharray="1.6 1.1" fill="none" opacity="0.38"/>
<path d="M582.2 466.0l-1.3 1.1" stroke="#2fb43e" stroke-width="1.1" stroke-linecap="round" stroke-linejoin="round" stroke-dasharray="1.6 1.1" fill="none" opacity="0.59"/>
<path d="M622.7 494.8l1.7 1.2M644.0 449.4l-2.7 0.4" stroke="#2bc238" stroke-width="0.9" stroke-linecap="round" stroke-linejoin="round" stroke-dasharray="1.6 1.1" fill="none" opacity="0.77"/>
<path d="M613.8 527.9l-1.3 2.1" stroke="#48dc54" stroke-width="1.0" stroke-linecap="round" stroke-linejoin="round" stroke-dasharray="1.6 1.1" fill="none" opacity="0.59"/>
<path d="M669.0 429.2l0.6 0.6" stroke="#2fb43e" stroke-width="1.0" stroke-linecap="round" stroke-linejoin="round" stroke-dasharray="1.6 1.1" fill="none" opacity="0.59"/>
<path d="M658.1 485.5l0.3 0.8" stroke="#22982e" stroke-width="1.0" stroke-linecap="round" stroke-linejoin="round" stroke-dasharray="1.6 1.1" fill="none" opacity="0.77"/>
<path d="M665.1 523.1l-2.1 1.7" stroke="#1b7c28" stroke-width="0.9" stroke-linecap="round" stroke-linejoin="round" stroke-dasharray="1.6 1.1" fill="none" opacity="0.59"/>
<path d="M573.7 492.0l-2.6 1.1" stroke="#34d044" stroke-width="0.7" stroke-linecap="round" stroke-linejoin="round" stroke-dasharray="1.6 1.1" fill="none" opacity="0.38"/>
<path d="M593.7 445.6l-1.8 0.1" stroke="#34d044" stroke-width="0.7" stroke-linecap="round" stroke-linejoin="round" stroke-dasharray="1.6 1.1" fill="none" opacity="0.77"/>
<path d="M652.4 453.1l1.6 1.6" stroke="#1b7c28" stroke-width="1.1" stroke-linecap="round" stroke-linejoin="round" stroke-dasharray="1.6 1.1" fill="none" opacity="0.77"/>
</g></g>
<text x="352.20" y="573.69" font-size="17" text-anchor="middle" fill="#000" font-weight="bold" textLength="13.4" lengthAdjust="spacingAndGlyphs" >e)</text>
<path d="M436.70 571.60H444.10V559.70H447.20L440.40 552.20L433.60 559.70H436.70Z" fill="#aee296" stroke="#6cc24a" stroke-width="0.8"/>
<text x="449.30" y="565.78" font-size="10" text-anchor="start" fill="#111" font-weight="bold" textLength="114" lengthAdjust="spacingAndGlyphs" >Immune cells infiltration</text>
<line x1="382.70" y1="673.30" x2="382.70" y2="774.40" stroke="#222" stroke-width="1.3" />
<line x1="382.10" y1="773.80" x2="507.60" y2="773.80" stroke="#222" stroke-width="1.3" />
<line x1="375.80" y1="773.70" x2="382.70" y2="773.70" stroke="#222" stroke-width="1.1" />
<text x="374.40" y="777.35" font-size="10.2" text-anchor="end" fill="#222" >0</text>
<line x1="375.80" y1="752.70" x2="382.70" y2="752.70" stroke="#222" stroke-width="1.1" />
<text x="374.40" y="756.35" font-size="10.2" text-anchor="end" fill="#222" >10</text>
<line x1="375.80" y1="731.70" x2="382.70" y2="731.70" stroke="#222" stroke-width="1.1" />
<text x="374.40" y="735.35" font-size="10.2" text-anchor="end" fill="#222" >20</text>
<line x1="375.80" y1="710.70" x2="382.70" y2="710.70" stroke="#222" stroke-width="1.1" />
<text x="374.40" y="714.35" font-size="10.2" text-anchor="end" fill="#222" >30</text>
<line x1="375.80" y1="689.70" x2="382.70" y2="689.70" stroke="#222" stroke-width="1.1" />
<text x="374.40" y="693.35" font-size="10.2" text-anchor="end" fill="#222" >40</text>
<text transform="translate(338.90 737.70) rotate(-90)" x="0" y="3.54" font-size="9.9" text-anchor="middle" fill="#222" textLength="100" lengthAdjust="spacingAndGlyphs" >CD8SP (CD8+CD3+)</text>
<text transform="translate(350.20 737.00) rotate(-90)" x="0" y="3.54" font-size="9.9" text-anchor="middle" fill="#222" textLength="90" lengthAdjust="spacingAndGlyphs" >amongst CD45 (%)</text>
<path d="M387.20 773.70V745.14H397.60V773.70" fill="none" stroke="#b0bbe8" stroke-width="0.9"/>
<path d="M402.50 773.70V745.56H412.90V773.70" fill="none" stroke="#f8a4a7" stroke-width="0.9"/>
<path d="M418.10 773.70V745.35H428.50V773.70" fill="none" stroke="#b1e6b7" stroke-width="0.9"/>
<path d="M433.40 773.70V744.93H443.80V773.70" fill="none" stroke="#d3b3e2" stroke-width="0.9"/>
<path d="M448.80 773.70V745.14H459.20V773.70" fill="none" stroke="#f9cba6" stroke-width="0.9"/>
<path d="M464.20 773.70V744.93H474.60V773.70" fill="none" stroke="#9f9f9f" stroke-width="0.9"/>
<path d="M479.60 773.70V744.30H490.00V773.70" fill="none" stroke="#d9c3a5" stroke-width="0.9"/>
<path d="M495.10 773.70V725.82H505.50V773.70" fill="none" stroke="#a4a7cd" stroke-width="0.9"/>
<path d="M392.40 744.72V745.56M389.00 744.72H395.80M389.00 745.56H395.80" fill="none" stroke="#3a55c6" stroke-width="0.9"/>
<circle cx="388.80" cy="744.30" r="1.90" fill="#3a55c6"/>
<circle cx="394.20" cy="744.72" r="1.90" fill="#3a55c6"/>
<circle cx="390.60" cy="745.14" r="1.90" fill="#3a55c6"/>
<circle cx="396.00" cy="745.35" r="1.90" fill="#3a55c6"/>
<circle cx="392.40" cy="745.77" r="1.90" fill="#3a55c6"/>
<path d="M407.70 745.14V745.98M404.30 745.14H411.10M404.30 745.98H411.10" fill="none" stroke="#ee1c25" stroke-width="0.9"/>
<path d="M409.50 742.13L411.88 746.41H407.12Z" fill="#ee1c25"/>
<path d="M405.90 742.77L408.27 747.04H403.52Z" fill="#ee1c25"/>
<path d="M411.30 743.19L413.68 747.46H408.93Z" fill="#ee1c25"/>
<path d="M407.70 743.61L410.07 747.88H405.32Z" fill="#ee1c25"/>
<path d="M410.30 744.03L412.68 748.30H407.93Z" fill="#ee1c25"/>
<path d="M423.30 744.93V745.77M419.90 744.93H426.70M419.90 745.77H426.70" fill="none" stroke="#3cc14b" stroke-width="0.9"/>
<rect x="419.69" y="742.71" width="3.61" height="3.61" fill="#3cc14b"/>
<rect x="425.10" y="743.13" width="3.61" height="3.61" fill="#3cc14b"/>
<rect x="421.50" y="743.55" width="3.61" height="3.61" fill="#3cc14b"/>
<rect x="424.10" y="743.97" width="3.61" height="3.61" fill="#3cc14b"/>
<rect x="418.89" y="744.39" width="3.61" height="3.61" fill="#3cc14b"/>
<path d="M438.60 744.51V745.35M435.20 744.51H442.00M435.20 745.35H442.00" fill="none" stroke="#9241b8" stroke-width="0.9"/>
<path d="M442.20 746.47L444.58 742.19H439.83Z" fill="#9241b8"/>
<path d="M438.60 746.88L440.98 742.61H436.23Z" fill="#9241b8"/>
<path d="M441.20 747.31L443.58 743.03H438.83Z" fill="#9241b8"/>
<path d="M436.00 747.73L438.38 743.45H433.62Z" fill="#9241b8"/>
<path d="M435.00 747.94L437.38 743.66H432.62Z" fill="#9241b8"/>
<path d="M454.00 744.51V745.77M450.60 744.51H457.40M450.60 745.77H457.40" fill="none" stroke="#f27d21" stroke-width="0.9"/>
<circle cx="454.00" cy="743.67" r="1.90" fill="#f27d21"/>
<circle cx="456.60" cy="744.51" r="1.90" fill="#f27d21"/>
<circle cx="451.40" cy="745.14" r="1.90" fill="#f27d21"/>
<circle cx="450.40" cy="745.77" r="1.90" fill="#f27d21"/>
<circle cx="455.80" cy="746.40" r="1.90" fill="#f27d21"/>
<path d="M469.40 744.51V745.35M466.00 744.51H472.80M466.00 745.35H472.80" fill="none" stroke="#111111" stroke-width="0.9"/>
<circle cx="472.00" cy="744.09" r="1.90" fill="#111111"/>
<circle cx="466.80" cy="744.51" r="1.90" fill="#111111"/>
<circle cx="465.80" cy="744.93" r="1.90" fill="#111111"/>
<circle cx="471.20" cy="745.35" r="1.90" fill="#111111"/>
<circle cx="467.60" cy="745.77" r="1.90" fill="#111111"/>
<path d="M484.80 742.41V746.19M481.40 742.41H488.20M481.40 746.19H488.20" fill="none" stroke="#a26a1e" stroke-width="0.9"/>
<circle cx="482.20" cy="735.90" r="1.90" fill="#a26a1e"/>
<circle cx="481.20" cy="743.04" r="1.90" fill="#a26a1e"/>
<circle cx="486.60" cy="744.30" r="1.90" fill="#a26a1e"/>
<circle cx="483.00" cy="745.98" r="1.90" fill="#a26a1e"/>
<circle cx="488.40" cy="747.87" r="1.90" fill="#a26a1e"/>
<path d="M500.30 721.62V730.02M496.90 721.62H503.70M496.90 730.02H503.70" fill="none" stroke="#1c2384" stroke-width="0.9"/>
<circle cx="496.70" cy="711.75" r="1.90" fill="#1c2384"/>
<circle cx="502.10" cy="720.15" r="1.90" fill="#1c2384"/>
<circle cx="498.50" cy="725.82" r="1.90" fill="#1c2384"/>
<circle cx="503.90" cy="731.07" r="1.90" fill="#1c2384"/>
<circle cx="500.30" cy="735.27" r="1.90" fill="#1c2384"/>
<circle cx="502.90" cy="735.90" r="1.90" fill="#1c2384"/>
<path d="M392.10 736.30V601.60H500.30V612.70" fill="none" stroke="#9a9a9a" stroke-width="0.8"/>
<text x="442.90" y="595.53" font-size="7.9" text-anchor="middle" fill="#222" >&lt;0.0001</text>
<path d="M407.40 736.30V623.20H500.30V633.50" fill="none" stroke="#9a9a9a" stroke-width="0.8"/>
<text x="455.40" y="619.63" font-size="7.9" text-anchor="middle" fill="#222" >&lt;0.0001</text>
<path d="M422.90 736.30V640.40H500.30V650.10" fill="none" stroke="#9a9a9a" stroke-width="0.8"/>
<text x="455.40" y="636.33" font-size="7.9" text-anchor="middle" fill="#222" >&lt;0.0001</text>
<path d="M438.20 736.30V657.00H500.30V665.40" fill="none" stroke="#9a9a9a" stroke-width="0.8"/>
<text x="467.30" y="651.53" font-size="7.9" text-anchor="middle" fill="#222" >&lt;0.0001</text>
<path d="M454.00 735.00V672.20H500.30V680.30" fill="none" stroke="#9a9a9a" stroke-width="0.8"/>
<text x="474.20" y="667.63" font-size="7.9" text-anchor="middle" fill="#222" >&lt;0.0001</text>
<path d="M469.30 693.30V686.30H500.30V693.80" fill="none" stroke="#9a9a9a" stroke-width="0.8"/>
<text x="481.20" y="682.63" font-size="7.9" text-anchor="middle" fill="#222" >&lt;0.0001</text>
<path d="M484.80 731.60V703.00H502.00V707.70" fill="none" stroke="#9a9a9a" stroke-width="0.8"/>
<text x="489.00" y="701.23" font-size="7.9" text-anchor="middle" fill="#222" >&lt;0.0001</text>
<line x1="558.30" y1="679.20" x2="558.30" y2="775.80" stroke="#222" stroke-width="1.3" />
<line x1="557.70" y1="775.20" x2="680.50" y2="775.20" stroke="#222" stroke-width="1.3" />
<line x1="551.80" y1="775.10" x2="558.30" y2="775.10" stroke="#222" stroke-width="1.1" />
<text x="549.30" y="778.75" font-size="10.2" text-anchor="end" fill="#222" >0</text>
<line x1="551.80" y1="748.55" x2="558.30" y2="748.55" stroke="#222" stroke-width="1.1" />
<text x="549.30" y="752.20" font-size="10.2" text-anchor="end" fill="#222" >1</text>
<line x1="551.80" y1="722.00" x2="558.30" y2="722.00" stroke="#222" stroke-width="1.1" />
<text x="549.30" y="725.65" font-size="10.2" text-anchor="end" fill="#222" >2</text>
<line x1="551.80" y1="695.45" x2="558.30" y2="695.45" stroke="#222" stroke-width="1.1" />
<text x="549.30" y="699.10" font-size="10.2" text-anchor="end" fill="#222" >3</text>
<text transform="translate(518.80 724.20) rotate(-90)" x="0" y="3.62" font-size="10.1" text-anchor="middle" fill="#222" textLength="128" lengthAdjust="spacingAndGlyphs" >FOXP3+Tregs (CD4+CD3+)</text>
<text transform="translate(529.60 722.30) rotate(-90)" x="0" y="3.54" font-size="9.9" text-anchor="middle" fill="#222" textLength="86.7" lengthAdjust="spacingAndGlyphs" >amongst CD45 (%)</text>
<path d="M562.30 775.10V723.33H572.70V775.10" fill="none" stroke="#b0bbe8" stroke-width="0.9"/>
<path d="M576.80 775.10V727.84H587.20V775.10" fill="none" stroke="#f8a4a7" stroke-width="0.9"/>
<path d="M591.20 775.10V732.62H601.60V775.10" fill="none" stroke="#b1e6b7" stroke-width="0.9"/>
<path d="M605.70 775.10V731.29H616.10V775.10" fill="none" stroke="#d3b3e2" stroke-width="0.9"/>
<path d="M620.70 775.10V737.40H631.10V775.10" fill="none" stroke="#f9cba6" stroke-width="0.9"/>
<path d="M635.60 775.10V737.40H646.00V775.10" fill="none" stroke="#9f9f9f" stroke-width="0.9"/>
<path d="M650.40 775.10V727.31H660.80V775.10" fill="none" stroke="#d9c3a5" stroke-width="0.9"/>
<path d="M665.30 775.10V750.41H675.70V775.10" fill="none" stroke="#a4a7cd" stroke-width="0.9"/>
<path d="M567.50 722.27V724.39M564.10 722.27H570.90M564.10 724.39H570.90" fill="none" stroke="#3a55c6" stroke-width="0.9"/>
<circle cx="563.90" cy="720.67" r="1.90" fill="#3a55c6"/>
<circle cx="569.30" cy="721.47" r="1.90" fill="#3a55c6"/>
<circle cx="565.70" cy="723.06" r="1.90" fill="#3a55c6"/>
<circle cx="571.10" cy="724.65" r="1.90" fill="#3a55c6"/>
<circle cx="567.50" cy="727.31" r="1.90" fill="#3a55c6"/>
<path d="M582.00 727.04V728.64M578.60 727.04H585.40M578.60 728.64H585.40" fill="none" stroke="#ee1c25" stroke-width="0.9"/>
<path d="M583.80 722.28L586.17 726.55H581.42Z" fill="#ee1c25"/>
<path d="M580.20 724.94L582.58 729.21H577.83Z" fill="#ee1c25"/>
<path d="M585.60 725.47L587.98 729.74H583.23Z" fill="#ee1c25"/>
<path d="M582.00 726.26L584.38 730.54H579.62Z" fill="#ee1c25"/>
<path d="M584.60 727.06L586.98 731.33H582.23Z" fill="#ee1c25"/>
<path d="M596.40 731.03V734.21M593.00 731.03H599.80M593.00 734.21H599.80" fill="none" stroke="#3cc14b" stroke-width="0.9"/>
<rect x="592.80" y="726.04" width="3.61" height="3.61" fill="#3cc14b"/>
<rect x="598.20" y="726.83" width="3.61" height="3.61" fill="#3cc14b"/>
<rect x="594.60" y="730.82" width="3.61" height="3.61" fill="#3cc14b"/>
<rect x="597.20" y="733.47" width="3.61" height="3.61" fill="#3cc14b"/>
<rect x="592.00" y="734.00" width="3.61" height="3.61" fill="#3cc14b"/>
<path d="M610.90 729.43V733.15M607.50 729.43H614.30M607.50 733.15H614.30" fill="none" stroke="#9241b8" stroke-width="0.9"/>
<path d="M614.50 725.70L616.88 721.43H612.12Z" fill="#9241b8"/>
<path d="M610.90 732.34L613.27 728.07H608.52Z" fill="#9241b8"/>
<path d="M613.50 733.67L615.88 729.39H611.12Z" fill="#9241b8"/>
<path d="M608.30 735.00L610.67 730.72H605.92Z" fill="#9241b8"/>
<path d="M607.30 736.32L609.67 732.05H604.92Z" fill="#9241b8"/>
<path d="M625.90 736.60V738.20M622.50 736.60H629.30M622.50 738.20H629.30" fill="none" stroke="#f27d21" stroke-width="0.9"/>
<circle cx="625.90" cy="735.27" r="1.90" fill="#f27d21"/>
<circle cx="628.50" cy="736.60" r="1.90" fill="#f27d21"/>
<circle cx="623.30" cy="737.66" r="1.90" fill="#f27d21"/>
<circle cx="622.30" cy="738.46" r="1.90" fill="#f27d21"/>
<circle cx="627.70" cy="739.26" r="1.90" fill="#f27d21"/>
<path d="M640.80 735.81V738.99M637.40 735.81H644.20M637.40 738.99H644.20" fill="none" stroke="#111111" stroke-width="0.9"/>
<circle cx="643.40" cy="730.50" r="1.90" fill="#111111"/>
<circle cx="638.20" cy="736.34" r="1.90" fill="#111111"/>
<circle cx="637.20" cy="736.87" r="1.90" fill="#111111"/>
<circle cx="642.60" cy="737.66" r="1.90" fill="#111111"/>
<circle cx="639.00" cy="738.46" r="1.90" fill="#111111"/>
<path d="M655.60 722.00V732.62M652.20 722.00H659.00M652.20 732.62H659.00" fill="none" stroke="#a26a1e" stroke-width="0.9"/>
<circle cx="653.00" cy="714.57" r="1.90" fill="#a26a1e"/>
<circle cx="652.00" cy="714.83" r="1.90" fill="#a26a1e"/>
<circle cx="657.40" cy="733.68" r="1.90" fill="#a26a1e"/>
<circle cx="653.80" cy="733.95" r="1.90" fill="#a26a1e"/>
<circle cx="659.20" cy="739.79" r="1.90" fill="#a26a1e"/>
<path d="M670.50 749.08V751.74M667.10 749.08H673.90M667.10 751.74H673.90" fill="none" stroke="#1c2384" stroke-width="0.9"/>
<circle cx="666.90" cy="745.89" r="1.90" fill="#1c2384"/>
<circle cx="672.30" cy="748.02" r="1.90" fill="#1c2384"/>
<circle cx="668.70" cy="750.41" r="1.90" fill="#1c2384"/>
<circle cx="674.10" cy="751.74" r="1.90" fill="#1c2384"/>
<circle cx="670.50" cy="752.80" r="1.90" fill="#1c2384"/>
<path d="M567.60 695.20V608.40H670.50V620.00" fill="none" stroke="#9a9a9a" stroke-width="0.8"/>
<text x="614.00" y="603.83" font-size="7.9" text-anchor="middle" fill="#222" >&lt;0.0001</text>
<path d="M581.70 693.60V624.70H670.50V637.80" fill="none" stroke="#9a9a9a" stroke-width="0.8"/>
<text x="621.40" y="618.83" font-size="7.9" text-anchor="middle" fill="#222" >&lt;0.0001</text>
<path d="M596.20 688.40V640.40H670.50V653.60" fill="none" stroke="#9a9a9a" stroke-width="0.8"/>
<text x="630.30" y="636.73" font-size="7.9" text-anchor="middle" fill="#222" >0.0001</text>
<path d="M610.90 685.80V658.00H670.50V664.00" fill="none" stroke="#9a9a9a" stroke-width="0.8"/>
<text x="636.90" y="654.33" font-size="7.9" text-anchor="middle" fill="#222" >&lt;0.0001</text>
<path d="M626.40 677.00V670.60H670.50V677.20" fill="none" stroke="#9a9a9a" stroke-width="0.8"/>
<text x="644.30" y="666.83" font-size="7.9" text-anchor="middle" fill="#222" >0.0129</text>
<path d="M644.30 688.60V682.00H670.50V687.20" fill="none" stroke="#9a9a9a" stroke-width="0.8"/>
<text x="653.50" y="679.53" font-size="7.9" text-anchor="middle" fill="#222" >0.0088</text>
<path d="M655.60 706.80V700.20H670.50V738.30" fill="none" stroke="#9a9a9a" stroke-width="0.8"/>
<text x="658.70" y="696.53" font-size="7.9" text-anchor="middle" fill="#222" >&lt;0.0001</text>
<path d="M567.60 716.50V706.20H637.20V713.40" fill="none" stroke="#9a9a9a" stroke-width="0.8"/>
<text x="599.00" y="703.23" font-size="7.9" text-anchor="middle" fill="#222" >0.0058</text>
</svg>
</body></html>
